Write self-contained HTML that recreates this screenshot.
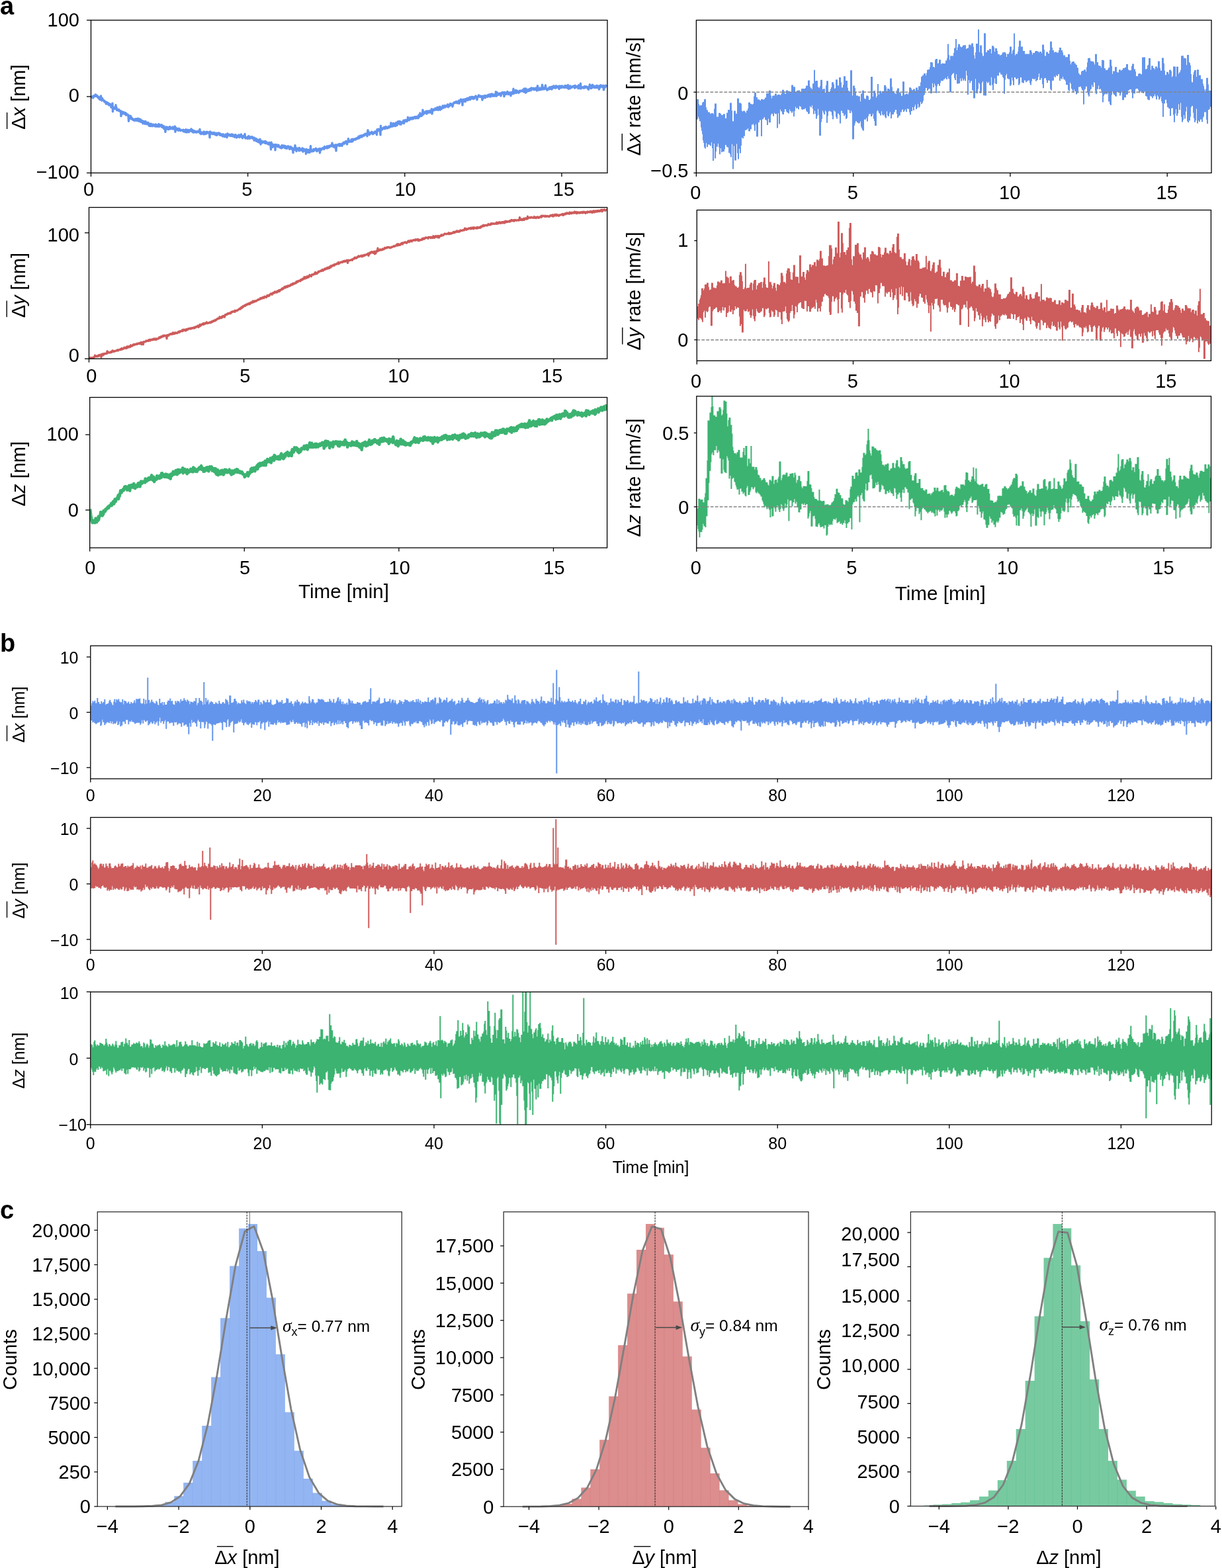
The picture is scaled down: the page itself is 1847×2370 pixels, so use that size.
<!DOCTYPE html><html><head><meta charset="utf-8"><title>Figure</title><style>html,body{margin:0;padding:0;background:#fff;}svg{display:block;}</style></head><body><svg xmlns="http://www.w3.org/2000/svg" width="1847" height="2370" viewBox="0 0 1847 2370" font-family="'Liberation Sans', Arial, Helvetica, sans-serif"><defs><clipPath id="c0"><rect x="137.5" y="30.5" width="780.5" height="230.9"/></clipPath><clipPath id="c1"><rect x="134.5" y="313.5" width="783.2" height="228.8"/></clipPath><clipPath id="c2"><rect x="135.7" y="600.6" width="781.9" height="227.4"/></clipPath><clipPath id="c3"><rect x="1052.4" y="30.5" width="778.6" height="230.9"/></clipPath><clipPath id="c4"><rect x="1053.3" y="317.5" width="777.1" height="227.8"/></clipPath><clipPath id="c5"><rect x="1052.8" y="598.9" width="777.7" height="229.3"/></clipPath><clipPath id="c6"><rect x="136.8" y="976.1" width="1694.4" height="201.0"/></clipPath><clipPath id="c7"><rect x="136.8" y="1235.5" width="1694.4" height="200.9"/></clipPath><clipPath id="c8"><rect x="136.8" y="1499.3" width="1694.4" height="200.6"/></clipPath></defs><path d="M138 145.1l0.5 1 0.5 1 0.5-0.8 0.5-0.8 0.5 2.6 0.5-1.9 0.5-1.3 0.5 1.3 0.5-0.4 0.5-1.5 0.5 1.1 0.5-0.2 0.5-2.2 0.5 2.3 0.5 0.1 0.5 0.1 0.5-1.2 0.5 1.9 0.5 0.6 0.5 0.5 0.5-1.2 0.5 2.4 0.5-1.9 0.5 1.4 0.5 2.2 0.5-2.2 0.5 0.5 0.5 2.3 0.5-5.9 0.5 4.7 0.5 1 0.5 1.4 0.5-3.6 0.5 2.1 0.5 0.1 0.5 0.3 0.5 0.6 0.5 0.4 0.5 1.7 0.5-1.1 0.5 1.5 0.5 0.7 0.5-1.1 0.5 1.4 0.5 2.1 0.5-1.3 0.5-0.9 0.5 0.9 0.5-0.7 0.5 1.7 0.5 1 0.5-1.7 0.5 1 0.5 1.9 0.5-1.6 0.5 1.1 0.5-1.1 0.5 0.6 0.5 0.7 0.5 3.6 0.5-2.8 0.5 0.2 0.5 0.3 0.5-3.7 0.5 12.3 0.5-6.6 0.5 2.6 0.5-1.9 0.5 1.8 0.5-1 0.5 0.7 0.5-2.1 0.5 1.9 0.5-5.2 0.5 5.7 0.5-2 0.5 4 0.5-1.3 0.5 0.3 0.5 0.4 0.5 0.3 0.5 1 0.5-1.7 0.5 0.6 0.5 1.8 0.5 0.1 0.5-0.3 0.5 0 0.5 0 0.5 7.9 0.5-4.8 0.5-2.4 0.5 3.4 0.5-0.5 0.5-1.2 0.5 1.8 0.5-2.4 0.5 0 0.5 0.8 0.5 1.4 0.5 0.4 0.5 0 0.5 1 0.5-2.5 0.5 3.4 0.5-2 0.5 1.1 0.5 0.6 0.5-0.7 0.5 0.1 0.5 0.7 0.5 1.5 0.5 7.8 0.5-6.5 0.5-1.5 0.5 0.6 0.5 0.2 0.5 2 0.5-2.6 0.5 4.2 0.5-1.7 0.5 0 0.5 1.7 0.5 1.2 0.5-0.6 0.5 1 0.5-0.9 0.5 1.4 0.5 0.2 0.5-1.5 0.5 2 0.5-1.5 0.5 0.1 0.5-1.1 0.5 0.9 0.5 1.4 0.5-2.4 0.5 2.6 0.5-0.3 0.5 0.1 0.5-2.9 0.5 2.7 0.5 1 0.5-1.5 0.5 1.2 0.5-2.8 0.5 3.8 0.5-1.5 0.5 2 0.5-3.1 0.5 3.2 0.5-1 0.5 1.4 0.5-1.9 0.5 0.5 0.5 3.6 0.5-3.5 0.5 0.3 0.5 0.7 0.5-0.7 0.5 2.8 0.5 0.8 0.5-2.7 0.5-1 0.5 3.6 0.5 0.1 0.5-0.1 0.5 0.6 0.5-2.2 0.5 1 0.5-1.2 0.5 0.1 0.5 3.1 0.5-1.9 0.5 3.8 0.5-2.5 0.5-0.7 0.5 1.9 0.5 1.3 0.5-1.3 0.5-1.9 0.5 2.1 0.5 1.3 0.5-2.1 0.5-0.2 0.5 2.3 0.5-1 0.5-1.4 0.5 0.9 0.5-0.3 0.5 1.3 0.5-0.2 0.5 1.2 0.5-0.5 0.5-2.7 0.5 2.4 0.5 0.6 0.5-0.6 0.5 0.8 0.5-1.9 0.5-0.4 0.5 2.3 0.5-2.3 0.5-1.3 0.5 3.9 0.5-2 0.5 0.6 0.5-1.1 0.5 0.2 0.5 0.4 0.5 1.1 0.5 1 0.5-3 0.5 3.8 0.5-2.1 0.5 0.3 0.5 2.3 0.5-0.8 0.5-1.5 0.5 4.1 0.5-3.1 0.5 1.5 0.5 0 0.5 6.4 0.5-7.1 0.5 1.7 0.5-2 0.5 2.2 0.5-2.2 0.5 0.4 0.5 2.7 0.5-1.9 0.5-0.2 0.5 2.5 0.5-2.2 0.5-1.4 0.5 1.9 0.5-2.2 0.5 2.9 0.5 0.2 0.5-2 0.5 0.1 0.5 1.1 0.5-0.1 0.5-1 0.5 2 0.5-3 0.5 2 0.5 0.2 0.5 0.2 0.5 0.9 0.5-1.8 0.5-2.3 0.5 8.2 0.5-5.1 0.5-0.8 0.5 0.3 0.5 1.9 0.5-1.6 0.5 1.3 0.5 1.3 0.5 0 0.5 0.7 0.5-2.2 0.5-0.9 0.5 2.6 0.5-0.8 0.5 1.1 0.5-1.3 0.5 1.6 0.5-0.4 0.5 0 0.5-0.2 0.5 0 0.5-0.1 0.5 0.1 0.5 1 0.5-1.6 0.5 2.7 0.5-2.1 0.5 1.4 0.5-1.2 0.5-0.1 0.5 2.8 0.5-2.8 0.5-1.1 0.5 0.7 0.5 0.5 0.5 3 0.5-2.3 0.5 0.9 0.5-2.3 0.5 1.6 0.5 0.4 0.5 1.4 0.5-3 0.5 1.5 0.5-0.3 0.5-1.5 0.5 1.2 0.5-0.3 0.5-2.4 0.5 3.6 0.5 0 0.5-1.1 0.5-1 0.5 3.5 0.5-1.4 0.5 1 0.5 0.6 0.5-2.3 0.5 1.7 0.5-1.2 0.5 0.3 0.5 0 0.5 0.2 0.5 1.4 0.5-1.1 0.5-0.2 0.5-0.1 0.5 0.8 0.5-1.4 0.5 0.6 0.5 0.6 0.5-0.5 0.5 0.6 0.5-0.5 0.5-3.5 0.5 6 0.5-1 0.5-0.6 0.5 2.8 0.5-2.2 0.5-0.5 0.5 0.5 0.5 0 0.5 1.4 0.5-1.7 0.5 2.6 0.5-3.5 0.5 2 0.5-2 0.5 3.4 0.5-2.5 0.5 0.4 0.5 1.3 0.5 0.4 0.5-2.8 0.5 0.9 0.5-1.2 0.5 1.9 0.5-0.3 0.5-0.3 0.5-0.4 0.5 0.4 0.5-0.4 0.5 1.6 0.5 6.2 0.5-9 0.5 2.2 0.5-0.3 0.5 1.2 0.5-1.6 0.5 1 0.5-0.9 0.5 2.1 0.5-0.6 0.5-0.2 0.5 0.6 0.5-0.6 0.5-1.5 0.5 2.6 0.5-0.2 0.5-0.5 0.5 1.4 0.5 0.3 0.5-2.8 0.5 0.4 0.5 2.9 0.5-0.1 0.5-2.6 0.5-0.5 0.5 0.8 0.5 0.2 0.5-1.3 0.5 2 0.5-1.5 0.5 0.2 0.5 2.7 0.5-1.8 0.5 0.8 0.5 0.9 0.5 0.4 0.5-1.3 0.5 0.6 0.5-1 0.5 3.2 0.5-1.2 0.5-2 0.5 1.4 0.5 0.9 0.5-0.2 0.5 1.7 0.5-0.5 0.5-2.3 0.5 0.6 0.5-1.4 0.5 1.8 0.5-0.2 0.5 3.1 0.5-3.2 0.5-2.6 0.5 1.7 0.5 0.9 0.5-1.6 0.5 0.4 0.5 0.6 0.5 0.9 0.5-0.6 0.5-0.8 0.5 2 0.5-1.5 0.5 0.1 0.5-1 0.5 0.8 0.5 1.8 0.5-2.6 0.5 2 0.5 1 0.5-1.2 0.5 0.8 0.5-1.5 0.5 3 0.5-0.2 0.5-1 0.5-2.3 0.5 0.9 0.5 2.4 0.5 1 0.5-1.7 0.5 1.1 0.5-2.2 0.5 0.5 0.5 0.2 0.5 0.5 0.5-2.4 0.5 3 0.5 0.5 0.5-3 0.5-0.2 0.5 2 0.5-1.2 0.5-2 0.5 3.9 0.5-0.7 0.5-0.7 0.5 3.1 0.5-2.2 0.5-1 0.5 1.1 0.5-1.2 0.5 0.4 0.5 1.5 0.5-4.9 0.5 4 0.5 2.7 0.5-0.9 0.5 0 0.5-0.3 0.5 0 0.5 1.2 0.5-1.7 0.5 2.2 0.5-3.3 0.5 0.8 0.5-1.3 0.5 1.2 0.5 1.1 0.5 1.3 0.5-2.4 0.5 1 0.5-0.3 0.5-0.3 0.5-0.4 0.5 1.6 0.5-1.9 0.5 2.4 0.5 0 0.5-0.6 0.5-0.3 0.5-0.2 0.5 4.1 0.5-3.7 0.5 3.7 0.5-1 0.5-0.9 0.5-0.8 0.5 2.9 0.5 1 0.5-3 0.5 1 0.5 1.8 0.5-0.6 0.5 2.1 0.5-2.9 0.5 1.5 0.5-2 0.5 4.1 0.5-3.2 0.5-1.7 0.5 2.7 0.5 5 0.5-2.4 0.5-2.5 0.5 0.4 0.5 0.9 0.5 1.3 0.5-1.9 0.5 1.5 0.5-0.5 0.5-0.9 0.5 0.6 0.5 0.1 0.5-1 0.5 2.7 0.5-3 0.5 3.2 0.5 0 0.5-1.1 0.5-0.6 0.5 0.8 0.5 1 0.5 0.5 0.5-0.3 0.5 1 0.5-1.6 0.5 1.1 0.5-1.9 0.5 3 0.5-0.5 0.5-0.6 0.5 2.1 0.5 6.3 0.5-10.6 0.5 3.6 0.5-1.6 0.5 3.2 0.5 1.9 0.5-3.5 0.5 0.8 0.5-0.3 0.5 0.8 0.5 0.4 0.5 0.8 0.5-2.7 0.5 8.3 0.5-8.1 0.5 1.5 0.5 1.1 0.5-0.5 0.5-1.9 0.5 0.4 0.5 0.3 0.5 0.6 0.5 1.6 0.5-2.8 0.5 2.3 0.5 0.3 0.5 0 0.5 0.1 0.5 1.4 0.5-1.2 0.5 0.6 0.5-0.2 0.5 1.5 0.5-4.3 0.5 3.9 0.5-1.8 0.5 0.1 0.5-0.8 0.5-1 0.5 1.8 0.5-0.4 0.5 1.5 0.5-2.4 0.5 3.5 0.5-1.3 0.5-0.7 0.5-0.5 0.5-0.1 0.5 3.1 0.5-2.8 0.5 0.7 0.5-0.1 0.5-1.4 0.5 1.5 0.5-0.6 0.5 1.4 0.5 2.2 0.5-1.3 0.5-0.9 0.5-1.4 0.5 0.4 0.5-0.1 0.5 3.1 0.5-1.7 0.5 1.2 0.5-0.7 0.5 1.1 0.5 5.8 0.5-6.6 0.5 0.5 0.5-0.5 0.5 2.1 0.5-2.2 0.5-4.6 0.5 4.3 0.5-0.1 0.5 2.3 0.5 2.5 0.5-4.3 0.5 2.4 0.5-0.9 0.5-1.6 0.5 1 0.5 0.1 0.5-0.5 0.5 3.2 0.5-4.6 0.5 2.8 0.5 0 0.5-1 0.5 1 0.5 0.9 0.5-0.8 0.5 0.4 0.5 0.4 0.5-3.2 0.5 4.3 0.5 1.1 0.5-1.5 0.5 0.1 0.5-2.7 0.5 1.6 0.5-0.7 0.5 0.4 0.5 2 0.5-2 0.5 6 0.5-7.1 0.5 2.2 0.5 0.4 0.5-0.9 0.5 0 0.5 3.2 0.5-3.8 0.5 0.2 0.5 0.3 0.5 2.4 0.5 1 0.5-2.2 0.5-1.4 0.5-6.1 0.5 8 0.5-2.5 0.5 2.7 0.5-0.1 0.5-1.7 0.5 0.5 0.5 0.1 0.5 0.9 0.5-3.2 0.5 2.6 0.5-1.9 0.5-0.5 0.5 1 0.5-0.5 0.5-0.9 0.5-0.8 0.5 0.8 0.5 2.9 0.5 0.6 0.5-1.6 0.5 0.7 0.5-2.1 0.5 0.5 0.5 0.4 0.5-1.7 0.5 0.1 0.5 1.2 0.5 4.9 0.5-6.5 0.5 1.6 0.5-0.9 0.5 1.4 0.5-1.5 0.5-0.5 0.5 0.3 0.5-0.5 0.5-0.9 0.5 0.2 0.5 1.2 0.5-0.2 0.5 0.6 0.5-3.8 0.5 1.4 0.5-0.2 0.5 0.5 0.5-0.9 0.5-0.2 0.5 1.5 0.5-0.9 0.5-1.8 0.5 2.9 0.5-0.6 0.5-2.1 0.5 1.6 0.5-2.1 0.5 2.1 0.5-1.8 0.5-0.8 0.5 0.4 0.5-0.5 0.5 1 0.5-0.1 0.5-0.2 0.5-0.8 0.5-3.7 0.5 4.5 0.5-2.4 0.5 2.5 0.5 1 0.5-1.1 0.5-0.8 0.5 0.1 0.5-0.1 0.5 3.3 0.5-4 0.5-0.6 0.5 9.3 0.5-8.5 0.5 1.1 0.5-1.6 0.5 0.3 0.5-0.4 0.5 0.6 0.5 0.4 0.5-0.8 0.5-1.2 0.5-0.2 0.5 2.8 0.5-2.4 0.5-0.2 0.5 2.1 0.5-0.6 0.5-0.8 0.5-1.2 0.5 3.1 0.5-2.5 0.5 0.1 0.5-1 0.5-1.7 0.5 0 0.5 1.9 0.5-0.2 0.5-1 0.5-1.4 0.5-0.5 0.5 1 0.5-1.6 0.5 2.6 0.5 0.1 0.5 1.8 0.5-2.6 0.5-2 0.5-0.5 0.5-3.3 0.5 3.2 0.5 0.3 0.5 1.2 0.5-0.6 0.5-0.2 0.5-0.6 0.5 0.4 0.5 0.8 0.5-3.2 0.5 0.6 0.5-1.2 0.5 3.5 0.5-0.6 0.5-0.7 0.5-2.5 0.5 1.4 0.5-0.6 0.5 0.2 0.5-0.6 0.5 0.6 0.5-1.3 0.5 1.2 0.5-0.9 0.5-0.9 0.5-0.1 0.5-0.6 0.5 1.3 0.5-1.5 0.5 0.5 0.5-1.1 0.5-1.4 0.5 2.7 0.5-2.6 0.5 2 0.5-0.5 0.5-2.7 0.5 0.7 0.5 0.3 0.5-0.6 0.5-0.7 0.5 2.1 0.5-1.4 0.5 0.4 0.5-1.3 0.5 0.7 0.5-1.6 0.5 0.6 0.5 0.5 0.5-0.8 0.5-0.8 0.5-1 0.5 1.3 0.5 0.1 0.5-0.9 0.5-0.7 0.5 1.4 0.5 2.3 0.5-3.5 0.5-5.6 0.5 6.2 0.5-3.6 0.5 3.1 0.5-1.1 0.5 2.4 0.5-2.1 0.5-0.8 0.5 0.5 0.5 0.4 0.5-1.1 0.5 0.4 0.5-1.7 0.5 1.2 0.5 1 0.5 1.2 0.5-1.8 0.5-0.7 0.5 0.9 0.5-0.4 0.5 0.6 0.5-0.9 0.5-1.6 0.5 0.3 0.5-0.2 0.5 0 0.5-0.2 0.5 5 0.5-8.1 0.5 1.6 0.5-1.8 0.5 2.3 0.5-0.3 0.5-2.2 0.5 2.6 0.5 0 0.5-1.2 0.5 1.6 0.5 5.7 0.5-13.8 0.5 6.7 0.5-1 0.5-0.2 0.5 0.4 0.5-2.1 0.5 0 0.5-0.4 0.5 0 0.5 0.6 0.5-1.7 0.5 0.4 0.5 1.9 0.5-0.9 0.5 0.4 0.5-2.8 0.5 1.2 0.5 0.1 0.5 0.5 0.5-0.9 0.5 1.6 0.5-1.4 0.5-0.1 0.5-0.3 0.5 0.7 0.5-1.7 0.5 1.7 0.5-1.1 0.5-0.6 0.5-0.3 0.5 0.4 0.5-5.6 0.5 5.7 0.5-0.9 0.5 0.4 0.5-1.1 0.5 1.2 0.5-1.8 0.5-2.6 0.5 3.9 0.5-1.6 0.5-1.7 0.5 1 0.5-1.1 0.5 3.5 0.5-2.1 0.5-2.7 0.5 2.4 0.5-1.3 0.5 2.6 0.5-3.7 0.5-1.6 0.5 2.6 0.5-0.7 0.5-0.2 0.5-2.3 0.5 2.9 0.5 1.4 0.5-4.4 0.5 3.5 0.5-2.2 0.5 3.4 0.5-2.4 0.5-0.9 0.5 1.4 0.5-0.8 0.5-1.4 0.5 1.4 0.5-1.6 0.5-1.7 0.5 4.5 0.5-3.1 0.5-0.5 0.5 0.9 0.5-2.4 0.5 0 0.5 0.8 0.5-0.3 0.5 0.5 0.5 1 0.5-2.2 0.5 0.9 0.5-5 0.5 2.6 0.5 1.3 0.5-1.6 0.5 2.1 0.5-0.9 0.5-0.8 0.5-1.8 0.5 1.5 0.5-1.2 0.5 1.6 0.5-1.2 0.5-0.9 0.5 1.9 0.5-0.4 0.5-1.7 0.5 2 0.5-1.9 0.5-0.2 0.5 0.4 0.5-1.3 0.5 0.2 0.5 0.2 0.5 1.8 0.5-0.1 0.5-2.3 0.5 2 0.5-2.1 0.5 0.3 0.5 0.5 0.5-0.9 0.5 2.4 0.5-2.8 0.5-1.9 0.5 2.8 0.5-2.3 0.5-0.1 0.5-3.5 0.5 4.6 0.5-0.5 0.5-0.4 0.5-0.1 0.5 0.6 0.5-2.4 0.5 0.8 0.5-7.4 0.5 5.3 0.5 1.4 0.5-1.1 0.5-2.3 0.5 1.8 0.5-0.8 0.5-0.9 0.5 1.3 0.5-1.1 0.5-1.5 0.5 0.4 0.5 3.4 0.5-4 0.5 2 0.5 0.4 0.5-0.1 0.5-2.3 0.5 1 0.5 0.4 0.5 0.7 0.5-1.9 0.5-0.8 0.5 2.4 0.5-0.1 0.5-1 0.5-1.4 0.5-2.5 0.5 7.2 0.5-3.6 0.5-2.7 0.5 1.4 0.5-0.6 0.5-1.3 0.5 1.4 0.5-0.4 0.5-0.7 0.5 0.7 0.5-2.4 0.5 1.4 0.5 0.4 0.5-0.4 0.5 0.7 0.5-2.9 0.5-0.6 0.5 1.9 0.5 0.1 0.5 1.8 0.5-1.9 0.5-2 0.5 1.9 0.5-2.2 0.5-0.8 0.5 4.8 0.5-2.9 0.5 0.3 0.5-0.3 0.5 1.3 0.5-2 0.5 0.9 0.5-2.9 0.5-0.6 0.5 3.2 0.5-0.2 0.5-1.3 0.5-0.6 0.5-0.2 0.5-1.2 0.5 2.5 0.5-1.3 0.5-0.3 0.5-0.3 0.5 0.7 0.5-0.7 0.5 0.2 0.5-2.4 0.5 2 0.5 1.9 0.5-3.3 0.5 0.4 0.5 1.1 0.5 0 0.5-0.5 0.5-2.8 0.5 2.4 0.5-2.2 0.5 0.3 0.5 1.5 0.5-1.3 0.5 1.1 0.5 2.6 0.5-3.1 0.5-0.3 0.5-2.1 0.5 0 0.5-0.7 0.5 0.5 0.5-0.9 0.5 0.4 0.5 0.4 0.5-1.1 0.5-0.7 0.5 0 0.5 2 0.5-0.6 0.5 1 0.5-0.1 0.5-1.9 0.5 1 0.5-2.8 0.5 4.3 0.5-1.5 0.5-1.9 0.5-1.4 0.5 1.6 0.5-2.9 0.5 1.1 0.5 1.7 0.5-1 0.5-0.8 0.5 7.7 0.5-8.6 0.5 1.6 0.5-1 0.5-0.5 0.5 1.5 0.5-1.8 0.5 3.4 0.5-3 0.5 3 0.5-3.8 0.5 1.9 0.5-2.3 0.5-0.4 0.5 1.6 0.5 0.5 0.5-2.6 0.5 2.7 0.5-2.6 0.5 1 0.5 0.1 0.5 0.2 0.5-3 0.5 3.9 0.5-1.4 0.5-1.3 0.5-0.8 0.5-0.9 0.5 0.2 0.5 2.2 0.5-1.2 0.5-1.1 0.5 0.6 0.5 2.4 0.5-2.3 0.5-0.5 0.5 2.2 0.5-1.1 0.5-0.6 0.5-0.9 0.5-1.2 0.5 0.4 0.5 0.7 0.5 0.3 0.5 4.2 0.5-3.4 0.5-0.5 0.5 0 0.5-1.5 0.5-1.4 0.5 1.9 0.5-0.5 0.5 0.4 0.5 0.5 0.5-1.2 0.5 0.2 0.5 1.2 0.5 0.3 0.5-1 0.5 1.4 0.5 4 0.5-6 0.5 1.2 0.5 2.1 0.5-3.2 0.5 2.1 0.5 0.1 0.5 0 0.5-2.9 0.5 3.3 0.5-2.4 0.5-0.5 0.5-0.1 0.5 0.9 0.5-0.8 0.5-0.3 0.5 1.7 0.5-2.5 0.5-0.4 0.5 2.1 0.5-0.2 0.5 0.4 0.5-2.7 0.5 2.5 0.5-0.8 0.5 1.4 0.5-3.6 0.5 1.7 0.5-0.6 0.5-1.6 0.5 1 0.5 2.2 0.5-1.9 0.5-0.3 0.5 1.9 0.5 0.1 0.5 0 0.5-2.1 0.5 0.8 0.5 1.3 0.5-2.2 0.5-4 0.5 5.7 0.5 0.7 0.5-3.4 0.5-1.8 0.5 1.3 0.5 0.4 0.5 0.9 0.5 0.8 0.5-1.1 0.5-0.7 0.5 0.9 0.5-1.5 0.5 1 0.5-0.8 0.5 3.8 0.5-2.3 0.5-2.1 0.5-0.3 0.5 0.6 0.5-1.5 0.5 1 0.5 0 0.5 1.9 0.5-1.6 0.5 5.2 0.5-6.4 0.5 0.2 0.5 1.3 0.5-0.2 0.5 1.6 0.5-2.1 0.5 2 0.5-1 0.5-0.3 0.5-2.5 0.5 0.9 0.5 2.4 0.5 0.8 0.5-1.5 0.5 0.7 0.5-1.5 0.5 0 0.5-0.5 0.5 1.9 0.5 3.1 0.5-4.7 0.5-0.2 0.5 0.9 0.5-0.4 0.5-1.4 0.5 2.9 0.5-1.8 0.5-5.8 0.5 7 0.5-0.6 0.5-1.4 0.5 0.7 0.5-2 0.5 0.4 0.5-2 0.5 4.1 0.5-3.8 0.5 3 0.5-1.9 0.5-0.3 0.5 0.8 0.5 0.5 0.5 0.3 0.5 1.3 0.5-1.8 0.5 0.5 0.5-1.9 0.5 1.5 0.5-0.8 0.5-0.8 0.5 0.3 0.5 0 0.5 0.2 0.5 0.2 0.5-1.1 0.5-0.4 0.5 1.8 0.5-3 0.5 1.3 0.5 2.6 0.5-5.1 0.5 2.4 0.5 1.7 0.5-2.9 0.5 5.1 0.5-6.2 0.5 4.8 0.5 0.1 0.5-0.8 0.5-1.4 0.5 0.6 0.5-1.6 0.5 1.9 0.5-2.5 0.5 0.9 0.5 1.3 0.5-2.7 0.5 0.7 0.5 0.4 0.5-2 0.5 2.9 0.5-1.1 0.5-2.5 0.5 1.7 0.5-1 0.5 0 0.5 0.8 0.5-0.9 0.5 2 0.5-2.1 0.5 2.1 0.5-1.2 0.5 1.1 0.5-1.7 0.5 0.1 0.5-0.8 0.5 2.1 0.5 0.4 0.5 1.4 0.5-1 0.5-6.4 0.5 4.5 0.5 0.7 0.5-0.5 0.5 1.7 0.5-0.7 0.5-2.2 0.5 0.1 0.5 2.4 0.5-1.3 0.5-0.7 0.5 1.7 0.5-1.9 0.5 0.1 0.5-5.4 0.5 3.4 0.5 3.4 0.5-2.4 0.5 0.7 0.5-0.1 0.5 1.7 0.5-0.9 0.5 0.1 0.5-2 0.5-3.1 0.5 3.4 0.5 2.1 0.5 0.1 0.5-0.5 0.5 2.4 0.5-1.8 0.5 0 0.5-0.6 0.5-0.5 0.5 1.3 0.5 0.1 0.5-3 0.5 2.7 0.5-0.8 0.5 0.5 0.5-0.7 0.5-2.2 0.5 0.1 0.5 3.5 0.5-2 0.5-2 0.5 2.1 0.5-0.9 0.5-1.8 0.5-0.6 0.5 0.8 0.5 2.2 0.5-0.4 0.5-0.3 0.5 0.6 0.5 0.4 0.5-3.3 0.5 2.1 0.5-0.7 0.5-0.5 0.5 0.8 0.5 0.5 0.5-0.2 0.5-1.4 0.5 1.1 0.5 3 0.5-3.7 0.5-0.8 0.5 2.3 0.5 0.3 0.5-0.3 0.5-2 0.5 2.4 0.5-2.3 0.5-0.5 0.5 0.6 0.5 0.6 0.5 0.9 0.5-0.2 0.5-0.8 0.5 1.2 0.5-1 0.5 1 0.5-2.7 0.5-0.1 0.5 2.9 0.5-2.6 0.5 1.4 0.5 0.3 0.5-0.4 0.5 0 0.5 2.3 0.5-4.8 0.5 4.1 0.5 1.7 0.5-2.7 0.5-0.1 0.5 0.9 0.5 1.3 0.5-3.7 0.5 1.6 0.5-0.4 0.5 0.9 0.5-0.5 0.5 0.6 0.5-1.3 0.5 0.5 0.5-0.9 0.5 0 0.5 0.5 0.5 0 0.5-1.3 0.5 3.3 0.5-2.1 0.5-1.5 0.5 3 0.5-2.2 0.5 1.5 0.5-0.6 0.5 0.4 0.5-0.1 0.5-0.9 0.5 0.8 0.5 2.4 0.5-5 0.5 2.7 0.5 0.4 0.5-1.8 0.5-0.4 0.5 4.2 0.5-7.7 0.5 7.6 0.5-1.9 0.5-0.6 0.5 0.5 0.5 0.3 0.5 0.7 0.5-0.8 0.5-0.3 0.5 0.1 0.5 1.5 0.5-0.5 0.5-2.1 0.5 0.5 0.5 1.3 0.5-1.1 0.5 0.3 0.5-0.8 0.5 0.8 0.5 0.8 0.5 0.6 0.5-1.3 0.5 2.4 0.5-2.6 0.5 3.8 0.5-2.8 0.5-0.6 0.5-1.3 0.5-2.8 0.5 3.1 0.5 0.4 0.5 2.1 0.5-3.9 0.5 3.9 0.5-2.5 0.5 1.2 0.5-4 0.5 3.3 0.5-0.6 0.5 1.3 0.5-0.7 0.5-1.5 0.5 2.5 0.5-0.3 0.5-0.2 0.5 0.5 0.5 0.1 0.5-1.4 0.5-1.7 0.5-0.1 0.5 3.3 0.5-0.9 0.5-0.8 0.5-0.6 0.5 0.4 0.5-0.1 0.5 4.4 0.5-5.4 0.5 3.4 0.5-2.3 0.5-1.1 0.5-0.8 0.5 0.7 0.5 1.7 0.5 0.1 0.5-1.1 0.5 0.4 0.5-0.4 0.5-0.9 0.5 3 0.5 3.6 0.5-2.1 0.5-3.9 0.5 0.8 0.5 1.3 0.5-1.4 0.5-1.4 0.5 0.5 0.5 1.2 0.5 0.2" fill="none" stroke="#6495ed" stroke-width="3.4" stroke-linejoin="round" clip-path="url(#c0)" />
<path d="M135 541.5l0.5-0.1 0.5-0.5 0.5 0.5 0.5-0.6 0.5-0.2 0.5 1.4 0.5-0.7 0.5 0.1 0.5-0.8 0.5 0.4 0.5-0.3 0.5 0.1 0.5 0.5 0.5-1.7 0.5 0.1 0.5-0.4 0.5-2.2 0.5 1.1 0.5 0.6 0.5 0.2 0.5-0.9 0.5 0.9 0.5 0 0.5-1.2 0.5 0.9 0.5 0.1 0.5-0.9 0.5-1.1 0.5 1.3 0.5-1.1 0.5-0.3 0.5 0.1 0.5-0.6 0.5 0.8 0.5-0.4 0.5 3.5 0.5-3.9 0.5-1 0.5 0.2 0.5 0.5 0.5-0.9 0.5 1.9 0.5-2.1 0.5-0.3 0.5 0.9 0.5-0.3 0.5-0.6 0.5-0.2 0.5 0.3 0.5 0.1 0.5-0.1 0.5-0.8 0.5 0.3 0.5-3.2 0.5 3.1 0.5-2.4 0.5 1.2 0.5-0.1 0.5 0.1 0.5 0.1 0.5 0.3 0.5-0.4 0.5-0.6 0.5-0.1 0.5 0.8 0.5-1.6 0.5 0.4 0.5 0.6 0.5-0.8 0.5-1.6 0.5 1.3 0.5-0.5 0.5 0.1 0.5 0.6 0.5-0.5 0.5-0.4 0.5 0.6 0.5-0.4 0.5-0.3 0.5 0 0.5-0.1 0.5-0.5 0.5-0.2 0.5 0.1 0.5-0.7 0.5-0.3 0.5 1.4 0.5-1.1 0.5 0 0.5-0.2 0.5-0.1 0.5-0.2 0.5-0.1 0.5-0.7 0.5 0.9 0.5-1.1 0.5 0.9 0.5-1.9 0.5 0.3 0.5 1.1 0.5-0.8 0.5-0.5 0.5 0.5 0.5-1 0.5 0.5 0.5-1.5 0.5 0.9 0.5-0.2 0.5 0.5 0.5 0.1 0.5-1.2 0.5 1.3 0.5-1.5 0.5-1.1 0.5-0.3 0.5 2.1 0.5-1.1 0.5-0.5 0.5-0.3 0.5-0.3 0.5 1.2 0.5-1 0.5 0.9 0.5-1.4 0.5-1.5 0.5 1.7 0.5-1 0.5-0.1 0.5 0.8 0.5-1.3 0.5 0.6 0.5-0.9 0.5-0.7 0.5 0.5 0.5-0.8 0.5 0.9 0.5-0.4 0.5-0.6 0.5 0.2 0.5-0.1 0.5-0.6 0.5 0.6 0.5-0.7 0.5 0.5 0.5-1.1 0.5 0.6 0.5 0.1 0.5-0.8 0.5 0.1 0.5-0.2 0.5 0.6 0.5-1 0.5 0.5 0.5 0.4 0.5-0.8 0.5-1.4 0.5 0.8 0.5 2.5 0.5-3.1 0.5 0.7 0.5-0.5 0.5-0.3 0.5 3.2 0.5-4 0.5 0 0.5 0.1 0.5 0.1 0.5-0.2 0.5-0.5 0.5 0.1 0.5 0.1 0.5-1.4 0.5 0.4 0.5-0.2 0.5 0.3 0.5-0.2 0.5-0.2 0.5-0.5 0.5 0.8 0.5-0.4 0.5-1.4 0.5 0.8 0.5-0.8 0.5 1.5 0.5-1.5 0.5-0.1 0.5 0.1 0.5-0.3 0.5-0.1 0.5 0.8 0.5-0.9 0.5 0.3 0.5 0.1 0.5-1.3 0.5 1.5 0.5-0.6 0.5 0.2 0.5-1.2 0.5 1 0.5-0.3 0.5-0.7 0.5 1.6 0.5-1.1 0.5-0.6 0.5 0.1 0.5 0.2 0.5 0 0.5-0.6 0.5 0.2 0.5-0.1 0.5-1.8 0.5 0.2 0.5-0.5 0.5 0.3 0.5 0.6 0.5-0.7 0.5-1.2 0.5 0.3 0.5 0.6 0.5-1.2 0.5 0.1 0.5 0.1 0.5-1.4 0.5 1.4 0.5-0.4 0.5 0.1 0.5-1.1 0.5 0.1 0.5 0 0.5 0.5 0.5-0.2 0.5-0.1 0.5 0.9 0.5 3.5 0.5-5.3 0.5 0 0.5 1.3 0.5-1.4 0.5 0.8 0.5-0.1 0.5-1.4 0.5-0.1 0.5 0 0.5-0.7 0.5-0.3 0.5 0.2 0.5 0.6 0.5-0.9 0.5 0 0.5-0.3 0.5-0.6 0.5 1.6 0.5-2.4 0.5 1 0.5 0.6 0.5-1.3 0.5 1.2 0.5 0.2 0.5-1.3 0.5 0.5 0.5-0.9 0.5 0.8 0.5-0.4 0.5-0.1 0.5 0.5 0.5-0.7 0.5 0.4 0.5-0.6 0.5-1.2 0.5 0.6 0.5 0 0.5-1.3 0.5 1.5 0.5-0.9 0.5-0.1 0.5-0.9 0.5 0.4 0.5-0.1 0.5-0.5 0.5 0.1 0.5-1.5 0.5 1.9 0.5-1.7 0.5-0.8 0.5 0.6 0.5-0.1 0.5 0.7 0.5-1 0.5 0.6 0.5-0.9 0.5 1.8 0.5-1.1 0.5 0.7 0.5-1.9 0.5 0.9 0.5-1 0.5 0.8 0.5-0.1 0.5-1.4 0.5 0.2 0.5-0.2 0.5-0.3 0.5 0.4 0.5-0.3 0.5-0.4 0.5 0.8 0.5 0.1 0.5-1.3 0.5 0.3 0.5 0.1 0.5-0.3 0.5-0.5 0.5 0.7 0.5-0.2 0.5-0.2 0.5-0.7 0.5 1.1 0.5-0.3 0.5-1.4 0.5 0 0.5 0.7 0.5-1.3 0.5 0.6 0.5-0.3 0.5-0.6 0.5 0.2 0.5-1 0.5 0.5 0.5-1 0.5 2.4 0.5-0.7 0.5-0.3 0.5-0.8 0.5-2.3 0.5 2.3 0.5-0.3 0.5-0.4 0.5-1.4 0.5 0.6 0.5-0.9 0.5-0.6 0.5-0.2 0.5 0.6 0.5 0.2 0.5-1.7 0.5 1.7 0.5-0.4 0.5-1.3 0.5-0.2 0.5 0.1 0.5 0.6 0.5-1 0.5-0.5 0.5 0.8 0.5-1.5 0.5 1.2 0.5 0.6 0.5-0.6 0.5 0.2 0.5-0.2 0.5 0 0.5-0.4 0.5-0.7 0.5 0.2 0.5-0.1 0.5 0.7 0.5 0 0.5-0.9 0.5-0.9 0.5-0.3 0.5 0.2 0.5 0.7 0.5-0.9 0.5-0.4 0.5-0.7 0.5 0.7 0.5-0.6 0.5-0.4 0.5-0.2 0.5 0.7 0.5-1.4 0.5 0.8 0.5-0.4 0.5-1 0.5 0.2 0.5-0.8 0.5-0.7 0.5 0.1 0.5-0.5 0.5 0.6 0.5-0.4 0.5 0.1 0.5 0 0.5-2.6 0.5 1.9 0.5-1.4 0.5 1 0.5-0.8 0.5 0.4 0.5 0.5 0.5-2.1 0.5 0.9 0.5-0.4 0.5-1.3 0.5 1.2 0.5-0.6 0.5-0.6 0.5-0.4 0.5 2.1 0.5-2.5 0.5-1.2 0.5 0.2 0.5 0.1 0.5-0.4 0.5 0 0.5-0.9 0.5 0.7 0.5-0.9 0.5-0.8 0.5 0.1 0.5 0 0.5 0.5 0.5-0.5 0.5-0.7 0.5 0 0.5-0.1 0.5 0.9 0.5-1.9 0.5 0.5 0.5-0.1 0.5-1.2 0.5 0.4 0.5-0.2 0.5-0.6 0.5 0.5 0.5 0 0.5-0.1 0.5-0.9 0.5 0 0.5 1.2 0.5-2.2 0.5 0.6 0.5 0.3 0.5-0.6 0.5 0.1 0.5-0.5 0.5 0.2 0.5 0.1 0.5-1.1 0.5 0 0.5-0.4 0.5-0.6 0.5 0 0.5-1 0.5 0.7 0.5 0.3 0.5-0.4 0.5-0.6 0.5-1.7 0.5 1.1 0.5-1.6 0.5 0.1 0.5 0.8 0.5-2.1 0.5 0.9 0.5-0.6 0.5-0.6 0.5-0.7 0.5 0.6 0.5-0.8 0.5 0.7 0.5-0.1 0.5-1.8 0.5 0.3 0.5-0.1 0.5-0.7 0.5-0.2 0.5 0.6 0.5-0.4 0.5-1.1 0.5 0.4 0.5 0.4 0.5-1.2 0.5-0.1 0.5 1.3 0.5-0.4 0.5-2 0.5-0.1 0.5 0.8 0.5-1.2 0.5 0.4 0.5-0.4 0.5 0.5 0.5-2.1 0.5 0 0.5 0.4 0.5 1.1 0.5-0.8 0.5-1.1 0.5 1.1 0.5-0.1 0.5-0.8 0.5-0.3 0.5 0.3 0.5 0.2 0.5-0.8 0.5-0.1 0.5-0.6 0.5-0.4 0.5-0.6 0.5 0.5 0.5-0.6 0.5-0.2 0.5 0.4 0.5-0.4 0.5-0.1 0.5-1.7 0.5 1.1 0.5-0.9 0.5-0.3 0.5-0.3 0.5 1 0.5-0.4 0.5-1.1 0.5-0.4 0.5 0.6 0.5-0.5 0.5 1.1 0.5-2.1 0.5-0.3 0.5 0.7 0.5 0 0.5-0.1 0.5 0.2 0.5 0.6 0.5-1.7 0.5-0.3 0.5-1 0.5 1 0.5 0.2 0.5-0.9 0.5 0.6 0.5-1 0.5 0.7 0.5-1 0.5-1.1 0.5 0 0.5-0.8 0.5-0.4 0.5 1 0.5 0.1 0.5 0.3 0.5-1.4 0.5-0.4 0.5-0.8 0.5 1 0.5-0.6 0.5-0.8 0.5 0.6 0.5-0.3 0.5-1.7 0.5 1.4 0.5-0.5 0.5-0.5 0.5-0.2 0.5 1.1 0.5-0.2 0.5-0.1 0.5-2 0.5 0.1 0.5 0.8 0.5-1.5 0.5 0.1 0.5-0.9 0.5 1.9 0.5-0.7 0.5-0.7 0.5-0.5 0.5-0.6 0.5-0.4 0.5 0.3 0.5-1.2 0.5 0.9 0.5-1.4 0.5-0.5 0.5 1 0.5-1.1 0.5 0.2 0.5-0.8 0.5-1.3 0.5 1.4 0.5-1.3 0.5 1.3 0.5-1.7 0.5-0.4 0.5 1.2 0.5-0.1 0.5-0.4 0.5-1 0.5 1 0.5-1.6 0.5 0.4 0.5-0.4 0.5 0 0.5 0.5 0.5-1.1 0.5 0.5 0.5-0.1 0.5-1.7 0.5 0.1 0.5 0.3 0.5-0.4 0.5 0.3 0.5-1.6 0.5 1.4 0.5-0.3 0.5-0.8 0.5-0.9 0.5 0.5 0.5-0.6 0.5 0.5 0.5-0.7 0.5 0.2 0.5-0.9 0.5 0.8 0.5-2.4 0.5 0.5 0.5 0.6 0.5-1.5 0.5 1.1 0.5-1.4 0.5 0.5 0.5-0.9 0.5 0.1 0.5 0 0.5-0.4 0.5-0.4 0.5 1.2 0.5-1.5 0.5-0.9 0.5 0.8 0.5-0.3 0.5 0 0.5 0 0.5-1.9 0.5 0.9 0.5-0.1 0.5-0.9 0.5-0.1 0.5-2.2 0.5 1.2 0.5 1.3 0.5-2.3 0.5 0.5 0.5 0.4 0.5 0 0.5 0.4 0.5-2.3 0.5 0.9 0.5 0.3 0.5-1.5 0.5 0.5 0.5 0.9 0.5-0.6 0.5-0.7 0.5-2.1 0.5 1.2 0.5 0.1 0.5-0.6 0.5-0.1 0.5 1.6 0.5-2.1 0.5-0.7 0.5 0.6 0.5-0.5 0.5-0.2 0.5-0.1 0.5 0.4 0.5-0.5 0.5-1.1 0.5 0.5 0.5 0.1 0.5-2.7 0.5 2.7 0.5-0.5 0.5-1.3 0.5 0.5 0.5 0.7 0.5-0.5 0.5-1.3 0.5 0.3 0.5-1.2 0.5-0.8 0.5 0.9 0.5-0.4 0.5-0.1 0.5-0.5 0.5-0.1 0.5-0.7 0.5 0.4 0.5 0.1 0.5-0.7 0.5 0.3 0.5-1.7 0.5 0.4 0.5 1.2 0.5 0 0.5-1.1 0.5-0.4 0.5-0.9 0.5 0.8 0.5 0 0.5-1.6 0.5 1 0.5-0.3 0.5-0.2 0.5-1.2 0.5 0.8 0.5-1.4 0.5 1.5 0.5-1 0.5-1 0.5 1.3 0.5-0.4 0.5-1.3 0.5 1.5 0.5-2.1 0.5 0.6 0.5 0.3 0.5-2.3 0.5 1.7 0.5-0.9 0.5-0.2 0.5-0.9 0.5 0.6 0.5-1.1 0.5-0.2 0.5 0.1 0.5-0.8 0.5 1.4 0.5-2 0.5 0 0.5 0.1 0.5-0.1 0.5 0.3 0.5-0.2 0.5-0.9 0.5-0.3 0.5 0.1 0.5 0.3 0.5-0.3 0.5-0.9 0.5-1.1 0.5 2.4 0.5-0.8 0.5-0.6 0.5 0 0.5-0.7 0.5-0.4 0.5 0.3 0.5 0 0.5-0.4 0.5-0.6 0.5 0.6 0.5 0.3 0.5-0.8 0.5 0.2 0.5-1.4 0.5 0.9 0.5-0.1 0.5-0.7 0.5-0.5 0.5 1.1 0.5-0.9 0.5 0.6 0.5-0.7 0.5 0.5 0.5-0.7 0.5-0.9 0.5 0.8 0.5 3.5 0.5-3.4 0.5-0.8 0.5-0.1 0.5 0.7 0.5 0 0.5-0.3 0.5 0 0.5-0.5 0.5 0.1 0.5-0.1 0.5-0.4 0.5-0.4 0.5-0.1 0.5 1.2 0.5-1.7 0.5-0.3 0.5-0.2 0.5 0 0.5 0 0.5-1 0.5-0.8 0.5 1.2 0.5-1.4 0.5 0.9 0.5-0.3 0.5 0.4 0.5 0 0.5-1 0.5-0.7 0.5-0.6 0.5 0 0.5 0.3 0.5-1.4 0.5 1.1 0.5-0.3 0.5 0.3 0.5-0.6 0.5 0.1 0.5-0.5 0.5 0.1 0.5-0.9 0.5 1 0.5 0.8 0.5-1 0.5 0 0.5-0.9 0.5 1.3 0.5-1.5 0.5 0.8 0.5-0.6 0.5-0.8 0.5 1 0.5-0.9 0.5-0.1 0.5 0 0.5-0.4 0.5-0.4 0.5 0.4 0.5-0.7 0.5 0.1 0.5-0.6 0.5-0.7 0.5 3.5 0.5-3.2 0.5 0.1 0.5 0.6 0.5-1.9 0.5 0.9 0.5-1.6 0.5 0.5 0.5 0.1 0.5-1.2 0.5 0 0.5 1.1 0.5-0.2 0.5-0.3 0.5-0.6 0.5 1.7 0.5-1.5 0.5-0.6 0.5 1.4 0.5 2.2 0.5-3.7 0.5 0.8 0.5 2 0.5-2.6 0.5-0.4 0.5-1 0.5 1 0.5-0.7 0.5-4.1 0.5 3.2 0.5 0.8 0.5-1 0.5 0.1 0.5 0.2 0.5-0.5 0.5-1.2 0.5 1.2 0.5 0 0.5-0.3 0.5 0.3 0.5-0.9 0.5 0 0.5 0.3 0.5-1.3 0.5 1 0.5-0.2 0.5-0.8 0.5 0.4 0.5-0.7 0.5-1.3 0.5 1 0.5-0.6 0.5-0.1 0.5-0.3 0.5 0.6 0.5-0.6 0.5-0.8 0.5 0.7 0.5 0 0.5-0.9 0.5 0.1 0.5 0 0.5-0.1 0.5 0.5 0.5 0.3 0.5 0.5 0.5-0.5 0.5-0.2 0.5 0.1 0.5 0 0.5-1.1 0.5 0.5 0.5-0.3 0.5-0.4 0.5-0.2 0.5-0.2 0.5 0 0.5-0.8 0.5 0.9 0.5-0.5 0.5-0.1 0.5-0.1 0.5 0 0.5-1 0.5 0.1 0.5-1.2 0.5-0.6 0.5 0 0.5 1.9 0.5-2.2 0.5 1.2 0.5 0.5 0.5-1.4 0.5 1.1 0.5 0 0.5-0.7 0.5 0.7 0.5-1.2 0.5-1 0.5 0.5 0.5-0.7 0.5-0.7 0.5-0.1 0.5 2 0.5-1.9 0.5 0.1 0.5-0.4 0.5 0.3 0.5-0.3 0.5-0.3 0.5-0.6 0.5-0.2 0.5 0.3 0.5 0.6 0.5 0.8 0.5-0.7 0.5 0.3 0.5-0.9 0.5-0.5 0.5-0.9 0.5 0.6 0.5-1.5 0.5 0.9 0.5 1 0.5-0.9 0.5 0.3 0.5-1.1 0.5-0.7 0.5 0.4 0.5 0 0.5 0.9 0.5 0.3 0.5-1.7 0.5 0.1 0.5 0.1 0.5-0.2 0.5-0.7 0.5 0.7 0.5 0.1 0.5 0 0.5-1.1 0.5 0.6 0.5-1 0.5 1.5 0.5-1.3 0.5 0.5 0.5-0.2 0.5-0.1 0.5-0.3 0.5-0.5 0.5 2.1 0.5-0.9 0.5 0 0.5 1.1 0.5-1.4 0.5 0.3 0.5-0.3 0.5 0.6 0.5-0.5 0.5-0.2 0.5-0.4 0.5 0.2 0.5 0.4 0.5-2 0.5 1 0.5-0.3 0.5-0.1 0.5-1.1 0.5 1.4 0.5-1.1 0.5 0.2 0.5-0.3 0.5-0.9 0.5 0.6 0.5-1 0.5 0.4 0.5 0.2 0.5 0 0.5-0.1 0.5-0.2 0.5 1.3 0.5-1.1 0.5-1.1 0.5 0.3 0.5 0 0.5 0.2 0.5-0.3 0.5-0.1 0.5 1.4 0.5-1 0.5-0.2 0.5 0.1 0.5 0 0.5 0.9 0.5-0.6 0.5 0.3 0.5-2.6 0.5 2 0.5 0.4 0.5 0.4 0.5-1.3 0.5-1.1 0.5 1.3 0.5-0.9 0.5-0.8 0.5 0.6 0.5 0.9 0.5 0 0.5-0.3 0.5-1.2 0.5 2.1 0.5-2.3 0.5 0.5 0.5 2.2 0.5-1.5 0.5-0.7 0.5 0.2 0.5-0.7 0.5-0.2 0.5-0.1 0.5-1.4 0.5 1.6 0.5-0.3 0.5-1 0.5 0.1 0.5-0.1 0.5 0.6 0.5-0.9 0.5-0.4 0.5-0.6 0.5-0.7 0.5 0.4 0.5 0.2 0.5-0.3 0.5 0.1 0.5 0.3 0.5-0.3 0.5-0.1 0.5 0.2 0.5-0.4 0.5-0.1 0.5 0.3 0.5-1.4 0.5 1.8 0.5-1.6 0.5 1.3 0.5-0.6 0.5 0.6 0.5-0.7 0.5-0.7 0.5 1.1 0.5-0.6 0.5-0.2 0.5-0.2 0.5 0.3 0.5-0.3 0.5-0.6 0.5-1.2 0.5 0.4 0.5 0.2 0.5 0.8 0.5-1 0.5-0.5 0.5 0.7 0.5-0.9 0.5-0.1 0.5 0.1 0.5-1.1 0.5 1.5 0.5-0.3 0.5-0.5 0.5-0.5 0.5 0.8 0.5 0.6 0.5-1.3 0.5-0.3 0.5 0.8 0.5-1.3 0.5-0.5 0.5 0.9 0.5-0.3 0.5 0 0.5-0.3 0.5 0.3 0.5-0.5 0.5-0.4 0.5-0.1 0.5 0.5 0.5 0 0.5-0.2 0.5-0.2 0.5-2.6 0.5 1.3 0.5 0.3 0.5 0.2 0.5-1.2 0.5 1.7 0.5-0.8 0.5-0.6 0.5 0.3 0.5-0.4 0.5-0.4 0.5 0.6 0.5-0.7 0.5-0.6 0.5 0.3 0.5 0.2 0.5-0.7 0.5 1.3 0.5-1.5 0.5 1.6 0.5-0.6 0.5-1.2 0.5 0.6 0.5 0.6 0.5-0.8 0.5-0.7 0.5 0.8 0.5 1.1 0.5-2.1 0.5 1.2 0.5-0.3 0.5-0.1 0.5-0.2 0.5 0 0.5 0.8 0.5-0.3 0.5-1 0.5 1.4 0.5-1.8 0.5 1.1 0.5-0.4 0.5 0.5 0.5-0.6 0.5 0.3 0.5-0.7 0.5 0.4 0.5-0.5 0.5 0.9 0.5-1.9 0.5 1 0.5-0.6 0.5-0.4 0.5-0.7 0.5 0.4 0.5-1.4 0.5-0.1 0.5 1.1 0.5-1.6 0.5 1.7 0.5-1.2 0.5 0.2 0.5-0.2 0.5 0.1 0.5-0.5 0.5-0.1 0.5 0.1 0.5 0.6 0.5 0 0.5 0 0.5-0.7 0.5-0.5 0.5-1 0.5 1.3 0.5 0 0.5-0.9 0.5 0.6 0.5 0.2 0.5-0.9 0.5 0.5 0.5-0.6 0.5-1.3 0.5 0.6 0.5 0 0.5 0.5 0.5-0.8 0.5 0.1 0.5-0.4 0.5 0.5 0.5 0 0.5 0.5 0.5-0.2 0.5-0.5 0.5 0 0.5-0.1 0.5-0.1 0.5 0.8 0.5-2.5 0.5 1.3 0.5 0.2 0.5 0.5 0.5-1.4 0.5 0.7 0.5 0.3 0.5-0.9 0.5-0.9 0.5 0.8 0.5-0.6 0.5 1 0.5-0.9 0.5 1.5 0.5-1 0.5-0.6 0.5 0 0.5-0.4 0.5 0.9 0.5 0.6 0.5-1.2 0.5 0.7 0.5-1.3 0.5 0.7 0.5 1.1 0.5-2.3 0.5 1.5 0.5-0.2 0.5-1.9 0.5 0.2 0.5 0.2 0.5 1.1 0.5-1 0.5 0.1 0.5 0.5 0.5-0.4 0.5-0.1 0.5-0.4 0.5 0.7 0.5-1.2 0.5 1.3 0.5-1.3 0.5-0.4 0.5 0.7 0.5-0.2 0.5-1.5 0.5 1.2 0.5-1 0.5 0.2 0.5 0.9 0.5-1 0.5 0.7 0.5-0.5 0.5 1.3 0.5-1.2 0.5-0.7 0.5 0 0.5 0.1 0.5 0.5 0.5-0.1 0.5 0.5 0.5-0.5 0.5-0.1 0.5 0.2 0.5-0.3 0.5 0.2 0.5 0.2 0.5 0 0.5-0.9 0.5-0.7 0.5-3 0.5 4.1 0.5-1.8 0.5 1.2 0.5 0.4 0.5-0.8 0.5-0.4 0.5 1.6 0.5-0.4 0.5-1.1 0.5 0.8 0.5-0.1 0.5-1.5 0.5 2.2 0.5-2.3 0.5 0.3 0.5-0.5 0.5 0.6 0.5-1 0.5 0.7 0.5 0.5 0.5-0.6 0.5-0.4 0.5 0.9 0.5-3.8 0.5 3.1 0.5-0.9 0.5 0.2 0.5-0.3 0.5 0 0.5-0.2 0.5-0.5 0.5 0.1 0.5 0.6 0.5-0.4 0.5-0.6 0.5 0.3 0.5 0.1 0.5 0.4 0.5 0.2 0.5 0 0.5-0.4 0.5 0.4 0.5-0.7 0.5-1 0.5 1.7 0.5-0.9 0.5 0.3 0.5-0.2 0.5 1.1 0.5-1.2 0.5 0.9 0.5-0.6 0.5-0.5 0.5-0.3 0.5 1.1 0.5-0.1 0.5 0 0.5 0.6 0.5-1.1 0.5-0.2 0.5-0.3 0.5 0 0.5-0.4 0.5-0.5 0.5 1.6 0.5-2.5 0.5 1.2 0.5 0 0.5-0.2 0.5-0.7 0.5 0.4 0.5-0.2 0.5-0.3 0.5 0.6 0.5-0.2 0.5-0.1 0.5 0.8 0.5-1.1 0.5 0.9 0.5-0.6 0.5 0.7 0.5-0.2 0.5 0.2 0.5-0.8 0.5 0.2 0.5-0.1 0.5 0.6 0.5 0.3 0.5 0.2 0.5-1 0.5 0.3 0.5-1.1 0.5-0.4 0.5 0.7 0.5-0.1 0.5-0.6 0.5-0.3 0.5 1.3 0.5-1 0.5-0.6 0.5 2.3 0.5-1.5 0.5-0.3 0.5 0.5 0.5-1 0.5 1.3 0.5-1.9 0.5 0.1 0.5 0.8 0.5-0.4 0.5 1.3 0.5-1.8 0.5 0.5 0.5 0.6 0.5 0.2 0.5 0.2 0.5-0.4 0.5 1.1 0.5-1.6 0.5 0.4 0.5 0.4 0.5-0.8 0.5 0 0.5-0.2 0.5-0.2 0.5-0.3 0.5 0.2 0.5-0.7 0.5 1 0.5-1.3 0.5 2.1 0.5-0.4 0.5-0.5 0.5-1 0.5-0.3 0.5 0.9 0.5-0.8 0.5 0.1 0.5-0.9 0.5 1 0.5-1.2 0.5 0.4 0.5-1.1 0.5 0.6 0.5 0.7 0.5-0.6 0.5-0.1 0.5 0.7 0.5-0.5 0.5 0.8 0.5-2.2 0.5 1.7 0.5-0.1 0.5-1.3 0.5 0.1 0.5 1.2 0.5-1.3 0.5 0.2 0.5 0.7 0.5-0.7 0.5 0.4 0.5-0.8 0.5 0.6 0.5 0.4 0.5-0.5 0.5-1.6 0.5 1.7 0.5-0.3 0.5-0.6 0.5 1.4 0.5-1.9 0.5 2.2 0.5-1.5 0.5 1.4 0.5-1 0.5-0.7 0.5 0.8 0.5 0.2 0.5 0.1 0.5 0.3 0.5-1.2 0.5 0.8 0.5 0.1 0.5-0.7 0.5-0.4 0.5 0 0.5 1 0.5 0 0.5-1 0.5-0.3 0.5 1.5 0.5-1.7 0.5 1 0.5-0.6 0.5-0.5 0.5 1 0.5-0.2 0.5 0.9 0.5 0.5 0.5-1.6 0.5 0.7 0.5-0.1 0.5-1 0.5-0.3 0.5 1.4 0.5-1.2 0.5 0.2 0.5-0.2 0.5 0.1 0.5-0.3 0.5 0.7 0.5 0.3 0.5-0.9 0.5-0.6 0.5 0.8 0.5-0.9 0.5 0.5 0.5 1.1 0.5 0.6 0.5-1.2 0.5-0.9 0.5 1.1 0.5-1.9 0.5 0.9 0.5 1.3 0.5-0.6 0.5-1.2 0.5-0.3 0.5 1.5 0.5-0.6 0.5-0.4 0.5 0.6 0.5-0.6 0.5-0.9 0.5 1.5 0.5-0.9 0.5-0.3 0.5-0.3 0.5 0.8 0.5-0.7 0.5 0.7 0.5-0.6 0.5 0.7 0.5-1 0.5-0.3 0.5-0.9 0.5 0.4 0.5 1 0.5 1.3 0.5-2.6 0.5 0 0.5 0.8 0.5 0 0.5-0.7 0.5 0.3 0.5-1 0.5 0.7 0.5 0.7 0.5 0.4 0.5-1.1 0.5-0.1 0.5 0.4 0.5 0.4" fill="none" stroke="#cd5c5c" stroke-width="3.2" stroke-linejoin="round" clip-path="url(#c1)" />
<path d="M136.2 769.5l0.5 5 0.5 4.1 0.5 2.5 0.5 4 0.5 2 0.5 1.3 0.5 1.7 0.5-3.4 0.5 0.5 0.5 1.3 0.5-0.1 0.5-1.7 0.5 0 0.5 3.5 0.5-4.2 0.5-0.3 0.5-2.2 0.5 3.7 0.5-1.7 0.5 3.7 0.5-4.6 0.5 1.7 0.5-0.2 0.5 0.8 0.5-6 0.5 4.6 0.5-3.5 0.5-0.9 0.5-1.1 0.5-0.9 0.5-0.6 0.5-4.4 0.5 4.5 0.5-1.6 0.5-2.4 0.5 1.1 0.5 3.8 0.5-3.9 0.5-1.9 0.5 3.5 0.5-5.1 0.5 0.8 0.5-1.2 0.5 0.2 0.5 1.3 0.5-0.8 0.5-2.9 0.5 0.7 0.5-0.1 0.5-1.4 0.5 0.4 0.5-1.8 0.5-0.5 0.5 1.1 0.5-2.4 0.5 2.3 0.5-1.5 0.5-1.7 0.5-0.1 0.5-0.4 0.5 0 0.5-0.1 0.5-1.3 0.5-1.9 0.5 3.5 0.5-1.7 0.5-2.2 0.5 0.8 0.5-1.7 0.5-1.8 0.5 0 0.5 4 0.5-3.6 0.5-0.4 0.5-3.2 0.5 1.2 0.5 2.5 0.5-3.8 0.5 0.6 0.5-0.1 0.5-1.7 0.5 1.2 0.5-3 0.5 0 0.5-2.7 0.5 5.4 0.5-4.9 0.5-1 0.5 1.7 0.5-4 0.5 0.2 0.5-4.5 0.5 3.2 0.5-1.5 0.5 1.1 0.5-1.9 0.5-1.4 0.5-0.1 0.5-0.3 0.5-1.3 0.5 2.1 0.5-1 0.5-1.5 0.5-3 0.5 2.6 0.5-3.4 0.5 2.6 0.5-0.3 0.5-1.3 0.5-0.5 0.5 0.1 0.5 4.9 0.5-4.4 0.5-0.1 0.5 1.9 0.5-1.1 0.5 1 0.5-4.3 0.5 0.1 0.5 7.9 0.5-6.3 0.5-0.6 0.5 0.7 0.5 1.5 0.5-4 0.5 2.7 0.5-0.6 0.5 1.3 0.5-0.7 0.5-1.2 0.5-0.6 0.5-2.9 0.5 6.2 0.5-4.5 0.5 1.8 0.5 3.7 0.5-4 0.5 1.8 0.5-1.7 0.5 1.5 0.5-1.6 0.5-1.3 0.5 3.1 0.5-3.3 0.5-2.2 0.5 1.5 0.5 1.3 0.5-3.2 0.5 3.3 0.5-0.3 0.5 2.3 0.5-5.3 0.5 2 0.5-4.6 0.5 2 0.5 0.8 0.5 0.3 0.5-1 0.5-0.4 0.5-1.3 0.5 0 0.5 1 0.5 0.1 0.5-0.2 0.5 0.4 0.5 0.1 0.5-5.8 0.5 1.9 0.5 0.3 0.5-1.2 0.5 2.8 0.5-1.1 0.5-2 0.5 0 0.5 1.8 0.5-3.4 0.5-0.2 0.5 2.1 0.5-1.1 0.5 1.6 0.5-2 0.5 0.7 0.5-2.3 0.5-0.6 0.5 2 0.5-4.5 0.5 5.7 0.5 1.2 0.5-1.3 0.5-0.4 0.5 2.5 0.5-5.1 0.5 5.1 0.5 2.1 0.5-2.8 0.5 0.2 0.5-1 0.5-0.6 0.5-0.2 0.5-0.7 0.5 1.6 0.5-5.2 0.5 2.2 0.5 1.4 0.5-3 0.5 1.1 0.5-1.2 0.5 1.8 0.5 0.6 0.5 0.8 0.5-2 0.5-2.4 0.5 1.5 0.5 0.3 0.5 1.3 0.5-6.6 0.5 4.4 0.5-4.2 0.5 4.6 0.5-0.5 0.5 0 0.5 0.7 0.5-1 0.5-1.8 0.5 1.8 0.5 1.6 0.5-2.4 0.5 0.4 0.5-2.2 0.5 4.3 0.5-2.9 0.5-0.5 0.5 0.6 0.5-0.7 0.5 1.3 0.5 2.8 0.5-0.7 0.5 1.2 0.5 0.2 0.5-4.3 0.5 2.6 0.5 1.7 0.5 1.4 0.5-7 0.5-0.2 0.5 3.2 0.5-1.9 0.5-1.4 0.5 2 0.5-2.5 0.5-3 0.5 3.6 0.5-0.2 0.5 0.5 0.5 0.2 0.5-1.6 0.5-1 0.5-1.1 0.5-2.1 0.5 2 0.5 2.5 0.5-0.8 0.5 2.4 0.5-4.1 0.5-3 0.5 4.6 0.5 0.3 0.5-4 0.5-0.8 0.5 3.2 0.5 0.9 0.5-3.5 0.5 1.4 0.5-0.9 0.5-0.7 0.5-0.5 0.5 2.6 0.5-1.1 0.5-0.7 0.5-3.6 0.5 7.8 0.5-4.9 0.5 1.5 0.5-1.8 0.5 2.8 0.5-3.6 0.5 3.2 0.5-0.5 0.5 2.1 0.5-3.6 0.5 0.9 0.5 0.8 0.5 4.2 0.5-6.4 0.5 3.1 0.5-1.7 0.5 1.9 0.5 0.6 0.5-1.1 0.5 0.1 0.5 0.1 0.5-1.8 0.5 0.6 0.5-2.7 0.5 2.3 0.5-0.9 0.5 0.8 0.5 1.7 0.5-0.8 0.5 0 0.5 1.1 0.5-6.6 0.5 5.1 0.5-0.9 0.5-0.3 0.5-2.3 0.5 3.3 0.5 1 0.5-0.4 0.5-2.1 0.5 1.2 0.5 0.2 0.5 1.5 0.5-1.3 0.5-2.2 0.5-0.4 0.5-0.1 0.5-0.1 0.5-1.5 0.5 2.1 0.5-2.8 0.5-0.3 0.5 2.1 0.5-1.6 0.5 0.6 0.5-3.2 0.5 5.5 0.5-1.3 0.5-0.1 0.5 1.3 0.5-0.3 0.5-1.5 0.5 5.1 0.5-4.4 0.5 2.6 0.5 1.5 0.5-4.5 0.5 1.2 0.5-1.7 0.5 3.2 0.5-2.7 0.5-1.5 0.5 4.1 0.5-0.9 0.5-3.5 0.5 3.7 0.5-2 0.5 4.4 0.5-1.9 0.5-4.2 0.5 0.4 0.5-1.3 0.5 1.8 0.5 0 0.5 1.6 0.5-0.8 0.5-2.5 0.5 1.6 0.5 4.5 0.5-0.2 0.5-2 0.5 0.5 0.5 0.3 0.5 0.7 0.5-2.6 0.5 5.1 0.5-2.5 0.5 1.9 0.5-4.5 0.5 5.4 0.5 2.5 0.5-6.1 0.5 7.3 0.5-1.5 0.5-1.8 0.5-3.6 0.5 7.8 0.5-1.8 0.5 0.5 0.5-1.7 0.5-1.2 0.5 2.7 0.5-3.5 0.5 3.2 0.5-4.8 0.5 1.2 0.5-1.3 0.5 4.9 0.5-5.7 0.5 1 0.5 3.2 0.5-0.8 0.5 3.4 0.5-0.7 0.5-2.4 0.5 0 0.5-4.6 0.5 1.5 0.5 0.8 0.5 0.1 0.5-2.2 0.5 0.8 0.5 0.1 0.5 3.4 0.5-1.1 0.5-1.4 0.5 0.2 0.5 1 0.5-1.7 0.5 0.9 0.5-2.5 0.5 4.5 0.5 0.7 0.5-0.9 0.5 0.3 0.5-0.1 0.5 3.2 0.5-3.2 0.5-2.6 0.5 0.6 0.5 3.3 0.5 0.6 0.5-0.5 0.5 0.1 0.5-1.3 0.5-3.1 0.5 1.3 0.5-2.1 0.5 2.4 0.5-2.1 0.5 2.5 0.5-0.7 0.5-3.4 0.5 4.6 0.5-0.1 0.5-3.9 0.5 2.7 0.5 1 0.5-1.8 0.5 2.2 0.5-1.1 0.5 1.7 0.5-1.4 0.5-0.4 0.5 1.6 0.5 0.7 0.5-0.6 0.5-0.9 0.5-0.1 0.5 1.3 0.5 0.2 0.5 1.9 0.5 0.3 0.5 0 0.5 0.6 0.5 0.4 0.5 2.8 0.5-0.4 0.5-3.1 0.5 1.9 0.5-1.4 0.5 0.4 0.5-0.3 0.5-0.7 0.5-1.4 0.5-1.9 0.5 4.5 0.5 1.1 0.5-4.5 0.5 2 0.5-2 0.5 0.6 0.5-2.4 0.5 0.6 0.5-0.3 0.5-4.6 0.5 4.4 0.5-1.1 0.5-4.8 0.5 5.3 0.5-1.7 0.5 0 0.5-0.3 0.5-1.9 0.5-1.7 0.5 0.8 0.5-0.4 0.5 4.5 0.5-1 0.5-4.6 0.5-0.4 0.5 1.1 0.5 0.1 0.5-2.7 0.5-0.9 0.5 5.2 0.5-1.8 0.5-4.9 0.5-0.7 0.5 1.3 0.5 1.6 0.5 0.2 0.5-1.9 0.5-2.7 0.5 3.1 0.5 0.4 0.5-1.4 0.5-1.1 0.5 2 0.5-1.3 0.5-2 0.5 2 0.5-2.6 0.5 4 0.5-0.9 0.5-2.8 0.5 2.1 0.5 1.7 0.5-6.5 0.5 3.5 0.5 3.1 0.5-6.3 0.5 2.3 0.5-2.7 0.5 2.2 0.5-4.7 0.5 1 0.5 1.6 0.5 0.9 0.5 0 0.5-0.4 0.5 0.9 0.5-1.3 0.5-0.5 0.5-3.8 0.5 1.1 0.5 5.8 0.5-2.2 0.5-3.1 0.5-0.5 0.5 0.2 0.5-2.8 0.5 4.3 0.5-4.3 0.5 0.5 0.5 4.4 0.5-7.9 0.5 4.8 0.5-3.7 0.5 2.1 0.5 1.3 0.5-0.3 0.5 1.1 0.5-1.7 0.5 1.3 0.5-2.1 0.5 1.4 0.5-2 0.5 3.8 0.5-3.9 0.5 3.5 0.5-2.3 0.5 0 0.5 2.7 0.5-2.2 0.5-4 0.5 4.4 0.5-6.6 0.5 5.6 0.5-1.4 0.5-2.1 0.5 2.6 0.5-1 0.5 4.1 0.5-4.9 0.5 4.1 0.5-1.4 0.5-4.2 0.5-0.7 0.5 3.7 0.5-3 0.5 0.3 0.5-1.1 0.5-1.9 0.5 1.5 0.5-1.2 0.5-1.2 0.5 2.3 0.5 1.4 0.5 2 0.5-3.2 0.5 0.3 0.5 0.6 0.5 1.4 0.5-2.2 0.5-1.7 0.5-0.2 0.5 2.5 0.5 2.4 0.5-6.5 0.5-3.1 0.5 4.9 0.5-2.2 0.5-0.1 0.5 1.6 0.5-2.6 0.5-3 0.5-1.6 0.5 3.4 0.5-2.4 0.5 2.7 0.5-3.1 0.5 1.8 0.5-2.1 0.5 2.2 0.5 0.1 0.5 2.2 0.5 1.6 0.5-2.7 0.5-1.1 0.5 5.4 0.5-3 0.5 0.4 0.5-0.1 0.5 1.4 0.5-1.1 0.5-0.9 0.5-0.2 0.5-3.4 0.5 0.1 0.5 0.6 0.5 0 0.5-0.5 0.5 0.3 0.5-0.7 0.5-0.9 0.5-2.4 0.5 4.7 0.5-0.6 0.5-2.8 0.5 2.5 0.5-0.2 0.5-0.5 0.5-3.8 0.5 1 0.5 1.1 0.5 4 0.5-4.9 0.5 0.7 0.5-1.7 0.5 0.9 0.5 1.5 0.5-4.8 0.5-1.8 0.5 6.4 0.5-1.4 0.5-1.2 0.5 2.8 0.5-0.1 0.5-6 0.5 3.7 0.5 2.4 0.5-3.3 0.5 0.7 0.5 2.5 0.5-2.2 0.5-1.8 0.5 1 0.5-1.2 0.5 3.7 0.5-4.4 0.5 5.1 0.5-5 0.5 3.1 0.5-3.1 0.5 1.9 0.5 2.3 0.5 0 0.5 0.2 0.5-3 0.5 0.1 0.5-0.1 0.5 0.5 0.5-2.1 0.5 2.8 0.5-1.7 0.5 1.5 0.5-1.3 0.5 0.4 0.5-2.6 0.5 0.5 0.5-1.5 0.5 1.9 0.5 0.3 0.5 1.9 0.5-3.9 0.5 8.6 0.5-6.3 0.5 2.6 0.5-0.4 0.5-6.8 0.5 4.3 0.5 3.1 0.5-7.5 0.5 6 0.5-3.3 0.5 0.7 0.5 1.3 0.5-4 0.5 3.8 0.5-1.7 0.5-0.3 0.5 2.7 0.5 5.2 0.5-5.9 0.5 0.5 0.5-1.2 0.5-1.2 0.5 2 0.5 2.4 0.5-2.5 0.5 1.3 0.5-2 0.5 5.2 0.5-7.9 0.5 4.1 0.5-0.2 0.5-0.6 0.5-2.7 0.5-0.3 0.5 1.6 0.5 0.4 0.5-2.7 0.5 0.1 0.5 2.9 0.5 0.8 0.5-3 0.5-0.3 0.5 0 0.5 6.2 0.5-3.7 0.5-0.8 0.5 2.2 0.5 2.6 0.5-1.8 0.5-4.8 0.5 2.7 0.5-0.4 0.5 0.2 0.5-1.5 0.5 1.8 0.5-1.3 0.5 2.8 0.5-0.6 0.5-2.8 0.5-0.7 0.5 2.3 0.5 2.2 0.5-0.4 0.5-1.1 0.5-6.2 0.5 5.2 0.5-0.6 0.5 0.7 0.5-1.8 0.5 1.5 0.5-0.5 0.5 6.4 0.5-3.8 0.5-1.7 0.5 0.4 0.5-0.1 0.5 0.7 0.5-1.1 0.5 0.7 0.5 2.1 0.5-0.3 0.5-1 0.5 2 0.5-2.1 0.5-2.3 0.5-1.5 0.5 1.9 0.5 1.2 0.5 0.7 0.5 1.2 0.5-3.2 0.5-0.5 0.5 2.8 0.5 0.8 0.5-3.1 0.5 1.5 0.5 2.2 0.5-2 0.5-0.5 0.5-3.7 0.5 6.7 0.5-1 0.5-0.6 0.5-0.8 0.5-1.2 0.5 2.6 0.5 0.3 0.5 2.6 0.5-4.3 0.5 5.2 0.5-2.6 0.5 2.2 0.5-4.1 0.5 2.4 0.5 5.5 0.5-6.3 0.5-3.2 0.5 2 0.5 1.3 0.5-4 0.5-0.4 0.5 2.9 0.5-2.4 0.5 3 0.5-3.6 0.5-1.2 0.5 2 0.5 4.3 0.5-4.5 0.5 1.6 0.5 0.3 0.5-2.3 0.5 3.7 0.5-1.8 0.5 0.4 0.5-4.3 0.5-0.3 0.5-2.2 0.5 4.7 0.5-0.4 0.5 1.5 0.5 1.2 0.5-3.6 0.5-0.3 0.5 1.1 0.5 1.9 0.5-4.7 0.5 2.5 0.5-1.9 0.5-0.4 0.5 2.1 0.5-3.3 0.5-0.6 0.5 3.3 0.5-3.7 0.5 2 0.5 0.3 0.5 1.2 0.5-1.6 0.5 2.2 0.5-0.6 0.5 2 0.5-0.5 0.5-0.9 0.5-2.2 0.5 0.7 0.5-1.3 0.5 6.3 0.5-6 0.5 1.2 0.5 1.3 0.5-5.4 0.5 0.8 0.5 0.6 0.5-1.2 0.5-0.8 0.5 1.4 0.5 3.4 0.5-1.1 0.5-1.3 0.5 0.1 0.5-3.1 0.5 4.7 0.5-0.4 0.5-2.7 0.5 2.6 0.5-0.5 0.5-0.5 0.5-0.8 0.5 0.7 0.5-0.4 0.5 2.8 0.5-0.1 0.5 0 0.5-0.9 0.5-0.4 0.5 4.7 0.5-7.4 0.5 5.8 0.5-1.6 0.5-0.5 0.5-1.1 0.5 0.5 0.5-1.9 0.5-0.3 0.5 2.4 0.5-2.9 0.5 4.8 0.5 0.6 0.5-8.6 0.5 3.7 0.5 3.6 0.5 0.2 0.5 0.1 0.5 0.8 0.5 0.9 0.5 0.5 0.5 2 0.5-3.1 0.5 1.8 0.5-4.5 0.5 3 0.5-1.9 0.5 4.9 0.5 1.8 0.5-3.5 0.5-3.6 0.5 2.3 0.5 0.1 0.5 0.1 0.5 1.5 0.5-0.4 0.5-7 0.5 7.5 0.5-3.5 0.5-0.2 0.5 3.8 0.5-3.2 0.5-2.1 0.5 0.1 0.5 2.7 0.5 1.7 0.5 1.2 0.5-3 0.5-0.4 0.5 4.2 0.5-3.8 0.5 3.9 0.5-2 0.5 0.3 0.5-0.5 0.5 1.2 0.5-1.2 0.5-0.1 0.5 1.1 0.5-1 0.5 1.7 0.5-0.6 0.5-0.9 0.5-0.2 0.5-0.4 0.5 3.3 0.5-3.6 0.5-1.4 0.5 0.1 0.5 1.5 0.5-2 0.5-0.3 0.5-0.5 0.5 0.6 0.5 0.2 0.5-0.3 0.5-4.1 0.5 0.9 0.5-3 0.5 6.4 0.5 0.6 0.5 0.2 0.5-2.2 0.5 1.8 0.5-2.3 0.5-0.3 0.5-2.7 0.5 1.4 0.5 0.4 0.5 2.9 0.5 1.4 0.5-4 0.5 1.6 0.5-0.1 0.5-2.1 0.5-1.8 0.5 1.7 0.5-1.4 0.5 2 0.5 0 0.5-0.2 0.5-0.2 0.5 1 0.5-3 0.5 3.2 0.5-5.1 0.5 3.1 0.5 0.4 0.5-2.3 0.5-1.6 0.5 4.2 0.5-2.6 0.5 2.8 0.5 0 0.5-1.4 0.5 0.1 0.5 2 0.5-1.1 0.5-2.4 0.5-0.6 0.5 3.7 0.5-0.7 0.5 0.1 0.5-0.6 0.5 0.1 0.5-1.4 0.5-0.8 0.5 5 0.5-3.4 0.5 1.7 0.5-3.1 0.5 3.2 0.5-1.8 0.5 7.2 0.5-7.5 0.5 0.2 0.5 3.8 0.5 0.4 0.5-6.3 0.5 4.5 0.5 1.1 0.5-4 0.5 3.5 0.5-2.3 0.5-1 0.5 1.1 0.5-0.2 0.5-2 0.5 6.7 0.5-5.3 0.5-0.8 0.5 2.8 0.5-2.1 0.5 2.5 0.5-3.3 0.5 1 0.5-0.7 0.5-0.1 0.5-0.9 0.5 0 0.5 3.1 0.5-4.6 0.5 0.2 0.5 0.4 0.5 1.6 0.5-0.3 0.5 1 0.5-4.3 0.5 3.1 0.5-0.8 0.5-0.2 0.5 1 0.5-3.9 0.5 4.2 0.5-0.1 0.5-2.9 0.5 2.5 0.5 3.1 0.5-3.7 0.5 1.9 0.5-1.6 0.5-1.2 0.5-0.3 0.5 1 0.5 3.2 0.5-0.9 0.5-3 0.5 3.2 0.5-2.2 0.5-1 0.5 2.1 0.5-2.4 0.5-1.2 0.5 5.4 0.5-5.9 0.5 4.5 0.5-3.8 0.5 2.8 0.5-0.4 0.5-0.5 0.5-3.3 0.5 3.9 0.5 0.1 0.5-1.7 0.5 1.4 0.5 2 0.5-3.3 0.5 1.7 0.5-2.7 0.5 2.7 0.5 0.4 0.5 3.3 0.5-3.1 0.5-1 0.5 1.7 0.5-4.8 0.5 3.7 0.5-3.1 0.5-0.4 0.5 3.1 0.5-1.8 0.5 2 0.5-5.2 0.5 3.3 0.5-1.5 0.5 0.5 0.5-3 0.5 5.5 0.5-1.2 0.5-2.1 0.5-0.5 0.5 1.1 0.5 4.4 0.5-2.6 0.5-0.3 0.5 1.5 0.5-0.9 0.5 0.4 0.5 0.8 0.5-1 0.5 0.8 0.5-4.1 0.5 2 0.5-1 0.5 0.4 0.5-0.5 0.5-1.5 0.5 0.3 0.5 2.2 0.5-3 0.5-1.4 0.5 3.4 0.5 0.7 0.5-2.4 0.5 0.7 0.5-1.8 0.5 1.3 0.5 2.5 0.5-0.6 0.5-1.1 0.5-0.7 0.5-2.5 0.5 3.6 0.5 0.2 0.5 1.3 0.5 1.8 0.5-3 0.5 1.1 0.5-3.8 0.5 4.4 0.5-0.7 0.5 1 0.5-1.4 0.5-0.4 0.5 1.9 0.5-4.2 0.5 2.3 0.5 0.7 0.5-3.7 0.5-0.7 0.5 2.9 0.5-0.8 0.5 0.7 0.5 0 0.5-2.6 0.5 2 0.5 1.4 0.5-2.8 0.5 0.3 0.5-1.6 0.5 3.8 0.5 2.3 0.5-6.1 0.5 4.1 0.5 0.5 0.5-2.6 0.5 0.5 0.5-1 0.5 0.7 0.5 1.9 0.5 1.1 0.5-0.8 0.5 1.5 0.5-1.1 0.5-2.4 0.5 5 0.5-0.5 0.5-3.4 0.5 4.5 0.5-2.5 0.5-0.7 0.5 3.1 0.5-8.5 0.5 1.2 0.5 3.9 0.5-2.1 0.5-1.7 0.5 4.2 0.5-2.3 0.5-3.6 0.5 0.9 0.5 2.6 0.5 1.5 0.5-7.3 0.5 4.1 0.5-1.3 0.5-2.7 0.5 2.8 0.5-2.8 0.5 1.8 0.5 3.8 0.5-2.2 0.5 0.3 0.5-0.6 0.5-0.6 0.5 0.8 0.5-4.1 0.5 1.4 0.5 1.9 0.5-3.2 0.5 0.3 0.5 2.8 0.5 0.3 0.5-4.1 0.5-0.7 0.5 2.5 0.5-0.8 0.5-1.9 0.5 2.2 0.5-0.2 0.5-0.8 0.5 5.2 0.5-2.9 0.5-1 0.5 0.4 0.5 3.6 0.5-3.3 0.5-3.4 0.5 2 0.5-0.5 0.5-1.1 0.5 1.5 0.5 0.1 0.5-0.5 0.5-0.8 0.5 2.4 0.5-4.4 0.5 4.7 0.5-1.5 0.5 0.6 0.5-4.9 0.5 7.6 0.5-6.3 0.5 1.7 0.5 2.8 0.5-2.4 0.5 0.5 0.5-3.5 0.5 3.3 0.5 1 0.5 0.7 0.5-2.1 0.5 0.6 0.5-0.2 0.5-2.6 0.5-0.7 0.5 4.5 0.5-5.9 0.5 3.4 0.5-2.6 0.5 2.2 0.5-4.3 0.5 1.8 0.5-0.5 0.5-1.3 0.5 0.9 0.5-2.1 0.5 1.1 0.5-0.6 0.5 2.1 0.5-1.8 0.5-2.4 0.5 1.7 0.5 0.3 0.5-1.7 0.5 4 0.5-1.8 0.5 0.9 0.5-2.9 0.5 0.7 0.5 2.7 0.5-4.4 0.5 3.5 0.5 2.4 0.5-4 0.5 1.2 0.5-2.1 0.5 2.5 0.5-2.8 0.5-0.1 0.5 4.9 0.5-4.1 0.5-2.9 0.5 5.5 0.5-3.6 0.5-5.4 0.5 6.1 0.5 1.5 0.5-1.3 0.5 2.3 0.5-3.8 0.5 1.1 0.5-3.1 0.5 2 0.5 2.5 0.5-1.8 0.5-0.7 0.5-4 0.5 3.2 0.5-1.8 0.5 3.9 0.5-2.9 0.5 5 0.5-5.8 0.5 5.3 0.5-5.8 0.5 2.1 0.5 4.5 0.5-4.8 0.5-2.3 0.5 2.5 0.5 0.7 0.5-0.3 0.5-5.4 0.5 4 0.5-4.4 0.5 7.6 0.5-3.5 0.5-1.1 0.5 2.1 0.5-0.4 0.5-3 0.5 5.3 0.5-3.5 0.5-2.9 0.5 5.8 0.5 0.3 0.5-0.5 0.5-1.4 0.5-2.8 0.5 3.4 0.5 1.7 0.5-2 0.5 1.5 0.5-4.5 0.5 3.2 0.5-0.4 0.5-4.7 0.5-0.5 0.5 1.4 0.5 1.2 0.5 0.4 0.5-1.5 0.5 0 0.5-0.6 0.5 0.1 0.5 0.6 0.5-0.5 0.5-1.4 0.5 0.4 0.5-1.6 0.5 2.1 0.5-2.8 0.5 3.9 0.5-3.4 0.5 0.5 0.5-2 0.5 0.6 0.5 0.8 0.5-0.4 0.5-1.2 0.5-1.1 0.5 2.2 0.5 0.1 0.5 0.8 0.5 1.3 0.5-2.9 0.5-3.3 0.5 3.5 0.5-3.3 0.5 0.9 0.5 4.3 0.5-1.1 0.5-2.3 0.5-0.2 0.5 0.8 0.5-3.4 0.5 3.9 0.5-1.8 0.5 3.9 0.5-5.8 0.5 3.7 0.5-3.5 0.5 2.8 0.5-4 0.5 3 0.5-2.4 0.5-1.1 0.5 1.2 0.5 1 0.5-0.4 0.5 2 0.5-1.6 0.5-6.5 0.5 4.1 0.5-3 0.5 3.1 0.5 2 0.5-3.6 0.5 0.5 0.5 2.8 0.5-0.6 0.5 3.9 0.5-2.2 0.5 0.5 0.5 2.5 0.5-4.2 0.5 1.1 0.5-1.8 0.5 2.3 0.5 1.3 0.5 0.4 0.5-2.8 0.5-1.6 0.5-0.5 0.5-1.5 0.5 2.5 0.5 2 0.5-7.5 0.5 0.1 0.5 6.4 0.5-6 0.5 3.4 0.5-3.2 0.5 3.7 0.5 0 0.5-1.2 0.5 1.2 0.5-1.4 0.5 1.2 0.5 2.6 0.5-1.2 0.5-3 0.5 0 0.5 1.3 0.5 0.3 0.5 0.9 0.5-1.1 0.5 2.5 0.5-1 0.5 0.7 0.5-0.6 0.5 1.1 0.5-3.4 0.5 5.2 0.5-2.4 0.5 0 0.5 0.2 0.5 0.7 0.5-0.8 0.5-1.2 0.5-1 0.5 0.3 0.5 0.2 0.5-1.2 0.5-0.2 0.5 5 0.5-8.3 0.5 3.5 0.5 2 0.5-0.6 0.5 0.4 0.5-4.8 0.5 0.5 0.5 3 0.5-1.7 0.5 3.8 0.5-2.8 0.5 0 0.5 0.5 0.5-1.2 0.5 0.7 0.5-1.4 0.5 1.3 0.5-0.8 0.5 1.5 0.5-3.3 0.5-0.3 0.5 3.7 0.5-0.6 0.5-2.5 0.5 1.2 0.5-1.8 0.5 5.6 0.5-7.1 0.5 5.9 0.5-5.1 0.5 2 0.5-1.6 0.5-0.6 0.5 2.2 0.5-0.6 0.5-2.3 0.5-1.5 0.5 5.4 0.5-1.5 0.5-2.7 0.5-1 0.5 0.8 0.5-0.6 0.5 1.9 0.5-4.3 0.5 1.8 0.5-1.8 0.5 3.8 0.5 0.9 0.5-3.8 0.5 1.1 0.5 1.5 0.5-3.3 0.5-1.3 0.5 3.8 0.5-1 0.5-1.4 0.5 3.2 0.5-2.2 0.5-3.8 0.5 4 0.5-0.7" fill="none" stroke="#3cb371" stroke-width="4.6" stroke-linejoin="round" clip-path="url(#c2)" />
<path d="M1053 150l1 0 0 0 1 0 0 0 1 0 0 7.2 1 0 0 2.3 1 0 0 0 1 0 0-0.4 1 0 0 0 1 0 0-3.6 1 0 0-1.6 1 0 0 0 1 0 0-3.9 1 0 0 0 1 0 0 0 1 0 0 12.3 1 0 0 4 1 0 0 0 1 0 0 3.3 1 0 0 0 1 0 0 0 1 0 0 2.1 1 0 0 0 1 0 0-0.7 1 0 0 0 1 0 0 0 1 0 0 1.4 1 0 0-8 1 0 0-8 1 0 0 0 1 0 0 0 1 0 0 20 1 0 0 0 1 0 0 0 1 0 0-5.7 1 0 0 0 1 0 0 0 1 0 0 1.3 1 0 0 1.7 1 0 0 0 1 0 0 0 1 0 0-1.5 1 0 0 0 1 0 0 0 1 0 0 6.5 1 0 0 0 1 0 0-8.2 1 0 0 0 1 0 0-4.6 1 0 0 0 1 0 0 0 1 0 0-10.3 1 0 0 0 1 0 0 0 1 0 0 11.5 1 0 0 16.2 1 0 0 0 1 0 0-15.7 1 0 0 0 1 0 0 0 1 0 0 4.1 1 0 0 0 1 0 0-22.9 1 0 0 0 1 0 0 0 1 0 0 6.7 1 0 0 0 1 0 0 0 1 0 0 1.2 1 0 0 10.8 1 0 0 0.9 1 0 0-0.9 1 0 0 0 1 0 0 0 1 0 0 1.8 1 0 0 1.2 1 0 0-3.3 1 0 0-0.3 1 0 0-3 1 0 0-9.1 1 0 0 0 1 0 0 0 1 0 0 2.1 1 0 0 0 1 0 0 0.9 1 0 0 0 1 0 0-0.7 1 0 0-11.6 1 0 0-5.4 1 0 0 0 1 0 0 0 1 0 0 7 1 0 0 0 1 0 0 3.2 1 0 0 0 1 0 0 0 1 0 0 1.3 1 0 0 0.4 1 0 0-2.2 1 0 0 0 1 0 0 0 1 0 0 0.8 1 0 0 0 1 0 0-0.8 1 0 0-2.3 1 0 0 0 1 0 0-6.3 1 0 0-0.3 1 0 0 0 1 0 0 0 1 0 0-4.2 1 0 0 0 1 0 0 0 1 0 0 7.9 1 0 0 4 1 0 0-3.7 1 0 0-0.3 1 0 0 0 1 0 0 0 1 0 0-3.1 1 0 0 0 1 0 0 0 1 0 0 2.8 1 0 0-1.4 1 0 0 0 1 0 0 0 1 0 0 0 1 0 0 1 1 0 0-1.3 1 0 0-1.8 1 0 0-5 1 0 0 0 1 0 0 0 1 0 0 2.2 1 0 0 3.4 1 0 0 0.3 1 0 0-5.3 1 0 0 0 1 0 0 0 1 0 0 1.3 1 0 0 0 1 0 0 0.2 1 0 0 2.1 1 0 0 0 1 0 0-11.5 1 0 0 0 1 0 0 0 1 0 0 2.7 1 0 0 0 1 0 0 0 1 0 0 8.3 1 0 0 0 1 0 0-2.5 1 0 0 0 1 0 0-0.4 1 0 0 0 1 0 0 0 1 0 0 2.2 1 0 0 0 1 0 0-4.7 1 0 0 0 1 0 0 0 1 0 0 0 1 0 0 0 1 0 0 0 1 0 0-1.4 1 0 0-3.3 1 0 0 0 1 0 0 0 1 0 0-7.8 1 0 0 0 1 0 0 0 1 0 0 9.5 1 0 0 2.2 1 0 0 0 1 0 0 1.5 1 0 0-8.5 1 0 0 0 1 0 0-20.5 1 0 0 0 1 0 0 16.8 1 0 0-0.5 1 0 0 0 1 0 0 0 1 0 0 9.1 1 0 0 1.3 1 0 0 0 1 0 0-2.6 1 0 0-9.2 1 0 0 0 1 0 0 0 1 0 0 14.3 1 0 0-0.8 1 0 0 0 1 0 0 0 1 0 0 5.8 1 0 0-11.1 1 0 0-6.6 1 0 0 0 1 0 0 0 1 0 0 16.9 1 0 0-0.3 1 0 0-1.1 1 0 0-3.2 1 0 0-2.6 1 0 0-7.8 1 0 0 0 1 0 0 0 1 0 0 3.3 1 0 0 6.5 1 0 0-0.7 1 0 0-13.1 1 0 0 0 1 0 0 0 1 0 0 9 1 0 0 0 1 0 0-12.3 1 0 0 0 1 0 0 0 1 0 0 7.3 1 0 0 8.1 1 0 0 0 1 0 0-4.1 1 0 0-13 1 0 0 0 1 0 0 0 1 0 0 6.8 1 0 0 0 1 0 0 0 1 0 0 10.7 1 0 0 4.6 1 0 0 0 1 0 0 2.2 1 0 0-33.2 1 0 0 0 1 0 0 0 1 0 0 38.2 1 0 0-14.9 1 0 0 0 1 0 0 0 1 0 0 3.3 1 0 0 6.4 1 0 0 5.1 1 0 0 0 1 0 0 0 1 0 0 1.2 1 0 0 0 1 0 0 0 1 0 0 7.7 1 0 0-11.8 1 0 0 0 1 0 0-4.8 1 0 0 0 1 0 0 0 1 0 0 11.9 1 0 0 0.9 1 0 0 0 1 0 0-5 1 0 0 0 1 0 0 0 1 0 0 1.1 1 0 0 5.4 1 0 0 0 1 0 0-1.4 1 0 0-33.5 1 0 0 0 1 0 0 0 1 0 0 30 1 0 0-8.9 1 0 0 0 1 0 0 0 1 0 0 3.6 1 0 0 6.8 1 0 0-2.3 1 0 0-18.3 1 0 0 0 1 0 0 15.9 1 0 0-5.4 1 0 0 0 1 0 0 0 1 0 0 3.3 1 0 0-2.7 1 0 0-0.4 1 0 0 0 1 0 0-8.9 1 0 0 0 1 0 0 0 1 0 0 2.8 1 0 0 6.2 1 0 0-3.7 1 0 0 0 1 0 0 0 1 0 0 1.2 1 0 0-16.7 1 0 0 0 1 0 0 0 1 0 0 12.8 1 0 0 6.4 1 0 0 0 1 0 0 0 1 0 0 3.3 1 0 0 0.4 1 0 0 0 1 0 0-4.9 1 0 0-3.2 1 0 0 0 1 0 0 0 1 0 0 6.1 1 0 0 0 1 0 0 1.2 1 0 0 4.1 1 0 0 0 1 0 0-21.6 1 0 0 0 1 0 0 0 1 0 0 20 1 0 0-0.6 1 0 0-1.1 1 0 0 0 1 0 0 0 1 0 0 1.3 1 0 0-3.3 1 0 0-7.3 1 0 0 0 1 0 0 0 1 0 0 1.6 1 0 0 2.5 1 0 0 0 1 0 0-1.9 1 0 0 0 1 0 0 0 1 0 0 3.2 1 0 0-5.1 1 0 0 0 1 0 0 0 1 0 0 3.4 1 0 0-5.7 1 0 0 0 1 0 0 0 1 0 0-5.6 1 0 0-8.5 1 0 0-0.7 1 0 0-1.7 1 0 0 0 1 0 0-2.6 1 0 0 0 1 0 0 0 1 0 0 3 1 0 0-3.6 1 0 0-5.1 1 0 0 0 1 0 0-0.3 1 0 0 0 1 0 0-3.5 1 0 0-7.7 1 0 0 0 1 0 0 0 1 0 0 0.9 1 0 0 6.2 1 0 0 0 1 0 0 1.2 1 0 0-11.8 1 0 0-1.4 1 0 0 0 1 0 0 0 1 0 0 7.1 1 0 0-0.8 1 0 0-5 1 0 0 0 1 0 0 0 1 0 0 6.8 1 0 0-1.3 1 0 0 0 1 0 0 0 1 0 0 0.2 1 0 0 0 1 0 0 0 1 0 0-4.4 1 0 0 0 1 0 0-3.4 1 0 0-21.7 1 0 0 0 1 0 0 16.8 1 0 0 7.3 1 0 0-6.1 1 0 0 0 1 0 0 0 1 0 0 0.1 1 0 0 0 1 0 0-4.7 1 0 0-7.5 1 0 0 0 1 0 0-13.3 1 0 0 0 1 0 0 16.8 1 0 0-4.3 1 0 0-4.9 1 0 0 0 1 0 0 0 1 0 0 3.3 1 0 0 1.2 1 0 0 0 1 0 0-0.6 1 0 0-2.2 1 0 0 0 1 0 0-0.1 1 0 0 0 1 0 0 0 1 0 0 5.8 1 0 0-1.1 1 0 0 0 1 0 0-0.7 1 0 0-4.8 1 0 0 0 1 0 0 0 1 0 0 1 1 0 0-3 1 0 0 0 1 0 0 0 1 0 0 5.5 1 0 0 12.6 1 0 0 4.8 1 0 0-9.2 1 0 0-13.1 1 0 0 0 1 0 0 0 1 0 0-21.5 1 0 0 0 1 0 0 34.2 1 0 0-10.4 1 0 0 0 1 0 0 0 1 0 0 11.9 1 0 0 4.2 1 0 0 0 1 0 0-34.3 1 0 0 0 1 0 0 0 1 0 0 28.8 1 0 0 0 1 0 0-3.1 1 0 0 0 1 0 0 0 1 0 0-1.9 1 0 0 0 1 0 0 0 1 0 0 6.8 1 0 0-11.6 1 0 0 0 1 0 0 0 1 0 0 2.3 1 0 0 6.7 1 0 0-5.2 1 0 0 0 1 0 0 0 1 0 0 3.9 1 0 0 5.1 1 0 0 0 1 0 0 0 1 0 0 2 1 0 0-0.9 1 0 0 0 1 0 0-1.7 1 0 0-2.1 1 0 0 0 1 0 0-0.4 1 0 0 0 1 0 0 0 1 0 0 2 1 0 0 5 1 0 0-4.4 1 0 0-0.1 1 0 0 0 1 0 0-2.4 1 0 0-8.6 1 0 0 0 1 0 0 0 1 0 0 10.8 1 0 0-4.8 1 0 0-1.6 1 0 0-24.2 1 0 0 0 1 0 0 33 1 0 0-2 1 0 0 0 1 0 0 0 1 0 0-3.6 1 0 0-7.3 1 0 0-9.2 1 0 0 0 1 0 0 0 1 0 0 9 1 0 0 0 1 0 0 0 1 0 0 6.6 1 0 0 0 1 0 0 0 1 0 0 4.5 1 0 0 0 1 0 0-0.2 1 0 0 0 1 0 0 0 1 0 0 0 1 0 0 0 1 0 0-5.4 1 0 0 0 1 0 0 0 1 0 0 2.7 1 0 0 3.8 1 0 0-2.4 1 0 0 0 1 0 0 0 1 0 0-2.3 1 0 0-0.9 1 0 0 0 1 0 0 0 1 0 0 0.8 1 0 0 0 1 0 0 1.9 1 0 0-1.6 1 0 0 0 1 0 0 0 1 0 0 2.2 1 0 0-12.6 1 0 0 0 1 0 0 0 1 0 0 7.4 1 0 0 9.4 1 0 0 0 1 0 0-5.9 1 0 0 0 1 0 0 0 1 0 0 2.5 1 0 0 0 1 0 0-5.1 1 0 0-13.2 1 0 0 0 1 0 0 0 1 0 0 9.3 1 0 0 3.9 1 0 0 0 1 0 0 3.3 1 0 0-0.7 1 0 0 0 1 0 0 0 1 0 0 0.9 1 0 0 0 1 0 0 0 1 0 0-3.3 1 0 0-4 1 0 0 0 1 0 0 0 1 0 0 4 1 0 0 0 1 0 0 3.1 1 0 0 4.4 1 0 0 0 1 0 0 0 1 0 0 2.7 1 0 0 0 1 0 0 0 1 0 0 0 1 0 0-4.2 1 0 0 0 1 0 0 0 1 0 0 9.9 1 0 0 5.2 1 0 0-2.6 1 0 0-1 1 0 0-0.6 1 0 0 0 1 0 0 0 1 0 0 2.7 1 0 0 0 1 0 0 2.2 1 0 0 0 1 0 0 4.1 1 0 0 0.8 1 0 0 7.8 1 0 0 1.1 1 0 0 1.5 1 0 0-0.4 1 0 0-4.6 1 0 0-1.1 1 0 0 0 1 0 0 0 1 0 0-1.8 1 0 0 0 1 0 0 0 1 0 0 2.9 1 0 0-6.6 1 0 0-7.4 1 0 0-6.3 1 0 0-0.1 1 0 0 0 1 0 0 0 1 0 0 4.4 1 0 0 0 1 0 0 0.5 1 0 0 0 1 0 0 0 1 0 0 1.8 1 0 0 2.9 1 0 0-15.7 1 0 0 0 1 0 0 0 1 0 0 12.4 1 0 0 0 1 0 0 4.6 1 0 0 0.9 1 0 0 0 1 0 0 0.1 1 0 0 2.5 1 0 0-11.5 1 0 0 0 1 0 0 0 1 0 0 0.6 1 0 0 12 1 0 0 0 1 0 0 2.7 1 0 0 0 1 0 0 0 1 0 0-1.2 1 0 0-2.5 1 0 0 0 1 0 0-12 1 0 0 0 1 0 0 0 1 0 0 9.1 1 0 0 12.3 1 0 0-4.1 1 0 0 0 1 0 0 0 1 0 0-6.3 1 0 0 0 1 0 0 0 1 0 0 7.4 1 0 0 0.8 1 0 0 0 1 0 0-4.3 1 0 0 0 1 0 0 0 1 0 0 1.7 1 0 0-1.4 1 0 0 0 1 0 0-2.4 1 0 0 0 1 0 0 0 1 0 0-1.4 1 0 0 0 1 0 0-4.6 1 0 0 0 1 0 0 0 1 0 0 8 1 0 0 1.1 1 0 0 0 1 0 0 0.4 1 0 0-0.6 1 0 0-6 1 0 0-3.6 1 0 0 0 1 0 0 0 1 0 0 8 1 0 0 0 1 0 0 3.5 1 0 0 7.1 1 0 0 0.1 1 0 0 0.1 1 0 0-3.5 1 0 0-0.6 1 0 0 0 1 0 0 0 1 0 0 1.2 1 0 0 0 1 0 0-25.5 1 0 0 0 1 0 0-0.2 1 0 0 0 1 0 0 0 1 0 0 17.9 1 0 0 0 1 0 0-0.7 1 0 0-4.9 1 0 0-1 1 0 0-9.8 1 0 0 0 1 0 0 0 1 0 0 17.5 1 0 0-6.2 1 0 0 0 1 0 0 0 1 0 0 3.6 1 0 0 0 1 0 0 1.7 1 0 0-4.1 1 0 0 0 1 0 0 0 1 0 0 2.2 1 0 0-10.3 1 0 0 0 1 0 0 0 1 0 0 10.2 1 0 0 4 1 0 0 0 1 0 0-19.2 1 0 0 0 1 0 0 0 1 0 0 8.2 1 0 0 11.1 1 0 0 6.4 1 0 0 0 1 0 0-4.4 1 0 0 0 1 0 0 0 1 0 0 3 1 0 0-6.3 1 0 0 0 1 0 0 0 1 0 0 2 1 0 0 9 1 0 0-1.7 1 0 0-14.2 1 0 0 0 1 0 0 0 1 0 0 0.2 1 0 0 15 1 0 0-15 1 0 0 0 1 0 0 0 1 0 0 10.6 1 0 0-2.1 1 0 0 0 1 0 0-3.6 1 0 0-21.1 1 0 0-0.4 1 0 0 0 1 0 0 0 1 0 0 3.6 1 0 0 0 1 0 0 0 1 0 0 0.6 1 0 0 9.8 1 0 0-15.2 1 0 0 0 1 0 0 0 1 0 0 11.1 1 0 0 1.2 1 0 0 3.4 1 0 0 13.2 1 0 0 11.9 1 0 0 0.6 1 0 0-11.3 1 0 0-4.5 1 0 0-2.6 1 0 0 0 1 0 0 0 1 0 0 10.1 1 0 0-10.8 1 0 0 0 1 0 0 0 1 0 0 8.5 1 0 0 0 1 0 0 0 1 0 0 5.8 1 0 0 0 1 0 0 0 1 0 0 7 1 0 0 3.4 1 0 0 4.5 1 0 0 2.9 1 0 0-3 1 0 0-16.6 1 0 0 0 1 0 0 0 1 0 0 9.6 1 0 0 9.6 1 0 0 0 1 0 0 0 1 0 0 0 1 0 0 25.2-1 0 0-0.9-1 0 0 3.4-1 0 0 1-1 0 0 0.2-1 0 0 21-1 0 0 0-1 0 0-5.8-1 0 0-11.6-1 0 0 0-1 0 0-0.1-1 0 0 6.7-1 0 0 1.6-1 0 0 6.5-1 0 0 0-1 0 0-3.7-1 0 0 0-1 0 0 3.6-1 0 0 0-1 0 0-2.1-1 0 0 4.5-1 0 0 0-1 0 0-21.9-1 0 0 17.5-1 0 0 2.7-1 0 0 0-1 0 0-6-1 0 0-8.2-1 0 0-10.3-1 0 0 0-1 0 0 2-1 0 0 14.3-1 0 0 5.7-1 0 0 0-1 0 0 2.8-1 0 0 0-1 0 0-2.2-1 0 0-21.3-1 0 0 7-1 0 0 10.9-1 0 0 0-1 0 0-5.6-1 0 0 7.4-1 0 0 3.3-1 0 0 0-1 0 0-7.9-1 0 0-21.2-1 0 0 10.6-1 0 0 0-1 0 0-8.5-1 0 0 13.8-1 0 0 3.6-1 0 0 0-1 0 0-10.1-1 0 0 6.9-1 0 0 12.9-1 0 0 0-1 0 0-11.3-1 0 0-10-1 0 0-0.1-1 0 0 0.7-1 0 0 11.2-1 0 0 0-1 0 0-11.1-1 0 0 0-1 0 0-2.1-1 0 0 0-1 0 0-6.1-1 0 0-5.2-1 0 0 0-1 0 0 5.9-1 0 0 0-1 0 0 20.1-1 0 0 0-1 0 0-20.7-1 0 0-2.8-1 0 0-7.3-1 0 0 2.9-1 0 0 1.8-1 0 0 0-1 0 0-4.6-1 0 0-2-1 0 0 6.2-1 0 0 0-1 0 0-4.7-1 0 0-2.9-1 0 0 2.8-1 0 0 0-1 0 0 2.9-1 0 0 0-1 0 0-2.5-1 0 0 0-1 0 0-1.1-1 0 0 6.6-1 0 0 0-1 0 0-0.6-1 0 0-0.4-1 0 0-4.5-1 0 0 0-1 0 0-0.9-1 0 0-6.7-1 0 0 1.5-1 0 0 1.4-1 0 0 0-1 0 0-2-1 0 0-0.4-1 0 0-0.4-1 0 0 0-1 0 0 2.3-1 0 0 0-1 0 0-4.6-1 0 0-2-1 0 0 0.1-1 0 0 0-1 0 0 0.6-1 0 0 6.7-1 0 0 0-1 0 0-0.4-1 0 0 7.6-1 0 0 0-1 0 0-8.7-1 0 0-4.9-1 0 0 0-1 0 0-0.1-1 0 0 1.9-1 0 0 0-1 0 0 5.9-1 0 0 0.4-1 0 0 0-1 0 0 4.1-1 0 0 0-1 0 0 0-1 0 0 4-1 0 0 0-1 0 0 0-1 0 0-12.4-1 0 0 2.3-1 0 0 3.3-1 0 0 0-1 0 0-4.7-1 0 0 0-1 0 0-0.8-1 0 0 0-1 0 0 6.9-1 0 0 0-1 0 0-0.6-1 0 0-2-1 0 0 0-1 0 0-2-1 0 0-3-1 0 0 5.4-1 0 0 15.5-1 0 0 0-1 0 0-1.8-1 0 0-3.8-1 0 0 0-1 0 0-13.1-1 0 0 2-1 0 0 0-1 0 0-1.2-1 0 0 1.2-1 0 0 0-1 0 0 2.4-1 0 0 9.7-1 0 0 0-1 0 0-14.1-1 0 0-3.2-1 0 0-3.3-1 0 0 1.2-1 0 0 0-1 0 0-5.6-1 0 0 5.2-1 0 0 0-1 0 0 7.5-1 0 0 0-1 0 0-4.7-1 0 0-12.6-1 0 0-0.6-1 0 0 7.1-1 0 0 0-1 0 0-2.9-1 0 0 5.9-1 0 0 0.9-1 0 0 2.7-1 0 0 7.8-1 0 0 0-1 0 0-2.9-1 0 0-3.5-1 0 0-8.6-1 0 0 0-1 0 0 3.6-1 0 0 1.1-1 0 0 22.2-1 0 0 0-1 0 0-21.1-1 0 0 0-1 0 0-3.1-1 0 0-2.8-1 0 0 0.2-1 0 0 0.6-1 0 0 0-1 0 0 7.1-1 0 0 2.5-1 0 0 1.4-1 0 0 0-1 0 0-4.5-1 0 0 0-1 0 0-2.8-1 0 0 4.3-1 0 0 0-1 0 0-4-1 0 0-1.4-1 0 0-7.3-1 0 0-2-1 0 0 12.6-1 0 0 0-1 0 0-1.6-1 0 0-7.6-1 0 0 0.1-1 0 0 0-1 0 0-5.5-1 0 0-2.3-1 0 0 0-1 0 0-1.1-1 0 0-3.4-1 0 0 3.4-1 0 0 0-1 0 0-0.9-1 0 0 3.5-1 0 0 0-1 0 0-9.9-1 0 0 0.5-1 0 0 2.4-1 0 0 0-1 0 0-1.6-1 0 0 3.4-1 0 0 0-1 0 0-1.4-1 0 0 6.1-1 0 0 0.4-1 0 0 0.1-1 0 0 14.6-1 0 0 0-1 0 0-2.2-1 0 0-12.5-1 0 0-0.3-1 0 0 0-1 0 0 3.6-1 0 0 0-1 0 0-3.9-1 0 0-3.1-1 0 0-0.5-1 0 0 1.1-1 0 0 14.4-1 0 0 0-1 0 0-6-1 0 0-9-1 0 0 0-1 0 0 2.8-1 0 0 0-1 0 0-9.7-1 0 0 5.1-1 0 0 4.7-1 0 0 0-1 0 0 1.6-1 0 0 0-1 0 0-3.9-1 0 0 1.2-1 0 0 0-1 0 0-1-1 0 0 0-1 0 0 3.7-1 0 0 5.7-1 0 0 0-1 0 0-3-1 0 0-3.8-1 0 0 0-1 0 0 1-1 0 0 0-1 0 0 1.6-1 0 0 0-1 0 0-2.6-1 0 0 0-1 0 0 4-1 0 0 0-1 0 0-0.8-1 0 0 0-1 0 0-7.8-1 0 0 0-1 0 0 9.5-1 0 0 2.1-1 0 0 0-1 0 0-10.5-1 0 0 1.3-1 0 0 0-1 0 0 0-1 0 0-2.4-1 0 0 0-1 0 0 11.7-1 0 0 0-1 0 0-6.9-1 0 0-4.6-1 0 0 10.7-1 0 0 1.9-1 0 0 0-1 0 0-10.1-1 0 0 0-1 0 0-0.9-1 0 0-0.3-1 0 0-6.7-1 0 0 2.2-1 0 0 6.6-1 0 0 21.2-1 0 0 0-1 0 0-23.9-1 0 0-1.3-1 0 0-3.5-1 0 0-0.7-1 0 0 0-1 0 0-2.7-1 0 0 0-1 0 0 4.8-1 0 0 0-1 0 0-0.3-1 0 0 12.9-1 0 0 0-1 0 0-0.8-1 0 0-7.9-1 0 0 7.4-1 0 0 10.5-1 0 0 0-1 0 0-7.8-1 0 0-11.8-1 0 0 12.6-1 0 0 0-1 0 0-0.9-1 0 0-4.6-1 0 0 1.7-1 0 0 0-1 0 0-2.1-1 0 0 21.2-1 0 0 0-1 0 0 0-1 0 0-0.3-1 0 0 0-1 0 0-21.4-1 0 0 2.2-1 0 0 12.7-1 0 0 3.1-1 0 0 0-1 0 0-14.2-1 0 0-1.8-1 0 0 9.5-1 0 0 6.8-1 0 0 0-1 0 0-0.5-1 0 0-21.5-1 0 0 29.3-1 0 0 0-1 0 0 0-1 0 0-12-1 0 0 0-1 0 0-14.4-1 0 0 0.7-1 0 0 2.8-1 0 0 0-1 0 0-4.5-1 0 0 22.2-1 0 0 0-1 0 0-29.4-1 0 0-6.9-1 0 0 15.2-1 0 0 0-1 0 0-2.7-1 0 0 2.3-1 0 0 0-1 0 0-3.5-1 0 0 4.2-1 0 0 0-1 0 0-4.1-1 0 0 7.7-1 0 0 0-1 0 0 0.3-1 0 0 0-1 0 0 0-1 0 0-14.1-1 0 0 8.8-1 0 0 0-1 0 0-3-1 0 0-7.8-1 0 0 0.8-1 0 0 0.8-1 0 0 1.9-1 0 0 25.8-1 0 0 0-1 0 0 0-1 0 0-20.3-1 0 0 0-1 0 0-3.9-1 0 0 4.7-1 0 0 0-1 0 0-2.3-1 0 0 0.7-1 0 0 1.5-1 0 0 0-1 0 0 2.1-1 0 0 0.1-1 0 0 0-1 0 0-0.3-1 0 0 3.4-1 0 0 4.5-1 0 0 0-1 0 0-2.8-1 0 0 0-1 0 0 3.3-1 0 0 10.5-1 0 0 0-1 0 0-11.3-1 0 0-3.1-1 0 0 5.6-1 0 0 0-1 0 0-6.2-1 0 0 15.2-1 0 0 0.3-1 0 0 0-1 0 0-7-1 0 0 0-1 0 0 0.5-1 0 0 2.2-1 0 0 0-1 0 0-3.9-1 0 0 0-1 0 0 4.5-1 0 0 5.7-1 0 0 0.9-1 0 0 8.2-1 0 0 2.9-1 0 0 1.7-1 0 0 0-1 0 0-3.1-1 0 0 6.6-1 0 0 2-1 0 0 0-1 0 0-5.4-1 0 0 6-1 0 0 1.9-1 0 0 0-1 0 0-6.8-1 0 0 3.1-1 0 0 5.4-1 0 0 0-1 0 0-4.7-1 0 0 5.9-1 0 0 0-1 0 0 5.7-1 0 0 0-1 0 0-3.8-1 0 0-5.1-1 0 0 0-1 0 0-0.7-1 0 0 4.9-1 0 0 0-1 0 0-3.7-1 0 0 2-1 0 0 1.7-1 0 0 0-1 0 0-3.6-1 0 0 0.6-1 0 0 3.5-1 0 0 0-1 0 0 5.1-1 0 0 0-1 0 0 1.2-1 0 0 2.4-1 0 0 0-1 0 0-6.1-1 0 0-6-1 0 0 0-1 0 0 2.5-1 0 0 1.6-1 0 0 2.9-1 0 0 0-1 0 0 0.2-1 0 0 5.9-1 0 0 0-1 0 0-9.8-1 0 0 2.2-1 0 0 4.2-1 0 0 0-1 0 0-1.1-1 0 0-6.3-1 0 0 10.3-1 0 0 0-1 0 0-2.1-1 0 0-3.6-1 0 0 1.5-1 0 0 0-1 0 0-1.5-1 0 0-4.6-1 0 0 6.3-1 0 0 0-1 0 0-2.8-1 0 0-0.9-1 0 0-2.7-1 0 0-1.7-1 0 0 1.7-1 0 0 21.8-1 0 0 0-1 0 0 0-1 0 0-7.1-1 0 0-3.2-1 0 0-7.9-1 0 0 2.8-1 0 0 1.5-1 0 0 0-1 0 0-4.2-1 0 0 0.5-1 0 0 0.2-1 0 0 3.1-1 0 0 7.9-1 0 0 0-1 0 0-5.2-1 0 0 2.4-1 0 0 0-1 0 0-0.2-1 0 0 16.9-1 0 0 0-1 0 0-1.1-1 0 0-2.5-1 0 0-2.4-1 0 0-8-1 0 0 2.2-1 0 0 0.7-1 0 0 0-1 0 0-1.1-1 0 0 0-1 0 0-2.1-1 0 0 0-1 0 0 3.3-1 0 0 3.5-1 0 0 20.5-1 0 0 0-1 0 0 0-1 0 0-40.7-1 0 0-2.5-1 0 0 3.7-1 0 0 0-1 0 0-4.5-1 0 0 0-1 0 0-0.8-1 0 0 12.3-1 0 0 1.7-1 0 0 0-1 0 0-6.6-1 0 0 2.1-1 0 0 0-1 0 0-4.1-1 0 0 0-1 0 0-3.4-1 0 0-0.1-1 0 0 18.9-1 0 0 0-1 0 0-12.8-1 0 0-1.9-1 0 0 0-1 0 0 7.7-1 0 0 0-1 0 0-2.9-1 0 0-8.1-1 0 0 0-1 0 0-1.7-1 0 0 13.4-1 0 0 0-1 0 0-5.7-1 0 0-5.2-1 0 0-0.6-1 0 0-1-1 0 0 0-1 0 0 0.9-1 0 0 6.6-1 0 0 10.5-1 0 0 0-1 0 0-16.9-1 0 0-1.6-1 0 0 5.7-1 0 0 0-1 0 0-2.6-1 0 0-3-1 0 0 12.5-1 0 0 4.8-1 0 0 20.4-1 0 0 0-1 0 0 0-1 0 0-31.2-1 0 0-9-1 0 0 10.3-1 0 0 4.5-1 0 0 0-1 0 0-7.6-1 0 0-4.5-1 0 0 5.1-1 0 0 0-1 0 0-8.1-1 0 0-5.3-1 0 0 3.1-1 0 0 0-1 0 0-1.8-1 0 0 10.9-1 0 0 0.9-1 0 0 0-1 0 0-3.4-1 0 0 0-1 0 0-1.6-1 0 0-3.8-1 0 0 1.3-1 0 0 0.2-1 0 0 0-1 0 0 0.7-1 0 0 0-1 0 0-0.8-1 0 0-3.7-1 0 0 0-1 0 0-1-1 0 0 5.1-1 0 0 0-1 0 0-2.2-1 0 0 0.6-1 0 0 0-1 0 0-2.3-1 0 0 6.4-1 0 0 8.3-1 0 0 0-1 0 0-7.9-1 0 0 2.2-1 0 0 0-1 0 0-2.2-1 0 0 0-1 0 0-2.7-1 0 0 5.9-1 0 0 0-1 0 0-1.3-1 0 0 0-1 0 0-1.9-1 0 0-3.2-1 0 0 0-1 0 0 4.1-1 0 0 3.8-1 0 0 0-1 0 0-0.3-1 0 0-4.1-1 0 0-0.3-1 0 0-2.8-1 0 0 22-1 0 0 0-1 0 0-16.1-1 0 0 22.3-1 0 0 0-1 0 0-21.4-1 0 0 0.1-1 0 0 0-1 0 0-1.5-1 0 0 4.7-1 0 0 0-1 0 0-3.4-1 0 0-0.3-1 0 0 1.6-1 0 0 11.7-1 0 0 0.2-1 0 0 0-1 0 0-5.9-1 0 0 9.5-1 0 0 0-1 0 0-6.6-1 0 0-1.2-1 0 0 0-1 0 0-4.2-1 0 0 1.3-1 0 0 2.1-1 0 0 0-1 0 0 25.6-1 0 0 0-1 0 0-24.4-1 0 0 0-1 0 0 3.4-1 0 0 0.1-1 0 0 21.4-1 0 0 0-1 0 0 0-1 0 0-18.7-1 0 0 10-1 0 0 0-1 0 0-8.3-1 0 0-2.2-1 0 0 1.4-1 0 0 0-1 0 0 6.7-1 0 0 0-1 0 0 3.3-1 0 0 0-1 0 0-0.4-1 0 0-4.2-1 0 0 1.7-1 0 0 0-1 0 0 1-1 0 0 0-1 0 0 9-1 0 0 0-1 0 0 3.6-1 0 0 0-1 0 0-1.2-1 0 0 12-1 0 0 11.5-1 0 0 0-1 0 0-6.7-1 0 0 15.6-1 0 0 0-1 0 0-9.1-1 0 0-13.8-1 0 0 24.9-1 0 0 0-1 0 0 0-1 0 0-22.1-1 0 0 35.2-1 0 0 0-1 0 0-37.5-1 0 0 19.4-1 0 0 0-1 0 0-4.2-1 0 0-2.4-1 0 0 0-1 0 0-8.2-1 0 0-0.3-1 0 0-0.3-1 0 0-2.7-1 0 0-0.5-1 0 0 6.6-1 0 0 3.4-1 0 0 0-1 0 0 0.2-1 0 0 0.8-1 0 0 0-1 0 0-5.8-1 0 0 9.1-1 0 0 0-1 0 0-10.7-1 0 0-5.5-1 0 0 4.8-1 0 0 0-1 0 0 7.2-1 0 0 10.5-1 0 0 0-1 0 0-22.6-1 0 0 26-1 0 0 0-1 0 0-18.9-1 0 0-8.8-1 0 0 5.2-1 0 0 0-1 0 0-1.7-1 0 0 0-1 0 0-0.4-1 0 0 3.9-1 0 0 0-1 0 0-6-1 0 0 8.4-1 0 0 0-1 0 0-2.1-1 0 0-6.4-1 0 0-3.8-1 0 0-9.5-1 0 0-5-1 0 0-5.4-1 0 0-8.8-1 0 0-0.3-1 0 0-3.8-1 0 0-2.9-1 0 0 4-1 0 0 0-1 0z" fill="#6495ed" clip-path="url(#c3)"/>
<path d="M1053.9 462.9l1 0 0-3.8 1 0 0 0 1 0 0-6.1 1 0 0-2.7 1 0 0-4 1 0 0-10.5 1 0 0 0 1 0 0 0 1 0 0 2.9 1 0 0-2.6 1 0 0-6.1 1 0 0 0 1 0 0 0 1 0 0-2.5 1 0 0 0 1 0 0 0 1 0 0 6.3 1 0 0 4.8 1 0 0-1.2 1 0 0 0 1 0 0-9.8 1 0 0 0 1 0 0 0 1 0 0 6.8 1 0 0 0 1 0 0 0.8 1 0 0 0 1 0 0 0.2 1 0 0-3.9 1 0 0-6.1 1 0 0 0 1 0 0 0 1 0 0 1.3 1 0 0 0 1 0 0-2.9 1 0 0 0 1 0 0 0 1 0 0 4.5 1 0 0 0 1 0 0-0.3 1 0 0 0 1 0 0-18.5 1 0 0 0 1 0 0 8.7 1 0 0 0 1 0 0 1.6 1 0 0 0 1 0 0 8 1 0 0-10.1 1 0 0 0 1 0 0 0 1 0 0 6.5 1 0 0-0.9 1 0 0 0 1 0 0 0 1 0 0 7.2 1 0 0 1.6 1 0 0 0.9 1 0 0 0 1 0 0 1.9 1 0 0 0.1 1 0 0-1.5 1 0 0-17.9 1 0 0-4.3 1 0 0 0 1 0 0 0 1 0 0 5.1 1 0 0 8.7 1 0 0 12 1 0 0 0 1 0 0-2.6 1 0 0-35.8 1 0 0 0 1 0 0 37.2 1 0 0-0.8 1 0 0 0 1 0 0 0 1 0 0-0.7 1 0 0-4.3 1 0 0-2.8 1 0 0 0 1 0 0 0 1 0 0 11.1 1 0 0-10 1 0 0-4.1 1 0 0-1.4 1 0 0 0 1 0 0 0 1 0 0 14.7 1 0 0-6.1 1 0 0-0.7 1 0 0-3.1 1 0 0 0 1 0 0 0 1 0 0-1.4 1 0 0 0 1 0 0 0 1 0 0 8.6 1 0 0-8.6 1 0 0-6.7 1 0 0 0 1 0 0 0 1 0 0 9.8 1 0 0 4.8 1 0 0 0.7 1 0 0 0 1 0 0-39.8 1 0 0 0 1 0 0 31.2 1 0 0 0 1 0 0 0 1 0 0 3.9 1 0 0 5.8 1 0 0-4 1 0 0-4.3 1 0 0 0 1 0 0 0 1 0 0 7 1 0 0 4.8 1 0 0-9.9 1 0 0 0 1 0 0 0 1 0 0 1.1 1 0 0 0.3 1 0 0-3.4 1 0 0-15 1 0 0 0 1 0 0 0 1 0 0 4.1 1 0 0 9.5 1 0 0 0 1 0 0 0 1 0 0 2.1 1 0 0-14.8 1 0 0-4.8 1 0 0-3.2 1 0 0 0 1 0 0 0 1 0 0 0.5 1 0 0 4.9 1 0 0 11.3 1 0 0 0.2 1 0 0 0.5 1 0 0-11.2 1 0 0-11.2 1 0 0 0 1 0 0 0 1 0 0 17.8 1 0 0-0.1 1 0 0 0 1 0 0 0 1 0 0 0.6 1 0 0 9.2 1 0 0-41.9 1 0 0 0 1 0 0 0 1 0 0 31.6 1 0 0 0 1 0 0-6.6 1 0 0 0 1 0 0 0 1 0 0 8.5 1 0 0 3.4 1 0 0-9 1 0 0-5.7 1 0 0 0 1 0 0 0 1 0 0 2.3 1 0 0-11.1 1 0 0 0 1 0 0 0 1 0 0 4.1 1 0 0-3.1 1 0 0 0 1 0 0 0 1 0 0-4.2 1 0 0 0 1 0 0 0 1 0 0 6.3 1 0 0-10 1 0 0 0 1 0 0 0 1 0 0 1.5 1 0 0-2.5 1 0 0-12.3 1 0 0 0 1 0 0 0 1 0 0 11.3 1 0 0 0 1 0 0 10.6 1 0 0 0 1 0 0 0 1 0 0 0.8 1 0 0 0 1 0 0-0.7 1 0 0 0 1 0 0-0.5 1 0 0-13.6 1 0 0-16.8 1 0 0 0 1 0 0 0 1 0 0 0.4 1 0 0 4.7 1 0 0 23.9 1 0 0-7.5 1 0 0-3.8 1 0 0 0 1 0 0-14 1 0 0 0 1 0 0 0 1 0 0 8.5 1 0 0-47.6 1 0 0 0 1 0 0 0 1 0 0 54.1 1 0 0-7.1 1 0 0-29.8 1 0 0 0 1 0 0 0 1 0 0 15.2 1 0 0 13.6 1 0 0 0 1 0 0 0 1 0 0 4 1 0 0-6.9 1 0 0 0 1 0 0-4.2 1 0 0 0 1 0 0-29.3 1 0 0-7.6 1 0 0 0 1 0 0 0 1 0 0 55.1 1 0 0 8.6 1 0 0-13.5 1 0 0 0 1 0 0 0 1 0 0-17.2 1 0 0 0 1 0 0 0 1 0 0-2.6 1 0 0 0 1 0 0 0 1 0 0 14.4 1 0 0 2.6 1 0 0 0 1 0 0 0 1 0 0 4.9 1 0 0 3 1 0 0-10.9 1 0 0 0 1 0 0-7.6 1 0 0 0 1 0 0 0 1 0 0 16.9 1 0 0-1.9 1 0 0 0 1 0 0 0 1 0 0 2.6 1 0 0 3.8 1 0 0-10.9 1 0 0 0 1 0 0-4.8 1 0 0 0 1 0 0 0 1 0 0 1.5 1 0 0 3.3 1 0 0 0 1 0 0 0 1 0 0 1.8 1 0 0 0 1 0 0 0 1 0 0-12.8 1 0 0 0 1 0 0 0 1 0 0 1.3 1 0 0 9.5 1 0 0 4.7 1 0 0-3.9 1 0 0 0 1 0 0 0 1 0 0-3.4 1 0 0-7.1 1 0 0 0 1 0 0 0 1 0 0 8.1 1 0 0 0 1 0 0 0 1 0 0 1.7 1 0 0-5.3 1 0 0 0 1 0 0 0 1 0 0 3.2 1 0 0-8.2 1 0 0-4.8 1 0 0 0 1 0 0 0 1 0 0 12 1 0 0 1.4 1 0 0 0 1 0 0-24.5 1 0 0-4.9 1 0 0 0 1 0 0 0 1 0 0 23.8 1 0 0 11.7 1 0 0 0 1 0 0 0.2 1 0 0 2.8 1 0 0 0 1 0 0 0 1 0 0-8.9 1 0 0 0 1 0 0 0 1 0 0 12.6 1 0 0 5.5 1 0 0 0.1 1 0 0-5.2 1 0 0-4.1 1 0 0 0 1 0 0 0 1 0 0 9.9 1 0 0-8.4 1 0 0-5.2 1 0 0-0.6 1 0 0 0 1 0 0 0 1 0 0 5 1 0 0 1.6 1 0 0-9.9 1 0 0 0 1 0 0 0 1 0 0 9.7 1 0 0 0 1 0 0 2.9 1 0 0 9.7 1 0 0-0.4 1 0 0 0 1 0 0 0 1 0 0-1.4 1 0 0 0 1 0 0 0 1 0 0-0.4 1 0 0 0 1 0 0-17.4 1 0 0 0 1 0 0 20.2 1 0 0-9.9 1 0 0-2.8 1 0 0 0 1 0 0 0 1 0 0 15.3 1 0 0 0 1 0 0-3.8 1 0 0-5.4 1 0 0-3.9 1 0 0 0 1 0 0 0 1 0 0 15.9 1 0 0 0 1 0 0-1.8 1 0 0 0 1 0 0-9.9 1 0 0 0 1 0 0-8.1 1 0 0 0 1 0 0 0 1 0 0 11.9 1 0 0 12.7 1 0 0 0.3 1 0 0-6.7 1 0 0 0 1 0 0 0 1 0 0 8.2 1 0 0 0 1 0 0-4.8 1 0 0-2.5 1 0 0 0 1 0 0 0 1 0 0-5.7 1 0 0 0 1 0 0 17.6 1 0 0 0 1 0 0 0 1 0 0 2.1 1 0 0 0 1 0 0 0 1 0 0-2.1 1 0 0 0 1 0 0 0 1 0 0-10.6 1 0 0 0 1 0 0 0 1 0 0 19.1 1 0 0 0 1 0 0 1 1 0 0-8.8 1 0 0 0 1 0 0-7.1 1 0 0 0 1 0 0 0 1 0 0 6.6 1 0 0 0 1 0 0-5.7 1 0 0 0 1 0 0 0 1 0 0 0.9 1 0 0 0 1 0 0 0 1 0 0 0.1 1 0 0-0.5 1 0 0 0 1 0 0 0 1 0 0 10.1 1 0 0-2.8 1 0 0 0 1 0 0-24.3 1 0 0 0 1 0 0 0 1 0 0 9.3 1 0 0 20.5 1 0 0 1.3 1 0 0 0 1 0 0 0 1 0 0-2.6 1 0 0 0 1 0 0 0 1 0 0 4.7 1 0 0-2.8 1 0 0-3 1 0 0 0 1 0 0 0 1 0 0 12.2 1 0 0-5.2 1 0 0 0 1 0 0 0 1 0 0-12.8 1 0 0 0 1 0 0 11.4 1 0 0 0 1 0 0 0 1 0 0 2.3 1 0 0 0 1 0 0 4.5 1 0 0 6.7 1 0 0 1.2 1 0 0-0.9 1 0 0-5 1 0 0-14.8 1 0 0 0 1 0 0 0 1 0 0 7.1 1 0 0 2.8 1 0 0 0 1 0 0 6.3 1 0 0 0.2 1 0 0 0 1 0 0 0 1 0 0 7 1 0 0 0 1 0 0 0 1 0 0-1.1 1 0 0 0 1 0 0 0 1 0 0 0.2 1 0 0-1 1 0 0-1.7 1 0 0-2.8 1 0 0-1.5 1 0 0 0 1 0 0-2.8 1 0 0 0 1 0 0-22 1 0 0 0 1 0 0 0 1 0 0 17.4 1 0 0 0 1 0 0 6.2 1 0 0 1.7 1 0 0 0 1 0 0-3.3 1 0 0 0 1 0 0 0 1 0 0 7 1 0 0 0 1 0 0-1.9 1 0 0-1.8 1 0 0 0 1 0 0 0 1 0 0 2.9 1 0 0-13.9 1 0 0 0 1 0 0 0 1 0 0 7 1 0 0 11 1 0 0-5.3 1 0 0 0 1 0 0 0 1 0 0 5.6 1 0 0 1.3 1 0 0-0.5 1 0 0-8 1 0 0 0 1 0 0 0 1 0 0 4.6 1 0 0 2.4 1 0 0 0 1 0 0-0.5 1 0 0 0 1 0 0-5.6 1 0 0-3.6 1 0 0-0.3 1 0 0 0 1 0 0 0 1 0 0 6.4 1 0 0 0 1 0 0 0 1 0 0 7.6 1 0 0-26.3 1 0 0 0 1 0 0 23.7 1 0 0-0.1 1 0 0 0 1 0 0 0 1 0 0 2.3 1 0 0-0.7 1 0 0-4.9 1 0 0 0 1 0 0 0 1 0 0 1.2 1 0 0 0 1 0 0-0.5 1 0 0 0 1 0 0 0 1 0 0 0.4 1 0 0 5.5 1 0 0 0 1 0 0 0 1 0 0-2.7 1 0 0 0 1 0 0 0 1 0 0 6.1 1 0 0 0.1 1 0 0 0 1 0 0 0 1 0 0-5.6 1 0 0 0 1 0 0 0 1 0 0 6.9 1 0 0-4.1 1 0 0 0 1 0 0 0 1 0 0 1.4 1 0 0 0 1 0 0-5.4 1 0 0 0 1 0 0 0 1 0 0 1.3 1 0 0 0.6 1 0 0 0 1 0 0-16.8 1 0 0 0 1 0 0 0 1 0 0 27.1 1 0 0-0.1 1 0 0-21.2 1 0 0 0 1 0 0 0 1 0 0 16.5 1 0 0 0 1 0 0 2.6 1 0 0 5 1 0 0 0 1 0 0 0.2 1 0 0 0 1 0 0 1.2 1 0 0 0 1 0 0 0 1 0 0 3 1 0 0-7.3 1 0 0-4.1 1 0 0 0 1 0 0 0 1 0 0 11.1 1 0 0 0 1 0 0 0 1 0 0 1.5 1 0 0-7.9 1 0 0-4.4 1 0 0 0 1 0 0 0 1 0 0 6.3 1 0 0 1.3 1 0 0-7.1 1 0 0-4.5 1 0 0 0 1 0 0 0 1 0 0 3.7 1 0 0 3.2 1 0 0 0 1 0 0 1.5 1 0 0 0 1 0 0-3.2 1 0 0 0 1 0 0 0 1 0 0 4.8 1 0 0-0.2 1 0 0 0 1 0 0-9.5 1 0 0 0 1 0 0 0 1 0 0 8.5 1 0 0 3 1 0 0-4.4 1 0 0 0 1 0 0 0 1 0 0 7.3 1 0 0-18.6 1 0 0 0 1 0 0 17.3 1 0 0-0.5 1 0 0-0.3 1 0 0 0 1 0 0-3.3 1 0 0 0 1 0 0 0 1 0 0 0.2 1 0 0 0 1 0 0 0 1 0 0 7.6 1 0 0-1 1 0 0-0.2 1 0 0-11.3 1 0 0 0 1 0 0 0 1 0 0 5.4 1 0 0 2.3 1 0 0-1.8 1 0 0 0 1 0 0 0 1 0 0-0.8 1 0 0 0 1 0 0-1 1 0 0-2.7 1 0 0 0 1 0 0 0 1 0 0 3.9 1 0 0 1.5 1 0 0-1.1 1 0 0 0 1 0 0 0 1 0 0 1.1 1 0 0-0.8 1 0 0-14.8 1 0 0 0 1 0 0 0 1 0 0 15.5 1 0 0 2.1 1 0 0 0 1 0 0 2.4 1 0 0-7.3 1 0 0 0 1 0 0-1.9 1 0 0-0.4 1 0 0 0 1 0 0 0 1 0 0 2.3 1 0 0 3.9 1 0 0-0.6 1 0 0 0 1 0 0 0 1 0 0 7.1 1 0 0 0 1 0 0-0.5 1 0 0-0.9 1 0 0-1.3 1 0 0 0 1 0 0-1.9 1 0 0 0 1 0 0 0 1 0 0 7.8 1 0 0-4.7 1 0 0 0 1 0 0 0 1 0 0-14.6 1 0 0 0 1 0 0 11 1 0 0 0 1 0 0 0.7 1 0 0-7.8 1 0 0 0 1 0 0 0 1 0 0 4.6 1 0 0 7 1 0 0 0 1 0 0-0.8 1 0 0-4.9 1 0 0-0.5 1 0 0-1 1 0 0-11.8 1 0 0-0.9 1 0 0 0 1 0 0 0 1 0 0 13.8 1 0 0-9.5 1 0 0 0 1 0 0 12 1 0 0 1.3 1 0 0-0.1 1 0 0 0 1 0 0-5.3 1 0 0-5.5 1 0 0-5.5 1 0 0 0 1 0 0-4.7 1 0 0 0 1 0 0 0 1 0 0 4.5 1 0 0 12.2 1 0 0-0.4 1 0 0-2.9 1 0 0-4.2 1 0 0 0 1 0 0 0 1 0 0 0.2 1 0 0 0.9 1 0 0 0 1 0 0 2.5 1 0 0 0 1 0 0 3.5 1 0 0 4.6 1 0 0-6.6 1 0 0 0 1 0 0 0 1 0 0 3 1 0 0 0 1 0 0-8.3 1 0 0 0 1 0 0 0 1 0 0 2.1 1 0 0 2.6 1 0 0 0 1 0 0 0.2 1 0 0 0 1 0 0 0 1 0 0 5.7 1 0 0-2.8 1 0 0-1 1 0 0 0 1 0 0 0 1 0 0 6.4 1 0 0-4.9 1 0 0 0 1 0 0 0 1 0 0 7.6 1 0 0-15.4 1 0 0-6.4 1 0 0 0 1 0 0-18.7 1 0 0 0 1 0 0 38.5 1 0 0 0 1 0 0 0 1 0 0-2.1 1 0 0 0 1 0 0 0 1 0 0 8.2 1 0 0 0 1 0 0 3.1 1 0 0 0 1 0 0 1.1 1 0 0 0 1 0 0 0 1 0 0 6.7 1 0 0 0.3 1 0 0 27.3-1 0 0 0-1 0 0 1.7-1 0 0 0-1 0 0-2.1-1 0 0-3.1-1 0 0 0.1-1 0 0 0-1 0 0 26.3-1 0 0 0-1 0 0 0-1 0 0-29-1 0 0 1.6-1 0 0 0-1 0 0-5.3-1 0 0-1.4-1 0 0 17.2-1 0 0 6.7-1 0 0 0-1 0 0-19.4-1 0 0-1.3-1 0 0 2.3-1 0 0 0-1 0 0-2.7-1 0 0-1.7-1 0 0 0-1 0 0 7.7-1 0 0 0-1 0 0-4.8-1 0 0-1.2-1 0 0 1.7-1 0 0 3.5-1 0 0 0-1 0 0-8.6-1 0 0 8.4-1 0 0 0-1 0 0 4.2-1 0 0 0-1 0 0-6.5-1 0 0-3.9-1 0 0 0-1 0 0 0-1 0 0 0-1 0 0-3.2-1 0 0-2.9-1 0 0-0.7-1 0 0 3.7-1 0 0 0.7-1 0 0 0-1 0 0 4.3-1 0 0 0-1 0 0-4.1-1 0 0 0-1 0 0-3.9-1 0 0-4.3-1 0 0-4.1-1 0 0-1.2-1 0 0 8.1-1 0 0 11.8-1 0 0 0-1 0 0-2.3-1 0 0-2.7-1 0 0 0-1 0 0-5.5-1 0 0-5.2-1 0 0 0.7-1 0 0 0-1 0 0-2.7-1 0 0 4.4-1 0 0 0-1 0 0 0.9-1 0 0 2.1-1 0 0 6.9-1 0 0 11.8-1 0 0 0-1 0 0-11.5-1 0 0-5-1 0 0 0-1 0 0-3.4-1 0 0-3.6-1 0 0 0-1 0 0 0-1 0 0 0.5-1 0 0 12.9-1 0 0 0-1 0 0-5.6-1 0 0-6.7-1 0 0 8.4-1 0 0 0-1 0 0-7.7-1 0 0 0.5-1 0 0 1.9-1 0 0 0-1 0 0-1.4-1 0 0-1-1 0 0 15-1 0 0 0-1 0 0-5.1-1 0 0-3.4-1 0 0 0-1 0 0-4.1-1 0 0 14.8-1 0 0 0-1 0 0 0-1 0 0-13.8-1 0 0 4.5-1 0 0 0-1 0 0-4-1 0 0 0-1 0 0 9.2-1 0 0 0-1 0 0-1-1 0 0-5.5-1 0 0-0.1-1 0 0-2.3-1 0 0-7.5-1 0 0 2.8-1 0 0 26.1-1 0 0 0-1 0 0 0-1 0 0-17.2-1 0 0 0-1 0 0-11.3-1 0 0 2.7-1 0 0 5.2-1 0 0 0-1 0 0-4.2-1 0 0 2.2-1 0 0 0-1 0 0 4.3-1 0 0 1-1 0 0 0-1 0 0-4-1 0 0 0-1 0 0-1.4-1 0 0 20.8-1 0 0 0-1 0 0-22.6-1 0 0-2.1-1 0 0 0-1 0 0 8.2-1 0 0 0-1 0 0-4.4-1 0 0-7.2-1 0 0 0-1 0 0 15.1-1 0 0 0-1 0 0-8.1-1 0 0 0-1 0 0 0.4-1 0 0 0-1 0 0-5.2-1 0 0 3.1-1 0 0 0-1 0 0-6.8-1 0 0 2.8-1 0 0 0-1 0 0-2.8-1 0 0 0-1 0 0 3.1-1 0 0 3.7-1 0 0 0-1 0 0-7.5-1 0 0 1.5-1 0 0 5.3-1 0 0 13.9-1 0 0 0-1 0 0 0-1 0 0-22.6-1 0 0 0-1 0 0 3.3-1 0 0 17.1-1 0 0 0-1 0 0 0-1 0 0-18.2-1 0 0-2.8-1 0 0 1-1 0 0 1.2-1 0 0 7.4-1 0 0 0.2-1 0 0 0-1 0 0-7.1-1 0 0-3.2-1 0 0 0-1 0 0 9.8-1 0 0 1.2-1 0 0 0-1 0 0-5.8-1 0 0-3.2-1 0 0 2.1-1 0 0 0-1 0 0-0.7-1 0 0 7.8-1 0 0 5.8-1 0 0 0-1 0 0-12.2-1 0 0-1.4-1 0 0 0.1-1 0 0 0-1 0 0-1.7-1 0 0-1.9-1 0 0 1-1 0 0 0-1 0 0-2.5-1 0 0 0.3-1 0 0 5.1-1 0 0 0-1 0 0-4-1 0 0-5-1 0 0 1.1-1 0 0 0-1 0 0-1.4-1 0 0-0.4-1 0 0 1.1-1 0 0 1-1 0 0 7.5-1 0 0 0.6-1 0 0 0.9-1 0 0 1.6-1 0 0 0-1 0 0-1.7-1 0 0-4-1 0 0 0-1 0 0 22.7-1 0 0 0-1 0 0-20.5-1 0 0-8.5-1 0 0 11.6-1 0 0 0-1 0 0-2.7-1 0 0-8.4-1 0 0 13.2-1 0 0 0-1 0 0 0-1 0 0-5.7-1 0 0 0-1 0 0-2.7-1 0 0 1.6-1 0 0 0-1 0 0-6.8-1 0 0 5.5-1 0 0 5.8-1 0 0 0-1 0 0-1.3-1 0 0-0.1-1 0 0-1.3-1 0 0-3.1-1 0 0 4.3-1 0 0 0-1 0 0-8.2-1 0 0 0-1 0 0-0.1-1 0 0 3.8-1 0 0 0-1 0 0-6.3-1 0 0-1.7-1 0 0 0.2-1 0 0 15-1 0 0 0-1 0 0-10.4-1 0 0-0.4-1 0 0 4.6-1 0 0 4.2-1 0 0 0-1 0 0-3-1 0 0-6.7-1 0 0-1.7-1 0 0 0-1 0 0-1.4-1 0 0 0-1 0 0-5.1-1 0 0 11.1-1 0 0 0-1 0 0-4.3-1 0 0-5.3-1 0 0 0-1 0 0-1.5-1 0 0 6.1-1 0 0 0-1 0 0-1.3-1 0 0-3.2-1 0 0 1.4-1 0 0 17.3-1 0 0 0-1 0 0-8.8-1 0 0-7.9-1 0 0 0-1 0 0 5.8-1 0 0 0-1 0 0-10.4-1 0 0 1.5-1 0 0 0-1 0 0 0.9-1 0 0 3.7-1 0 0 0-1 0 0-8.9-1 0 0 0-1 0 0 6.9-1 0 0 0-1 0 0-6.9-1 0 0 0-1 0 0-1.3-1 0 0 8.3-1 0 0 0-1 0 0-0.5-1 0 0 0-1 0 0 0.4-1 0 0 0-1 0 0-5.3-1 0 0 0-1 0 0-2.2-1 0 0 2.1-1 0 0 0-1 0 0-0.5-1 0 0-1.3-1 0 0 2.4-1 0 0 0-1 0 0 1.3-1 0 0 5.6-1 0 0 0-1 0 0-7-1 0 0 10.6-1 0 0 2-1 0 0 0-1 0 0 7.5-1 0 0 0-1 0 0-3.6-1 0 0-16.8-1 0 0 0-1 0 0-1.4-1 0 0-1.5-1 0 0 4.8-1 0 0 7.6-1 0 0 0-1 0 0-1.1-1 0 0 2.1-1 0 0 0-1 0 0-4.3-1 0 0-6-1 0 0 10.1-1 0 0 0-1 0 0-3.2-1 0 0-3.8-1 0 0 3-1 0 0 10.2-1 0 0 0-1 0 0-15.7-1 0 0-4-1 0 0 9.8-1 0 0 0-1 0 0-6.9-1 0 0 0-1 0 0-5.4-1 0 0 0-1 0 0-5.2-1 0 0 15-1 0 0 4.8-1 0 0 0-1 0 0-16.2-1 0 0 0-1 0 0-3.9-1 0 0-2.5-1 0 0 0.6-1 0 0 2-1 0 0 0-1 0 0 28.4-1 0 0 0-1 0 0-26.6-1 0 0-12.3-1 0 0 9.6-1 0 0 0-1 0 0-4.3-1 0 0 0.3-1 0 0 0-1 0 0 4.6-1 0 0 2.1-1 0 0 0-1 0 0 23.8-1 0 0 0-1 0 0 0-1 0 0-29.7-1 0 0 0-1 0 0-1.2-1 0 0-0.4-1 0 0-0.5-1 0 0 8.4-1 0 0 3.6-1 0 0 0-1 0 0-6-1 0 0 2.8-1 0 0 0-1 0 0-4.3-1 0 0 0-1 0 0-0.9-1 0 0-6.4-1 0 0 0.7-1 0 0 8.1-1 0 0 7-1 0 0 0-1 0 0-7.8-1 0 0-3.3-1 0 0 0-1 0 0 0.3-1 0 0 0-1 0 0-2.3-1 0 0-6.4-1 0 0 0.2-1 0 0 0-1 0 0 18-1 0 0 0-1 0 0-6.6-1 0 0-3.1-1 0 0 0-1 0 0-10.3-1 0 0 1-1 0 0 0-1 0 0-0.4-1 0 0 7-1 0 0 8.8-1 0 0 0-1 0 0-5.7-1 0 0-4.1-1 0 0 43.5-1 0 0 0-1 0 0-39.3-1 0 0 11.3-1 0 0 0-1 0 0-12.1-1 0 0-4.4-1 0 0-4.1-1 0 0-6.5-1 0 0 12.9-1 0 0 0-1 0 0-2.7-1 0 0 0-1 0 0-6.2-1 0 0 0-1 0 0-0.7-1 0 0-5.4-1 0 0 0-1 0 0 3.8-1 0 0 11.1-1 0 0 0-1 0 0 6.3-1 0 0 0-1 0 0-9.8-1 0 0 0-1 0 0-3.3-1 0 0 9.1-1 0 0 1.6-1 0 0 0-1 0 0-3.3-1 0 0-5-1 0 0-13.1-1 0 0 13.7-1 0 0 0.9-1 0 0 0-1 0 0-7.7-1 0 0-5.5-1 0 0-0.3-1 0 0 0-1 0 0 11.5-1 0 0 0-1 0 0-0.6-1 0 0-19.4-1 0 0 13.5-1 0 0 0-1 0 0-14.4-1 0 0 12-1 0 0 0-1 0 0-10.5-1 0 0 30.4-1 0 0 10.1-1 0 0 0-1 0 0-22-1 0 0-17-1 0 0 10.2-1 0 0 0-1 0 0 4.1-1 0 0 3.1-1 0 0 0-1 0 0-11.8-1 0 0-4.7-1 0 0 11.9-1 0 0 0-1 0 0-7.8-1 0 0 0.3-1 0 0 0-1 0 0 2.3-1 0 0 0-1 0 0-1.6-1 0 0 6.3-1 0 0 0-1 0 0-15.8-1 0 0 0-1 0 0-0.2-1 0 0 0-1 0 0-4.6-1 0 0 0-1 0 0 8.5-1 0 0 6.8-1 0 0 0-1 0 0 15.3-1 0 0 0-1 0 0-26.9-1 0 0 0-1 0 0-0.5-1 0 0 9.8-1 0 0 0-1 0 0-0.7-1 0 0 9.4-1 0 0 0-1 0 0-7.2-1 0 0 0-1 0 0-1.4-1 0 0-4.1-1 0 0 0-1 0 0 7.5-1 0 0 0-1 0 0-5-1 0 0 0-1 0 0 6.2-1 0 0 11.9-1 0 0 0-1 0 0-7.2-1 0 0 0-1 0 0-8.7-1 0 0 0-1 0 0 6.7-1 0 0 0-1 0 0 45.1-1 0 0 0-1 0 0 0-1 0 0-20.3-1 0 0 0-1 0 0-3.2-1 0 0 0-1 0 0-10.7-1 0 0-3.4-1 0 0 0-1 0 0-10.5-1 0 0-4.7-1 0 0-1-1 0 0 15.4-1 0 0 10.6-1 0 0 0-1 0 0-8.7-1 0 0 0-1 0 0-10.3-1 0 0-0.8-1 0 0-1.7-1 0 0-5.9-1 0 0 4.7-1 0 0 0-1 0 0-0.7-1 0 0 2.7-1 0 0 27.7-1 0 0 0-1 0 0-5.9-1 0 0-24.6-1 0 0 0-1 0 0 9.9-1 0 0 21.5-1 0 0 0-1 0 0-20.5-1 0 0-3.7-1 0 0 1.6-1 0 0 1.3-1 0 0 3.6-1 0 0 0-1 0 0-8-1 0 0 0-1 0 0 8.5-1 0 0 19.2-1 0 0 0.5-1 0 0 0-1 0 0-4.5-1 0 0-21.2-1 0 0-2.7-1 0 0 0-1 0 0-1.3-1 0 0 0-1 0 0-2.3-1 0 0 0.9-1 0 0 3.8-1 0 0 0-1 0 0 7.4-1 0 0 0.2-1 0 0 6.8-1 0 0 7.8-1 0 0 0-1 0 0-4.7-1 0 0 0-1 0 0 4.9-1 0 0 0-1 0 0-13.4-1 0 0-4.6-1 0 0 13.7-1 0 0 0-1 0 0-3.4-1 0 0 1.2-1 0 0 0.7-1 0 0 0-1 0 0 1.9-1 0 0 4.1-1 0 0 0-1 0 0-0.3-1 0 0-7.9-1 0 0 0-1 0 0 7.7-1 0 0 0-1 0 0-15.6-1 0 0 0-1 0 0-0.6-1 0 0 12.5-1 0 0 0-1 0 0 0-1 0 0-1.4-1 0 0 0-1 0 0-8.7-1 0 0-0.2-1 0 0 1.5-1 0 0 0-1 0 0 2.2-1 0 0 11.7-1 0 0 0-1 0 0-8.6-1 0 0-0.8-1 0 0 12.9-1 0 0 5.7-1 0 0 0-1 0 0-11.4-1 0 0-8.8-1 0 0 9.2-1 0 0 0-1 0 0 2.6-1 0 0 11.6-1 0 0 2.1-1 0 0 0-1 0 0-2.1-1 0 0-2.2-1 0 0-9.3-1 0 0-9.8-1 0 0 7.2-1 0 0 0-1 0 0 0.5-1 0 0 0-1 0 0 19.1-1 0 0 0-1 0 0-7.1-1 0 0-10.9-1 0 0 0-1 0 0-0.5-1 0 0 7.4-1 0 0 0-1 0 0-9.1-1 0 0-0.9-1 0 0-1-1 0 0 8.3-1 0 0 2.9-1 0 0 0-1 0 0-7.9-1 0 0 0-1 0 0-1.9-1 0 0 9.5-1 0 0 0.6-1 0 0 0-1 0 0-6.3-1 0 0-7.4-1 0 0 0.1-1 0 0 1.6-1 0 0 0-1 0 0-0.6-1 0 0 9.9-1 0 0 2.6-1 0 0 0-1 0 0-13.5-1 0 0 0-1 0 0 4.3-1 0 0 1.3-1 0 0 0-1 0 0 1.6-1 0 0 0.1-1 0 0 0-1 0 0-1-1 0 0-1.9-1 0 0-3.5-1 0 0 11.2-1 0 0 7.5-1 0 0 0-1 0 0-3.1-1 0 0-4.9-1 0 0-9.8-1 0 0 9.5-1 0 0 3.1-1 0 0 0-1 0 0-4.3-1 0 0-5.7-1 0 0 1.4-1 0 0 0-1 0 0-4.4-1 0 0 3.1-1 0 0 0-1 0 0 0.1-1 0 0 0-1 0 0-2.1-1 0 0 34.2-1 0 0 0-1 0 0 0-1 0 0-12.4-1 0 0 2.6-1 0 0 0-1 0 0-14.2-1 0 0-13.6-1 0 0 0-1 0 0-0.4-1 0 0 2.2-1 0 0 0-1 0 0-3.7-1 0 0 6-1 0 0 0-1 0 0 6-1 0 0 0-1 0 0-7-1 0 0 3.2-1 0 0 0-1 0 0 0-1 0 0-9.1-1 0 0 8.8-1 0 0 2-1 0 0 0-1 0 0 6.4-1 0 0 0-1 0 0-14.6-1 0 0 0-1 0 0 4.5-1 0 0 0-1 0 0-5.3-1 0 0 5.1-1 0 0 3.7-1 0 0 0-1 0 0-3-1 0 0 0-1 0 0 2.2-1 0 0 0-1 0 0-0.4-1 0 0-6.4-1 0 0-0.8-1 0 0 1.5-1 0 0 1.1-1 0 0 0-1 0 0 1.5-1 0 0 2.1-1 0 0 22.1-1 0 0 0-1 0 0 0-1 0 0-29-1 0 0 0-1 0 0 1.2-1 0 0 5.8-1 0 0 1.1-1 0 0 0-1 0 0-1.6-1 0 0 10-1 0 0 0-1 0 0-10.5-1 0 0 2.5-1 0 0 14.6-1 0 0 0-1 0 0-3.4-1 0 0-2-1 0 0 0-1 0 0-1-1 0 0 3.5-1 0 0 0-1 0 0-2.2-1 0z" fill="#cd5c5c" clip-path="url(#c4)"/>
<path d="M1053.4 768.3l1 0 0 0 1 0 0-14.5 1 0 0 0 1 0 0 0 1 0 0 1.6 1 0 0-0.5 1 0 0 0 1 0 0 0 1 0 0 4.3 1 0 0 0 1 0 0-7.5 1 0 0-6.5 1 0 0-22.4 1 0 0 0 1 0 0-26.8 1 0 0-60.4 1 0 0 0 1 0 0 0 1 0 0-12.1 1 0 0 0 1 0 0-8.2 1 0 0-35.4 1 0 0 0 1 0 0 34.3 1 0 0 13.6 1 0 0 0 1 0 0 0 1 0 0 2.3 1 0 0 0 1 0 0-8.5 1 0 0 0 1 0 0 0 1 0 0-6 1 0 0 0 1 0 0 0 1 0 0 2.6 1 0 0 9.9 1 0 0-1.8 1 0 0-6.8 1 0 0-14.1 1 0 0 0 1 0 0 0 1 0 0 1.6 1 0 0 0 1 0 0 18.1 1 0 0 19.4 1 0 0-9.6 1 0 0-3.7 1 0 0 0 1 0 0 0 1 0 0 11 1 0 0 0 1 0 0 13.2 1 0 0 20 1 0 0 5.6 1 0 0 3.9 1 0 0 0 1 0 0 0 1 0 0 1.7 1 0 0-3 1 0 0 0 1 0 0-3.6 1 0 0 0 1 0 0 0 1 0 0 11.6 1 0 0-0.1 1 0 0 0 1 0 0 0 1 0 0-8.5 1 0 0-6.1 1 0 0 0 1 0 0 11 1 0 0-13.8 1 0 0 0 1 0 0 0 1 0 0 30.4 1 0 0-11.3 1 0 0 0 1 0 0 0 1 0 0 7 1 0 0-26.2 1 0 0 0 1 0 0 31.6 1 0 0-0.1 1 0 0 0 1 0 0 0 1 0 0 4.2 1 0 0-3.7 1 0 0 0 1 0 0 0 1 0 0 4.2 1 0 0 7.3 1 0 0 0.2 1 0 0 1.1 1 0 0 3.6 1 0 0 0.1 1 0 0 3.7 1 0 0-1.3 1 0 0 0 1 0 0-2.1 1 0 0 0 1 0 0 0 1 0 0 2.9 1 0 0 3.2 1 0 0 0 1 0 0 0 1 0 0 3.3 1 0 0 1.6 1 0 0-8.6 1 0 0 0 1 0 0 0 1 0 0 2.1 1 0 0-7.8 1 0 0 0 1 0 0 0 1 0 0 12 1 0 0-5.6 1 0 0-1 1 0 0 0 1 0 0 0 1 0 0 4.5 1 0 0-6.2 1 0 0-2.8 1 0 0-22.9 1 0 0 0 1 0 0 0 1 0 0 28.5 1 0 0-3.5 1 0 0-4.5 1 0 0-0.8 1 0 0 0 1 0 0 0 1 0 0 0.6 1 0 0-3.3 1 0 0 0 1 0 0 0 1 0 0 6 1 0 0-0.7 1 0 0 0 1 0 0-3.9 1 0 0 0 1 0 0 0 1 0 0-0.6 1 0 0 0 1 0 0 0 1 0 0 6.2 1 0 0-7 1 0 0 0 1 0 0 3.6 1 0 0 11.7 1 0 0-4.4 1 0 0 0 1 0 0-6.2 1 0 0 0 1 0 0 0 1 0 0 8.1 1 0 0 0 1 0 0 8.4 1 0 0 2.3 1 0 0-3.3 1 0 0 0 1 0 0 0 1 0 0 0.4 1 0 0 0 1 0 0 0 1 0 0-8.1 1 0 0-14.9 1 0 0 0 1 0 0 0 1 0 0 19.8 1 0 0 0 1 0 0 0.8 1 0 0 5.3 1 0 0 5.5 1 0 0 0 1 0 0 0 1 0 0 7.8 1 0 0 2.8 1 0 0 0 1 0 0 0 1 0 0 1 1 0 0 1.3 1 0 0 0 1 0 0-16.4 1 0 0 0 1 0 0 16.6 1 0 0 0 1 0 0 0.8 1 0 0 0 1 0 0-0.5 1 0 0 0 1 0 0 0 1 0 0 6.6 1 0 0-1.1 1 0 0 0 1 0 0-0.1 1 0 0 0 1 0 0 0 1 0 0 1.2 1 0 0 0.1 1 0 0 0 1 0 0-1 1 0 0-3.1 1 0 0 0 1 0 0-1.4 1 0 0-1 1 0 0-4.2 1 0 0-5.8 1 0 0 0 1 0 0-8.3 1 0 0 0 1 0 0 0 1 0 0 5.4 1 0 0 0.6 1 0 0 0 1 0 0 3.5 1 0 0 0 1 0 0 5 1 0 0 0 1 0 0 0 1 0 0 8.4 1 0 0 1 1 0 0 0 1 0 0-6.6 1 0 0 0 1 0 0 0 1 0 0 0.8 1 0 0 1.5 1 0 0-6.2 1 0 0 0 1 0 0-12.7 1 0 0-4 1 0 0 0 1 0 0-16.6 1 0 0 0 1 0 0 0 1 0 0 4.8 1 0 0 0 1 0 0-9 1 0 0-0.8 1 0 0 0 1 0 0 0 1 0 0 5.1 1 0 0-9.6 1 0 0 0 1 0 0 0 1 0 0 4.8 1 0 0 0 1 0 0-8.5 1 0 0-13.7 1 0 0-7.6 1 0 0 0 1 0 0 0 1 0 0 3.4 1 0 0-2 1 0 0-14.1 1 0 0-6 1 0 0-17.7 1 0 0 0 1 0 0 17.3 1 0 0 15.4 1 0 0 4.4 1 0 0 3.5 1 0 0-13.9 1 0 0 0 1 0 0 0 1 0 0 0.7 1 0 0 2 1 0 0 0 1 0 0 0 1 0 0 2.5 1 0 0 0 1 0 0 1.6 1 0 0-0.6 1 0 0-0.5 1 0 0 0 1 0 0 0 1 0 0 6.3 1 0 0 10.3 1 0 0 5.5 1 0 0 0 1 0 0 0 1 0 0 2.1 1 0 0-2.6 1 0 0 0 1 0 0 0 1 0 0-1.5 1 0 0 0 1 0 0 0 1 0 0 10.4 1 0 0 0 1 0 0-2.6 1 0 0 0 1 0 0-0.7 1 0 0-7.8 1 0 0 0 1 0 0 0 1 0 0 7 1 0 0 0.8 1 0 0-7.2 1 0 0-5 1 0 0 0 1 0 0 0 1 0 0 9.9 1 0 0 0 1 0 0 2.2 1 0 0-16.4 1 0 0 0 1 0 0 0 1 0 0 5.7 1 0 0 4.7 1 0 0 0 1 0 0 0 1 0 0 5.5 1 0 0 1.9 1 0 0-0.9 1 0 0 0 1 0 0-0.5 1 0 0-8.9 1 0 0-1.5 1 0 0 0 1 0 0 0 1 0 0 20.7 1 0 0 0 1 0 0 8.4 1 0 0 0 1 0 0 0 1 0 0-7.3 1 0 0-3.6 1 0 0 0 1 0 0 0 1 0 0 14.6 1 0 0 0 1 0 0 0 1 0 0-6 1 0 0 0 1 0 0 0 1 0 0 13.9 1 0 0-0.1 1 0 0 0 1 0 0 0 1 0 0 3.4 1 0 0 0 1 0 0 1.2 1 0 0-2.6 1 0 0 0 1 0 0 0 1 0 0 6.7 1 0 0 0 1 0 0-0.7 1 0 0 0 1 0 0 0 1 0 0 2.6 1 0 0-2.7 1 0 0 0 1 0 0-2 1 0 0 0 1 0 0-6.6 1 0 0 0 1 0 0 0 1 0 0 4.6 1 0 0-4.3 1 0 0 0 1 0 0 0 1 0 0 5.3 1 0 0 0 1 0 0 0 1 0 0-1 1 0 0-1.2 1 0 0 0 1 0 0 0 1 0 0 3.6 1 0 0-10.3 1 0 0-0.5 1 0 0 0 1 0 0 0 1 0 0 6.9 1 0 0 2.2 1 0 0 0 1 0 0 0 1 0 0 1.3 1 0 0 5.7 1 0 0-1.4 1 0 0-0.1 1 0 0 0 1 0 0 0 1 0 0 1.6 1 0 0 0 1 0 0-2.9 1 0 0-7.8 1 0 0-3 1 0 0 0 1 0 0 0 1 0 0 1.8 1 0 0 0 1 0 0 0 1 0 0 1.8 1 0 0-7.1 1 0 0 0 1 0 0 0 1 0 0 0 1 0 0 0 1 0 0 0 1 0 0 1.7 1 0 0-8.8 1 0 0-11 1 0 0 0 1 0 0 0 1 0 0 0.8 1 0 0 11.2 1 0 0 0 1 0 0 1.8 1 0 0 0.7 1 0 0-3.7 1 0 0-4.9 1 0 0 0 1 0 0-13.5 1 0 0 0 1 0 0 17.7 1 0 0 3.4 1 0 0-19.7 1 0 0 0 1 0 0 22 1 0 0 2 1 0 0 0 1 0 0 1.3 1 0 0 0 1 0 0-0.7 1 0 0 0 1 0 0-1.3 1 0 0 0 1 0 0 0 1 0 0 4.6 1 0 0 0 1 0 0-3.1 1 0 0-1.2 1 0 0 0 1 0 0 0 1 0 0 7.4 1 0 0 0 1 0 0 0 1 0 0 7.2 1 0 0 10.1 1 0 0 0 1 0 0 0 1 0 0 0.5 1 0 0 0 1 0 0 3.1 1 0 0 0 1 0 0-1.2 1 0 0 0 1 0 0 0 1 0 0-2.7 1 0 0-6.4 1 0 0 0 1 0 0-0.2 1 0 0 0 1 0 0 0 1 0 0 0.1 1 0 0 0 1 0 0-11.1 1 0 0 0 1 0 0-0.8 1 0 0-2.4 1 0 0 0 1 0 0 0 1 0 0 2.4 1 0 0 0 1 0 0 2.2 1 0 0-1.7 1 0 0 0 1 0 0-2.7 1 0 0 0 1 0 0-2.9 1 0 0 0 1 0 0-4.1 1 0 0-3.7 1 0 0-2.2 1 0 0 0 1 0 0 0 1 0 0-6.3 1 0 0 0 1 0 0 0 1 0 0 2.2 1 0 0 18.8 1 0 0 0.4 1 0 0-1.4 1 0 0-1.8 1 0 0 0 1 0 0 0 1 0 0-6.7 1 0 0 0 1 0 0 0 1 0 0 8 1 0 0 0 1 0 0 4.3 1 0 0 2.2 1 0 0 0 1 0 0 3.8 1 0 0-2.1 1 0 0 0 1 0 0-2.8 1 0 0 0 1 0 0 0 1 0 0 3.7 1 0 0 0 1 0 0-6.1 1 0 0 0 1 0 0 0 1 0 0 8.8 1 0 0 1.8 1 0 0 0 1 0 0-8.7 1 0 0-8.9 1 0 0 0 1 0 0 0 1 0 0 7.7 1 0 0-0.2 1 0 0 0 1 0 0-0.9 1 0 0 0 1 0 0 0 1 0 0-12.3 1 0 0-1.6 1 0 0 0 1 0 0 0 1 0 0 10.8 1 0 0 0 1 0 0 5.6 1 0 0-2.3 1 0 0-9.9 1 0 0-1.3 1 0 0 0 1 0 0 0 1 0 0 12 1 0 0 0 1 0 0-0.4 1 0 0-0.8 1 0 0-15.6 1 0 0 0 1 0 0 16.4 1 0 0 0.2 1 0 0 0 1 0 0 0 1 0 0-11.3 1 0 0 0 1 0 0 0 1 0 0 5.6 1 0 0 0.6 1 0 0 2.2 1 0 0 3 1 0 0-1.3 1 0 0-4.9 1 0 0-9.9 1 0 0 0 1 0 0 0 1 0 0 4.9 1 0 0-1 1 0 0-12.4 1 0 0-3.9 1 0 0 0 1 0 0-2.2 1 0 0-13.9 1 0 0 0 1 0 0 5.5 1 0 0 10.5 1 0 0 7.6 1 0 0 3 1 0 0 1.1 1 0 0 0 1 0 0-21 1 0 0 0 1 0 0 0 1 0 0 26.8 1 0 0-0.2 1 0 0 0 1 0 0 0 1 0 0 4.2 1 0 0 0 1 0 0 0 1 0 0 0.6 1 0 0 3 1 0 0 0 1 0 0 0.3 1 0 0 9.8 1 0 0 0 1 0 0 8.3 1 0 0 0 1 0 0 0 1 0 0-4.4 1 0 0 0 1 0 0 0 1 0 0 5.8 1 0 0 2 1 0 0 0 1 0 0 0 1 0 0-2.3 1 0 0 0 1 0 0-6.3 1 0 0-5.9 1 0 0 0 1 0 0 0 1 0 0 3.6 1 0 0-3.8 1 0 0 0 1 0 0 0 1 0 0-2.2 1 0 0 0 1 0 0 0 1 0 0 2.1 1 0 0-0.5 1 0 0-0.5 1 0 0-5.9 1 0 0-7.7 1 0 0-7.7 1 0 0 0 1 0 0 0 1 0 0 10.2 1 0 0 3.5 1 0 0 0 1 0 0 0 1 0 0 2.2 1 0 0-10 1 0 0-0.9 1 0 0 0 1 0 0 0 1 0 0 1.4 1 0 0 1.4 1 0 0-8 1 0 0-0.2 1 0 0 0 1 0 0 0 1 0 0-5.4 1 0 0 0 1 0 0-7.7 1 0 0-20.6 1 0 0 0 1 0 0 25.8 1 0 0-2.3 1 0 0-5 1 0 0-9.2 1 0 0-1.6 1 0 0 0 1 0 0 0 1 0 0 13.9 1 0 0-5.7 1 0 0 0 1 0 0-2.8 1 0 0-4.7 1 0 0 0 1 0 0 0 1 0 0 2.9 1 0 0-5.2 1 0 0 0 1 0 0 0 1 0 0 4.9 1 0 0 13.5 1 0 0-4.4 1 0 0 0 1 0 0 0 1 0 0 7.3 1 0 0-12.4 1 0 0 0 1 0 0 0 1 0 0-10.1 1 0 0 0 1 0 0 0 1 0 0 17.8 1 0 0 16.7 1 0 0 0.9 1 0 0-9.2 1 0 0-5.4 1 0 0 0 1 0 0 0 1 0 0 13.2 1 0 0 11.5 1 0 0 0.5 1 0 0-4.1 1 0 0-5.9 1 0 0 0 1 0 0-10.4 1 0 0 0 1 0 0 17.9 1 0 0-7.5 1 0 0-2.8 1 0 0 0 1 0 0 0 1 0 0 6.9 1 0 0 0 1 0 0-4.5 1 0 0 0 1 0 0-5.6 1 0 0-2 1 0 0-0.4 1 0 0-9.7 1 0 0 0 1 0 0 0 1 0 0 10 1 0 0 0 1 0 0 0 1 0 0 3.4 1 0 0 3.5 1 0 0 0 1 0 0 0 1 0 0 2.5 1 0 0-2.3 1 0 0 0 1 0 0-17.9 1 0 0-14.4 1 0 0 0 1 0 0 0 1 0 0 9.3 1 0 0-11.1 1 0 0 0 1 0 0 20.8 1 0 0 0 1 0 0 8.1 1 0 0 6.4 1 0 0-2.4 1 0 0-6.4 1 0 0 0 1 0 0 0 1 0 0 10.2 1 0 0 6.2 1 0 0 0 1 0 0 0 1 0 0 2.8 1 0 0-12.1 1 0 0-6.7 1 0 0 0 1 0 0 0 1 0 0 5.6 1 0 0 0 1 0 0 0 1 0 0-5.5 1 0 0 0 1 0 0 0 1 0 0 1.8 1 0 0 0 1 0 0 2.2 1 0 0 0 1 0 0 0 1 0 0 1 1 0 0-12 1 0 0-4.3 1 0 0-5.2 1 0 0 0 1 0 0 0 1 0 0 8.7 1 0 0 5.4 1 0 0 0 1 0 0 0.7 1 0 0 0 1 0 0-3.1 1 0 0 0 1 0 0 0 1 0 0 4.6 1 0 0 3.5 1 0 0-6.7 1 0 0-3.6 1 0 0-0.6 1 0 0 0 1 0 0 0 1 0 0 1.1 1 0 0 0.5 1 0 0 0 1 0 0-11.2 1 0 0 0 1 0 0 0 1 0 0 6.4 1 0 0 0 1 0 0-6.3 1 0 0 0 1 0 0 0 1 0 0 3.1 1 0 0 17.5 1 0 0 35.5-1 0 0 0-1 0 0 17.5-1 0 0 0-1 0 0-14.9-1 0 0-1-1 0 0 0-1 0 0-2.4-1 0 0 0-1 0 0-3.2-1 0 0-4.8-1 0 0 0-1 0 0-4.2-1 0 0 10.6-1 0 0 0-1 0 0 2.6-1 0 0 0-1 0 0-9.5-1 0 0 1.8-1 0 0 3.7-1 0 0 7-1 0 0 0-1 0 0-1.7-1 0 0 3.8-1 0 0 0-1 0 0 6.3-1 0 0 0-1 0 0-4.7-1 0 0 12.4-1 0 0 0.1-1 0 0 0-1 0 0-4.7-1 0 0-6.4-1 0 0-12.2-1 0 0 4.4-1 0 0 3-1 0 0 0-1 0 0 1.4-1 0 0 0.5-1 0 0 3.9-1 0 0 1-1 0 0 0-1 0 0 1.3-1 0 0 0.9-1 0 0 0-1 0 0 2.3-1 0 0 9.5-1 0 0 0-1 0 0-14.8-1 0 0-4.8-1 0 0-0.5-1 0 0 3.4-1 0 0 18.6-1 0 0 0-1 0 0-12.9-1 0 0 0-1 0 0-0.7-1 0 0-13.5-1 0 0 0-1 0 0-0.8-1 0 0 5.4-1 0 0 3.3-1 0 0 0-1 0 0-14.3-1 0 0 14.2-1 0 0 13.2-1 0 0 0.3-1 0 0 0-1 0 0-23.5-1 0 0 0-1 0 0 0-1 0 0 0-1 0 0 5.7-1 0 0 0-1 0 0-2.2-1 0 0 4.5-1 0 0 6.2-1 0 0 0.6-1 0 0 0-1 0 0 6.6-1 0 0 0-1 0 0 0-1 0 0-5.8-1 0 0 0-1 0 0-8.9-1 0 0 0.1-1 0 0 0-1 0 0-0.6-1 0 0 0-1 0 0 5.6-1 0 0 9.5-1 0 0 0-1 0 0-6.3-1 0 0 0-1 0 0-4-1 0 0 13.3-1 0 0 0-1 0 0-0.9-1 0 0-9.7-1 0 0 0-1 0 0-3.4-1 0 0 2.4-1 0 0 8.3-1 0 0 2.9-1 0 0 0-1 0 0-11.8-1 0 0-8.2-1 0 0 0-1 0 0-0.8-1 0 0 20.5-1 0 0 0-1 0 0-3.5-1 0 0-5.1-1 0 0 0-1 0 0-10.2-1 0 0-13.1-1 0 0 1.3-1 0 0 5.9-1 0 0 0-1 0 0-7.7-1 0 0 2.7-1 0 0 12.3-1 0 0 0-1 0 0-4.3-1 0 0-10.6-1 0 0 7.6-1 0 0 0-1 0 0-1.1-1 0 0-9.3-1 0 0 0-1 0 0-4.7-1 0 0-1.6-1 0 0 14-1 0 0 9.1-1 0 0 0-1 0 0-6.8-1 0 0-2.9-1 0 0-1.8-1 0 0 0-1 0 0-6.9-1 0 0 9.3-1 0 0 0-1 0 0-0.9-1 0 0 0-1 0 0-0.1-1 0 0 5.9-1 0 0 0-1 0 0-4-1 0 0-2-1 0 0 6.2-1 0 0 2.3-1 0 0 5.5-1 0 0 0-1 0 0-5.6-1 0 0-0.3-1 0 0 3.8-1 0 0 0-1 0 0-1.2-1 0 0 4.4-1 0 0 14.2-1 0 0 2.2-1 0 0 0-1 0 0-12-1 0 0 0-1 0 0-0.9-1 0 0 1.3-1 0 0 0-1 0 0 3.5-1 0 0 1.7-1 0 0 0-1 0 0 3.3-1 0 0 0-1 0 0-1.9-1 0 0-0.4-1 0 0 3-1 0 0 4.8-1 0 0 0-1 0 0-7-1 0 0 1.9-1 0 0 0-1 0 0 3.4-1 0 0 0-1 0 0-2.5-1 0 0 5.1-1 0 0 6.9-1 0 0 0-1 0 0-1.6-1 0 0-10-1 0 0 0-1 0 0-4.5-1 0 0-0.9-1 0 0-0.8-1 0 0-1.1-1 0 0 2.3-1 0 0 0-1 0 0-7.1-1 0 0-1.4-1 0 0-1.8-1 0 0-4.9-1 0 0-3.2-1 0 0 1.8-1 0 0 0-1 0 0-4.6-1 0 0-3.5-1 0 0-1.4-1 0 0-0.9-1 0 0 0-1 0 0-1.3-1 0 0 0-1 0 0 3.8-1 0 0 4.4-1 0 0 12.3-1 0 0 0-1 0 0-13.9-1 0 0 6.1-1 0 0 14.8-1 0 0 0-1 0 0-14.1-1 0 0-6.7-1 0 0 5.7-1 0 0 12.6-1 0 0 2-1 0 0 0-1 0 0-1.9-1 0 0 0-1 0 0-4.5-1 0 0 8.7-1 0 0 8.7-1 0 0 0-1 0 0 3.9-1 0 0 0-1 0 0-4.5-1 0 0-8.1-1 0 0 0-1 0 0-6.1-1 0 0-1.4-1 0 0-0.6-1 0 0-4.3-1 0 0 6.3-1 0 0 0-1 0 0 0.7-1 0 0 0-1 0 0 4.7-1 0 0 9.3-1 0 0 0-1 0 0-9.2-1 0 0-4.2-1 0 0-3.7-1 0 0 6.1-1 0 0 3.6-1 0 0 0-1 0 0 16.6-1 0 0 0-1 0 0-20.4-1 0 0-1-1 0 0 0.9-1 0 0 7.7-1 0 0 0-1 0 0-7.9-1 0 0-4.6-1 0 0 14.1-1 0 0 0-1 0 0-1.4-1 0 0 13.3-1 0 0 0-1 0 0 0-1 0 0-24.9-1 0 0 7.4-1 0 0 2.9-1 0 0 0-1 0 0-4.1-1 0 0 20.4-1 0 0 0-1 0 0-18.6-1 0 0-1.8-1 0 0-1.6-1 0 0 0-1 0 0-6.5-1 0 0 1.8-1 0 0 1.8-1 0 0 0-1 0 0 2.8-1 0 0 5.7-1 0 0 4.2-1 0 0 0-1 0 0-11.5-1 0 0-4-1 0 0 2.7-1 0 0 0-1 0 0 23.5-1 0 0 0-1 0 0 0-1 0 0-15.7-1 0 0 15.1-1 0 0 0-1 0 0-11.8-1 0 0-2.7-1 0 0 1.4-1 0 0 0-1 0 0-4-1 0 0-8.8-1 0 0 0-1 0 0-2.2-1 0 0-0.7-1 0 0-2.9-1 0 0 0.2-1 0 0 0-1 0 0 0.6-1 0 0 6-1 0 0 0-1 0 0 2.2-1 0 0 5.3-1 0 0 0-1 0 0 1.3-1 0 0 0-1 0 0-2.9-1 0 0-0.6-1 0 0-0.8-1 0 0 8.6-1 0 0 0-1 0 0 4.6-1 0 0 2.8-1 0 0 0-1 0 0-2.1-1 0 0 2.1-1 0 0 6.9-1 0 0 0-1 0 0-3.6-1 0 0 0-1 0 0-6.2-1 0 0 3-1 0 0 0-1 0 0-6-1 0 0 0-1 0 0-3.5-1 0 0 13.1-1 0 0 0-1 0 0 4.2-1 0 0 0-1 0 0 0-1 0 0-4.8-1 0 0-6.7-1 0 0-1.3-1 0 0 0-1 0 0-11.9-1 0 0 3-1 0 0 6.4-1 0 0 0-1 0 0-8.8-1 0 0 0-1 0 0-5.1-1 0 0-3.8-1 0 0 13.1-1 0 0 0-1 0 0-22.6-1 0 0 0.7-1 0 0 0-1 0 0 0.2-1 0 0 0-1 0 0 2.3-1 0 0 1.9-1 0 0 0-1 0 0-9.9-1 0 0 2.9-1 0 0 0-1 0 0 3.5-1 0 0 0-1 0 0 5.4-1 0 0 11.7-1 0 0 0-1 0 0-6.6-1 0 0-8.7-1 0 0-3.2-1 0 0 3.5-1 0 0 4.2-1 0 0 0-1 0 0 2.8-1 0 0 0-1 0 0-2.1-1 0 0 1.2-1 0 0 5.4-1 0 0 2-1 0 0 0-1 0 0 7.2-1 0 0 0.9-1 0 0 0-1 0 0-5.1-1 0 0-2.7-1 0 0 0-1 0 0 0-1 0 0 1.7-1 0 0 2-1 0 0 0-1 0 0-2.2-1 0 0-2.2-1 0 0 0-1 0 0 5.5-1 0 0 0-1 0 0 4.7-1 0 0 0-1 0 0-4.8-1 0 0 5.3-1 0 0 0-1 0 0-9.1-1 0 0-6.1-1 0 0 2.6-1 0 0 1.7-1 0 0 0-1 0 0-0.6-1 0 0 2.2-1 0 0 0-1 0 0-3.1-1 0 0 1.3-1 0 0 7.7-1 0 0 0-1 0 0-9.1-1 0 0 10.2-1 0 0 0-1 0 0-4.4-1 0 0 0-1 0 0-2.3-1 0 0 1.3-1 0 0 0-1 0 0-2.6-1 0 0 0-1 0 0 1.4-1 0 0 0-1 0 0 1.9-1 0 0 0-1 0 0-2.2-1 0 0 0-1 0 0-2-1 0 0-1.4-1 0 0 0-1 0 0-2.3-1 0 0 0-1 0 0 1.9-1 0 0 16.6-1 0 0 0-1 0 0-12.6-1 0 0 3.1-1 0 0 0-1 0 0-8.7-1 0 0 0-1 0 0-0.6-1 0 0 5.1-1 0 0 7.9-1 0 0 0-1 0 0-14.7-1 0 0-4.9-1 0 0-1.5-1 0 0-6-1 0 0 0-1 0 0 2-1 0 0 0-1 0 0 14.1-1 0 0 0-1 0 0-25-1 0 0 0-1 0 0-5.6-1 0 0 0-1 0 0-2.4-1 0 0 0-1 0 0 8.8-1 0 0 0-1 0 0-5.3-1 0 0 4.5-1 0 0 14.1-1 0 0 0-1 0 0-6.5-1 0 0-7.4-1 0 0 0-1 0 0 2.9-1 0 0 0-1 0 0 6.5-1 0 0 0-1 0 0-9.5-1 0 0-6-1 0 0-1-1 0 0 12.2-1 0 0 0-1 0 0-3.2-1 0 0-1.1-1 0 0 0-1 0 0-1.9-1 0 0-3.1-1 0 0 4.6-1 0 0 0-1 0 0-2.8-1 0 0 0-1 0 0 4.5-1 0 0 0-1 0 0 0-1 0 0-7-1 0 0-0.3-1 0 0-5-1 0 0 0-1 0 0-2.1-1 0 0 7.9-1 0 0 3.1-1 0 0 0.2-1 0 0 0-1 0 0-11.4-1 0 0-4-1 0 0 4.7-1 0 0 0-1 0 0-3.3-1 0 0 6.2-1 0 0 2.1-1 0 0 0-1 0 0 0.3-1 0 0 0-1 0 0-14.2-1 0 0-6.8-1 0 0 1.2-1 0 0 0-1 0 0 10.7-1 0 0 0-1 0 0 11.7-1 0 0 0.9-1 0 0 0-1 0 0-10.6-1 0 0 9-1 0 0 17.9-1 0 0 0-1 0 0-0.9-1 0 0-2.9-1 0 0-9.1-1 0 0 3.4-1 0 0 0-1 0 0 40.7-1 0 0 0-1 0 0-37.7-1 0 0-2.4-1 0 0 2-1 0 0 6.9-1 0 0 0-1 0 0-3.6-1 0 0 4.2-1 0 0 0.6-1 0 0 0-1 0 0 3.4-1 0 0 37.7-1 0 0 0-1 0 0-17-1 0 0 0-1 0 0 5.7-1 0 0 0-1 0 0 2.3-1 0 0 0-1 0 0 6.6-1 0 0 0-1 0 0-6.6-1 0 0-4.8-1 0 0 4.1-1 0 0 0-1 0 0 2.6-1 0 0 0-1 0 0-2.5-1 0 0 1.1-1 0 0 0-1 0 0-4.1-1 0 0 1.6-1 0 0 0-1 0 0 1.3-1 0 0 0-1 0 0-7.6-1 0 0 2.5-1 0 0 0-1 0 0-1-1 0 0 0-1 0 0 2.9-1 0 0 5.8-1 0 0 0-1 0 0-1.2-1 0 0 1.8-1 0 0 0-1 0 0-1.6-1 0 0 3.7-1 0 0 11.9-1 0 0 1.6-1 0 0 0-1 0 0-15.4-1 0 0-0.3-1 0 0 5-1 0 0 0-1 0 0-3.2-1 0 0 0.7-1 0 0 0-1 0 0 0.9-1 0 0 0-1 0 0-3-1 0 0-3.3-1 0 0 1.7-1 0 0 3.9-1 0 0 0-1 0 0-0.7-1 0 0 0-1 0 0-11.5-1 0 0-4.7-1 0 0 1.1-1 0 0 0-1 0 0 15.2-1 0 0 0-1 0 0 0-1 0 0-23.5-1 0 0 3.2-1 0 0 4.9-1 0 0 3.4-1 0 0 0-1 0 0-21.7-1 0 0 0-1 0 0 2-1 0 0 0-1 0 0-3.3-1 0 0 2.3-1 0 0 0-1 0 0-1.7-1 0 0 0-1 0 0 8.7-1 0 0 0-1 0 0 4.3-1 0 0 0-1 0 0-0.2-1 0 0-7.3-1 0 0 0-1 0 0-8.5-1 0 0 2.8-1 0 0 0-1 0 0-6.9-1 0 0 5-1 0 0 0-1 0 0 5.8-1 0 0 0-1 0 0-8.7-1 0 0 0-1 0 0 0.6-1 0 0 30.5-1 0 0 0-1 0 0-32.8-1 0 0 7.9-1 0 0 5-1 0 0 0-1 0 0-6.6-1 0 0 7.5-1 0 0 3.8-1 0 0 0-1 0 0-3.4-1 0 0-5-1 0 0-1.9-1 0 0 7.4-1 0 0 4.6-1 0 0 0-1 0 0-3.5-1 0 0-5.2-1 0 0-1.4-1 0 0 3-1 0 0 6.7-1 0 0 0-1 0 0-5.1-1 0 0-2.2-1 0 0 13.9-1 0 0 0.4-1 0 0 0-1 0 0-11.9-1 0 0 13.3-1 0 0 0-1 0 0-11.1-1 0 0-2-1 0 0-3.4-1 0 0 3.9-1 0 0 0-1 0 0-3.4-1 0 0-1.6-1 0 0 2.6-1 0 0 0-1 0 0-5.5-1 0 0-3.3-1 0 0-2.1-1 0 0-5.5-1 0 0 0-1 0 0-2.7-1 0 0-1.1-1 0 0-1.2-1 0 0 0-1 0 0-2.5-1 0 0 2.4-1 0 0 0-1 0 0-1.8-1 0 0-8-1 0 0 1.5-1 0 0 2.3-1 0 0 0-1 0 0-3.1-1 0 0 0-1 0 0 4.7-1 0 0 2.6-1 0 0 4.2-1 0 0 0.3-1 0 0 0-1 0 0-13.6-1 0 0 2.6-1 0 0 13-1 0 0 0-1 0 0-1.4-1 0 0-4.5-1 0 0 1.9-1 0 0 0-1 0 0-3.2-1 0 0 0-1 0 0-4.4-1 0 0 0-1 0 0 8.9-1 0 0 0-1 0 0-7.9-1 0 0 0.5-1 0 0 0-1 0 0-3.7-1 0 0-3.2-1 0 0-4.3-1 0 0-0.8-1 0 0-6-1 0 0 0.7-1 0 0 1.3-1 0 0 14.8-1 0 0 0-1 0 0-20-1 0 0 4.6-1 0 0 0-1 0 0-27.4-1 0 0-3.6-1 0 0-2.9-1 0 0 25.3-1 0 0 0-1 0 0-1.1-1 0 0 0-1 0 0-3.2-1 0 0-16.4-1 0 0 21.6-1 0 0 0-1 0 0 0-1 0 0-23.1-1 0 0 0-1 0 0-10-1 0 0-2.4-1 0 0 4.1-1 0 0 0-1 0 0-10.3-1 0 0 6.4-1 0 0 0-1 0 0 0-1 0 0 7.4-1 0 0 0-1 0 0-4.1-1 0 0 2.8-1 0 0 11.8-1 0 0 13.3-1 0 0 0-1 0 0 18.2-1 0 0 26.4-1 0 0 0-1 0 0 24-1 0 0 0-1 0 0 16.7-1 0 0 0-1 0 0-1.7-1 0 0 0-1 0 0-3.5-1 0 0 8.7-1 0 0 3.8-1 0 0 0-1 0 0-0.1-1 0 0 8.1-1 0 0 0-1 0 0-8.8-1 0 0-4-1 0 0-5.2-1 0z" fill="#3cb371" clip-path="url(#c5)"/>
<line x1="1052.4" y1="139.3" x2="1831" y2="139.3" stroke="#858585" stroke-width="1.6" stroke-dasharray="4.8,2.2"/>
<line x1="1053.3" y1="513.7" x2="1830.4" y2="513.7" stroke="#858585" stroke-width="1.6" stroke-dasharray="4.8,2.2"/>
<line x1="1052.8" y1="766" x2="1830.5" y2="766" stroke="#858585" stroke-width="1.6" stroke-dasharray="4.8,2.2"/>
<rect x="137.5" y="30.5" width="780.5" height="230.9" fill="none" stroke="#000" stroke-width="1.3"/>
<line x1="137.5" y1="261.4" x2="137.5" y2="266.9" stroke="#000" stroke-width="1.3" />
<text x="134" y="296.2" font-size="29" text-anchor="middle" >0</text>
<line x1="374.6" y1="261.4" x2="374.6" y2="266.9" stroke="#000" stroke-width="1.3" />
<text x="373.3" y="296.2" font-size="29" text-anchor="middle" >5</text>
<line x1="611.8" y1="261.4" x2="611.8" y2="266.9" stroke="#000" stroke-width="1.3" />
<text x="612.6" y="296.2" font-size="29" text-anchor="middle" >10</text>
<line x1="849" y1="261.4" x2="849" y2="266.9" stroke="#000" stroke-width="1.3" />
<text x="852" y="296.2" font-size="29" text-anchor="middle" >15</text>
<rect x="1052.4" y="30.5" width="778.6" height="230.9" fill="none" stroke="#000" stroke-width="1.3"/>
<line x1="1052.4" y1="261.4" x2="1052.4" y2="266.9" stroke="#000" stroke-width="1.3" />
<text x="1051.4" y="301" font-size="29" text-anchor="middle" >0</text>
<line x1="1289.7" y1="261.4" x2="1289.7" y2="266.9" stroke="#000" stroke-width="1.3" />
<text x="1288.8" y="301" font-size="29" text-anchor="middle" >5</text>
<line x1="1526.9" y1="261.4" x2="1526.9" y2="266.9" stroke="#000" stroke-width="1.3" />
<text x="1526.2" y="301" font-size="29" text-anchor="middle" >10</text>
<line x1="1764.2" y1="261.4" x2="1764.2" y2="266.9" stroke="#000" stroke-width="1.3" />
<text x="1763.7" y="301" font-size="29" text-anchor="middle" >15</text>
<rect x="134.5" y="313.5" width="783.2" height="228.8" fill="none" stroke="#000" stroke-width="1.3"/>
<line x1="134.5" y1="542.3" x2="134.5" y2="547.8" stroke="#000" stroke-width="1.3" />
<text x="138.4" y="577.9" font-size="29" text-anchor="middle" >0</text>
<line x1="368.6" y1="542.3" x2="368.6" y2="547.8" stroke="#000" stroke-width="1.3" />
<text x="370.4" y="577.9" font-size="29" text-anchor="middle" >5</text>
<line x1="602.8" y1="542.3" x2="602.8" y2="547.8" stroke="#000" stroke-width="1.3" />
<text x="602.4" y="577.9" font-size="29" text-anchor="middle" >10</text>
<line x1="836.9" y1="542.3" x2="836.9" y2="547.8" stroke="#000" stroke-width="1.3" />
<text x="834.3" y="577.9" font-size="29" text-anchor="middle" >15</text>
<rect x="1053.3" y="317.5" width="777.1" height="227.8" fill="none" stroke="#000" stroke-width="1.3"/>
<line x1="1053.3" y1="545.3" x2="1053.3" y2="550.8" stroke="#000" stroke-width="1.3" />
<text x="1052.1" y="585.5" font-size="29" text-anchor="middle" >0</text>
<line x1="1289.5" y1="545.3" x2="1289.5" y2="550.8" stroke="#000" stroke-width="1.3" />
<text x="1288.8" y="585.5" font-size="29" text-anchor="middle" >5</text>
<line x1="1525.8" y1="545.3" x2="1525.8" y2="550.8" stroke="#000" stroke-width="1.3" />
<text x="1525.6" y="585.5" font-size="29" text-anchor="middle" >10</text>
<line x1="1762" y1="545.3" x2="1762" y2="550.8" stroke="#000" stroke-width="1.3" />
<text x="1762.3" y="585.5" font-size="29" text-anchor="middle" >15</text>
<rect x="135.7" y="600.6" width="781.9" height="227.4" fill="none" stroke="#000" stroke-width="1.3"/>
<line x1="135.7" y1="828" x2="135.7" y2="833.5" stroke="#000" stroke-width="1.3" />
<text x="136.2" y="867.8" font-size="29" text-anchor="middle" >0</text>
<line x1="369.3" y1="828" x2="369.3" y2="833.5" stroke="#000" stroke-width="1.3" />
<text x="370" y="867.8" font-size="29" text-anchor="middle" >5</text>
<line x1="602.9" y1="828" x2="602.9" y2="833.5" stroke="#000" stroke-width="1.3" />
<text x="603.7" y="867.8" font-size="29" text-anchor="middle" >10</text>
<line x1="836.5" y1="828" x2="836.5" y2="833.5" stroke="#000" stroke-width="1.3" />
<text x="837.5" y="867.8" font-size="29" text-anchor="middle" >15</text>
<rect x="1052.8" y="598.9" width="777.7" height="229.3" fill="none" stroke="#000" stroke-width="1.3"/>
<line x1="1052.8" y1="828.2" x2="1052.8" y2="833.7" stroke="#000" stroke-width="1.3" />
<text x="1051.8" y="868.2" font-size="29" text-anchor="middle" >0</text>
<line x1="1288.2" y1="828.2" x2="1288.2" y2="833.7" stroke="#000" stroke-width="1.3" />
<text x="1287.4" y="868.2" font-size="29" text-anchor="middle" >5</text>
<line x1="1523.6" y1="828.2" x2="1523.6" y2="833.7" stroke="#000" stroke-width="1.3" />
<text x="1522.9" y="868.2" font-size="29" text-anchor="middle" >10</text>
<line x1="1759" y1="828.2" x2="1759" y2="833.7" stroke="#000" stroke-width="1.3" />
<text x="1758.5" y="868.2" font-size="29" text-anchor="middle" >15</text>
<line x1="131" y1="30.5" x2="137.5" y2="30.5" stroke="#000" stroke-width="1.3" />
<text x="120" y="40.1" font-size="29" text-anchor="end" >100</text>
<line x1="131" y1="146" x2="137.5" y2="146" stroke="#000" stroke-width="1.3" />
<text x="120" y="153.9" font-size="29" text-anchor="end" >0</text>
<line x1="131" y1="261.4" x2="137.5" y2="261.4" stroke="#000" stroke-width="1.3" />
<text x="120" y="270.1" font-size="29" text-anchor="end" >−100</text>
<line x1="1048.4" y1="139.3" x2="1052.4" y2="139.3" stroke="#000" stroke-width="1.3" />
<text x="1040.5" y="151" font-size="29" text-anchor="end" >0</text>
<line x1="1048.4" y1="261.4" x2="1052.4" y2="261.4" stroke="#000" stroke-width="1.3" />
<text x="1040.5" y="267.9" font-size="29" text-anchor="end" >−0.5</text>
<line x1="128" y1="351.9" x2="134.5" y2="351.9" stroke="#000" stroke-width="1.3" />
<text x="120" y="365.1" font-size="29" text-anchor="end" >100</text>
<line x1="128" y1="542.3" x2="134.5" y2="542.3" stroke="#000" stroke-width="1.3" />
<text x="120" y="547.2" font-size="29" text-anchor="end" >0</text>
<line x1="1049.3" y1="363.7" x2="1053.3" y2="363.7" stroke="#000" stroke-width="1.3" />
<text x="1040.5" y="373" font-size="29" text-anchor="end" >1</text>
<line x1="1049.3" y1="513.6" x2="1053.3" y2="513.6" stroke="#000" stroke-width="1.3" />
<text x="1040.5" y="523.9" font-size="29" text-anchor="end" >0</text>
<line x1="129.2" y1="657" x2="135.7" y2="657" stroke="#000" stroke-width="1.3" />
<text x="119" y="666.4" font-size="29" text-anchor="end" >100</text>
<line x1="129.2" y1="770.9" x2="135.7" y2="770.9" stroke="#000" stroke-width="1.3" />
<text x="119" y="781.4" font-size="29" text-anchor="end" >0</text>
<line x1="1048.8" y1="654.4" x2="1052.8" y2="654.4" stroke="#000" stroke-width="1.3" />
<text x="1041.5" y="664.6" font-size="29" text-anchor="end" >0.5</text>
<line x1="1048.8" y1="766" x2="1052.8" y2="766" stroke="#000" stroke-width="1.3" />
<text x="1041.5" y="777.4" font-size="29" text-anchor="end" >0</text>
<text transform="translate(37.5,146.6) rotate(-90)" font-size="29" text-anchor="middle">Δ<tspan font-style="italic">x</tspan> [nm]</text>
<line x1="10.6" y1="170" x2="10.6" y2="195" stroke="#000" stroke-width="1.4" />
<text transform="translate(967.5,145.7) rotate(-90)" font-size="29" text-anchor="middle">Δ<tspan font-style="italic">x</tspan> rate [nm/s]</text>
<line x1="940.3" y1="202" x2="940.3" y2="227.5" stroke="#000" stroke-width="1.4" />
<text transform="translate(37.5,431.2) rotate(-90)" font-size="29" text-anchor="middle">Δ<tspan font-style="italic">y</tspan> [nm]</text>
<line x1="10.2" y1="454.5" x2="10.2" y2="479.2" stroke="#000" stroke-width="1.4" />
<text transform="translate(967.5,440) rotate(-90)" font-size="29" text-anchor="middle">Δ<tspan font-style="italic">y</tspan> rate [nm/s]</text>
<line x1="940.8" y1="495" x2="940.8" y2="520.5" stroke="#000" stroke-width="1.4" />
<text transform="translate(37.5,716.1) rotate(-90)" font-size="29" text-anchor="middle">Δ<tspan font-style="italic">z</tspan> [nm]</text>
<text transform="translate(967.5,722) rotate(-90)" font-size="29" text-anchor="middle">Δ<tspan font-style="italic">z</tspan> rate [nm/s]</text>
<text x="519.5" y="904" font-size="29.6" text-anchor="middle" >Time [min]</text>
<text x="1421.3" y="906.7" font-size="29.6" text-anchor="middle" >Time [min]</text>
<text x="0" y="22" font-size="38" text-anchor="start" font-weight="bold">a</text>
<path d="M137.3 1066.8l1 0 0-3.9 1 0 0-3.3 1 0 0 0 1 0 0 1.6 1 0 0-2.1 1 0 0 0 1 0 0 3.6 1 0 0 0 1 0 0-7.6 1 0 0 0 1 0 0 5.9 1 0 0 0.2 1 0 0 2.8 1 0 0-0.1 1 0 0-3.8 1 0 0 0 1 0 0 2.8 1 0 0-1.7 1 0 0-0.2 1 0 0-3.9 1 0 0 0 1 0 0 8.2 1 0 0-1.2 1 0 0 0 1 0 0-0.9 1 0 0-0.1 1 0 0-3.4 1 0 0-1.9 1 0 0 0 1 0 0 3.1 1 0 0 1.4 1 0 0 2.4 1 0 0 1.3 1 0 0-5.5 1 0 0-3.7 1 0 0 0 1 0 0 5 1 0 0-4.9 1 0 0 0 1 0 0 1.6 1 0 0-2 1 0 0 0 1 0 0 4.1 1 0 0 0 1 0 0 1.1 1 0 0-0.4 1 0 0-4.2 1 0 0 0 1 0 0 7.3 1 0 0-5.4 1 0 0 0 1 0 0 1.1 1 0 0 0 1 0 0 2.6 1 0 0-0.3 1 0 0-1.9 1 0 0 0 1 0 0 3.2 1 0 0 0 1 0 0-2.7 1 0 0 0 1 0 0 1.9 1 0 0 0 1 0 0-1.1 1 0 0-3.3 1 0 0 0 1 0 0 4.1 1 0 0-6.4 1 0 0 0 1 0 0 0.9 1 0 0-0.8 1 0 0 0 1 0 0-0.6 1 0 0 0 1 0 0 6.5 1 0 0 1.2 1 0 0 0 1 0 0-0.4 1 0 0-6.9 1 0 0 0 1 0 0 8.1 1 0 0-6.5 1 0 0 0 1 0 0 5.7 1 0 0-39.1 1 0 0 0 1 0 0 33.6 1 0 0 0 1 0 0 4.9 1 0 0-2.1 1 0 0-3.3 1 0 0 0 1 0 0 3.3 1 0 0 0 1 0 0 1.9 1 0 0 0 1 0 0 0.9 1 0 0-3.9 1 0 0 0 1 0 0 1.8 1 0 0 3.5 1 0 0 1 1 0 0-10 1 0 0 0 1 0 0 6.7 1 0 0 0.3 1 0 0-1.9 1 0 0 0 1 0 0 4.8 1 0 0-4.6 1 0 0 0 1 0 0 3.8 1 0 0 0 1 0 0 0 1 0 0-4 1 0 0-2.2 1 0 0 0 1 0 0 0.3 1 0 0-3.3 1 0 0 0 1 0 0 4.1 1 0 0-0.7 1 0 0 0 1 0 0 4.9 1 0 0 0.8 1 0 0 0.3 1 0 0-5.7 1 0 0 0 1 0 0 2.7 1 0 0-3 1 0 0 0 1 0 0 0.9 1 0 0 0 1 0 0 2.5 1 0 0-5.8 1 0 0 0 1 0 0 3 1 0 0-0.8 1 0 0 0 1 0 0-3.8 1 0 0 0 1 0 0 3 1 0 0 0 1 0 0 2.6 1 0 0-3.4 1 0 0 0 1 0 0 2.1 1 0 0 0 1 0 0 4.8 1 0 0-3.8 1 0 0 0 1 0 0 0.4 1 0 0 0 1 0 0 1.1 1 0 0-2.4 1 0 0 0 1 0 0 0.3 1 0 0-4.8 1 0 0 0 1 0 0 10.6 1 0 0-3.1 1 0 0 0 1 0 0-7.6 1 0 0 0 1 0 0 4 1 0 0 0 1 0 0 0.5 1 0 0 1.4 1 0 0 4.3 1 0 0-34.2 1 0 0 0 1 0 0 33.5 1 0 0-9.5 1 0 0 0 1 0 0 5.4 1 0 0-2.6 1 0 0 0 1 0 0 6.7 1 0 0-2.7 1 0 0 0 1 0 0-1.8 1 0 0 0 1 0 0 1.3 1 0 0 0 1 0 0 2.8 1 0 0 0 1 0 0-0.4 1 0 0-2.2 1 0 0 0 1 0 0 1.4 1 0 0 0.5 1 0 0 0.9 1 0 0-5 1 0 0 0 1 0 0 3.5 1 0 0 1.1 1 0 0 0.1 1 0 0-2.1 1 0 0-0.9 1 0 0 0 1 0 0 2.1 1 0 0 0.4 1 0 0-6.9 1 0 0 0 1 0 0 1.7 1 0 0 0 1 0 0 2.8 1 0 0 3.8 1 0 0-13.7 1 0 0 0 1 0 0 0 1 0 0 11.1 1 0 0 0 1 0 0-0.2 1 0 0-1.2 1 0 0-4.3 1 0 0-0.5 1 0 0 0 1 0 0 3.1 1 0 0 1 1 0 0 4 1 0 0-1.9 1 0 0 0 1 0 0 1 1 0 0 0 1 0 0 0 1 0 0-4.9 1 0 0 0 1 0 0 3.1 1 0 0-4 1 0 0 0 1 0 0 4.7 1 0 0 1.1 1 0 0 0.9 1 0 0-5.6 1 0 0 0 1 0 0 1.7 1 0 0-0.5 1 0 0 0 1 0 0 0.6 1 0 0 0 1 0 0 3 1 0 0-2.3 1 0 0 0 1 0 0 2.1 1 0 0-2.2 1 0 0 0 1 0 0-3.1 1 0 0 0 1 0 0 1.8 1 0 0 1.8 1 0 0-4 1 0 0 0 1 0 0 0 1 0 0 7.7 1 0 0-4.3 1 0 0 0 1 0 0 2 1 0 0 1.5 1 0 0-5.7 1 0 0 0 1 0 0 0.9 1 0 0 1.9 1 0 0 0 1 0 0-0.2 1 0 0-3.9 1 0 0 0 1 0 0 4.2 1 0 0 0 1 0 0-0.2 1 0 0-3.8 1 0 0 0 1 0 0 7 1 0 0 0.7 1 0 0 0.2 1 0 0 0 1 0 0-1.3 1 0 0 0 1 0 0-0.6 1 0 0-6 1 0 0 0 1 0 0 1.2 1 0 0 2 1 0 0 1.1 1 0 0-1.3 1 0 0 0 1 0 0 0.9 1 0 0-3.4 1 0 0 0 1 0 0 5.8 1 0 0-0.8 1 0 0 0 1 0 0-0.7 1 0 0-0.5 1 0 0-6.6 1 0 0 0 1 0 0 0.9 1 0 0 0 1 0 0 6.4 1 0 0-0.6 1 0 0-0.1 1 0 0-2.1 1 0 0 0 1 0 0 3.9 1 0 0 0 1 0 0 3.5 1 0 0-4.6 1 0 0-2.8 1 0 0 0 1 0 0 2 1 0 0-4.2 1 0 0 0 1 0 0 2.9 1 0 0 0 1 0 0 0.8 1 0 0 4.2 1 0 0-2.1 1 0 0-0.6 1 0 0-2.3 1 0 0 0 1 0 0 2.6 1 0 0-0.5 1 0 0-1.3 1 0 0 0 1 0 0 1.8 1 0 0 0 1 0 0 0.4 1 0 0 0 1 0 0-11.2 1 0 0 0 1 0 0 6.5 1 0 0 3.6 1 0 0-1.8 1 0 0-3.8 1 0 0 0 1 0 0 0.5 1 0 0 4.4 1 0 0 0 1 0 0 2.4 1 0 0-2.2 1 0 0-0.4 1 0 0 0 1 0 0-5.3 1 0 0 0 1 0 0 0.9 1 0 0 0 1 0 0 0.6 1 0 0-1.1 1 0 0 0 1 0 0 1 1 0 0 0 1 0 0 1.1 1 0 0 2.4 1 0 0 0 1 0 0 0.2 1 0 0 0 1 0 0-0.7 1 0 0 0 1 0 0 0.4 1 0 0-4.7 1 0 0 0 1 0 0 3 1 0 0 0 1 0 0 2.5 1 0 0 0 1 0 0-5.4 1 0 0 0 1 0 0 6 1 0 0 0 1 0 0-1.4 1 0 0-1.7 1 0 0-3.9 1 0 0-1.4 1 0 0 0 1 0 0 6 1 0 0-3.2 1 0 0 0 1 0 0 3.8 1 0 0 3.4 1 0 0-3.4 1 0 0 0 1 0 0 3.9 1 0 0-1.3 1 0 0 0 1 0 0 1.4 1 0 0-2.6 1 0 0 0 1 0 0 2.9 1 0 0-9 1 0 0 0 1 0 0 1.8 1 0 0 1.3 1 0 0 3.6 1 0 0-3.4 1 0 0 0 1 0 0 3.8 1 0 0 0 1 0 0 1 1 0 0-0.4 1 0 0 0 1 0 0 0 1 0 0-2.5 1 0 0 0 1 0 0 0.9 1 0 0 0 1 0 0 0.2 1 0 0 0 1 0 0 3 1 0 0-0.6 1 0 0-2.8 1 0 0-1.1 1 0 0-0.5 1 0 0 0 1 0 0-0.6 1 0 0 0 1 0 0 1.8 1 0 0-0.1 1 0 0 0 1 0 0-0.6 1 0 0-3.8 1 0 0 0 1 0 0-16.7 1 0 0 0 1 0 0 23.7 1 0 0-3.4 1 0 0 0 1 0 0-0.2 1 0 0 0 1 0 0 0.2 1 0 0 1 1 0 0-2.1 1 0 0 0 1 0 0-1.7 1 0 0 0 1 0 0-3.3 1 0 0 0 1 0 0 9.1 1 0 0 0 1 0 0-0.4 1 0 0 0 1 0 0-1 1 0 0 0 1 0 0-6.6 1 0 0 0 1 0 0 4.2 1 0 0 1.4 1 0 0 0 1 0 0-1.1 1 0 0-0.1 1 0 0 0 1 0 0-3.7 1 0 0 0 1 0 0 6.4 1 0 0-2.7 1 0 0-2.2 1 0 0-0.3 1 0 0 0 1 0 0 4.8 1 0 0-3.7 1 0 0 0 1 0 0 4.3 1 0 0 2 1 0 0-0.5 1 0 0-1.2 1 0 0-1.3 1 0 0-3.7 1 0 0 0 1 0 0 2.1 1 0 0-0.1 1 0 0 0 1 0 0 4 1 0 0-3.2 1 0 0 0 1 0 0-3.7 1 0 0 0 1 0 0 1.1 1 0 0-0.2 1 0 0 0 1 0 0 1.5 1 0 0 1 1 0 0 0 1 0 0 1 1 0 0-2 1 0 0 0 1 0 0 0.6 1 0 0-2.1 1 0 0 0 1 0 0 2.7 1 0 0 0 1 0 0 0.9 1 0 0-4.9 1 0 0 0 1 0 0 3.7 1 0 0-4 1 0 0 0 1 0 0 5.3 1 0 0-3.1 1 0 0 0 1 0 0 5.4 1 0 0-3.3 1 0 0 0 1 0 0 0.5 1 0 0 0.8 1 0 0-2.1 1 0 0 0 1 0 0 0.7 1 0 0 0 1 0 0 0.4 1 0 0-6.8 1 0 0 0 1 0 0 6.8 1 0 0 0.4 1 0 0-2.9 1 0 0 0 1 0 0-0.6 1 0 0-1.2 1 0 0 0 1 0 0 2.5 1 0 0-4.8 1 0 0 0 1 0 0 0 1 0 0 9.9 1 0 0-2.1 1 0 0 0 1 0 0 1 1 0 0-9.3 1 0 0 0 1 0 0 1.9 1 0 0 0.8 1 0 0 5.2 1 0 0-1 1 0 0-1.8 1 0 0-1.6 1 0 0 0 1 0 0 0.6 1 0 0 1.2 1 0 0-4.8 1 0 0 0 1 0 0 7.3 1 0 0-0.3 1 0 0-1.5 1 0 0-0.6 1 0 0-0.7 1 0 0 0 1 0 0-2.5 1 0 0 0 1 0 0 4.5 1 0 0-0.1 1 0 0-1 1 0 0 0 1 0 0 5.9 1 0 0-1.5 1 0 0-1 1 0 0 0 1 0 0-4.6 1 0 0 0 1 0 0 4.8 1 0 0-3.5 1 0 0 0 1 0 0-4.9 1 0 0 0 1 0 0 2.9 1 0 0 4.4 1 0 0-0.4 1 0 0 0 1 0 0-2.5 1 0 0 0 1 0 0-0.9 1 0 0-3.5 1 0 0 0 1 0 0 3.6 1 0 0 0 1 0 0 2.3 1 0 0 0 1 0 0 0.2 1 0 0 0 1 0 0 1.2 1 0 0 0 1 0 0 0.6 1 0 0 0 1 0 0-1.1 1 0 0 0 1 0 0-0.9 1 0 0 0 1 0 0-4.5 1 0 0 0 1 0 0-1.9 1 0 0 0 1 0 0 3.8 1 0 0-1.5 1 0 0 0 1 0 0 5.4 1 0 0-4.9 1 0 0 0 1 0 0 2.9 1 0 0 0 1 0 0 3 1 0 0-2.9 1 0 0-2.2 1 0 0 0 1 0 0 6.5 1 0 0 0 1 0 0-1.1 1 0 0-0.1 1 0 0 0 1 0 0 0 1 0 0-0.1 1 0 0-1.1 1 0 0-3.2 1 0 0 0 1 0 0 0.6 1 0 0 3.9 1 0 0-6.4 1 0 0 0 1 0 0 7 1 0 0-5.5 1 0 0 0 1 0 0 4 1 0 0-1.5 1 0 0 0 1 0 0 1.3 1 0 0 1.7 1 0 0-2.6 1 0 0 0 1 0 0 1.7 1 0 0-5.2 1 0 0 0 1 0 0 1.5 1 0 0-9 1 0 0 0 1 0 0 6 1 0 0 1.3 1 0 0 0 1 0 0 0 1 0 0 1.2 1 0 0-3.3 1 0 0 0 1 0 0 6.9 1 0 0 0 1 0 0-11.3 1 0 0 0 1 0 0 7.4 1 0 0 0.2 1 0 0 4.8 1 0 0-6.4 1 0 0 0 1 0 0 1.7 1 0 0 4 1 0 0 0.6 1 0 0-3 1 0 0-2 1 0 0 0 1 0 0 0 1 0 0-0.4 1 0 0 0 1 0 0 0 1 0 0 6.2 1 0 0-4.7 1 0 0 0 1 0 0 0.9 1 0 0 0 1 0 0 2.6 1 0 0 0 1 0 0 1.5 1 0 0-3.2 1 0 0-4.9 1 0 0 0 1 0 0 4.2 1 0 0 0 1 0 0 1.7 1 0 0 1.4 1 0 0-7.5 1 0 0 0 1 0 0 2.8 1 0 0 0 1 0 0 1.2 1 0 0 0 1 0 0 3.4 1 0 0-5.3 1 0 0-5.6 1 0 0 0 1 0 0 8.9 1 0 0-2.6 1 0 0 0 1 0 0 0.7 1 0 0 0 1 0 0 3.2 1 0 0 0 1 0 0-0.3 1 0 0-3.1 1 0 0 0 1 0 0 1.1 1 0 0 0 1 0 0 0.7 1 0 0-6.5 1 0 0 0 1 0 0 6.7 1 0 0-28.9 1 0 0 0 1 0 0 32 1 0 0-0.2 1 0 0-7.6 1 0 0-44.2 1 0 0 0 1 0 0 45.6 1 0 0 1.5 1 0 0-21.2 1 0 0 0 1 0 0 15.2 1 0 0 7.8 1 0 0-2.4 1 0 0 0 1 0 0 2.1 1 0 0 0.4 1 0 0-1.9 1 0 0 0 1 0 0 2.1 1 0 0-0.8 1 0 0-0.6 1 0 0 0 1 0 0-4.4 1 0 0 0 1 0 0 3.8 1 0 0 0 1 0 0 1.3 1 0 0-0.2 1 0 0-2.1 1 0 0 0 1 0 0 2.6 1 0 0-0.2 1 0 0-3.1 1 0 0 0 1 0 0 3.4 1 0 0 1.3 1 0 0 1.4 1 0 0-2.6 1 0 0-1.5 1 0 0 0 1 0 0-4 1 0 0 0 1 0 0 7.9 1 0 0 0.6 1 0 0-0.6 1 0 0-4 1 0 0 0 1 0 0 0.8 1 0 0-3.2 1 0 0 0 1 0 0 7.8 1 0 0-2.5 1 0 0-2.3 1 0 0 0 1 0 0 2 1 0 0-1.3 1 0 0 0 1 0 0-0.9 1 0 0 0 1 0 0 3 1 0 0-0.4 1 0 0-5.8 1 0 0 0 1 0 0 1.9 1 0 0-5 1 0 0 0 1 0 0 5.9 1 0 0 0.9 1 0 0-1.6 1 0 0 0 1 0 0-1.2 1 0 0 0 1 0 0 4.5 1 0 0 0 1 0 0-13.2 1 0 0 0 1 0 0 8.3 1 0 0 1.9 1 0 0 0 1 0 0 2.4 1 0 0-0.9 1 0 0 0 1 0 0 4.3 1 0 0-3.1 1 0 0-0.3 1 0 0 0 1 0 0-6.3 1 0 0 0 1 0 0 4.6 1 0 0 0 1 0 0 0 1 0 0 0 1 0 0 1.7 1 0 0-4.4 1 0 0-0.4 1 0 0 0 1 0 0 5.9 1 0 0-5.4 1 0 0 0 1 0 0 2.8 1 0 0 0.6 1 0 0 0 1 0 0-5 1 0 0 0 1 0 0 9.6 1 0 0-0.3 1 0 0-7.1 1 0 0 0 1 0 0 0.1 1 0 0 2 1 0 0 0 1 0 0-2.4 1 0 0 0 1 0 0 1.6 1 0 0 3.1 1 0 0-1.5 1 0 0-0.7 1 0 0 0 1 0 0 1.5 1 0 0-1.2 1 0 0 0 1 0 0-9 1 0 0 0 1 0 0 11.7 1 0 0 0.6 1 0 0-1.9 1 0 0 0 1 0 0 1.3 1 0 0-48.4 1 0 0 0 1 0 0 46.8 1 0 0 0 1 0 0-4.6 1 0 0 0 1 0 0 1.6 1 0 0-0.2 1 0 0-0.8 1 0 0 0 1 0 0 2.4 1 0 0 0 1 0 0-0.9 1 0 0 0 1 0 0 3.7 1 0 0-1 1 0 0-1.8 1 0 0 0 1 0 0-5.2 1 0 0 0 1 0 0 1.4 1 0 0 0 1 0 0 4.7 1 0 0-0.2 1 0 0 0 1 0 0-2.7 1 0 0 0 1 0 0 5.4 1 0 0-6.9 1 0 0 0 1 0 0 7.1 1 0 0-3.4 1 0 0 0 1 0 0-6.1 1 0 0 0 1 0 0 10.1 1 0 0-2.6 1 0 0 0 1 0 0-4.8 1 0 0 0 1 0 0 3.8 1 0 0 0.8 1 0 0-7.4 1 0 0 0 1 0 0 0 1 0 0 7.8 1 0 0-6.1 1 0 0-1 1 0 0 0 1 0 0 5.1 1 0 0-2.4 1 0 0 0 1 0 0 2.7 1 0 0 4 1 0 0-0.5 1 0 0 0 1 0 0-5.2 1 0 0-0.1 1 0 0 0 1 0 0 2.8 1 0 0-0.3 1 0 0-1.1 1 0 0 0 1 0 0 2.8 1 0 0 0.4 1 0 0 0.3 1 0 0-0.3 1 0 0 0 1 0 0-9.4 1 0 0 0 1 0 0 7.4 1 0 0-0.9 1 0 0 0 1 0 0 2 1 0 0-3.9 1 0 0 0 1 0 0 4.2 1 0 0 0 1 0 0 0.4 1 0 0 0.4 1 0 0-0.5 1 0 0 0 1 0 0-7 1 0 0 0 1 0 0 6.7 1 0 0-0.5 1 0 0-3.3 1 0 0 0 1 0 0 1.3 1 0 0-8.8 1 0 0 0 1 0 0 8.6 1 0 0 2.2 1 0 0-2.8 1 0 0 0 1 0 0 5.7 1 0 0-6.5 1 0 0 0 1 0 0-2.9 1 0 0-0.2 1 0 0 0 1 0 0 0.7 1 0 0 2.4 1 0 0 5 1 0 0-3.8 1 0 0 0 1 0 0 0.1 1 0 0-1.5 1 0 0-4.9 1 0 0 0 1 0 0 11.7 1 0 0-8.3 1 0 0 0 1 0 0 4 1 0 0 0.7 1 0 0 0 1 0 0 1.4 1 0 0 0.3 1 0 0 0 1 0 0-5.3 1 0 0-0.2 1 0 0 0 1 0 0 4.8 1 0 0-1.1 1 0 0-0.8 1 0 0 0 1 0 0 1.6 1 0 0 0 1 0 0-2.5 1 0 0 0 1 0 0 0.6 1 0 0 0 1 0 0 2.7 1 0 0-3.2 1 0 0-1.7 1 0 0 0 1 0 0-0.6 1 0 0 0 1 0 0 2.1 1 0 0 0 1 0 0 3.5 1 0 0-5.2 1 0 0 0 1 0 0 5.4 1 0 0-7 1 0 0 0 1 0 0 2.4 1 0 0 0 1 0 0 2.3 1 0 0 0 1 0 0 0.2 1 0 0 1 1 0 0-0.5 1 0 0-2.3 1 0 0 0 1 0 0 3 1 0 0 0 1 0 0 2 1 0 0-2.4 1 0 0 0 1 0 0 0.2 1 0 0-0.1 1 0 0-2.8 1 0 0 0 1 0 0 2.4 1 0 0-0.9 1 0 0 0 1 0 0-7 1 0 0 0 1 0 0 4.4 1 0 0 0 1 0 0 2.1 1 0 0-6.9 1 0 0 0 1 0 0 8.1 1 0 0 3.5 1 0 0 0.1 1 0 0-4.8 1 0 0 0 1 0 0 0.4 1 0 0 0.7 1 0 0-2.7 1 0 0-1.1 1 0 0 0 1 0 0 0.5 1 0 0 3.6 1 0 0-2.6 1 0 0-0.8 1 0 0-0.3 1 0 0 0 1 0 0 1.4 1 0 0 2.6 1 0 0-6.7 1 0 0 0 1 0 0 3 1 0 0-1.2 1 0 0 0 1 0 0 0 1 0 0 7.7 1 0 0 0 1 0 0-5.2 1 0 0-0.2 1 0 0 0 1 0 0 1.1 1 0 0-3.1 1 0 0 0 1 0 0 1.4 1 0 0 1.5 1 0 0 1 1 0 0 0 1 0 0 4.2 1 0 0-3 1 0 0 0 1 0 0 1.1 1 0 0 2.8 1 0 0-3.6 1 0 0-4.4 1 0 0-5.2 1 0 0 0 1 0 0 7.8 1 0 0 0 1 0 0 2.2 1 0 0 1.1 1 0 0-5.4 1 0 0 0 1 0 0 2.8 1 0 0 0.7 1 0 0 0 1 0 0 1.8 1 0 0 0 1 0 0-3.3 1 0 0-0.2 1 0 0 0 1 0 0-0.5 1 0 0 0 1 0 0 2 1 0 0 1.2 1 0 0 0 1 0 0-3.6 1 0 0-2.4 1 0 0 0 1 0 0 4.8 1 0 0-1.9 1 0 0 0 1 0 0 1.2 1 0 0 0 1 0 0-2.4 1 0 0-1.7 1 0 0 0 1 0 0 5.2 1 0 0-4.8 1 0 0 0 1 0 0 4.1 1 0 0 0.4 1 0 0-0.9 1 0 0 0 1 0 0-0.3 1 0 0-1.8 1 0 0 0 1 0 0 3.8 1 0 0-1.1 1 0 0 0 1 0 0-0.1 1 0 0-1.2 1 0 0 0 1 0 0 3.1 1 0 0-4.2 1 0 0 0 1 0 0-0.6 1 0 0 0 1 0 0 1 1 0 0 0 1 0 0-1.2 1 0 0 0 1 0 0-0.6 1 0 0 0 1 0 0-2.4 1 0 0 0 1 0 0 5.2 1 0 0 0.3 1 0 0 0 1 0 0-1.3 1 0 0 0 1 0 0-0.5 1 0 0 0 1 0 0 1.3 1 0 0 2.1 1 0 0-2.6 1 0 0 0 1 0 0 1.6 1 0 0 0.2 1 0 0 0 1 0 0 1.2 1 0 0 0 1 0 0-0.6 1 0 0-7 1 0 0 0 1 0 0 4.7 1 0 0-2.5 1 0 0-3.4 1 0 0 0 1 0 0 3.7 1 0 0 2.8 1 0 0 1.9 1 0 0 0.8 1 0 0-1.1 1 0 0-5.9 1 0 0 0 1 0 0 4 1 0 0-0.7 1 0 0 0 1 0 0 0.5 1 0 0-2.8 1 0 0 0 1 0 0 3.9 1 0 0 0 1 0 0-1.9 1 0 0 0 1 0 0 2.5 1 0 0-0.8 1 0 0-4.4 1 0 0 0 1 0 0 2.4 1 0 0 0.2 1 0 0 3.5 1 0 0 0 1 0 0-0.1 1 0 0-3.3 1 0 0-4.2 1 0 0 0 1 0 0 6.8 1 0 0 0 1 0 0 1.5 1 0 0-4.1 1 0 0 0 1 0 0 1.2 1 0 0-1.6 1 0 0 0 1 0 0 0 1 0 0 1.2 1 0 0 4 1 0 0-6.4 1 0 0 0 1 0 0 1.2 1 0 0-2.1 1 0 0 0 1 0 0 4 1 0 0 0 1 0 0-6.6 1 0 0 0 1 0 0 8 1 0 0 0 1 0 0-2.5 1 0 0 0 1 0 0 1.2 1 0 0 4.6 1 0 0-4.8 1 0 0 0 1 0 0 0.2 1 0 0 0 1 0 0-2.7 1 0 0 0 1 0 0 0.9 1 0 0 3.6 1 0 0 0.9 1 0 0-5.6 1 0 0 0 1 0 0-0.1 1 0 0-1.3 1 0 0 0 1 0 0 1 1 0 0 0 1 0 0-1.4 1 0 0 0 1 0 0 3.4 1 0 0-1.8 1 0 0 0 1 0 0-2.2 1 0 0 0 1 0 0 4.4 1 0 0-3.6 1 0 0 0 1 0 0 6 1 0 0-3 1 0 0-2.3 1 0 0 0 1 0 0 2.8 1 0 0-3.7 1 0 0 0 1 0 0 5 1 0 0 0 1 0 0 2.3 1 0 0-3 1 0 0 0 1 0 0-6.4 1 0 0 0 1 0 0 6.2 1 0 0-0.1 1 0 0-2.3 1 0 0 0 1 0 0 3.2 1 0 0 0 1 0 0 0.8 1 0 0-4.1 1 0 0 0 1 0 0 0.1 1 0 0 0 1 0 0 0 1 0 0 0 1 0 0 5 1 0 0-0.2 1 0 0-0.3 1 0 0-3.4 1 0 0-2 1 0 0 0 1 0 0 6 1 0 0-6 1 0 0 0 1 0 0 3.5 1 0 0-6.4 1 0 0 0 1 0 0 4.4 1 0 0-0.6 1 0 0-2.3 1 0 0 0 1 0 0 5.8 1 0 0 0 1 0 0 1.2 1 0 0-5.6 1 0 0 0 1 0 0 5.7 1 0 0 0.2 1 0 0-6.3 1 0 0-1 1 0 0-0.4 1 0 0-4.1 1 0 0 0 1 0 0 8.8 1 0 0 0 1 0 0 0.6 1 0 0 4.3 1 0 0-2.6 1 0 0 0 1 0 0-0.7 1 0 0 0 1 0 0-3.3 1 0 0 0 1 0 0 2.4 1 0 0 0 1 0 0-1.7 1 0 0 0 1 0 0 2.9 1 0 0-4.4 1 0 0 0 1 0 0 5.8 1 0 0 0 1 0 0 0 1 0 0-3.3 1 0 0 0 1 0 0 4.1 1 0 0-5.6 1 0 0 0 1 0 0-1.2 1 0 0 0 1 0 0 3.3 1 0 0-2.1 1 0 0 0 1 0 0 1.5 1 0 0-2.5 1 0 0 0 1 0 0 0 1 0 0 0 1 0 0-1.9 1 0 0 0 1 0 0 2.7 1 0 0 0 1 0 0 5.9 1 0 0-4.1 1 0 0 0 1 0 0 3.5 1 0 0-2.5 1 0 0-0.4 1 0 0 0 1 0 0-0.9 1 0 0 0 1 0 0-3 1 0 0 0 1 0 0 3.7 1 0 0-2 1 0 0 0 1 0 0-1.7 1 0 0 0 1 0 0 3.5 1 0 0 2.4 1 0 0-1.6 1 0 0 0 1 0 0-3.3 1 0 0 0 1 0 0 1.9 1 0 0 1.9 1 0 0 0.8 1 0 0-4.8 1 0 0 0 1 0 0 0.9 1 0 0 0 1 0 0 4.7 1 0 0 0.3 1 0 0-0.8 1 0 0-3.1 1 0 0 0 1 0 0 0.8 1 0 0 0.1 1 0 0-1.4 1 0 0 0 1 0 0 1.1 1 0 0 0 1 0 0 6.5 1 0 0-4.6 1 0 0-4.3 1 0 0 0 1 0 0-0.4 1 0 0 0 1 0 0 5.7 1 0 0 2.4 1 0 0-1.9 1 0 0-4.1 1 0 0 0 1 0 0 4.7 1 0 0-0.3 1 0 0-3.1 1 0 0 0 1 0 0 0.3 1 0 0-4.9 1 0 0 0 1 0 0 7.3 1 0 0-9.8 1 0 0 0 1 0 0 6.3 1 0 0 0 1 0 0 2.6 1 0 0-29.4 1 0 0 0 1 0 0 28.5 1 0 0-1.2 1 0 0-1.7 1 0 0-0.4 1 0 0-2.9 1 0 0 0 1 0 0 4.8 1 0 0-5.9 1 0 0 0 1 0 0 7.8 1 0 0-2.7 1 0 0 0 1 0 0 0.3 1 0 0 0 1 0 0 3 1 0 0-1.1 1 0 0 0 1 0 0 2.9 1 0 0-5.1 1 0 0 0 1 0 0 1.3 1 0 0-0.3 1 0 0 0 1 0 0-1.8 1 0 0 0 1 0 0 2.4 1 0 0 2 1 0 0-3.1 1 0 0 0 1 0 0 0.4 1 0 0-3.1 1 0 0 0 1 0 0 7.8 1 0 0-2.5 1 0 0 0 1 0 0 4.3 1 0 0-6.6 1 0 0-1.2 1 0 0 0 1 0 0 4 1 0 0-8.2 1 0 0 0 1 0 0 5.8 1 0 0 0 1 0 0 0.6 1 0 0 0.4 1 0 0-0.2 1 0 0-3.9 1 0 0 0 1 0 0-0.5 1 0 0 0 1 0 0-0.7 1 0 0 0 1 0 0 5.8 1 0 0-0.1 1 0 0-0.6 1 0 0-2 1 0 0 0 1 0 0 2.4 1 0 0 0 1 0 0 0.9 1 0 0-2.7 1 0 0-0.9 1 0 0 0 1 0 0 0 1 0 0-3.3 1 0 0 0 1 0 0 6.4 1 0 0 0 1 0 0-2.9 1 0 0 0 1 0 0 0.7 1 0 0 0 1 0 0 0.4 1 0 0 0 1 0 0-0.2 1 0 0-4.3 1 0 0 0 1 0 0 4.8 1 0 0-0.4 1 0 0-2.5 1 0 0-0.5 1 0 0-2.5 1 0 0 0 1 0 0 2.5 1 0 0 0 1 0 0-1.7 1 0 0 0 1 0 0 6 1 0 0-5.8 1 0 0 0 1 0 0-3.6 1 0 0 0 1 0 0 9.6 1 0 0-1.6 1 0 0 0 1 0 0 0.2 1 0 0-3.9 1 0 0 0 1 0 0-3.9 1 0 0 0 1 0 0 10.5 1 0 0 1.2 1 0 0 0 1 0 0-0.8 1 0 0-2.4 1 0 0 0 1 0 0 0.6 1 0 0-0.8 1 0 0 0 1 0 0-0.4 1 0 0 0 1 0 0 0.8 1 0 0 0 1 0 0 0 1 0 0-1.9 1 0 0 0 1 0 0-0.6 1 0 0-2.2 1 0 0 0 1 0 0 5.2 1 0 0 1.6 1 0 0-4 1 0 0 0 1 0 0 1.9 1 0 0 0 1 0 0 2.5 1 0 0-3 1 0 0-0.6 1 0 0-5 1 0 0 0 1 0 0 4.2 1 0 0 3.3 1 0 0 2.8 1 0 0-1.9 1 0 0-2.5 1 0 0 0 1 0 0 0.9 1 0 0-2.3 1 0 0 0 1 0 0-0.5 1 0 0 0 1 0 0-3.5 1 0 0 0 1 0 0 5.8 1 0 0-1.9 1 0 0 0 1 0 0 0.1 1 0 0 0 1 0 0 0.5 1 0 0-3.8 1 0 0 0 1 0 0 1.6 1 0 0 0 1 0 0 0.9 1 0 0 3.7 1 0 0-6.1 1 0 0 0 1 0 0-1.1 1 0 0 0 1 0 0 2.1 1 0 0 0 1 0 0 1.2 1 0 0 0 1 0 0 3.6 1 0 0-0.8 1 0 0-0.6 1 0 0 0 1 0 0 1.6 1 0 0 3.2 1 0 0-0.1 1 0 0-6.1 1 0 0 0 1 0 0 0.3 1 0 0 0 1 0 0-1.3 1 0 0 0 1 0 0 1.3 1 0 0 0 1 0 0 0.6 1 0 0-3.3 1 0 0 0 1 0 0-14 1 0 0 0 1 0 0 20.6 1 0 0-1.6 1 0 0 0 1 0 0 0.5 1 0 0 0 1 0 0 0.5 1 0 0-1.2 1 0 0 0 1 0 0-0.6 1 0 0 0 1 0 0-4 1 0 0 0 1 0 0 3.5 1 0 0 1.3 1 0 0-1.9 1 0 0 0 1 0 0 2.2 1 0 0 0.6 1 0 0-2.2 1 0 0 0 1 0 0 2.4 1 0 0-6.2 1 0 0 0 1 0 0 4.2 1 0 0 0 1 0 0-0.1 1 0 0 0 1 0 0-0.3 1 0 0 0 1 0 0 0.3 1 0 0 0 1 0 0 1.2 1 0 0-3.7 1 0 0-2 1 0 0 0 1 0 0 0 1 0 0 7 1 0 0-3.6 1 0 0 0 1 0 0 3.8 1 0 0-2.4 1 0 0-10.4 1 0 0 0 1 0 0 8.3 1 0 0 0 1 0 0 2.1 1 0 0 0 1 0 0 2.4 1 0 0-0.2 1 0 0-3.1 1 0 0 0 1 0 0 1.7 1 0 0 0 1 0 0 0.4 1 0 0 0 1 0 0 0 1 0 0-4.3 1 0 0 0 1 0 0 5.3 1 0 0-1.7 1 0 0 0 1 0 0 0.5 1 0 0 0 1 0 0 0.8 1 0 0 1.6 1 0 0 0.5 1 0 0-9.8 1 0 0 0 1 0 0-0.9 1 0 0 0 1 0 0 4.4 1 0 0 3.9 1 0 0-4.2 1 0 0 0 1 0 0 1 1 0 0 2.1 1 0 0 0 1 0 0-9.4 1 0 0 0 1 0 0 7.9 1 0 0-1.6 1 0 0 0 1 0 0 4.2 1 0 0 0 1 0 0 0.4 1 0 0-1.3 1 0 0-0.1 1 0 0 0 1 0 0 2.1 1 0 0-2.7 1 0 0 0 1 0 0-1.3 1 0 0 0 1 0 0-6 1 0 0 0 1 0 0 8.2 1 0 0-7.1 1 0 0 0 1 0 0 6 1 0 0 0 1 0 0 0 1 0 0-3.9 1 0 0 0 1 0 0 4.8 1 0 0-1.7 1 0 0 0 1 0 0-0.3 1 0 0 0 1 0 0 1.6 1 0 0 0 1 0 0-1.7 1 0 0 0 1 0 0-2.1 1 0 0-4.7 1 0 0 0 1 0 0 6.3 1 0 0 6 1 0 0-5 1 0 0 0 1 0 0 1.1 1 0 0 0 1 0 0-3.1 1 0 0 0 1 0 0 4.6 1 0 0-6.5 1 0 0-1.6 1 0 0 0 1 0 0 2.5 1 0 0 0 1 0 0 4.3 1 0 0 1.2 1 0 0-3.7 1 0 0 0 1 0 0-0.8 1 0 0 0 1 0 0 0 1 0 0 0.4 1 0 0 0.8 1 0 0 2.7 1 0 0-3.3 1 0 0 0 1 0 0 30.3-1 0 0 1.1-1 0 0 0-1 0 0-0.9-1 0 0 2.4-1 0 0 0-1 0 0 2.8-1 0 0 2.1-1 0 0 0-1 0 0-8.1-1 0 0 2.4-1 0 0 0.6-1 0 0 0.4-1 0 0 0-1 0 0-3.3-1 0 0 4.4-1 0 0 0-1 0 0-0.6-1 0 0-0.7-1 0 0 0-1 0 0 0-1 0 0 0-1 0 0-1.4-1 0 0-1.6-1 0 0 9.4-1 0 0 0-1 0 0-5.2-1 0 0-0.8-1 0 0 0-1 0 0 0.5-1 0 0 0-1 0 0-3.2-1 0 0-0.2-1 0 0 3.1-1 0 0 0-1 0 0-3.3-1 0 0 4.9-1 0 0 16-1 0 0 0-1 0 0-20.3-1 0 0 7.5-1 0 0 0-1 0 0-7-1 0 0 0-1 0 0-0.7-1 0 0-1.4-1 0 0 5.6-1 0 0 0-1 0 0-4.1-1 0 0 2.9-1 0 0 0-1 0 0-2.6-1 0 0 0.9-1 0 0 1.1-1 0 0 0-1 0 0-2.6-1 0 0 6.8-1 0 0 0-1 0 0 0-1 0 0 0.7-1 0 0 0-1 0 0-4.7-1 0 0-4.9-1 0 0 1.1-1 0 0 2.6-1 0 0 0-1 0 0-0.9-1 0 0-1-1 0 0 3.6-1 0 0 0-1 0 0-1.1-1 0 0-3.3-1 0 0 2.5-1 0 0 4.1-1 0 0 0-1 0 0 0.5-1 0 0 1-1 0 0 0-1 0 0-2.6-1 0 0 1.1-1 0 0 0.2-1 0 0 0-1 0 0-1.7-1 0 0 0-1 0 0 1.7-1 0 0 0-1 0 0-6.7-1 0 0 2.2-1 0 0 1.1-1 0 0 0-1 0 0 2.7-1 0 0 0-1 0 0-2.5-1 0 0 0-1 0 0 1-1 0 0 0.4-1 0 0 0-1 0 0-1.7-1 0 0 0-1 0 0-1.8-1 0 0 0.5-1 0 0 0-1 0 0-1.2-1 0 0-1.8-1 0 0 8.3-1 0 0 0-1 0 0-6.5-1 0 0-0.6-1 0 0 0-1 0 0-0.2-1 0 0 0.3-1 0 0 0.3-1 0 0 3.4-1 0 0 0-1 0 0-1.8-1 0 0 0.4-1 0 0 0-1 0 0 0-1 0 0 1.4-1 0 0 0-1 0 0-1-1 0 0 0-1 0 0 3-1 0 0 0-1 0 0-2.4-1 0 0 0.9-1 0 0 1.4-1 0 0 4.3-1 0 0 0-1 0 0-9.7-1 0 0 0.2-1 0 0 0-1 0 0 8.5-1 0 0 0-1 0 0-8.3-1 0 0 0.9-1 0 0 3.7-1 0 0 0-1 0 0-5.8-1 0 0 1.3-1 0 0 2.8-1 0 0 0.1-1 0 0 2.8-1 0 0 0-1 0 0 0.5-1 0 0 1-1 0 0 0-1 0 0 2.7-1 0 0 0-1 0 0-7.6-1 0 0 1.1-1 0 0 0-1 0 0-2.9-1 0 0-0.5-1 0 0 7.5-1 0 0 0-1 0 0-5.9-1 0 0 7.1-1 0 0 0-1 0 0-8.8-1 0 0 4.5-1 0 0 0-1 0 0 1-1 0 0 0-1 0 0-4.9-1 0 0 2.4-1 0 0 0-1 0 0-1.1-1 0 0-1.2-1 0 0 0.7-1 0 0 7.5-1 0 0 0-1 0 0-5.8-1 0 0-1.9-1 0 0 0.1-1 0 0 0-1 0 0-2.1-1 0 0 0-1 0 0 0-1 0 0 2.4-1 0 0 0-1 0 0 1.2-1 0 0 0-1 0 0 1.4-1 0 0 1.7-1 0 0 0-1 0 0-4.2-1 0 0 3.9-1 0 0 0-1 0 0-6.5-1 0 0 1.4-1 0 0 0-1 0 0-2-1 0 0 0-1 0 0 4.4-1 0 0 0-1 0 0-1.1-1 0 0 4.5-1 0 0 0-1 0 0-3.1-1 0 0-3.5-1 0 0 0-1 0 0 3.7-1 0 0 0-1 0 0-0.5-1 0 0 0-1 0 0 4.4-1 0 0 0-1 0 0-3.5-1 0 0 0.5-1 0 0 0-1 0 0-1.3-1 0 0-3.7-1 0 0 1.6-1 0 0 0-1 0 0-0.2-1 0 0 2.7-1 0 0 0-1 0 0-0.3-1 0 0 0-1 0 0-0.9-1 0 0 0.3-1 0 0 0.1-1 0 0 0-1 0 0 5.3-1 0 0 0-1 0 0-6.3-1 0 0-2.7-1 0 0 1.4-1 0 0 3.9-1 0 0 0-1 0 0-2-1 0 0 1.1-1 0 0 0-1 0 0-3-1 0 0-2.4-1 0 0 8.9-1 0 0 0-1 0 0-4.6-1 0 0 0-1 0 0-0.8-1 0 0-0.5-1 0 0-1-1 0 0 1.3-1 0 0 1.4-1 0 0 0.3-1 0 0 0-1 0 0-2.3-1 0 0 3-1 0 0 1.1-1 0 0 0-1 0 0-1.1-1 0 0 0-1 0 0-1.1-1 0 0 4.8-1 0 0 0-1 0 0-0.6-1 0 0-7.8-1 0 0 3.5-1 0 0 0.6-1 0 0 0-1 0 0-0.3-1 0 0-2.8-1 0 0 1.7-1 0 0 1.8-1 0 0 8.5-1 0 0 0-1 0 0-11.1-1 0 0 2.5-1 0 0 0.1-1 0 0 0-1 0 0-1.6-1 0 0 0.7-1 0 0 4.5-1 0 0 0-1 0 0 1.5-1 0 0 0-1 0 0-2.9-1 0 0-3.9-1 0 0 0-1 0 0 7.2-1 0 0 0-1 0 0-5.1-1 0 0-3.9-1 0 0 0.6-1 0 0 4.2-1 0 0 0-1 0 0-0.1-1 0 0 0.7-1 0 0 0-1 0 0-2.7-1 0 0 3.1-1 0 0 0-1 0 0-4-1 0 0-1-1 0 0 2.2-1 0 0 3.5-1 0 0 0-1 0 0 0.8-1 0 0 0-1 0 0-2.7-1 0 0 0.4-1 0 0 0.5-1 0 0 0-1 0 0-1.8-1 0 0-1.2-1 0 0-2.8-1 0 0 0.6-1 0 0 0.7-1 0 0 0-1 0 0-0.2-1 0 0 0-1 0 0 1.7-1 0 0 0-1 0 0-0.3-1 0 0 0-1 0 0-0.5-1 0 0 3-1 0 0 4.4-1 0 0 0-1 0 0 7.8-1 0 0 0-1 0 0-7.7-1 0 0 0-1 0 0-8.6-1 0 0 0-1 0 0 2.6-1 0 0 0-1 0 0-2.5-1 0 0 6.6-1 0 0 0-1 0 0-3.1-1 0 0-2.2-1 0 0-0.5-1 0 0 1.8-1 0 0 0-1 0 0-0.7-1 0 0 0-1 0 0 9.4-1 0 0 0-1 0 0-7.4-1 0 0-1.2-1 0 0 5.7-1 0 0 0-1 0 0-4.4-1 0 0-3.8-1 0 0-1.3-1 0 0 1.2-1 0 0 3.6-1 0 0 0-1 0 0-1.5-1 0 0 0.4-1 0 0 0.8-1 0 0 0-1 0 0-3.9-1 0 0 1.8-1 0 0 0.2-1 0 0 2-1 0 0 0-1 0 0 2.2-1 0 0 0-1 0 0 0.3-1 0 0 0-1 0 0-3.6-1 0 0 1.1-1 0 0 0-1 0 0-2.3-1 0 0 4.5-1 0 0 0-1 0 0-2.1-1 0 0 0-1 0 0-4.5-1 0 0 3.5-1 0 0 0-1 0 0-0.7-1 0 0-0.5-1 0 0 1.1-1 0 0 0-1 0 0 2.2-1 0 0 0-1 0 0-0.2-1 0 0-0.7-1 0 0 0-1 0 0-3.9-1 0 0 0-1 0 0 8.7-1 0 0 0-1 0 0-2.3-1 0 0-7.8-1 0 0 2.8-1 0 0 0-1 0 0-1.4-1 0 0 0.2-1 0 0 0-1 0 0 5.8-1 0 0 0-1 0 0 3.9-1 0 0 0-1 0 0-3.4-1 0 0 0-1 0 0-6.4-1 0 0-1.8-1 0 0 3.7-1 0 0 0-1 0 0 1.3-1 0 0 0-1 0 0 0.6-1 0 0 0.2-1 0 0 0.2-1 0 0 0-1 0 0 0.3-1 0 0 0.7-1 0 0 0-1 0 0-5.5-1 0 0 1.8-1 0 0 0-1 0 0-1.4-1 0 0 1.2-1 0 0 0-1 0 0 0.3-1 0 0 4.5-1 0 0 0-1 0 0-5.2-1 0 0 1.2-1 0 0 2.3-1 0 0 0-1 0 0-3.2-1 0 0 0-1 0 0 2.2-1 0 0 0-1 0 0-3-1 0 0-2-1 0 0 2.5-1 0 0 0.7-1 0 0 0-1 0 0 1.1-1 0 0 0-1 0 0 1.2-1 0 0 0.2-1 0 0 0-1 0 0-0.1-1 0 0 0-1 0 0-1.4-1 0 0-2.2-1 0 0 1.2-1 0 0 0.7-1 0 0 0-1 0 0 8.4-1 0 0 0-1 0 0-9-1 0 0 0.8-1 0 0 0-1 0 0-0.4-1 0 0-3.9-1 0 0-0.4-1 0 0 2.6-1 0 0 0-1 0 0-0.3-1 0 0-0.5-1 0 0 0-1 0 0-1.9-1 0 0 3.8-1 0 0 0-1 0 0-1.2-1 0 0-1.1-1 0 0 0-1 0 0 2-1 0 0 0-1 0 0 1.4-1 0 0 0-1 0 0-3.9-1 0 0-0.3-1 0 0 0-1 0 0 1.2-1 0 0 0-1 0 0 3-1 0 0 1.1-1 0 0 6.1-1 0 0 0-1 0 0-8.8-1 0 0 0-1 0 0-0.7-1 0 0 0.7-1 0 0 0-1 0 0 0.2-1 0 0 0.1-1 0 0 0-1 0 0 3.6-1 0 0 0-1 0 0 3.3-1 0 0 0-1 0 0-2.9-1 0 0-2.9-1 0 0 0-1 0 0-0.3-1 0 0-0.7-1 0 0 0-1 0 0 0.3-1 0 0 0-1 0 0 2.8-1 0 0 0-1 0 0-4.1-1 0 0 1.1-1 0 0 0.8-1 0 0 0.8-1 0 0 3.1-1 0 0 0-1 0 0-6.3-1 0 0 1.4-1 0 0 2.1-1 0 0 0-1 0 0 2.5-1 0 0 0-1 0 0-6.5-1 0 0 3-1 0 0 0-1 0 0 1.5-1 0 0 0-1 0 0-0.5-1 0 0 0-1 0 0-2.3-1 0 0 0-1 0 0 0.1-1 0 0 1-1 0 0 0-1 0 0 3.7-1 0 0 0-1 0 0-5.5-1 0 0 3.5-1 0 0 0-1 0 0-2.2-1 0 0 1.1-1 0 0 1.9-1 0 0 0-1 0 0-8.1-1 0 0 2.9-1 0 0 0-1 0 0-0.3-1 0 0 0-1 0 0 0.9-1 0 0 0-1 0 0 6-1 0 0 0-1 0 0-5.9-1 0 0-2.2-1 0 0 0.2-1 0 0 1.4-1 0 0 2.9-1 0 0 1.3-1 0 0 0-1 0 0-4.8-1 0 0 3.1-1 0 0 0-1 0 0-0.9-1 0 0 0-1 0 0 1.5-1 0 0 0-1 0 0 1.2-1 0 0 0-1 0 0-4.1-1 0 0-0.7-1 0 0 8.6-1 0 0 0-1 0 0-6.5-1 0 0-0.3-1 0 0-2.5-1 0 0 7.1-1 0 0 2.7-1 0 0 0-1 0 0 0-1 0 0-6-1 0 0 0-1 0 0-0.9-1 0 0 0.9-1 0 0 1.2-1 0 0 0-1 0 0-0.5-1 0 0-1.3-1 0 0-0.4-1 0 0 0.5-1 0 0 0-1 0 0-0.8-1 0 0 0-1 0 0 6.7-1 0 0 0-1 0 0-7.7-1 0 0 8.3-1 0 0 0-1 0 0-1.8-1 0 0 0-1 0 0 2.5-1 0 0 0-1 0 0-1.5-1 0 0 0-1 0 0-4-1 0 0-2.9-1 0 0 1.5-1 0 0 0.1-1 0 0 0.7-1 0 0 0-1 0 0 5.9-1 0 0 0-1 0 0-9.5-1 0 0 4-1 0 0 7.4-1 0 0 0-1 0 0-9-1 0 0 0-1 0 0 2.4-1 0 0 0-1 0 0-5.3-1 0 0 0.5-1 0 0 3.4-1 0 0 0-1 0 0-1.1-1 0 0-1.9-1 0 0 1.9-1 0 0 1.3-1 0 0 0-1 0 0 6.7-1 0 0 0-1 0 0 0-1 0 0-9.3-1 0 0 1.1-1 0 0 0-1 0 0-0.6-1 0 0 2.7-1 0 0 2.5-1 0 0 0-1 0 0-2.4-1 0 0-0.6-1 0 0 0.2-1 0 0 1.1-1 0 0 0-1 0 0-3.3-1 0 0-1.5-1 0 0-0.1-1 0 0-0.8-1 0 0 7.5-1 0 0 0-1 0 0-1.2-1 0 0 0-1 0 0-3.1-1 0 0 0-1 0 0 0.9-1 0 0 0-1 0 0-4.1-1 0 0 4.9-1 0 0 4.5-1 0 0 0-1 0 0-7.4-1 0 0 1.5-1 0 0 0.1-1 0 0 0-1 0 0-1.7-1 0 0 4.4-1 0 0 0-1 0 0-3.4-1 0 0-0.5-1 0 0 6-1 0 0 0-1 0 0-3.2-1 0 0-3.4-1 0 0 0-1 0 0 0-1 0 0 1.2-1 0 0 1.8-1 0 0 0-1 0 0-2.8-1 0 0 5.2-1 0 0 0-1 0 0-5.1-1 0 0 0-1 0 0-0.2-1 0 0 2.9-1 0 0 0-1 0 0-1.1-1 0 0-0.9-1 0 0 2.1-1 0 0 0-1 0 0-2.5-1 0 0 7.5-1 0 0 0-1 0 0-0.9-1 0 0-5.8-1 0 0 5.3-1 0 0 0-1 0 0-3.4-1 0 0 0-1 0 0-2.4-1 0 0 2.9-1 0 0 0-1 0 0-0.3-1 0 0 0-1 0 0-5.1-1 0 0 0.7-1 0 0 0.8-1 0 0 0.9-1 0 0 5.3-1 0 0 0-1 0 0-4.4-1 0 0 0.6-1 0 0 0-1 0 0-4.1-1 0 0 1.4-1 0 0 0-1 0 0-0.4-1 0 0 0.4-1 0 0 0-1 0 0-1.8-1 0 0 16-1 0 0 0-1 0 0-13.3-1 0 0-0.9-1 0 0-0.8-1 0 0 0-1 0 0 0-1 0 0 2.1-1 0 0 0-1 0 0-1.2-1 0 0 4.5-1 0 0 0-1 0 0 4.7-1 0 0 0-1 0 0-1.9-1 0 0 0-1 0 0-7-1 0 0-1.4-1 0 0 0.6-1 0 0 0.6-1 0 0 2.9-1 0 0 0-1 0 0-2-1 0 0-0.1-1 0 0 0-1 0 0 4.6-1 0 0 0-1 0 0-2-1 0 0-0.8-1 0 0 0-1 0 0 0-1 0 0-1.4-1 0 0 0-1 0 0-1-1 0 0 2.7-1 0 0 0-1 0 0 1.3-1 0 0 0-1 0 0-0.1-1 0 0-6.1-1 0 0 1.7-1 0 0 6.5-1 0 0 0-1 0 0-1.4-1 0 0 0-1 0 0-3.1-1 0 0 0-1 0 0-2.9-1 0 0 5.9-1 0 0 0-1 0 0-3-1 0 0 3.9-1 0 0 0-1 0 0 0.2-1 0 0 0-1 0 0-0.1-1 0 0-0.2-1 0 0 0-1 0 0-8.9-1 0 0 6.4-1 0 0 0-1 0 0-3-1 0 0 1-1 0 0 0-1 0 0-3.8-1 0 0 5.6-1 0 0 0-1 0 0-0.7-1 0 0 2-1 0 0 0-1 0 0-3.3-1 0 0 0-1 0 0 2.6-1 0 0 0-1 0 0 3.5-1 0 0 0-1 0 0-5.8-1 0 0-1.5-1 0 0 6.2-1 0 0 0-1 0 0-3.4-1 0 0-0.6-1 0 0 0-1 0 0-0.2-1 0 0 0-1 0 0 5.9-1 0 0 0-1 0 0-8.7-1 0 0 1-1 0 0 2.1-1 0 0 0.6-1 0 0 0.4-1 0 0 0-1 0 0-1.8-1 0 0 0-1 0 0-1.3-1 0 0 3.5-1 0 0 0-1 0 0 4.6-1 0 0 0-1 0 0-2.4-1 0 0 0-1 0 0-5.5-1 0 0 0-1 0 0-1.4-1 0 0 3.6-1 0 0 0-1 0 0-0.2-1 0 0 5.6-1 0 0 0-1 0 0-6.3-1 0 0 8.8-1 0 0 0-1 0 0-9-1 0 0 0.2-1 0 0 0-1 0 0-0.7-1 0 0-0.8-1 0 0-1.1-1 0 0 3.1-1 0 0 0.8-1 0 0 0-1 0 0-1.8-1 0 0 1.7-1 0 0 0-1 0 0 1.8-1 0 0 0-1 0 0-2.1-1 0 0 0.4-1 0 0 0-1 0 0-1.7-1 0 0-0.9-1 0 0 6.9-1 0 0 0-1 0 0-5.6-1 0 0 3.9-1 0 0 2.7-1 0 0 0-1 0 0-5.9-1 0 0-0.2-1 0 0 0-1 0 0-1.1-1 0 0 1.1-1 0 0 0-1 0 0-0.1-1 0 0 2.8-1 0 0 0-1 0 0 0.2-1 0 0 3.5-1 0 0 0-1 0 0-6.6-1 0 0 0-1 0 0 0.8-1 0 0 1.6-1 0 0 0-1 0 0-0.3-1 0 0 0-1 0 0-1.5-1 0 0-0.8-1 0 0-1.8-1 0 0 1.4-1 0 0 0-1 0 0-0.1-1 0 0 0.5-1 0 0 0-1 0 0-3.7-1 0 0 6.2-1 0 0 0-1 0 0-2.1-1 0 0 0-1 0 0 1.7-1 0 0 0-1 0 0-0.7-1 0 0 2-1 0 0 0-1 0 0 2.4-1 0 0 0-1 0 0-6.2-1 0 0 1.9-1 0 0 0-1 0 0-1-1 0 0 1.9-1 0 0 0-1 0 0-1.6-1 0 0 0-1 0 0 0.2-1 0 0 0-1 0 0 0.7-1 0 0 0-1 0 0-2.3-1 0 0-1.4-1 0 0 0.5-1 0 0 5.3-1 0 0 2.5-1 0 0 0-1 0 0-8.4-1 0 0 3.9-1 0 0 1.2-1 0 0 0-1 0 0-0.9-1 0 0 0-1 0 0-2.1-1 0 0 2.8-1 0 0 0-1 0 0-5-1 0 0 1-1 0 0 3.2-1 0 0 0-1 0 0 1.7-1 0 0 1-1 0 0 0-1 0 0 1-1 0 0 0-1 0 0-4.8-1 0 0 0-1 0 0 4.8-1 0 0 0-1 0 0 0-1 0 0-3.5-1 0 0 0-1 0 0-3.5-1 0 0-0.1-1 0 0 0-1 0 0 0.6-1 0 0 0-1 0 0 2.7-1 0 0 0-1 0 0-4.1-1 0 0 4.6-1 0 0 0.8-1 0 0 0-1 0 0-3.3-1 0 0 4.1-1 0 0 0-1 0 0 0.5-1 0 0 0-1 0 0-1.2-1 0 0 0-1 0 0-4.7-1 0 0 4-1 0 0 0-1 0 0-1.5-1 0 0 2.9-1 0 0 0-1 0 0-3.2-1 0 0 2.3-1 0 0 0-1 0 0-4.3-1 0 0 2.9-1 0 0 1.4-1 0 0 0-1 0 0-3.6-1 0 0 0.5-1 0 0 5.6-1 0 0 0-1 0 0-5.1-1 0 0 0-1 0 0 3.5-1 0 0 0-1 0 0 4-1 0 0 0.1-1 0 0 0-1 0 0-4.8-1 0 0 0-1 0 0-6.8-1 0 0 10.8-1 0 0 0-1 0 0-5.9-1 0 0-0.6-1 0 0-3.3-1 0 0 2.9-1 0 0 0-1 0 0-2.4-1 0 0 7.6-1 0 0 0-1 0 0-3.8-1 0 0 0.9-1 0 0 1.3-1 0 0 0-1 0 0 73.4-1 0 0 0-1 0 0-73.3-1 0 0-3.9-1 0 0 3-1 0 0 0-1 0 0-3-1 0 0-2-1 0 0 0-1 0 0-0.7-1 0 0 2.4-1 0 0 0-1 0 0-2.3-1 0 0 0.4-1 0 0 2.9-1 0 0 0-1 0 0-1.8-1 0 0 4.3-1 0 0 0-1 0 0 2.7-1 0 0 0-1 0 0-2-1 0 0-0.2-1 0 0-2.8-1 0 0 0-1 0 0-0.9-1 0 0-1.6-1 0 0 0-1 0 0-0.7-1 0 0 1.3-1 0 0 2.6-1 0 0 0-1 0 0-1.2-1 0 0-0.1-1 0 0 0-1 0 0 1-1 0 0 0-1 0 0 3.4-1 0 0 0-1 0 0-4.7-1 0 0-0.5-1 0 0 0.6-1 0 0 1.2-1 0 0 0-1 0 0-2.4-1 0 0 2.7-1 0 0 0-1 0 0-4.4-1 0 0 3.9-1 0 0 0-1 0 0 2.6-1 0 0 0-1 0 0-4.9-1 0 0 0-1 0 0-0.3-1 0 0 4.9-1 0 0 0-1 0 0-0.1-1 0 0 0-1 0 0-0.1-1 0 0 0-1 0 0-4.3-1 0 0 0-1 0 0 1.4-1 0 0 7-1 0 0 0-1 0 0-3.6-1 0 0-4.7-1 0 0 0.2-1 0 0 0-1 0 0-2.3-1 0 0 5.3-1 0 0 0-1 0 0-0.6-1 0 0-3.6-1 0 0 0.7-1 0 0 5.6-1 0 0 0-1 0 0-5.1-1 0 0 0-1 0 0-2.8-1 0 0-2-1 0 0 3.2-1 0 0 0.5-1 0 0 1.2-1 0 0 0-1 0 0 1.6-1 0 0 0-1 0 0-0.7-1 0 0-1.1-1 0 0 4.5-1 0 0 0-1 0 0-3.9-1 0 0 0-1 0 0-0.6-1 0 0 6-1 0 0 0-1 0 0 0-1 0 0-3.2-1 0 0-1.8-1 0 0 0.5-1 0 0 0-1 0 0-2.3-1 0 0-1.1-1 0 0 4.5-1 0 0 2.9-1 0 0 0-1 0 0-5.8-1 0 0 1.1-1 0 0 0.4-1 0 0 0.2-1 0 0 0-1 0 0-0.8-1 0 0 1.9-1 0 0 0-1 0 0-3.7-1 0 0 6.2-1 0 0 0-1 0 0-1.8-1 0 0-3.3-1 0 0 0.3-1 0 0 6.4-1 0 0 0-1 0 0-2.2-1 0 0 1.1-1 0 0 0-1 0 0-0.9-1 0 0 0-1 0 0-5.5-1 0 0 0-1 0 0-0.4-1 0 0-0.1-1 0 0 0-1 0 0 0.1-1 0 0 0.7-1 0 0 4.6-1 0 0 0-1 0 0-6.9-1 0 0 2.6-1 0 0 1.2-1 0 0 0-1 0 0 0.9-1 0 0 6-1 0 0 0-1 0 0-3.8-1 0 0-0.8-1 0 0 2.1-1 0 0 0-1 0 0 0.3-1 0 0 0-1 0 0-0.5-1 0 0-5.5-1 0 0 3.5-1 0 0 0-1 0 0 1.2-1 0 0 0-1 0 0-4.9-1 0 0 0-1 0 0 4.3-1 0 0 0-1 0 0 15.8-1 0 0 0-1 0 0-23.5-1 0 0 0.7-1 0 0 1.9-1 0 0 2.2-1 0 0 0-1 0 0-1.8-1 0 0 0-1 0 0 2.2-1 0 0 0-1 0 0 5.9-1 0 0 0-1 0 0 0-1 0 0-9.6-1 0 0 0-1 0 0 2.8-1 0 0 0-1 0 0-1.1-1 0 0-0.8-1 0 0 0-1 0 0 1.2-1 0 0 0-1 0 0 1.2-1 0 0 0-1 0 0 2.5-1 0 0 0-1 0 0-6.9-1 0 0 5.9-1 0 0 1.2-1 0 0 0-1 0 0-4.9-1 0 0-2-1 0 0 9.1-1 0 0 0-1 0 0-5.2-1 0 0 0-1 0 0 5.8-1 0 0 0-1 0 0-3-1 0 0 4.9-1 0 0 0-1 0 0-3.5-1 0 0 0-1 0 0-4.2-1 0 0 0-1 0 0-0.9-1 0 0-0.8-1 0 0 0.3-1 0 0 3.3-1 0 0 0-1 0 0-0.1-1 0 0 0-1 0 0-3.4-1 0 0 2.3-1 0 0 0-1 0 0-0.8-1 0 0 2.1-1 0 0 1-1 0 0 0-1 0 0-0.4-1 0 0 3.7-1 0 0 0-1 0 0-2.3-1 0 0-5.8-1 0 0 0-1 0 0 1-1 0 0 0-1 0 0-0.7-1 0 0 6.8-1 0 0 0-1 0 0-4.8-1 0 0-2.5-1 0 0 7.6-1 0 0 0-1 0 0-4.4-1 0 0-0.5-1 0 0 1.2-1 0 0 0-1 0 0 5.2-1 0 0 0-1 0 0-4.8-1 0 0 0-1 0 0-1.2-1 0 0 1.2-1 0 0 0-1 0 0-2.4-1 0 0 0-1 0 0 2.7-1 0 0 0-1 0 0-4.1-1 0 0 2.4-1 0 0 0.5-1 0 0 0-1 0 0 1.1-1 0 0 0-1 0 0-3.8-1 0 0 4.6-1 0 0 0-1 0 0 2.6-1 0 0 0-1 0 0-7.8-1 0 0-0.7-1 0 0 7.9-1 0 0 0-1 0 0-0.3-1 0 0 0-1 0 0-4.7-1 0 0 0.6-1 0 0 0-1 0 0 0.5-1 0 0 0-1 0 0 4.3-1 0 0 0-1 0 0-5.1-1 0 0 0-1 0 0 2.6-1 0 0 0-1 0 0-3.9-1 0 0-1.7-1 0 0 0.8-1 0 0 0-1 0 0-2-1 0 0 0.7-1 0 0 7.8-1 0 0 0-1 0 0-3.3-1 0 0 0-1 0 0-1.4-1 0 0 0-1 0 0 0.7-1 0 0 0-1 0 0-2.9-1 0 0 0-1 0 0 12.6-1 0 0 0-1 0 0 0-1 0 0-5.5-1 0 0 0-1 0 0-4.7-1 0 0-1.8-1 0 0 1.7-1 0 0 0-1 0 0-1.5-1 0 0 1.9-1 0 0 0-1 0 0-2.3-1 0 0 1.3-1 0 0 2.8-1 0 0 0-1 0 0-4-1 0 0 0-1 0 0 0.7-1 0 0 0-1 0 0 1.6-1 0 0 8.4-1 0 0 0-1 0 0-1.6-1 0 0 0-1 0 0-6-1 0 0 0-1 0 0-3.1-1 0 0 0-1 0 0 4.8-1 0 0 0-1 0 0-3.3-1 0 0 2.5-1 0 0 0-1 0 0-4.8-1 0 0 5.4-1 0 0 0-1 0 0-5.9-1 0 0 6.2-1 0 0 0-1 0 0-3-1 0 0 1.3-1 0 0 2.9-1 0 0 0-1 0 0-4.8-1 0 0 1.7-1 0 0 0-1 0 0 4.4-1 0 0 0-1 0 0-7.2-1 0 0 0-1 0 0 3.5-1 0 0 0-1 0 0-0.1-1 0 0 0-1 0 0-1.6-1 0 0 0.2-1 0 0 0-1 0 0 3.5-1 0 0 0-1 0 0-4.2-1 0 0 2.3-1 0 0 0-1 0 0-1-1 0 0-0.2-1 0 0 4.7-1 0 0 0-1 0 0-7.3-1 0 0 3.7-1 0 0 0-1 0 0-1.8-1 0 0-0.2-1 0 0 1.6-1 0 0 0-1 0 0-2.1-1 0 0 4.7-1 0 0 0-1 0 0-7.5-1 0 0 4.7-1 0 0 2.8-1 0 0 0-1 0 0-5.5-1 0 0-0.9-1 0 0 11.2-1 0 0 0-1 0 0-7.3-1 0 0 5.9-1 0 0 0-1 0 0-7.3-1 0 0 0.8-1 0 0 0-1 0 0 5.5-1 0 0 0-1 0 0-3.6-1 0 0-0.7-1 0 0 0-1 0 0-1.7-1 0 0 1.6-1 0 0 0-1 0 0-2-1 0 0-0.2-1 0 0 2.4-1 0 0 0-1 0 0-0.1-1 0 0-3-1 0 0-2.9-1 0 0 3-1 0 0 0.6-1 0 0 0-1 0 0-2.1-1 0 0 5.1-1 0 0 0-1 0 0 0.9-1 0 0 0-1 0 0 0.1-1 0 0 0-1 0 0-3.6-1 0 0-0.5-1 0 0 0.6-1 0 0 0-1 0 0 0.6-1 0 0 0-1 0 0-1.6-1 0 0 2-1 0 0 0-1 0 0-2.3-1 0 0 1.2-1 0 0 0-1 0 0-3.2-1 0 0 4.4-1 0 0 2.6-1 0 0 0-1 0 0-2.5-1 0 0-1-1 0 0 2.8-1 0 0 0.4-1 0 0 0-1 0 0-1-1 0 0 0.3-1 0 0 0-1 0 0-3.9-1 0 0 7.6-1 0 0 0-1 0 0-9.2-1 0 0 2-1 0 0 0-1 0 0 1-1 0 0 11.1-1 0 0 0-1 0 0-11.8-1 0 0 0-1 0 0 2-1 0 0 0-1 0 0 7.8-1 0 0 0-1 0 0-11.7-1 0 0 1.9-1 0 0 0.1-1 0 0 0-1 0 0 4.4-1 0 0 0-1 0 0-4.5-1 0 0-0.3-1 0 0 4.1-1 0 0 0-1 0 0-0.8-1 0 0 0-1 0 0 5.4-1 0 0 0-1 0 0-8.1-1 0 0 1.8-1 0 0 0-1 0 0 2.2-1 0 0 0-1 0 0-1.5-1 0 0 0-1 0 0-2.8-1 0 0 0-1 0 0 1.6-1 0 0 2.9-1 0 0 0-1 0 0-3.7-1 0 0 0-1 0 0-5.3-1 0 0 3.3-1 0 0 1.3-1 0 0 0-1 0 0-2-1 0 0 2.6-1 0 0 1.4-1 0 0 0-1 0 0 0.3-1 0 0 0-1 0 0 0.6-1 0 0 12.3-1 0 0 0-1 0 0-17.2-1 0 0 0.6-1 0 0 1.1-1 0 0 1.1-1 0 0 4-1 0 0 2-1 0 0 0-1 0 0-11.6-1 0 0 1.7-1 0 0 10.2-1 0 0 0-1 0 0-6.4-1 0 0-0.5-1 0 0-0.7-1 0 0 0-1 0 0 12.2-1 0 0 0-1 0 0-10.4-1 0 0-0.9-1 0 0-0.7-1 0 0 1.3-1 0 0 0.2-1 0 0 0-1 0 0 0.6-1 0 0 0-1 0 0 0.6-1 0 0 1.7-1 0 0 0-1 0 0-1.1-1 0 0 0.5-1 0 0 24.4-1 0 0 0-1 0 0-23.2-1 0 0-2-1 0 0 0-1 0 0-0.9-1 0 0 0-1 0 0 7.9-1 0 0 0-1 0 0-10.1-1 0 0-0.8-1 0 0 4.6-1 0 0 5.2-1 0 0 0-1 0 0-8.6-1 0 0-0.2-1 0 0 0-1 0 0-0.6-1 0 0 10-1 0 0 0-1 0 0-10-1 0 0-0.3-1 0 0-2.9-1 0 0 1.9-1 0 0 8.5-1 0 0 0-1 0 0-5-1 0 0 0-1 0 0-2.2-1 0 0 0-1 0 0 1.6-1 0 0 0-1 0 0-4.6-1 0 0 10.4-1 0 0 0-1 0 0-5.6-1 0 0 16.9-1 0 0 0-1 0 0-11.1-1 0 0 0-1 0 0-3.7-1 0 0 0-1 0 0 0.6-1 0 0 1.3-1 0 0 0-1 0 0-4.5-1 0 0 0-1 0 0 6.1-1 0 0 0-1 0 0-4.5-1 0 0-0.7-1 0 0 0-1 0 0 0.6-1 0 0 1.8-1 0 0 0-1 0 0-4.4-1 0 0 0.9-1 0 0 0-1 0 0-0.7-1 0 0 5.5-1 0 0 0-1 0 0-4.7-1 0 0 0-1 0 0 0.4-1 0 0 0-1 0 0 0.8-1 0 0 0-1 0 0-2.4-1 0 0-1-1 0 0 1.3-1 0 0 10.5-1 0 0 0-1 0 0-13.4-1 0 0 2.2-1 0 0 3.6-1 0 0 0-1 0 0-4.3-1 0 0 0-1 0 0 2.6-1 0 0 0-1 0 0-7.7-1 0 0 5.4-1 0 0 6.6-1 0 0 0-1 0 0-6.9-1 0 0 2-1 0 0 0-1 0 0 2.8-1 0 0 0-1 0 0-4.8-1 0 0 2.7-1 0 0 1.3-1 0 0 0-1 0 0-2.3-1 0 0 0-1 0 0 2.7-1 0 0 0-1 0 0 2-1 0 0 0-1 0 0-7.3-1 0 0 0.8-1 0 0 1.3-1 0 0 0-1 0 0-1.6-1 0 0-1.6-1 0 0 5.5-1 0 0 0-1 0 0-4.9-1 0 0 4.4-1 0 0 2.5-1 0 0 0-1 0 0-3-1 0 0 0-1 0 0 0.2-1 0 0 0-1 0 0 0.1-1 0 0 0-1 0 0 1.3-1 0 0 0-1 0 0-1.5-1 0 0-1.2-1 0 0 0-1 0 0 0-1 0 0-2.5-1 0 0 2.1-1 0 0 0-1 0 0-0.4-1 0 0 4.2-1 0 0 0-1 0 0-6.5-1 0 0 0-1 0 0-0.2-1 0 0 6-1 0 0 0-1 0 0-3.2-1 0 0-0.1-1 0 0 0-1 0 0 5.9-1 0 0 0-1 0 0 1.4-1 0 0 0-1 0 0-7.3-1 0 0 3.7-1 0 0 1.7-1 0 0 0-1 0 0-6.3-1 0 0 2.2-1 0 0 2-1 0 0 0-1 0 0-1.3-1 0 0 1.9-1 0 0 0-1 0 0-4.2-1 0 0 3-1 0 0 0-1 0 0-3.5-1 0 0 2.9-1 0 0 0-1 0 0-0.5-1 0 0-0.7-1 0 0 0-1 0 0 1.8-1 0 0 0-1 0 0 2.7-1 0 0 0-1 0 0-4.6-1 0 0 0-1 0 0-3.7-1 0 0 7.8-1 0 0 1.6-1 0 0 0-1 0 0-6.5-1 0 0 1.2-1 0 0 0-1 0 0 0.5-1 0 0 0.5-1 0 0 1.6-1 0 0 0-1 0 0-1.6-1 0 0 0-1 0 0-2.2-1 0 0 1.2-1 0 0 0-1 0 0-3-1 0 0 0-1 0z" fill="#6495ed" clip-path="url(#c6)"/>
<path d="M137.3 1310.7l1 0 0-7.2 1 0 0-2.9 1 0 0 0 1 0 0 6 1 0 0-1.6 1 0 0 0 1 0 0 1.9 1 0 0 0 1 0 0 2 1 0 0 2.3 1 0 0 2.3 1 0 0-2.3 1 0 0-4.7 1 0 0-1.3 1 0 0 0 1 0 0 0.5 1 0 0 3.4 1 0 0-3.3 1 0 0 0 1 0 0 5.4 1 0 0 0.1 1 0 0-6.1 1 0 0 0 1 0 0 3.7 1 0 0 0 1 0 0 3.2 1 0 0-7.1 1 0 0 0 1 0 0 0 1 0 0 4.5 1 0 0 2.8 1 0 0-0.2 1 0 0-0.1 1 0 0 0 1 0 0-2.6 1 0 0-1.2 1 0 0 0 1 0 0 1.4 1 0 0 1.1 1 0 0 0 1 0 0-5.2 1 0 0 0 1 0 0 4.1 1 0 0-1.1 1 0 0-2.9 1 0 0 0 1 0 0-0.6 1 0 0 0 1 0 0 5.4 1 0 0-0.5 1 0 0-0.9 1 0 0 0 1 0 0 0 1 0 0 2.6 1 0 0-3.2 1 0 0 0 1 0 0 1.9 1 0 0-0.5 1 0 0-0.2 1 0 0-0.6 1 0 0-1.1 1 0 0 0 1 0 0-3.3 1 0 0 0 1 0 0 9.2 1 0 0-2.3 1 0 0 0 1 0 0-0.4 1 0 0-2.5 1 0 0 0 1 0 0 1.3 1 0 0 0 1 0 0 0.8 1 0 0-2.2 1 0 0 0 1 0 0 5 1 0 0-6 1 0 0 0 1 0 0 2.4 1 0 0-0.2 1 0 0 0 1 0 0-4.5 1 0 0 0 1 0 0 6.2 1 0 0 0 1 0 0 0 1 0 0-1.7 1 0 0-0.2 1 0 0 0 1 0 0-0.5 1 0 0-1.6 1 0 0 0 1 0 0 5.5 1 0 0 0.2 1 0 0-2.1 1 0 0-2.2 1 0 0 0 1 0 0 0.7 1 0 0 2.4 1 0 0 1.1 1 0 0-1.9 1 0 0-3.2 1 0 0 0 1 0 0 3.2 1 0 0 1 1 0 0 0 1 0 0-1.9 1 0 0 0 1 0 0 2.2 1 0 0 0 1 0 0-3.5 1 0 0 0 1 0 0-5.5 1 0 0 0 1 0 0-0.5 1 0 0 0 1 0 0 8.9 1 0 0 4.7 1 0 0-3.2 1 0 0-4.4 1 0 0 0 1 0 0 0 1 0 0-0.8 1 0 0 0 1 0 0 0.2 1 0 0 0.8 1 0 0 3.4 1 0 0-0.6 1 0 0 0 1 0 0 2.8 1 0 0-0.8 1 0 0-0.7 1 0 0-6.8 1 0 0 0 1 0 0-1 1 0 0 0 1 0 0 3 1 0 0 0 1 0 0 0.5 1 0 0 0 1 0 0-7.7 1 0 0 0 1 0 0 6.6 1 0 0 0 1 0 0 5.1 1 0 0 0 1 0 0-0.7 1 0 0-5 1 0 0 0 1 0 0 3.2 1 0 0 0 1 0 0-1 1 0 0 0 1 0 0 1.2 1 0 0 1.3 1 0 0-1.1 1 0 0 0 1 0 0 0.3 1 0 0 4.5 1 0 0 0 1 0 0-4.1 1 0 0-6.2 1 0 0 0 1 0 0 5.2 1 0 0 0 1 0 0 0.1 1 0 0-1.5 1 0 0-23.1 1 0 0 0 1 0 0 23.4 1 0 0-5.5 1 0 0 0 1 0 0 4.4 1 0 0 0.9 1 0 0 0 1 0 0 2.9 1 0 0-6.5 1 0 0 0 1 0 0-24.6 1 0 0 0 1 0 0 29.5 1 0 0 0 1 0 0-0.1 1 0 0 0 1 0 0-2.5 1 0 0 0 1 0 0 1 1 0 0 0 1 0 0 4.7 1 0 0-4.5 1 0 0 0 1 0 0 2.5 1 0 0 0 1 0 0-4 1 0 0 0 1 0 0 3.3 1 0 0-6.2 1 0 0 0 1 0 0 4.4 1 0 0-0.4 1 0 0 0 1 0 0 4.9 1 0 0-3.9 1 0 0-0.5 1 0 0 0 1 0 0 3.1 1 0 0 0.1 1 0 0-1.9 1 0 0-6.9 1 0 0 0 1 0 0 6.9 1 0 0 0 1 0 0-1.7 1 0 0-2.9 1 0 0 0 1 0 0 7.4 1 0 0-2.9 1 0 0 0 1 0 0 0.5 1 0 0 0 1 0 0 3.2 1 0 0-7.1 1 0 0 0 1 0 0-9.2 1 0 0 0 1 0 0 16.2 1 0 0-5 1 0 0-9.3 1 0 0 0 1 0 0 10 1 0 0-0.7 1 0 0 0 1 0 0-0.7 1 0 0-0.8 1 0 0 0 1 0 0 1 1 0 0 2.3 1 0 0 0 1 0 0 2.9 1 0 0-6.7 1 0 0 0 1 0 0 5.5 1 0 0-0.7 1 0 0 0 1 0 0-3.9 1 0 0-3.6 1 0 0 0 1 0 0 1.7 1 0 0 5.5 1 0 0 0.4 1 0 0-0.7 1 0 0 0 1 0 0-4.6 1 0 0 0 1 0 0 4.9 1 0 0 0 1 0 0 1.7 1 0 0-0.4 1 0 0 0 1 0 0-0.3 1 0 0 0 1 0 0-1.4 1 0 0 0 1 0 0-0.6 1 0 0 0 1 0 0 1.2 1 0 0-7.6 1 0 0 0 1 0 0 7 1 0 0 1.4 1 0 0-0.8 1 0 0 0 1 0 0 0.2 1 0 0 0 1 0 0-3.3 1 0 0-0.6 1 0 0-6.6 1 0 0 0 1 0 0 6.1 1 0 0 0 1 0 0 0 1 0 0 0 1 0 0-0.6 1 0 0 0 1 0 0 3 1 0 0 0 1 0 0 2.7 1 0 0 0.6 1 0 0-2.8 1 0 0-2.9 1 0 0 0 1 0 0 0.1 1 0 0 0 1 0 0 3.4 1 0 0-2 1 0 0 0 1 0 0 0 1 0 0 0.1 1 0 0-4.3 1 0 0 0 1 0 0 6 1 0 0-1.2 1 0 0 0 1 0 0-2.3 1 0 0 0 1 0 0 1.9 1 0 0 0.8 1 0 0 2.8 1 0 0-5.3 1 0 0 0 1 0 0 7.7 1 0 0-2.6 1 0 0-3.7 1 0 0-1.9 1 0 0 0 1 0 0 3.2 1 0 0 0 1 0 0 0.8 1 0 0-5.2 1 0 0 0 1 0 0 3.3 1 0 0-2.6 1 0 0-1.9 1 0 0 0 1 0 0 6.4 1 0 0 1.1 1 0 0-3.8 1 0 0-3.4 1 0 0 0 1 0 0 1.6 1 0 0 2.6 1 0 0-0.5 1 0 0 0 1 0 0 0.6 1 0 0 4.9 1 0 0-8.7 1 0 0 0 1 0 0 6.7 1 0 0-0.5 1 0 0 0 1 0 0-2.2 1 0 0 0 1 0 0 1.1 1 0 0 0.1 1 0 0-1.3 1 0 0 0 1 0 0 1.1 1 0 0-1.2 1 0 0 0 1 0 0-1 1 0 0-2.6 1 0 0 0 1 0 0 4.3 1 0 0 0 1 0 0 3 1 0 0-0.2 1 0 0-0.3 1 0 0-0.9 1 0 0-0.5 1 0 0 0 1 0 0 3.9 1 0 0-1.5 1 0 0-3.2 1 0 0 0 1 0 0 2.4 1 0 0-4.3 1 0 0 0 1 0 0-1.9 1 0 0 0 1 0 0 7.2 1 0 0-2.2 1 0 0-4.6 1 0 0 0 1 0 0 4.1 1 0 0 0 1 0 0-3.9 1 0 0 0 1 0 0 4.9 1 0 0-3.6 1 0 0 0 1 0 0 5.3 1 0 0-7.3 1 0 0 0 1 0 0-1.5 1 0 0 0 1 0 0 3.1 1 0 0 0 1 0 0 2.9 1 0 0-1 1 0 0 0 1 0 0 5.3 1 0 0-3.5 1 0 0-7 1 0 0 0 1 0 0 5.9 1 0 0-0.1 1 0 0 0 1 0 0 0.9 1 0 0-2.7 1 0 0-0.9 1 0 0 0 1 0 0 0.4 1 0 0 0 1 0 0-0.3 1 0 0 0 1 0 0 0.2 1 0 0 0 1 0 0 1.3 1 0 0 0.2 1 0 0 0 1 0 0 4.4 1 0 0-5.4 1 0 0 0 1 0 0 0.2 1 0 0-2.3 1 0 0-15.4 1 0 0 0 1 0 0 12.8 1 0 0 4.3 1 0 0 4 1 0 0-5.5 1 0 0 0 1 0 0 4.7 1 0 0-2.9 1 0 0 0 1 0 0-4.3 1 0 0 0 1 0 0 7.6 1 0 0 0 1 0 0-2.8 1 0 0 0 1 0 0-0.7 1 0 0-1.8 1 0 0 0 1 0 0 0.9 1 0 0 0 1 0 0 2.5 1 0 0 0 1 0 0-4.5 1 0 0 0 1 0 0 8.6 1 0 0-7.6 1 0 0 0 1 0 0 4 1 0 0-0.8 1 0 0 0 1 0 0-3.2 1 0 0 0 1 0 0 7.9 1 0 0-6.1 1 0 0 0 1 0 0 1 1 0 0 1 1 0 0 1.9 1 0 0-1.6 1 0 0-1.4 1 0 0 0 1 0 0 0.9 1 0 0-2.1 1 0 0 0 1 0 0 0.4 1 0 0 0 1 0 0 1 1 0 0 5.1 1 0 0-8.9 1 0 0 0 1 0 0 7.7 1 0 0 0 1 0 0-2.7 1 0 0 0 1 0 0 0.6 1 0 0-2.4 1 0 0 0 1 0 0-2.8 1 0 0 0 1 0 0 0.3 1 0 0 7.9 1 0 0-0.2 1 0 0 0 1 0 0-3.7 1 0 0 0 1 0 0-1.3 1 0 0 0 1 0 0 1.7 1 0 0-3.2 1 0 0-2.1 1 0 0 0 1 0 0 4 1 0 0 0 1 0 0 4.9 1 0 0-2.2 1 0 0 0 1 0 0-1 1 0 0 0 1 0 0 0.3 1 0 0-1.3 1 0 0-4.8 1 0 0 0 1 0 0 5.2 1 0 0-0.8 1 0 0 0 1 0 0 5 1 0 0 2.3 1 0 0-6.9 1 0 0 0 1 0 0-4.4 1 0 0 0 1 0 0 2.6 1 0 0-0.3 1 0 0-1.7 1 0 0 0 1 0 0 7.1 1 0 0-1.6 1 0 0 0 1 0 0-4.8 1 0 0 0 1 0 0 5.1 1 0 0 0 1 0 0 2.4 1 0 0-10.6 1 0 0 0 1 0 0 8.2 1 0 0 0 1 0 0-0.3 1 0 0-0.5 1 0 0 0 1 0 0-5.2 1 0 0 0 1 0 0 8.7 1 0 0-5.6 1 0 0-0.2 1 0 0 0 1 0 0 1.9 1 0 0-0.2 1 0 0-2.6 1 0 0 0 1 0 0 3.6 1 0 0-1 1 0 0 0 1 0 0-7 1 0 0 0 1 0 0 8.6 1 0 0-3.3 1 0 0 0 1 0 0-1.4 1 0 0 0 1 0 0 3.7 1 0 0 0.1 1 0 0 2.2 1 0 0-2.2 1 0 0 0 1 0 0-6.4 1 0 0 0 1 0 0 6.1 1 0 0 0 1 0 0-0.2 1 0 0 0 1 0 0-3.9 1 0 0 0 1 0 0 4 1 0 0 0 1 0 0 1.5 1 0 0 0 1 0 0 0.3 1 0 0 0 1 0 0-0.4 1 0 0-0.8 1 0 0-0.1 1 0 0-0.6 1 0 0 0 1 0 0 2.1 1 0 0 0 1 0 0-3.2 1 0 0-1.2 1 0 0 0 1 0 0 4.4 1 0 0-0.2 1 0 0-5.4 1 0 0 0 1 0 0 3.9 1 0 0 0.2 1 0 0 0.2 1 0 0 0 1 0 0-2 1 0 0 0 1 0 0 3.3 1 0 0 0.6 1 0 0 0.5 1 0 0 0 1 0 0-1.4 1 0 0-1 1 0 0 0 1 0 0-2.2 1 0 0 0 1 0 0 0.5 1 0 0-0.2 1 0 0 0 1 0 0 1.1 1 0 0-1.1 1 0 0 0 1 0 0-5.9 1 0 0 0 1 0 0 5.2 1 0 0 0.9 1 0 0 0.4 1 0 0 0 1 0 0 2.1 1 0 0-1.4 1 0 0 0 1 0 0 0.8 1 0 0 0 1 0 0 1.6 1 0 0-3.6 1 0 0-2.4 1 0 0 0 1 0 0 4.4 1 0 0 0.8 1 0 0 0 1 0 0-4.4 1 0 0-8.9 1 0 0 0 1 0 0 13.6 1 0 0 0 1 0 0-11.4 1 0 0 0 1 0 0 3.4 1 0 0 0 1 0 0 8.7 1 0 0-6 1 0 0 0 1 0 0 5.3 1 0 0-2.9 1 0 0 0 1 0 0-0.7 1 0 0 0 1 0 0-1.3 1 0 0 0 1 0 0 3.3 1 0 0 0 1 0 0 1.8 1 0 0-2.9 1 0 0 0 1 0 0-1.8 1 0 0 0 1 0 0 0.5 1 0 0 0 1 0 0 2.5 1 0 0 0.7 1 0 0-0.3 1 0 0 0 1 0 0-2.8 1 0 0 0 1 0 0 2.9 1 0 0-1.5 1 0 0-5 1 0 0-0.7 1 0 0 0 1 0 0 1.3 1 0 0 1.2 1 0 0 2.5 1 0 0 3.9 1 0 0 0 1 0 0-6.4 1 0 0-2.8 1 0 0 0 1 0 0 7.8 1 0 0-0.7 1 0 0 0 1 0 0-7.1 1 0 0 0 1 0 0 5.7 1 0 0 0 1 0 0 1.6 1 0 0-0.3 1 0 0 0 1 0 0-2.1 1 0 0-5.2 1 0 0 0 1 0 0 5.6 1 0 0 0 1 0 0 1.3 1 0 0 0 1 0 0-0.3 1 0 0 0 1 0 0-1.1 1 0 0 0 1 0 0-0.9 1 0 0-2.8 1 0 0 0 1 0 0 5 1 0 0-1.7 1 0 0-3 1 0 0 0 1 0 0 0 1 0 0 4.3 1 0 0 0.6 1 0 0-0.3 1 0 0-59.1 1 0 0 0 1 0 0 53.6 1 0 0 1.5 1 0 0-68.5 1 0 0 0 1 0 0 67.6 1 0 0-24.8 1 0 0 0 1 0 0 29.7 1 0 0 0 1 0 0-0.1 1 0 0 0 1 0 0 0.7 1 0 0 0 1 0 0-0.1 1 0 0 0 1 0 0 2 1 0 0-4.8 1 0 0-9.1 1 0 0 0 1 0 0 0 1 0 0 10.8 1 0 0-0.4 1 0 0 0 1 0 0 3 1 0 0-1.1 1 0 0 0 1 0 0 2.3 1 0 0 1.2 1 0 0-6.1 1 0 0 0 1 0 0-0.3 1 0 0-1.9 1 0 0 0 1 0 0 1.2 1 0 0 5 1 0 0-5.4 1 0 0 0 1 0 0 4.2 1 0 0-0.7 1 0 0 0 1 0 0-5.1 1 0 0 0 1 0 0 2.9 1 0 0 0.8 1 0 0 0 1 0 0 0.5 1 0 0-3.5 1 0 0 0 1 0 0 2.2 1 0 0-3.9 1 0 0 0 1 0 0 6.8 1 0 0-0.5 1 0 0-0.1 1 0 0-1.1 1 0 0 0 1 0 0-2.5 1 0 0 0 1 0 0-0.7 1 0 0-1.2 1 0 0 0 1 0 0 6 1 0 0 0.2 1 0 0-3.1 1 0 0 0 1 0 0 1.9 1 0 0-7.3 1 0 0 0 1 0 0 1.6 1 0 0 1 1 0 0 0 1 0 0 5.1 1 0 0-3.6 1 0 0 0 1 0 0 0 1 0 0 5.7 1 0 0-0.5 1 0 0-6 1 0 0 0 1 0 0 4.8 1 0 0 0 1 0 0-4.1 1 0 0 0 1 0 0 4.4 1 0 0-7.8 1 0 0 0 1 0 0 7.6 1 0 0-0.2 1 0 0-1.9 1 0 0 0 1 0 0 1 1 0 0-7.7 1 0 0 0 1 0 0 10.4 1 0 0-0.2 1 0 0-3 1 0 0-3.9 1 0 0 0 1 0 0 4.4 1 0 0 3.8 1 0 0-1.5 1 0 0-8.3 1 0 0 0 1 0 0 6.2 1 0 0-2.7 1 0 0 0 1 0 0 4.9 1 0 0-1.9 1 0 0-6.1 1 0 0 0 1 0 0 2.2 1 0 0 4.9 1 0 0-3 1 0 0-2.1 1 0 0 0 1 0 0 2.9 1 0 0 0 1 0 0 1.5 1 0 0 0 1 0 0 2.5 1 0 0 0 1 0 0 0.2 1 0 0-8.1 1 0 0 0 1 0 0-1 1 0 0 0 1 0 0 3.2 1 0 0 0 1 0 0 6.2 1 0 0-0.8 1 0 0-1.9 1 0 0-0.8 1 0 0 0 1 0 0 0.5 1 0 0 2 1 0 0-1.2 1 0 0-4.7 1 0 0-1.2 1 0 0 0 1 0 0-4.7 1 0 0 0 1 0 0 5.1 1 0 0 1 1 0 0 0 1 0 0 4.4 1 0 0-2.2 1 0 0-0.8 1 0 0-0.8 1 0 0-4.1 1 0 0 0 1 0 0 5.7 1 0 0-2 1 0 0 0 1 0 0 3 1 0 0 0 1 0 0 2.2 1 0 0 0.6 1 0 0-12.5 1 0 0 0 1 0 0 8.1 1 0 0 0 1 0 0 2.5 1 0 0-1.4 1 0 0 0 1 0 0 4.4 1 0 0-3.2 1 0 0 0 1 0 0 0.7 1 0 0 0 1 0 0 0.7 1 0 0-1.9 1 0 0 0 1 0 0-2.5 1 0 0 0 1 0 0 1 1 0 0 0 1 0 0-4 1 0 0 0 1 0 0 2.3 1 0 0 1.9 1 0 0-2.1 1 0 0 0 1 0 0 3.1 1 0 0-6.8 1 0 0 0 1 0 0 5.4 1 0 0 0 1 0 0 1.1 1 0 0 0 1 0 0 0.7 1 0 0 1.3 1 0 0-4.7 1 0 0 0 1 0 0 1.4 1 0 0 0 1 0 0-1.2 1 0 0-0.9 1 0 0 0 1 0 0 3 1 0 0 2.4 1 0 0 0.8 1 0 0-3.3 1 0 0-4.4 1 0 0 0 1 0 0 6.9 1 0 0-0.4 1 0 0-3 1 0 0 0 1 0 0-1.2 1 0 0 0 1 0 0 5.4 1 0 0 0.3 1 0 0 0 1 0 0-2.6 1 0 0 0 1 0 0-2.4 1 0 0 0 1 0 0 5.1 1 0 0-7.9 1 0 0 0 1 0 0 7.1 1 0 0-3.4 1 0 0 0 1 0 0 1.8 1 0 0-1.1 1 0 0-7.5 1 0 0 0 1 0 0 8.7 1 0 0-3.6 1 0 0 0 1 0 0 5.1 1 0 0-9 1 0 0 0 1 0 0 9 1 0 0 0 1 0 0-3.8 1 0 0-1.6 1 0 0 0 1 0 0 1 1 0 0 0 1 0 0-5.1 1 0 0 0 1 0 0 7.1 1 0 0 0 1 0 0-0.9 1 0 0 0 1 0 0 1.6 1 0 0 0 1 0 0 0.2 1 0 0-3.4 1 0 0 0 1 0 0 2.6 1 0 0-0.6 1 0 0-3.8 1 0 0 0 1 0 0 3.8 1 0 0 0.9 1 0 0-8.7 1 0 0 0 1 0 0 4.4 1 0 0 1 1 0 0 3.8 1 0 0-2.3 1 0 0-4 1 0 0 0 1 0 0-2.4 1 0 0 0 1 0 0 6.1 1 0 0 2 1 0 0 0 1 0 0-3.7 1 0 0-4.5 1 0 0 0 1 0 0 0 1 0 0 2.6 1 0 0 0 1 0 0 2.7 1 0 0-0.1 1 0 0 0 1 0 0 0 1 0 0-3.8 1 0 0 0 1 0 0 1.6 1 0 0 6.5 1 0 0 1.7 1 0 0-0.3 1 0 0 0 1 0 0-2.5 1 0 0 0 1 0 0-3.7 1 0 0 0 1 0 0 0 1 0 0 3.4 1 0 0 0.4 1 0 0 0 1 0 0 0.9 1 0 0-4.1 1 0 0-0.2 1 0 0 0 1 0 0 3.8 1 0 0-6 1 0 0 0 1 0 0 7.6 1 0 0-0.1 1 0 0-5.3 1 0 0 0 1 0 0 3.4 1 0 0 0 1 0 0 0.9 1 0 0 1 1 0 0-1.6 1 0 0 0 1 0 0-1 1 0 0-8.6 1 0 0 0 1 0 0 8.2 1 0 0-2.5 1 0 0 0 1 0 0 7 1 0 0-10.7 1 0 0 0 1 0 0 7.3 1 0 0-0.6 1 0 0 0 1 0 0 3.7 1 0 0-2.2 1 0 0-3.3 1 0 0 0 1 0 0-5 1 0 0 0 1 0 0 1.6 1 0 0 0 1 0 0 0.1 1 0 0 0 1 0 0 6.8 1 0 0-3 1 0 0-4.9 1 0 0 0 1 0 0 4.9 1 0 0 0 1 0 0 2.1 1 0 0-10.6 1 0 0 0 1 0 0 9 1 0 0 0.6 1 0 0 1 1 0 0-0.9 1 0 0 0 1 0 0-0.6 1 0 0-2.7 1 0 0 0 1 0 0 2.1 1 0 0 0 1 0 0 2.9 1 0 0-4 1 0 0-1.4 1 0 0 0 1 0 0 5.1 1 0 0 0.9 1 0 0-3.4 1 0 0-0.7 1 0 0 0 1 0 0 3.4 1 0 0 1.3 1 0 0-0.8 1 0 0-1.4 1 0 0-2.1 1 0 0-5.7 1 0 0 0 1 0 0 5 1 0 0-0.6 1 0 0-3.7 1 0 0 0 1 0 0 4.9 1 0 0 1.8 1 0 0-1.2 1 0 0 0 1 0 0 1.6 1 0 0-1.7 1 0 0 0 1 0 0 2.2 1 0 0-0.5 1 0 0 0 1 0 0-0.2 1 0 0-0.5 1 0 0-1.2 1 0 0-1.1 1 0 0 0 1 0 0-0.5 1 0 0 0 1 0 0 1.4 1 0 0-0.7 1 0 0 0 1 0 0 4 1 0 0 1.2 1 0 0-1.2 1 0 0-3.4 1 0 0 0 1 0 0-3.4 1 0 0 0 1 0 0 7.3 1 0 0 0 1 0 0-5.3 1 0 0 0 1 0 0 0.8 1 0 0 1.2 1 0 0 3.7 1 0 0-0.3 1 0 0-1.2 1 0 0 0 1 0 0 0 1 0 0 0.2 1 0 0-2.2 1 0 0-1.9 1 0 0 0 1 0 0 3 1 0 0 0 1 0 0 1.6 1 0 0-5.2 1 0 0 0 1 0 0-0.4 1 0 0 0 1 0 0 5.8 1 0 0-3.9 1 0 0 0 1 0 0 2.5 1 0 0 0 1 0 0-2.4 1 0 0 0 1 0 0 1.9 1 0 0 0 1 0 0-1.1 1 0 0-2.1 1 0 0-2.6 1 0 0 0 1 0 0 4 1 0 0 0 1 0 0 2.1 1 0 0 0 1 0 0 0 1 0 0-3.1 1 0 0 0 1 0 0 2.1 1 0 0 2.3 1 0 0 0 1 0 0-1.7 1 0 0-2.4 1 0 0 0 1 0 0 0.8 1 0 0 0 1 0 0-1.1 1 0 0-0.4 1 0 0 0 1 0 0 2 1 0 0 1 1 0 0 2.1 1 0 0-3.5 1 0 0 0 1 0 0-7 1 0 0 0 1 0 0 8.1 1 0 0 0 1 0 0 0 1 0 0-1.8 1 0 0 0 1 0 0 2.9 1 0 0 0 1 0 0-1 1 0 0-3 1 0 0 0 1 0 0 3.4 1 0 0 2.1 1 0 0 0 1 0 0-2.4 1 0 0-2.3 1 0 0 0 1 0 0 1.1 1 0 0-3.9 1 0 0 0 1 0 0 5.8 1 0 0 0 1 0 0-3.1 1 0 0-2 1 0 0 0 1 0 0 4 1 0 0-1.4 1 0 0 0 1 0 0 2.4 1 0 0 0.4 1 0 0-1.9 1 0 0 0 1 0 0 3 1 0 0-1.6 1 0 0 0 1 0 0 2.4 1 0 0 0 1 0 0-2.4 1 0 0 0 1 0 0 0.6 1 0 0-10.6 1 0 0 0 1 0 0 7.3 1 0 0 0 1 0 0-0.8 1 0 0 0 1 0 0 0 1 0 0 2.8 1 0 0 0 1 0 0 1.8 1 0 0 0.4 1 0 0-2 1 0 0 0 1 0 0-0.4 1 0 0 0 1 0 0 6.5 1 0 0-0.4 1 0 0-5.3 1 0 0 0 1 0 0-0.2 1 0 0 0 1 0 0 1.7 1 0 0 0 1 0 0 0.4 1 0 0-6.8 1 0 0 0 1 0 0 3.3 1 0 0 2.3 1 0 0-2.8 1 0 0 0 1 0 0 1.3 1 0 0 0 1 0 0 3.6 1 0 0-3.2 1 0 0-3.5 1 0 0 0 1 0 0 3.9 1 0 0 0 1 0 0-0.2 1 0 0 0 1 0 0 0.8 1 0 0-0.7 1 0 0 0 1 0 0-2.4 1 0 0 0 1 0 0 2.9 1 0 0 0 1 0 0 3.2 1 0 0-2.3 1 0 0-0.3 1 0 0 0 1 0 0-1.1 1 0 0-4.3 1 0 0 0 1 0 0 6.7 1 0 0-7.6 1 0 0 0 1 0 0 2.9 1 0 0 0.5 1 0 0-0.1 1 0 0 0 1 0 0 0 1 0 0 0.2 1 0 0 0 1 0 0 4.4 1 0 0-6.9 1 0 0 0 1 0 0 4.8 1 0 0-2.4 1 0 0 0 1 0 0 2 1 0 0-7.2 1 0 0 0 1 0 0 7.4 1 0 0 2.2 1 0 0-9.3 1 0 0 0 1 0 0 6.1 1 0 0 0 1 0 0 0.5 1 0 0 1.6 1 0 0-9.7 1 0 0 0 1 0 0 10.4 1 0 0-0.5 1 0 0-4.9 1 0 0 0 1 0 0-2.6 1 0 0 0 1 0 0 1 1 0 0 6.5 1 0 0-0.7 1 0 0-4.1 1 0 0 0 1 0 0 2 1 0 0 0.9 1 0 0 0 1 0 0-3.6 1 0 0 0 1 0 0 2.5 1 0 0 0.9 1 0 0-1.2 1 0 0-1.6 1 0 0 0 1 0 0-2.4 1 0 0 0 1 0 0-4.1 1 0 0 0 1 0 0 7.6 1 0 0 0 1 0 0 3.2 1 0 0 1.4 1 0 0 0.2 1 0 0-3.6 1 0 0 0 1 0 0 1.3 1 0 0-1.5 1 0 0 0 1 0 0-9 1 0 0 0 1 0 0 7.1 1 0 0 5.4 1 0 0 0 1 0 0 1.6 1 0 0-2.6 1 0 0 0 1 0 0-7 1 0 0 0 1 0 0 4.6 1 0 0 0 1 0 0-2 1 0 0-2.5 1 0 0 0 1 0 0 4.8 1 0 0 0 1 0 0 2.3 1 0 0-2.4 1 0 0 0 1 0 0 3 1 0 0 0 1 0 0-3.8 1 0 0 0 1 0 0 0.1 1 0 0 0 1 0 0 1 1 0 0 0 1 0 0 1.6 1 0 0 0 1 0 0-4.8 1 0 0 0 1 0 0 4.2 1 0 0-3.2 1 0 0-0.8 1 0 0 0 1 0 0 4.3 1 0 0 0 1 0 0 1.5 1 0 0-3.4 1 0 0 0 1 0 0 0.9 1 0 0 2.3 1 0 0-0.7 1 0 0 0 1 0 0 4.7 1 0 0-10.3 1 0 0 0 1 0 0 5 1 0 0 0.5 1 0 0-1.2 1 0 0-3.4 1 0 0 0 1 0 0-5.4 1 0 0 0 1 0 0 2.9 1 0 0 0 1 0 0 6.7 1 0 0-1.6 1 0 0 0 1 0 0 2 1 0 0 0 1 0 0-3.5 1 0 0 0 1 0 0 3.8 1 0 0-5.4 1 0 0 0 1 0 0 4.7 1 0 0-4.9 1 0 0 0 1 0 0-1.1 1 0 0 0 1 0 0 0.1 1 0 0 0 1 0 0 9.6 1 0 0-4.8 1 0 0-3.9 1 0 0 0 1 0 0 4.8 1 0 0-3.6 1 0 0 0 1 0 0 1.5 1 0 0-0.7 1 0 0 0 1 0 0 5.4 1 0 0 0.2 1 0 0-1.5 1 0 0 0 1 0 0 1.6 1 0 0-7.1 1 0 0 0 1 0 0 0.8 1 0 0 0 1 0 0 7.7 1 0 0-1.4 1 0 0 0 1 0 0-6.4 1 0 0 0 1 0 0 2.4 1 0 0-3.4 1 0 0 0 1 0 0 2.5 1 0 0 3.5 1 0 0-7.7 1 0 0-5.6 1 0 0 0 1 0 0 13.2 1 0 0-2.4 1 0 0 0 1 0 0-1.6 1 0 0 0 1 0 0 1.6 1 0 0 0 1 0 0 2.7 1 0 0-5.3 1 0 0 0 1 0 0-0.9 1 0 0-2.1 1 0 0 0 1 0 0 9.8 1 0 0-3.9 1 0 0 0 1 0 0-2 1 0 0 0 1 0 0-5.3 1 0 0 0 1 0 0 7.5 1 0 0-0.2 1 0 0 0 1 0 0-4 1 0 0 0 1 0 0 5 1 0 0 0 1 0 0-4.9 1 0 0-1.6 1 0 0 0 1 0 0 4.9 1 0 0-5.6 1 0 0 0 1 0 0 6.2 1 0 0-3.1 1 0 0 0 1 0 0 2.6 1 0 0 0 1 0 0 3.9 1 0 0 1.9 1 0 0-2 1 0 0 0 1 0 0-2.1 1 0 0 0 1 0 0 0.2 1 0 0-1.9 1 0 0 0 1 0 0 0.8 1 0 0-1.3 1 0 0-4.5 1 0 0 0 1 0 0 6 1 0 0-2.3 1 0 0 0 1 0 0 1.5 1 0 0 0 1 0 0 2.1 1 0 0 0 1 0 0-1.8 1 0 0-3.1 1 0 0 0 1 0 0 0 1 0 0-1.8 1 0 0 0 1 0 0 3.2 1 0 0 0.7 1 0 0 0.6 1 0 0 1.9 1 0 0-0.2 1 0 0-1.1 1 0 0 0 1 0 0-4.2 1 0 0-1.9 1 0 0 0 1 0 0 1.3 1 0 0 0 1 0 0 3.6 1 0 0 0 1 0 0 1.2 1 0 0-1.8 1 0 0 0 1 0 0-4.5 1 0 0 0 1 0 0 3.6 1 0 0 0.5 1 0 0 3.4 1 0 0-1.9 1 0 0 0 1 0 0 2.4 1 0 0 0 1 0 0-6.4 1 0 0 0 1 0 0 7.9 1 0 0-1.3 1 0 0 0 1 0 0-1.5 1 0 0 0 1 0 0 1.8 1 0 0 1.7 1 0 0-8.2 1 0 0 0 1 0 0 4.9 1 0 0 0 1 0 0-0.5 1 0 0 0 1 0 0 4.1 1 0 0-1.9 1 0 0-1 1 0 0-1.2 1 0 0 0 1 0 0 0 1 0 0 0.2 1 0 0-1.1 1 0 0-2.1 1 0 0-1.4 1 0 0 0 1 0 0 2.5 1 0 0 0 1 0 0 2.5 1 0 0 0 1 0 0-2.2 1 0 0-5 1 0 0 0 1 0 0 7 1 0 0 0 1 0 0 1.6 1 0 0 0 1 0 0-1.2 1 0 0 0 1 0 0-1.4 1 0 0 0 1 0 0 5.5 1 0 0-9.3 1 0 0 0 1 0 0 4.2 1 0 0 0 1 0 0 2 1 0 0-0.1 1 0 0 0 1 0 0-0.1 1 0 0-2.4 1 0 0-3.5 1 0 0 0 1 0 0 5.7 1 0 0 0 1 0 0 0.9 1 0 0-2.8 1 0 0-0.7 1 0 0 0 1 0 0 5.1 1 0 0-2.9 1 0 0-0.5 1 0 0 0 1 0 0-6 1 0 0 0 1 0 0 2.5 1 0 0 4.6 1 0 0 0 1 0 0-5.9 1 0 0-0.2 1 0 0 0 1 0 0 7.6 1 0 0 0 1 0 0-3 1 0 0 0 1 0 0 4.7 1 0 0 0.4 1 0 0-1.3 1 0 0 0 1 0 0-4.3 1 0 0 0 1 0 0 2.3 1 0 0 0 1 0 0 2.7 1 0 0-0.2 1 0 0 0 1 0 0-6.1 1 0 0 0 1 0 0 2.9 1 0 0 0 1 0 0 2 1 0 0 1.7 1 0 0-2.1 1 0 0 0 1 0 0 2.3 1 0 0 0 1 0 0-8.3 1 0 0 0 1 0 0 3.1 1 0 0 0 1 0 0 0.8 1 0 0 0 1 0 0 2.7 1 0 0 0 1 0 0-4.1 1 0 0-2.2 1 0 0 0 1 0 0 3.2 1 0 0-1.1 1 0 0 0 1 0 0 2.8 1 0 0 1.2 1 0 0-1.7 1 0 0 0 1 0 0 0.8 1 0 0-8.6 1 0 0 0 1 0 0 11.1 1 0 0-0.9 1 0 0-8.1 1 0 0 0 1 0 0 5.4 1 0 0-8.5 1 0 0 0 1 0 0 5.8 1 0 0 0 1 0 0 3.4 1 0 0 0 1 0 0-0.6 1 0 0 0 1 0 0 0.5 1 0 0 0 1 0 0 1.8 1 0 0-3.3 1 0 0 0 1 0 0-2.1 1 0 0 0 1 0 0 4.7 1 0 0-2 1 0 0 0 1 0 0-0.7 1 0 0 0 1 0 0 0.4 1 0 0-1.1 1 0 0 0 1 0 0 1.5 1 0 0 0.1 1 0 0-7.8 1 0 0 0 1 0 0 2 1 0 0 0 1 0 0 8.1 1 0 0-4.1 1 0 0 0 1 0 0 0.9 1 0 0 0 1 0 0 3.3 1 0 0-4.6 1 0 0 0 1 0 0 6.5 1 0 0 0 1 0 0-2.2 1 0 0 0 1 0 0-0.2 1 0 0-1.6 1 0 0 0 1 0 0 1 1 0 0 1.6 1 0 0-2.6 1 0 0-0.7 1 0 0 0 1 0 0-2.7 1 0 0 0 1 0 0 7.2 1 0 0 0.2 1 0 0-4.5 1 0 0 0 1 0 0 2.7 1 0 0 0 1 0 0-1 1 0 0-0.9 1 0 0 40.7-1 0 0 2.6-1 0 0 0-1 0 0-12.9-1 0 0 10.3-1 0 0 0-1 0 0-3.7-1 0 0 0-1 0 0-4.8-1 0 0 0-1 0 0 1.9-1 0 0 0-1 0 0 0-1 0 0 1.9-1 0 0 0-1 0 0-6.3-1 0 0 3.4-1 0 0 1.5-1 0 0 0-1 0 0 2.8-1 0 0 0-1 0 0-5.4-1 0 0 4.4-1 0 0 0-1 0 0-5.5-1 0 0 1.7-1 0 0 0-1 0 0-1.2-1 0 0 0-1 0 0 6.4-1 0 0 0-1 0 0-3.7-1 0 0 0.3-1 0 0 0-1 0 0-1.1-1 0 0 0-1 0 0-3.3-1 0 0 7.6-1 0 0 0-1 0 0-4.7-1 0 0 4.2-1 0 0 0-1 0 0-2.3-1 0 0 0-1 0 0-1.6-1 0 0 0-1 0 0-3-1 0 0 1-1 0 0 3.6-1 0 0 0-1 0 0-1.1-1 0 0 0-1 0 0-0.8-1 0 0 0-1 0 0-5.3-1 0 0 8-1 0 0 0-1 0 0-3.9-1 0 0 1.5-1 0 0 0-1 0 0 0.3-1 0 0 0-1 0 0-2.7-1 0 0 0-1 0 0 2-1 0 0 1.4-1 0 0 0-1 0 0-4.7-1 0 0 0-1 0 0 1.5-1 0 0 1.7-1 0 0 2.7-1 0 0 4.4-1 0 0 0-1 0 0-8.5-1 0 0 3.7-1 0 0 0-1 0 0-0.5-1 0 0 3.3-1 0 0 0-1 0 0-5-1 0 0 0.9-1 0 0 0-1 0 0-0.8-1 0 0-2.2-1 0 0 0-1 0 0-1.1-1 0 0 2.3-1 0 0 0-1 0 0 1.6-1 0 0 0-1 0 0 4.6-1 0 0 0-1 0 0-4.4-1 0 0 0-1 0 0 0.3-1 0 0 0-1 0 0-1-1 0 0 0-1 0 0 2.7-1 0 0 0-1 0 0 1.1-1 0 0 0-1 0 0-5.2-1 0 0 0-1 0 0-0.6-1 0 0-0.6-1 0 0 6.7-1 0 0 0-1 0 0-7.7-1 0 0 1.5-1 0 0 0-1 0 0 1.2-1 0 0 0.6-1 0 0 0-1 0 0-3.4-1 0 0 8-1 0 0 0-1 0 0-8.3-1 0 0-4.3-1 0 0 6.5-1 0 0 1.4-1 0 0 1-1 0 0 0-1 0 0-4.6-1 0 0 2.4-1 0 0 0-1 0 0-4-1 0 0 5.2-1 0 0 0-1 0 0-3.5-1 0 0-2.1-1 0 0 4.7-1 0 0 0-1 0 0 1.4-1 0 0 4.2-1 0 0 0-1 0 0 0.6-1 0 0 0-1 0 0-5-1 0 0-3.5-1 0 0 0-1 0 0-0.8-1 0 0 2.2-1 0 0 0-1 0 0-0.8-1 0 0 0-1 0 0 3-1 0 0 0-1 0 0-0.4-1 0 0 0-1 0 0 0.1-1 0 0 0-1 0 0 1.5-1 0 0 0-1 0 0-0.6-1 0 0-4.8-1 0 0 3.5-1 0 0 0-1 0 0-5-1 0 0 0-1 0 0 3.3-1 0 0 0-1 0 0-0.6-1 0 0 0.4-1 0 0 2.9-1 0 0 0-1 0 0-2.9-1 0 0-0.4-1 0 0 2.6-1 0 0 0-1 0 0-3.6-1 0 0-3.3-1 0 0 6.5-1 0 0 0-1 0 0 2.4-1 0 0 0-1 0 0-4.2-1 0 0-0.2-1 0 0-2-1 0 0 2-1 0 0 4.6-1 0 0 0-1 0 0-3.6-1 0 0-6.5-1 0 0 1.3-1 0 0 5-1 0 0 0-1 0 0-0.1-1 0 0 0.9-1 0 0 0-1 0 0-3.5-1 0 0 0-1 0 0 4.7-1 0 0 0-1 0 0-5.4-1 0 0 1.6-1 0 0 0-1 0 0 0-1 0 0-1.9-1 0 0 3.4-1 0 0 0-1 0 0-1-1 0 0 0-1 0 0 2.1-1 0 0 0-1 0 0 2.1-1 0 0 0-1 0 0-2-1 0 0-0.5-1 0 0 0-1 0 0 0.4-1 0 0 0-1 0 0 1.4-1 0 0 0-1 0 0-3.3-1 0 0 1.7-1 0 0 0-1 0 0-1.9-1 0 0 3.1-1 0 0 0.4-1 0 0 0-1 0 0-3.2-1 0 0-2.8-1 0 0 0-1 0 0 6.9-1 0 0 0-1 0 0-2.6-1 0 0 0-1 0 0-1.3-1 0 0-1.8-1 0 0 2.7-1 0 0 0-1 0 0-1.3-1 0 0 3.6-1 0 0 0-1 0 0-4.6-1 0 0 1.5-1 0 0 2.3-1 0 0 0-1 0 0-3-1 0 0 6.1-1 0 0 0-1 0 0-2.4-1 0 0 1.5-1 0 0 0-1 0 0-8.9-1 0 0 0-1 0 0-0.6-1 0 0 3.5-1 0 0 0.1-1 0 0 5.8-1 0 0 0-1 0 0-1.5-1 0 0-5.4-1 0 0 0-1 0 0 4.1-1 0 0 0-1 0 0-1.7-1 0 0-0.9-1 0 0 0.2-1 0 0 0-1 0 0-0.7-1 0 0-0.9-1 0 0 3.9-1 0 0 0-1 0 0-5.8-1 0 0 6.1-1 0 0 0-1 0 0 4.1-1 0 0 0-1 0 0-8.9-1 0 0 1.4-1 0 0 4-1 0 0 0-1 0 0-0.8-1 0 0-2.6-1 0 0 0.4-1 0 0 0-1 0 0 2.4-1 0 0 3-1 0 0 0-1 0 0-0.8-1 0 0-6.4-1 0 0 0-1 0 0 0.7-1 0 0 0-1 0 0-0.8-1 0 0 0-1 0 0-0.6-1 0 0 2.2-1 0 0 0-1 0 0-4.8-1 0 0 3.3-1 0 0 0.7-1 0 0 7-1 0 0 0-1 0 0-7-1 0 0 0-1 0 0 3.2-1 0 0 0-1 0 0-7.7-1 0 0 3.5-1 0 0 4.5-1 0 0 1.8-1 0 0 0-1 0 0-6.2-1 0 0 9.4-1 0 0 0-1 0 0-7.3-1 0 0-0.5-1 0 0-3.1-1 0 0 4.4-1 0 0 0.3-1 0 0 0-1 0 0 3.7-1 0 0 0-1 0 0-3-1 0 0 0-1 0 0 1.9-1 0 0 0-1 0 0-4.1-1 0 0 0-1 0 0-1.2-1 0 0 3.1-1 0 0 0-1 0 0-4.2-1 0 0 0.7-1 0 0 0-1 0 0-0.2-1 0 0 7.6-1 0 0 0-1 0 0-2.1-1 0 0 0-1 0 0-1.1-1 0 0 0-1 0 0-2.9-1 0 0-0.1-1 0 0 1.1-1 0 0 3.1-1 0 0 0-1 0 0-6.4-1 0 0 4-1 0 0 0-1 0 0-1.8-1 0 0 2.1-1 0 0 0-1 0 0-0.9-1 0 0-0.8-1 0 0-1.3-1 0 0 1.6-1 0 0 0-1 0 0 0.5-1 0 0 1.8-1 0 0 0-1 0 0 4.1-1 0 0 0-1 0 0 0-1 0 0-5.9-1 0 0-1.5-1 0 0 10-1 0 0 0-1 0 0-8.9-1 0 0 4.4-1 0 0 0-1 0 0 0.9-1 0 0 0-1 0 0-6.9-1 0 0 0-1 0 0-3-1 0 0 12.7-1 0 0 0-1 0 0-5-1 0 0 0-1 0 0-1.8-1 0 0-3-1 0 0 0-1 0 0 5.1-1 0 0 0-1 0 0-5.5-1 0 0 0-1 0 0 1.5-1 0 0 0-1 0 0-2.2-1 0 0 1.3-1 0 0 0-1 0 0 4.1-1 0 0 1.5-1 0 0 0-1 0 0-3.4-1 0 0-1.1-1 0 0 0.8-1 0 0 6.9-1 0 0 0-1 0 0-11.6-1 0 0 5.6-1 0 0 0-1 0 0 4.6-1 0 0 0-1 0 0-7.7-1 0 0 1.7-1 0 0 0.5-1 0 0 0-1 0 0 5-1 0 0 0-1 0 0-4.2-1 0 0 0-1 0 0-2.5-1 0 0 0-1 0 0-1.5-1 0 0 0-1 0 0-0.5-1 0 0 2.5-1 0 0 0-1 0 0-1.2-1 0 0 3.2-1 0 0 0-1 0 0-0.8-1 0 0 3.6-1 0 0 0-1 0 0-6-1 0 0 0-1 0 0 0-1 0 0-1.3-1 0 0 0.4-1 0 0 8.8-1 0 0 0-1 0 0-6.8-1 0 0-0.2-1 0 0 5.9-1 0 0 0-1 0 0-6.8-1 0 0 4.7-1 0 0 0-1 0 0 1.5-1 0 0 0-1 0 0-5.5-1 0 0 1.4-1 0 0 7.3-1 0 0 0-1 0 0-12.4-1 0 0 5.7-1 0 0 3.6-1 0 0 0-1 0 0-4.8-1 0 0 4.6-1 0 0 0-1 0 0-5.2-1 0 0 0-1 0 0-0.2-1 0 0 0.8-1 0 0 1.3-1 0 0 0-1 0 0-4.4-1 0 0 7.8-1 0 0 0-1 0 0-5.4-1 0 0 0-1 0 0 1.5-1 0 0 0.3-1 0 0 0-1 0 0-1.9-1 0 0 0-1 0 0 1-1 0 0 0.8-1 0 0 0-1 0 0 0.8-1 0 0 0-1 0 0-0.7-1 0 0-2-1 0 0 8.9-1 0 0 0-1 0 0-2.4-1 0 0-6.7-1 0 0 7.7-1 0 0 0-1 0 0-9-1 0 0 5.8-1 0 0 0-1 0 0-3.2-1 0 0-2.7-1 0 0 2.8-1 0 0 0-1 0 0-0.3-1 0 0-1.7-1 0 0 2.2-1 0 0 0-1 0 0-0.6-1 0 0 6.7-1 0 0 0-1 0 0-1.2-1 0 0 0-1 0 0-6.8-1 0 0 1-1 0 0 2.9-1 0 0 0-1 0 0-4.2-1 0 0 0-1 0 0 3.6-1 0 0 0-1 0 0-1.2-1 0 0 4.1-1 0 0 0-1 0 0-3.3-1 0 0-1.7-1 0 0 5-1 0 0 0-1 0 0-5.2-1 0 0-3.8-1 0 0 0-1 0 0 6.5-1 0 0 3.1-1 0 0 0-1 0 0-5-1 0 0 3.9-1 0 0 0-1 0 0-6.9-1 0 0 5.8-1 0 0 0-1 0 0-3.5-1 0 0 1.8-1 0 0 0-1 0 0-1.9-1 0 0 2.1-1 0 0 0-1 0 0 1.5-1 0 0 0-1 0 0-7.1-1 0 0 6.1-1 0 0 0-1 0 0 2-1 0 0 0-1 0 0-2.9-1 0 0-0.2-1 0 0-2.2-1 0 0 3.3-1 0 0 0-1 0 0 2.7-1 0 0 0-1 0 0 0-1 0 0-4.5-1 0 0-1.6-1 0 0 2-1 0 0 2.7-1 0 0 3.1-1 0 0 0-1 0 0-3.1-1 0 0-1.3-1 0 0-3.5-1 0 0 0.6-1 0 0 1.2-1 0 0 0-1 0 0 0-1 0 0-1-1 0 0 1.2-1 0 0 0.4-1 0 0 0-1 0 0-1.4-1 0 0 0-1 0 0 2.6-1 0 0 0-1 0 0-5.2-1 0 0 9.4-1 0 0 0-1 0 0-4.5-1 0 0 5.7-1 0 0 0-1 0 0-4.5-1 0 0-0.7-1 0 0-5.2-1 0 0 6.2-1 0 0 0.5-1 0 0 0-1 0 0-4.6-1 0 0 7.8-1 0 0 0-1 0 0-4.4-1 0 0 5.3-1 0 0 0-1 0 0-10-1 0 0 3.2-1 0 0 0-1 0 0-4.4-1 0 0 5.5-1 0 0 0-1 0 0-0.2-1 0 0 0-1 0 0-3.6-1 0 0 0.9-1 0 0 2.8-1 0 0 0.6-1 0 0 0-1 0 0-1-1 0 0 2.5-1 0 0 0-1 0 0-1.6-1 0 0 0-1 0 0-1.6-1 0 0-0.8-1 0 0 1.1-1 0 0 3.6-1 0 0 0-1 0 0 2.6-1 0 0 0-1 0 0-7-1 0 0 1.7-1 0 0 0-1 0 0-1.5-1 0 0 0-1 0 0 2.8-1 0 0 0-1 0 0-0.5-1 0 0 0-1 0 0-0.7-1 0 0 0-1 0 0-0.8-1 0 0 0-1 0 0-3.4-1 0 0 0.4-1 0 0 0-1 0 0 0-1 0 0 0-1 0 0-0.8-1 0 0 1.6-1 0 0 3.1-1 0 0 0-1 0 0-0.3-1 0 0 0.9-1 0 0 0-1 0 0-1.6-1 0 0 0-1 0 0 0.9-1 0 0 3.9-1 0 0 0-1 0 0-4.3-1 0 0 2.4-1 0 0 0-1 0 0-3-1 0 0-3.1-1 0 0 0.9-1 0 0 0-1 0 0 0-1 0 0 1.7-1 0 0 0-1 0 0-4-1 0 0 5.1-1 0 0 0-1 0 0 0.1-1 0 0 0-1 0 0-2.5-1 0 0-2.8-1 0 0 1.6-1 0 0 0-1 0 0 5.4-1 0 0 0-1 0 0-3.8-1 0 0 2.9-1 0 0 0-1 0 0-3.4-1 0 0-1.3-1 0 0 0-1 0 0 5-1 0 0 0-1 0 0-2.3-1 0 0 0-1 0 0 0-1 0 0-3.1-1 0 0 4.4-1 0 0 0-1 0 0 0.8-1 0 0 0-1 0 0 1.3-1 0 0 0.6-1 0 0 0-1 0 0-5.2-1 0 0 5.3-1 0 0 0-1 0 0-3.8-1 0 0 1.4-1 0 0 0-1 0 0-0.4-1 0 0-2.4-1 0 0 8.2-1 0 0 0-1 0 0-6.9-1 0 0-1.7-1 0 0 5.3-1 0 0 0-1 0 0-2.6-1 0 0 1-1 0 0 0-1 0 0 0.7-1 0 0 0-1 0 0-4.7-1 0 0 0-1 0 0 0.3-1 0 0 4.9-1 0 0 0-1 0 0 1.1-1 0 0 0.1-1 0 0 0-1 0 0-2.1-1 0 0 1.4-1 0 0 0-1 0 0-6.1-1 0 0 0-1 0 0 1.3-1 0 0 0-1 0 0-0.7-1 0 0 0.5-1 0 0 4.4-1 0 0 0-1 0 0-2.8-1 0 0-1.1-1 0 0 0-1 0 0-3.1-1 0 0 4.2-1 0 0 0-1 0 0-1.7-1 0 0 0-1 0 0 6.3-1 0 0 0-1 0 0-3.8-1 0 0 1.2-1 0 0 0-1 0 0-2.2-1 0 0 0-1 0 0-2.7-1 0 0 0-1 0 0-0.1-1 0 0 6.2-1 0 0 0-1 0 0 0-1 0 0-1.4-1 0 0 0.5-1 0 0 0-1 0 0-4.5-1 0 0 0-1 0 0 1.5-1 0 0 0.3-1 0 0 0-1 0 0 1.3-1 0 0 0-1 0 0 0.2-1 0 0 0-1 0 0-2.7-1 0 0 0-1 0 0-2.3-1 0 0 3.4-1 0 0 0-1 0 0 1.7-1 0 0 0-1 0 0-4.6-1 0 0 2.2-1 0 0 0.2-1 0 0 0-1 0 0-1.8-1 0 0 5.3-1 0 0 2.5-1 0 0 0-1 0 0-3.5-1 0 0 0-1 0 0-0.9-1 0 0 0-1 0 0-2.6-1 0 0 6.4-1 0 0 0-1 0 0-7.1-1 0 0 0.5-1 0 0 3.8-1 0 0 0-1 0 0-2.9-1 0 0 0-1 0 0 0.4-1 0 0 0.3-1 0 0 1.2-1 0 0 0-1 0 0-0.2-1 0 0-3-1 0 0 0-1 0 0-3.2-1 0 0 16.6-1 0 0 0-1 0 0-13.7-1 0 0 3.8-1 0 0 0-1 0 0-0.9-1 0 0 3.8-1 0 0 0-1 0 0-6-1 0 0 0.7-1 0 0 0-1 0 0-1.7-1 0 0 3-1 0 0 0-1 0 0 3.4-1 0 0 0-1 0 0-6.7-1 0 0 0.1-1 0 0 2-1 0 0 0-1 0 0 3.4-1 0 0 0-1 0 0-1.4-1 0 0-1.2-1 0 0 2.2-1 0 0 1.8-1 0 0 0-1 0 0-3.1-1 0 0 2-1 0 0 0-1 0 0-3.6-1 0 0-0.5-1 0 0 0-1 0 0-1.4-1 0 0-1.8-1 0 0 0-1 0 0 3.1-1 0 0 0-1 0 0-0.8-1 0 0 1.8-1 0 0 0-1 0 0 1.6-1 0 0 0-1 0 0-3.1-1 0 0 0-1 0 0-0.3-1 0 0 0-1 0 0-2.8-1 0 0 6.1-1 0 0 0-1 0 0 0-1 0 0-3.2-1 0 0-1.3-1 0 0-0.5-1 0 0 3.7-1 0 0 0-1 0 0 0.9-1 0 0 0-1 0 0-3.5-1 0 0 7.3-1 0 0 0-1 0 0-6.2-1 0 0 3.6-1 0 0 2.3-1 0 0 0-1 0 0 2.4-1 0 0 0-1 0 0-1-1 0 0 0-1 0 0-2.3-1 0 0-6.2-1 0 0 0-1 0 0 5.2-1 0 0 0-1 0 0-4.4-1 0 0-1.6-1 0 0 0.9-1 0 0 0-1 0 0-2.4-1 0 0 15.4-1 0 0 0-1 0 0-9.4-1 0 0 0.5-1 0 0 0-1 0 0 2.4-1 0 0 0-1 0 0-6.4-1 0 0 3.7-1 0 0 0-1 0 0-3.1-1 0 0-1.2-1 0 0 0.1-1 0 0 1.7-1 0 0 0-1 0 0 0.9-1 0 0 1.8-1 0 0 0-1 0 0-1.8-1 0 0-0.9-1 0 0 6.5-1 0 0 0-1 0 0-6.8-1 0 0 2.1-1 0 0 0-1 0 0-0.2-1 0 0 0-1 0 0-1-1 0 0 6.1-1 0 0 0-1 0 0-8.1-1 0 0 5.2-1 0 0 0-1 0 0-4.3-1 0 0 1.1-1 0 0 0-1 0 0 0.1-1 0 0 2.8-1 0 0 0.7-1 0 0 0-1 0 0-3.9-1 0 0-0.2-1 0 0 0.9-1 0 0 0-1 0 0 2.3-1 0 0 0.4-1 0 0 0-1 0 0-1.6-1 0 0-2.9-1 0 0 0.7-1 0 0 8-1 0 0 0-1 0 0-5.5-1 0 0 0.4-1 0 0 0-1 0 0-4.3-1 0 0 0.4-1 0 0 0-1 0 0-1.3-1 0 0 4.4-1 0 0 1.5-1 0 0 0-1 0 0-5.3-1 0 0 4-1 0 0 0-1 0 0 8-1 0 0 0-1 0 0-9.5-1 0 0 4.4-1 0 0 0-1 0 0 0-1 0 0-2.2-1 0 0-1.4-1 0 0-0.3-1 0 0 2.7-1 0 0 0-1 0 0-3.9-1 0 0 5.1-1 0 0 0-1 0 0-2.4-1 0 0 4.6-1 0 0 0-1 0 0-6.4-1 0 0 5.4-1 0 0 0-1 0 0-4.1-1 0 0 0-1 0 0-3-1 0 0 1.5-1 0 0 0-1 0 0 0.8-1 0 0 0-1 0 0 0-1 0 0 1.5-1 0 0 0-1 0 0-2.9-1 0 0 4.4-1 0 0 0-1 0 0-6.2-1 0 0 0-1 0 0 4-1 0 0 0-1 0 0-3.4-1 0 0 2.2-1 0 0 0-1 0 0 1-1 0 0 0.1-1 0 0 0-1 0 0-1.1-1 0 0-1.7-1 0 0 0-1 0 0 1.1-1 0 0 0-1 0 0 3.1-1 0 0 0-1 0 0-3.6-1 0 0 3.4-1 0 0 0-1 0 0 1.6-1 0 0 0-1 0 0-3.5-1 0 0 0.7-1 0 0 0-1 0 0 0-1 0 0 0.7-1 0 0 0-1 0 0 1-1 0 0 0-1 0 0-0.8-1 0 0 1.8-1 0 0 81.7-1 0 0 0-1 0 0-88-1 0 0 5.4-1 0 0 0-1 0 0 0.7-1 0 0 1.6-1 0 0 0-1 0 0-3.2-1 0 0 0-1 0 0-5.7-1 0 0 2-1 0 0 7.6-1 0 0 0-1 0 0-6.1-1 0 0 1.7-1 0 0 0-1 0 0-1.1-1 0 0 5.8-1 0 0 0-1 0 0-5.6-1 0 0 0-1 0 0 0-1 0 0-1.2-1 0 0 0.1-1 0 0 0-1 0 0 8.1-1 0 0 0-1 0 0-8.9-1 0 0-2.8-1 0 0 5.7-1 0 0 1.8-1 0 0 0-1 0 0-2.3-1 0 0-2.5-1 0 0 0-1 0 0 0-1 0 0 0-1 0 0 0.9-1 0 0 1.2-1 0 0 0-1 0 0-2.6-1 0 0-0.4-1 0 0 0-1 0 0 2-1 0 0 0-1 0 0-1.5-1 0 0-1.5-1 0 0 1.4-1 0 0 2-1 0 0 0-1 0 0 0-1 0 0-2.2-1 0 0-0.5-1 0 0-2.6-1 0 0 0.7-1 0 0 2.2-1 0 0 0-1 0 0 3.9-1 0 0 0-1 0 0-3.9-1 0 0 2.8-1 0 0 1.4-1 0 0 2.6-1 0 0 0-1 0 0-5.5-1 0 0 3.5-1 0 0 0-1 0 0-1.1-1 0 0-1.7-1 0 0 2.6-1 0 0 0-1 0 0 0-1 0 0-0.7-1 0 0-1.8-1 0 0 0.3-1 0 0 8.3-1 0 0 0-1 0 0-4.7-1 0 0-2.3-1 0 0 0-1 0 0-1.1-1 0 0 1.1-1 0 0 0.2-1 0 0 0-1 0 0-0.6-1 0 0 0-1 0 0-1.1-1 0 0 4.6-1 0 0 0-1 0 0-5.6-1 0 0-0.1-1 0 0 3-1 0 0 0-1 0 0-2.3-1 0 0 0.8-1 0 0 0-1 0 0-0.9-1 0 0 0-1 0 0-0.9-1 0 0 0-1 0 0-0.8-1 0 0 2.6-1 0 0 0-1 0 0-1.8-1 0 0-0.6-1 0 0-0.5-1 0 0 5.2-1 0 0 0-1 0 0-0.9-1 0 0 0-1 0 0-3.1-1 0 0 3.7-1 0 0 0-1 0 0 0.8-1 0 0 0-1 0 0 0-1 0 0 0-1 0 0-0.2-1 0 0-0.6-1 0 0 0-1 0 0 1-1 0 0 0-1 0 0 2.4-1 0 0 3.7-1 0 0 0-1 0 0-9.1-1 0 0 1.5-1 0 0 0-1 0 0-0.4-1 0 0 0-1 0 0 0.2-1 0 0 0-1 0 0 1.8-1 0 0 4.6-1 0 0 0-1 0 0-7.4-1 0 0-2.3-1 0 0 0.6-1 0 0 0-1 0 0 0-1 0 0-0.8-1 0 0 1.4-1 0 0 2-1 0 0 0-1 0 0-3.7-1 0 0 2-1 0 0 0.8-1 0 0 2.7-1 0 0 0-1 0 0-5-1 0 0-1.2-1 0 0-1.8-1 0 0 7.5-1 0 0 0-1 0 0-1.5-1 0 0 0-1 0 0-3.9-1 0 0 5-1 0 0 0-1 0 0-2.2-1 0 0 0.2-1 0 0 2.3-1 0 0 0-1 0 0 1-1 0 0 0-1 0 0-1.4-1 0 0 2.1-1 0 0 0-1 0 0-2.1-1 0 0 0-1 0 0-5-1 0 0 3.8-1 0 0 0-1 0 0-1.1-1 0 0-2.6-1 0 0 0.9-1 0 0 1.9-1 0 0 0-1 0 0-2.3-1 0 0 10.2-1 0 0 0-1 0 0-10.2-1 0 0 2.4-1 0 0 0-1 0 0-2.6-1 0 0 1.4-1 0 0 0-1 0 0 0.6-1 0 0 2.1-1 0 0 0-1 0 0-3.2-1 0 0 0-1 0 0-0.4-1 0 0-0.3-1 0 0 0-1 0 0 2.6-1 0 0 4-1 0 0 0-1 0 0-2.1-1 0 0-3.8-1 0 0-1.3-1 0 0 28.6-1 0 0 0-1 0 0-17.6-1 0 0 0-1 0 0-2.8-1 0 0-2.3-1 0 0 0-1 0 0 0.4-1 0 0 0-1 0 0-3.2-1 0 0 0-1 0 0-0.8-1 0 0 2.5-1 0 0 0-1 0 0-0.6-1 0 0 0-1 0 0 3.1-1 0 0 0-1 0 0 33-1 0 0 0-1 0 0-38.9-1 0 0-2.1-1 0 0 1.7-1 0 0 0-1 0 0 6.7-1 0 0 0-1 0 0-1.1-1 0 0-3.5-1 0 0 0-1 0 0-0.9-1 0 0 0-1 0 0 0.8-1 0 0 0-1 0 0 3.2-1 0 0 0-1 0 0-4.1-1 0 0 4.9-1 0 0 0-1 0 0-4.5-1 0 0 1-1 0 0 0-1 0 0 0-1 0 0-0.5-1 0 0 0.5-1 0 0 3-1 0 0 0-1 0 0-5.7-1 0 0 0-1 0 0 2.3-1 0 0 0-1 0 0 0.3-1 0 0 4-1 0 0 0-1 0 0 0-1 0 0-3.7-1 0 0 0-1 0 0-4.3-1 0 0-1-1 0 0 1.3-1 0 0 1.8-1 0 0 0-1 0 0 0-1 0 0 0-1 0 0 0-1 0 0-0.2-1 0 0-3.9-1 0 0 1.8-1 0 0 5.7-1 0 0 0-1 0 0-1.6-1 0 0 0-1 0 0 8.6-1 0 0 0-1 0 0-8.2-1 0 0-2.8-1 0 0 2.2-1 0 0 0-1 0 0-1.9-1 0 0-1.5-1 0 0 3.7-1 0 0 0-1 0 0 59.6-1 0 0 0-1 0 0-63.9-1 0 0 2.3-1 0 0 1.2-1 0 0 5.1-1 0 0 0-1 0 0-8.4-1 0 0-0.6-1 0 0 2.5-1 0 0 0-1 0 0 6-1 0 0 0-1 0 0-3-1 0 0 0.4-1 0 0 0.1-1 0 0 0-1 0 0-5.7-1 0 0 10-1 0 0 0-1 0 0-5.8-1 0 0 0.2-1 0 0 0-1 0 0-0.4-1 0 0 0-1 0 0 0.3-1 0 0 0-1 0 0-0.3-1 0 0 0.3-1 0 0 0-1 0 0-1.9-1 0 0-1.7-1 0 0 1.5-1 0 0 0.8-1 0 0 5.4-1 0 0 0-1 0 0-1.8-1 0 0 0-1 0 0 1.5-1 0 0 0-1 0 0-1.7-1 0 0 2.4-1 0 0 4-1 0 0 0-1 0 0-1.3-1 0 0 0-1 0 0-5.6-1 0 0 0-1 0 0-3-1 0 0 0-1 0 0 0.9-1 0 0 1.4-1 0 0 0-1 0 0-2.2-1 0 0 0-1 0 0 3.5-1 0 0 0-1 0 0 0.2-1 0 0 0-1 0 0-1.6-1 0 0 5.7-1 0 0 0-1 0 0-9.2-1 0 0 11.8-1 0 0 0-1 0 0-7-1 0 0 0.8-1 0 0 0-1 0 0-3.4-1 0 0-0.1-1 0 0 0-1 0 0 0-1 0 0-0.1-1 0 0 0-1 0 0 0.1-1 0 0 2.7-1 0 0 0-1 0 0-0.9-1 0 0 0-1 0 0-2.1-1 0 0 0-1 0 0-0.9-1 0 0 0-1 0 0-0.1-1 0 0 0.1-1 0 0 0.7-1 0 0 0-1 0 0 0-1 0 0 0.2-1 0 0 0.7-1 0 0 0.4-1 0 0 0-1 0 0-4.3-1 0 0-0.1-1 0 0 2.1-1 0 0 3.2-1 0 0 0-1 0 0 0.3-1 0 0 0-1 0 0-0.7-1 0 0 0.5-1 0 0 0-1 0 0 1.8-1 0 0 0-1 0 0-4.1-1 0 0 2.9-1 0 0 0-1 0 0-6.5-1 0 0 6.1-1 0 0 0-1 0 0-0.7-1 0 0-1.8-1 0 0 4.5-1 0 0 0-1 0 0 0.8-1 0 0 0-1 0 0-9.3-1 0 0 0.5-1 0 0 1.9-1 0 0 2.5-1 0 0 0-1 0 0-1.9-1 0 0 0.7-1 0 0 0.6-1 0 0 7.3-1 0 0 0-1 0 0-4.7-1 0 0-0.4-1 0 0-4.4-1 0 0 0.7-1 0 0 0-1 0 0-0.4-1 0 0 1.9-1 0 0 0.1-1 0 0 0-1 0 0-2.1-1 0 0-0.3-1 0 0-2.1-1 0 0 1.3-1 0 0 1.6-1 0 0 0.9-1 0 0 0-1 0 0 1.6-1 0 0 0-1 0 0-2-1 0 0 3.9-1 0 0 0-1 0 0 6-1 0 0 0-1 0 0-7.2-1 0 0-6.1-1 0 0 4.5-1 0 0 0-1 0 0 3.2-1 0 0 0-1 0 0 6.5-1 0 0 0-1 0 0-9.8-1 0 0-0.4-1 0 0 1-1 0 0 0-1 0 0-3.2-1 0 0 6.1-1 0 0 0-1 0 0-0.1-1 0 0-3.9-1 0 0 0-1 0 0 1.6-1 0 0 0-1 0 0 2.4-1 0 0 0-1 0 0-5-1 0 0 1.6-1 0 0 1.3-1 0 0 0-1 0 0-3.9-1 0 0 2.4-1 0 0 0-1 0 0 1.7-1 0 0 0-1 0 0-0.8-1 0 0 1.9-1 0 0 0-1 0 0-1.9-1 0 0 0-1 0 0-1.1-1 0 0 2.5-1 0 0 0-1 0 0-5-1 0 0 0.3-1 0 0 0-1 0 0-0.9-1 0 0 8.4-1 0 0 0-1 0 0-2.3-1 0 0 0-1 0 0-4.4-1 0 0 0.2-1 0 0 0-1 0 0 0.7-1 0 0 0-1 0 0-0.5-1 0 0 0-1 0 0 0-1 0 0 0-1 0 0 0.5-1 0 0 0-1 0 0-0.5-1 0 0 3.6-1 0 0 0-1 0 0-3.7-1 0 0 4.8-1 0 0 3.1-1 0 0 0-1 0 0-7.1-1 0 0 0-1 0 0-0.5-1 0 0 1.7-1 0 0 0-1 0 0 2.7-1 0 0 0-1 0 0-4-1 0 0 3.9-1 0 0 0-1 0 0 1.5-1 0 0 0-1 0 0-4.5-1 0 0 0-1 0 0-0.5-1 0 0-0.2-1 0 0-0.3-1 0 0 1.8-1 0 0 0.1-1 0 0 0-1 0 0-2.3-1 0 0-0.5-1 0 0 0.9-1 0 0 1.2-1 0 0 0-1 0 0 47.5-1 0 0 0-1 0 0-48-1 0 0 2.5-1 0 0 0-1 0 0-5.3-1 0 0 4.7-1 0 0 0-1 0 0-1.1-1 0 0 0-1 0 0-1-1 0 0 2.2-1 0 0 0-1 0 0 0-1 0 0-2.1-1 0 0 0-1 0 0-3.6-1 0 0 13.6-1 0 0 0-1 0 0-11.2-1 0 0 2.8-1 0 0 0-1 0 0-0.8-1 0 0 1.2-1 0 0 0-1 0 0-5.8-1 0 0 4.9-1 0 0 0-1 0 0-0.7-1 0 0-4.1-1 0 0 3-1 0 0 1.2-1 0 0 14.9-1 0 0 0-1 0 0-14.5-1 0 0 0-1 0 0 0-1 0 0-1.5-1 0 0-1-1 0 0 1.4-1 0 0 10.1-1 0 0 0-1 0 0-8.4-1 0 0 0-1 0 0 2.5-1 0 0 0-1 0 0 1.5-1 0 0 0-1 0 0-0.4-1 0 0 1.3-1 0 0 0-1 0 0-4.2-1 0 0 0-1 0 0 0-1 0 0-0.9-1 0 0 0-1 0 0-5.4-1 0 0 3.2-1 0 0 0-1 0 0-1.9-1 0 0 2.9-1 0 0 0-1 0 0 7-1 0 0 0-1 0 0-8.7-1 0 0 0-1 0 0 3.1-1 0 0 2.2-1 0 0 0-1 0 0-3.4-1 0 0-1.5-1 0 0 0.3-1 0 0 0.9-1 0 0 0-1 0 0-1.3-1 0 0-0.1-1 0 0-0.6-1 0 0 0.1-1 0 0 1.4-1 0 0 1.6-1 0 0 0-1 0 0-0.9-1 0 0-2.7-1 0 0 3.4-1 0 0 0-1 0 0 0.2-1 0 0 0-1 0 0-2.1-1 0 0-0.3-1 0 0 2.6-1 0 0 0-1 0 0-1.6-1 0 0 3.8-1 0 0 0-1 0 0-1.7-1 0 0-1.6-1 0 0-2.7-1 0 0 1.2-1 0 0 0-1 0 0-3.7-1 0 0 7.6-1 0 0 0-1 0 0-2.6-1 0 0 3.6-1 0 0 0-1 0 0 1.8-1 0 0 0-1 0 0-3.4-1 0 0 1.2-1 0 0 0-1 0 0-1.2-1 0 0 0.5-1 0 0 0-1 0 0-4.4-1 0 0 1-1 0 0 0-1 0 0-1.8-1 0 0 5.3-1 0 0 0-1 0 0-0.3-1 0 0 0.4-1 0 0 0-1 0 0-0.1-1 0 0-2.1-1 0 0 3.8-1 0 0 0-1 0 0 0.7-1 0 0 0-1 0 0-5.7-1 0 0 2.4-1 0 0 2.7-1 0 0 0-1 0 0-6-1 0 0 0-1 0 0 3.8-1 0 0 0.3-1 0 0 0-1 0 0-2.1-1 0 0 2.4-1 0 0 0-1 0 0-0.5-1 0 0-0.9-1 0 0-0.9-1 0 0 0-1 0 0 1.6-1 0 0 0-1 0 0-1.8-1 0 0 2.5-1 0 0 0-1 0 0-5.5-1 0 0 5.6-1 0 0 0-1 0 0-0.3-1 0 0 1.8-1 0 0 0-1 0 0-2.4-1 0 0 2.2-1 0 0 0-1 0 0-5.4-1 0 0 1-1 0 0 0-1 0 0-0.6-1 0 0 0-1 0 0-3.1-1 0 0 0.7-1 0 0 1.1-1 0 0 3.3-1 0 0 0-1 0 0-1.5-1 0 0 0.3-1 0 0 0-1 0 0-2-1 0 0 0.3-1 0 0 0-1 0 0-1.4-1 0 0 3.2-1 0 0 0-1 0 0 0.9-1 0 0 0-1 0 0-0.8-1 0 0 0.5-1 0 0 0-1 0z" fill="#cd5c5c" clip-path="url(#c7)"/>
<path d="M137.3 1578.5l1 0 0 0 1 0 0 1 1 0 0 3.6 1 0 0-8.3 1 0 0-2.2 1 0 0 0 1 0 0 6 1 0 0 2.6 1 0 0-2.4 1 0 0 0 1 0 0 1.7 1 0 0-0.2 1 0 0-4.4 1 0 0 0 1 0 0 1.2 1 0 0 0 1 0 0 0.8 1 0 0 0 1 0 0 2.4 1 0 0 0 1 0 0-2.3 1 0 0-7.9 1 0 0 0 1 0 0 5.8 1 0 0 3.1 1 0 0 2.8 1 0 0-3.8 1 0 0 0 1 0 0 1.2 1 0 0 2 1 0 0-0.7 1 0 0-2.9 1 0 0 0 1 0 0 1.8 1 0 0 2.6 1 0 0-3.1 1 0 0-5.3 1 0 0 0 1 0 0 5.7 1 0 0 4.1 1 0 0 0 1 0 0-3.4 1 0 0 0 1 0 0-0.2 1 0 0-4.6 1 0 0 0 1 0 0-0.7 1 0 0 0 1 0 0 7.3 1 0 0-4.4 1 0 0 0 1 0 0-7.9 1 0 0 0 1 0 0 6.9 1 0 0 0 1 0 0 3.2 1 0 0-7.6 1 0 0 0 1 0 0 10.1 1 0 0 0 1 0 0-3 1 0 0 0 1 0 0-0.8 1 0 0-1.8 1 0 0 0 1 0 0 1.2 1 0 0 0 1 0 0-2 1 0 0 0 1 0 0 1 1 0 0 0 1 0 0-2.6 1 0 0 0 1 0 0 3.3 1 0 0 4 1 0 0-0.5 1 0 0 0 1 0 0 2.5 1 0 0-7.7 1 0 0 0 1 0 0 1.7 1 0 0 5.6 1 0 0-3.1 1 0 0-2.4 1 0 0 0 1 0 0 1.8 1 0 0 4.2 1 0 0-2.9 1 0 0-9.6 1 0 0 0 1 0 0 0.6 1 0 0 5.7 1 0 0 0 1 0 0 1.3 1 0 0 4.7 1 0 0 0.8 1 0 0-4.3 1 0 0 0 1 0 0 2 1 0 0-1.9 1 0 0 0 1 0 0-0.5 1 0 0-1 1 0 0 0 1 0 0 2.7 1 0 0 2.6 1 0 0 0 1 0 0-4.7 1 0 0 0 1 0 0 1.8 1 0 0-6.9 1 0 0 0 1 0 0 6.4 1 0 0 0 1 0 0 1.3 1 0 0 0.8 1 0 0-4.7 1 0 0 0 1 0 0 2.3 1 0 0 0 1 0 0 0.6 1 0 0-1.3 1 0 0 0 1 0 0-1.6 1 0 0 0 1 0 0 0.8 1 0 0 0 1 0 0 4.1 1 0 0-10.4 1 0 0 0 1 0 0 10.1 1 0 0-1.7 1 0 0-5.6 1 0 0 0 1 0 0-0.6 1 0 0 0 1 0 0 4 1 0 0 3.4 1 0 0 0 1 0 0-0.7 1 0 0-2.2 1 0 0-4.9 1 0 0 0 1 0 0 4.3 1 0 0 0 1 0 0 2.2 1 0 0 1.3 1 0 0-1.2 1 0 0-1.2 1 0 0 0 1 0 0 0.8 1 0 0-8 1 0 0 0 1 0 0 7.7 1 0 0-0.2 1 0 0 0 1 0 0 0.6 1 0 0 0 1 0 0 1.1 1 0 0-6.9 1 0 0 0 1 0 0 7.5 1 0 0-5.6 1 0 0 0 1 0 0 5.3 1 0 0 0.4 1 0 0 0.8 1 0 0 0 1 0 0-0.1 1 0 0-5.8 1 0 0 0 1 0 0 0.7 1 0 0 0 1 0 0-0.9 1 0 0 0 1 0 0-2.4 1 0 0-1.6 1 0 0 0 1 0 0-0.5 1 0 0 0 1 0 0 9.6 1 0 0 0 1 0 0-0.2 1 0 0-6.4 1 0 0 0 1 0 0 2 1 0 0 0 1 0 0-3.3 1 0 0 0 1 0 0 5.4 1 0 0 0 1 0 0 1.3 1 0 0 0 1 0 0-5.1 1 0 0 0 1 0 0 6.3 1 0 0 0 1 0 0-4.3 1 0 0 0 1 0 0 1.7 1 0 0 0 1 0 0-1.1 1 0 0-1.8 1 0 0 0 1 0 0 5.1 1 0 0-6.8 1 0 0 0 1 0 0 8.3 1 0 0-0.6 1 0 0-2.2 1 0 0 0 1 0 0-5 1 0 0 0 1 0 0 2.1 1 0 0 0 1 0 0 0.8 1 0 0-4 1 0 0 0 1 0 0 5.9 1 0 0-4 1 0 0-0.2 1 0 0 0 1 0 0 4.9 1 0 0-8.7 1 0 0 0 1 0 0 0 1 0 0 1.6 1 0 0 0.7 1 0 0 1.6 1 0 0 8.8 1 0 0-4 1 0 0 0 1 0 0-13.9 1 0 0 0 1 0 0 11.5 1 0 0 0 1 0 0 2.8 1 0 0 1.2 1 0 0-4.6 1 0 0 0 1 0 0-1.1 1 0 0 0 1 0 0 3.7 1 0 0-3.1 1 0 0 0 1 0 0 0.9 1 0 0 3.2 1 0 0-1.5 1 0 0-5.7 1 0 0-1.8 1 0 0 0 1 0 0 2.7 1 0 0 9.8 1 0 0 0.7 1 0 0-2.5 1 0 0 0 1 0 0-7.4 1 0 0 0 1 0 0 6.6 1 0 0-4.6 1 0 0 0 1 0 0-0.4 1 0 0-1.2 1 0 0-0.4 1 0 0 0 1 0 0 5.4 1 0 0-1 1 0 0 0 1 0 0 0 1 0 0 0 1 0 0 0.2 1 0 0-4.7 1 0 0 0 1 0 0 5.5 1 0 0 0 1 0 0-0.5 1 0 0-0.2 1 0 0 0 1 0 0 2.1 1 0 0 0 1 0 0-3.3 1 0 0 0 1 0 0 4.1 1 0 0-3.3 1 0 0 0 1 0 0 0 1 0 0 4.4 1 0 0 0.8 1 0 0-5.8 1 0 0 0 1 0 0-5.9 1 0 0 0 1 0 0 9.5 1 0 0-6.9 1 0 0 0 1 0 0 3.6 1 0 0-5.7 1 0 0 0 1 0 0-2.2 1 0 0 0 1 0 0 0.1 1 0 0 0 1 0 0 8.6 1 0 0-2.3 1 0 0-3.6 1 0 0 0 1 0 0 3.1 1 0 0 0 1 0 0 6.2 1 0 0-3.7 1 0 0 0 1 0 0-8.6 1 0 0 0 1 0 0 6.9 1 0 0-0.3 1 0 0 0 1 0 0 1 1 0 0 0 1 0 0-6.5 1 0 0 0 1 0 0 3.9 1 0 0 2.6 1 0 0-0.6 1 0 0-0.1 1 0 0-0.7 1 0 0 0 1 0 0-2.6 1 0 0 0 1 0 0 0 1 0 0 2.6 1 0 0 2.7 1 0 0-9.1 1 0 0 0 1 0 0 3.9 1 0 0 0.2 1 0 0-0.6 1 0 0 0 1 0 0 3.3 1 0 0-2 1 0 0-2.3 1 0 0-3.4 1 0 0 0 1 0 0 0.7 1 0 0 0 1 0 0-4.1 1 0 0 0 1 0 0-11.4 1 0 0 0 1 0 0 0.4 1 0 0 0 1 0 0 15.2 1 0 0-1.4 1 0 0 0 1 0 0 1.3 1 0 0-5.7 1 0 0 0 1 0 0 0 1 0 0 0 1 0 0 8.7 1 0 0-41.3 1 0 0 0 1 0 0 17 1 0 0 0 1 0 0 7.4 1 0 0 0 1 0 0 11.7 1 0 0-2.4 1 0 0 0 1 0 0 1 1 0 0 7.6 1 0 0 0.6 1 0 0 0.2 1 0 0 0 1 0 0-2.1 1 0 0-6.4 1 0 0 0 1 0 0 10.3 1 0 0 0.9 1 0 0-4.2 1 0 0 0 1 0 0 0.9 1 0 0-3.6 1 0 0 0 1 0 0 4.9 1 0 0 0 1 0 0 4.1 1 0 0 0 1 0 0 0 1 0 0 2.1 1 0 0-3.8 1 0 0 0 1 0 0 1 1 0 0 0 1 0 0 1.1 1 0 0-4.8 1 0 0 0 1 0 0 2.4 1 0 0 0.3 1 0 0 0 1 0 0-8.1 1 0 0-0.4 1 0 0 0 1 0 0 6.1 1 0 0 4.8 1 0 0-0.8 1 0 0-4.4 1 0 0-3.1 1 0 0 0 1 0 0-0.4 1 0 0 0 1 0 0-4.5 1 0 0 0 1 0 0 13.1 1 0 0-1 1 0 0-5.1 1 0 0 0 1 0 0 2.3 1 0 0-4.6 1 0 0 0 1 0 0 5.5 1 0 0-0.4 1 0 0-6.9 1 0 0 0 1 0 0 6.2 1 0 0-0.8 1 0 0 0 1 0 0 1.1 1 0 0 0 1 0 0-2.8 1 0 0 0 1 0 0 5.1 1 0 0 1.4 1 0 0-2.9 1 0 0-0.6 1 0 0 0 1 0 0 4.1 1 0 0 0 1 0 0-5.6 1 0 0 0 1 0 0 6.3 1 0 0-6.8 1 0 0-1.5 1 0 0 0 1 0 0 2.7 1 0 0-7.2 1 0 0 0 1 0 0 9 1 0 0-4.4 1 0 0 0 1 0 0-2.1 1 0 0 0 1 0 0-2.7 1 0 0 0 1 0 0 6.8 1 0 0 1.3 1 0 0 0 1 0 0-0.9 1 0 0-0.1 1 0 0 0 1 0 0 5.5 1 0 0-5.7 1 0 0 0 1 0 0 0.9 1 0 0-6.7 1 0 0 0 1 0 0 2.9 1 0 0 5.9 1 0 0 0.3 1 0 0-2.5 1 0 0 0 1 0 0 1.6 1 0 0 2.5 1 0 0-5.6 1 0 0 0 1 0 0 3 1 0 0 3.5 1 0 0 0 1 0 0-4.8 1 0 0 0 1 0 0 2.1 1 0 0 1.1 1 0 0 0.3 1 0 0-4.2 1 0 0 0 1 0 0-0.7 1 0 0 0 1 0 0 3.5 1 0 0-1 1 0 0 0 1 0 0 0.5 1 0 0 1.7 1 0 0-8.6 1 0 0 0 1 0 0 4.5 1 0 0 0.5 1 0 0 1.9 1 0 0-1.6 1 0 0 0 1 0 0 5.5 1 0 0-2 1 0 0 0 1 0 0 0.3 1 0 0-1.6 1 0 0-5.2 1 0 0 0 1 0 0 1.2 1 0 0 0 1 0 0 4.2 1 0 0 0 1 0 0-3 1 0 0-1.3 1 0 0-2.3 1 0 0 0 1 0 0 3.4 1 0 0 5.6 1 0 0-5.6 1 0 0-1.6 1 0 0 0 1 0 0 4.5 1 0 0 0 1 0 0-6 1 0 0 0 1 0 0 7.7 1 0 0-9.4 1 0 0 0 1 0 0 0.8 1 0 0-37 1 0 0 0 1 0 0 36.7 1 0 0-0.9 1 0 0 0 1 0 0 1.5 1 0 0 3.5 1 0 0-3.3 1 0 0 0 1 0 0 2.1 1 0 0 0 1 0 0 7 1 0 0-5 1 0 0 0 1 0 0-0.9 1 0 0 0 1 0 0-4 1 0 0 0 1 0 0-1.1 1 0 0 0 1 0 0 9.7 1 0 0-2.3 1 0 0-1.6 1 0 0-4.7 1 0 0-9.4 1 0 0-4.6 1 0 0 0 1 0 0-16.3 1 0 0 0 1 0 0 24.5 1 0 0 0 1 0 0-8.6 1 0 0 0 1 0 0 7.1 1 0 0-18.8 1 0 0 0 1 0 0 10.7 1 0 0 11.3 1 0 0-3 1 0 0-5 1 0 0 0 1 0 0 2.6 1 0 0-14.4 1 0 0 0 1 0 0 3.1 1 0 0 0 1 0 0 26.1 1 0 0 0.5 1 0 0-9.5 1 0 0 0 1 0 0 3.1 1 0 0-14.1 1 0 0 0 1 0 0 8.6 1 0 0-8 1 0 0-13.8 1 0 0 0 1 0 0 18.9 1 0 0 0 1 0 0 6.8 1 0 0 0.6 1 0 0 3.8 1 0 0-7.8 1 0 0 0 1 0 0-4.6 1 0 0 0 1 0 0-3 1 0 0-11.6 1 0 0-4.6 1 0 0 0 1 0 0 13.7 1 0 0 7.6 1 0 0-50.7 1 0 0 0 1 0 0 14.3 1 0 0 0 1 0 0 23.2 1 0 0 18.2 1 0 0 6.7 1 0 0 0 1 0 0-11.9 1 0 0 0 1 0 0-13.3 1 0 0-20.1 1 0 0 0 1 0 0 25.8 1 0 0 12.8 1 0 0-12.4 1 0 0 0 1 0 0-15.5 1 0 0-2.3 1 0 0 0 1 0 0-13.3 1 0 0 0 1 0 0 0 1 0 0 45.2 1 0 0 0 1 0 0 0 1 0 0 6.2 1 0 0-25.1 1 0 0 0 1 0 0 5.6 1 0 0 10.6 1 0 0-7.4 1 0 0 0 1 0 0 9.1 1 0 0 0.1 1 0 0 4 1 0 0-3.4 1 0 0-12.2 1 0 0-54.9 1 0 0 0 1 0 0 63.4 1 0 0-7.6 1 0 0 0 1 0 0 6.9 1 0 0-10.8 1 0 0 0 1 0 0 0.9 1 0 0 4.9 1 0 0 6.7 1 0 0 0 1 0 0 7.3 1 0 0-11.3 1 0 0 0 1 0 0-64.4 1 0 0 0 1 0 0 59.5 1 0 0-29.8 1 0 0-30.3 1 0 0 0 1 0 0 0 1 0 0 46 1 0 0 15.8 1 0 0-10.5 1 0 0 0 1 0 0-51.3 1 0 0 0 1 0 0 55.8 1 0 0 0.7 1 0 0 7.5 1 0 0 6.2 1 0 0-8.6 1 0 0 0 1 0 0-3.9 1 0 0-2.5 1 0 0 0 1 0 0 12.6 1 0 0-9.9 1 0 0-8.8 1 0 0 0 1 0 0-2.2 1 0 0 0 1 0 0 7.8 1 0 0 13.4 1 0 0-3.9 1 0 0 0 1 0 0 5.7 1 0 0 0 1 0 0 5.7 1 0 0-0.8 1 0 0-2.8 1 0 0 0 1 0 0-8.8 1 0 0 0 1 0 0 14 1 0 0-5 1 0 0 0 1 0 0 2.5 1 0 0-15.9 1 0 0-8 1 0 0 0 1 0 0 15.8 1 0 0 8.4 1 0 0 0 1 0 0 4.3 1 0 0-8.2 1 0 0-0.7 1 0 0-1.3 1 0 0 0 1 0 0 6.6 1 0 0 0 1 0 0 0.1 1 0 0 0 1 0 0-5.7 1 0 0 0 1 0 0 0 1 0 0 7.1 1 0 0 0 1 0 0 9.9 1 0 0-10.5 1 0 0 0 1 0 0 3.2 1 0 0 2.7 1 0 0-4.7 1 0 0-2.1 1 0 0 0 1 0 0-0.1 1 0 0 0 1 0 0 2.6 1 0 0 4.6 1 0 0-0.3 1 0 0-6.7 1 0 0-0.2 1 0 0 0 1 0 0 2 1 0 0 0 1 0 0 1.8 1 0 0-15.4 1 0 0 0 1 0 0 10 1 0 0 0 1 0 0-5.5 1 0 0 0 1 0 0 4.7 1 0 0 7.5 1 0 0-18.8 1 0 0-52.3 1 0 0 0 1 0 0 68.3 1 0 0 3.5 1 0 0-8.9 1 0 0 0 1 0 0 4.8 1 0 0-1.6 1 0 0 0 1 0 0 0.2 1 0 0 1 1 0 0 0 1 0 0 4.4 1 0 0 0 1 0 0-5 1 0 0-8.9 1 0 0 0 1 0 0 9.6 1 0 0-7 1 0 0-8.5 1 0 0 0 1 0 0 13 1 0 0 0 1 0 0 0.1 1 0 0 3.9 1 0 0 1.7 1 0 0-5.4 1 0 0 0 1 0 0-7.7 1 0 0 0 1 0 0 9 1 0 0 0 1 0 0 3.9 1 0 0-11.5 1 0 0 0 1 0 0 7.7 1 0 0 0 1 0 0-4.2 1 0 0 0 1 0 0 7.7 1 0 0-2.8 1 0 0 0 1 0 0-2.1 1 0 0 0 1 0 0-6.9 1 0 0 0 1 0 0 8.9 1 0 0 0 1 0 0 3.4 1 0 0-2.3 1 0 0 0 1 0 0 3.3 1 0 0-0.6 1 0 0 0 1 0 0 2.8 1 0 0-1.5 1 0 0-10.7 1 0 0 0 1 0 0 1.6 1 0 0 0 1 0 0 7.2 1 0 0-11.5 1 0 0 0 1 0 0 0 1 0 0 12.1 1 0 0 0 1 0 0-4.1 1 0 0 0 1 0 0 6.8 1 0 0 0 1 0 0-6.4 1 0 0 0 1 0 0 7.3 1 0 0 0.4 1 0 0 0 1 0 0-3 1 0 0 0 1 0 0 2.8 1 0 0-10.3 1 0 0 0 1 0 0 6.3 1 0 0-3.5 1 0 0 0 1 0 0 1 1 0 0 0 1 0 0 5.7 1 0 0-7.4 1 0 0 0 1 0 0 3.6 1 0 0-5.9 1 0 0 0 1 0 0 5.9 1 0 0-11.1 1 0 0 0 1 0 0 3 1 0 0 7.5 1 0 0-8.9 1 0 0 0 1 0 0 8.5 1 0 0-6.1 1 0 0 0 1 0 0 5.8 1 0 0 5.4 1 0 0-4.2 1 0 0 0 1 0 0 3.2 1 0 0-3.9 1 0 0-0.1 1 0 0-2.3 1 0 0 0 1 0 0 2.9 1 0 0 0 1 0 0 2.2 1 0 0-3 1 0 0 0 1 0 0-3 1 0 0 0 1 0 0-1.2 1 0 0 0 1 0 0 3.8 1 0 0 0 1 0 0 4.9 1 0 0-6.4 1 0 0 0 1 0 0 2.1 1 0 0 3.4 1 0 0-10.1 1 0 0 0 1 0 0 5.1 1 0 0 0 1 0 0 1.6 1 0 0-2.6 1 0 0 0 1 0 0 4.6 1 0 0 1.2 1 0 0-3.6 1 0 0-1.2 1 0 0 0 1 0 0 4.3 1 0 0 0 1 0 0-2.3 1 0 0-3 1 0 0 0 1 0 0 1.5 1 0 0-0.8 1 0 0 0 1 0 0 3 1 0 0-5.1 1 0 0 0 1 0 0 4.2 1 0 0 2.8 1 0 0 0 1 0 0 2 1 0 0-3.9 1 0 0-4.1 1 0 0-5.2 1 0 0 0 1 0 0 5.7 1 0 0-6.3 1 0 0 0 1 0 0 10.2 1 0 0-4.6 1 0 0 0 1 0 0 0.6 1 0 0 0 1 0 0 1 1 0 0 0.5 1 0 0 0.8 1 0 0 0 1 0 0-1.9 1 0 0 0 1 0 0-0.9 1 0 0 0 1 0 0 0.3 1 0 0-0.5 1 0 0 0 1 0 0 2 1 0 0 0 1 0 0 4.9 1 0 0-6.9 1 0 0 0 1 0 0 4.1 1 0 0-7.6 1 0 0 0 1 0 0 4.6 1 0 0 0 1 0 0 4.5 1 0 0-3.4 1 0 0 0 1 0 0 4.4 1 0 0 0 1 0 0-2.3 1 0 0-6.2 1 0 0 0 1 0 0 0.9 1 0 0 0 1 0 0 5.4 1 0 0 1.7 1 0 0-3.3 1 0 0 0 1 0 0 6.8 1 0 0-4.2 1 0 0-1.8 1 0 0-1.2 1 0 0 0 1 0 0-0.7 1 0 0 0 1 0 0 3 1 0 0-3.4 1 0 0 0 1 0 0 1.9 1 0 0 2.3 1 0 0-0.7 1 0 0-10.5 1 0 0 0 1 0 0 7 1 0 0 4.4 1 0 0 3.6 1 0 0-6.1 1 0 0-1.5 1 0 0-10.8 1 0 0 0 1 0 0 9 1 0 0 0 1 0 0-0.1 1 0 0 0 1 0 0-3.4 1 0 0 0 1 0 0 4.8 1 0 0-4.1 1 0 0-22.9 1 0 0 0 1 0 0 20.8 1 0 0 0 1 0 0-3.9 1 0 0-4.4 1 0 0 0 1 0 0 2.2 1 0 0 5.7 1 0 0-2.9 1 0 0 0 1 0 0 0.2 1 0 0-7.7 1 0 0 0 1 0 0 9.5 1 0 0 5.8 1 0 0-0.7 1 0 0 0 1 0 0 5.2 1 0 0-0.3 1 0 0-7.6 1 0 0 0 1 0 0 11.2 1 0 0-0.6 1 0 0-9.4 1 0 0 0 1 0 0 0.7 1 0 0-0.8 1 0 0 0 1 0 0 12.2 1 0 0-4.5 1 0 0-5.5 1 0 0 0 1 0 0 3.3 1 0 0 0 1 0 0-8.4 1 0 0 0 1 0 0 9.5 1 0 0-0.3 1 0 0 0 1 0 0-1.3 1 0 0-3.7 1 0 0 0 1 0 0 2.1 1 0 0-0.6 1 0 0-4.5 1 0 0 0 1 0 0 9.3 1 0 0 6.1 1 0 0-7.4 1 0 0 0 1 0 0 0.2 1 0 0 0 1 0 0 0.9 1 0 0-4.3 1 0 0 0 1 0 0 3.6 1 0 0-1.5 1 0 0 0 1 0 0 0.1 1 0 0 4.2 1 0 0-0.6 1 0 0-1.6 1 0 0-1.2 1 0 0-1.5 1 0 0 0 1 0 0 5 1 0 0-6.8 1 0 0 0 1 0 0 0.3 1 0 0 2.4 1 0 0 0.1 1 0 0 0 1 0 0-6.7 1 0 0 0 1 0 0 8.1 1 0 0-7.5 1 0 0 0 1 0 0 0.8 1 0 0 0 1 0 0 2.4 1 0 0 0 1 0 0 4.9 1 0 0-0.8 1 0 0-7.3 1 0 0 0 1 0 0 5 1 0 0-2.9 1 0 0-0.4 1 0 0 0 1 0 0 4.9 1 0 0 0 1 0 0-9.6 1 0 0 0 1 0 0 1.1 1 0 0 1.3 1 0 0-12.3 1 0 0 0 1 0 0 10.1 1 0 0 2.2 1 0 0 0 1 0 0 5.5 1 0 0 0 1 0 0-1.3 1 0 0 0 1 0 0 6.4 1 0 0-0.3 1 0 0-1.1 1 0 0-8.1 1 0 0 0 1 0 0 2.6 1 0 0 4.3 1 0 0-2.6 1 0 0 0 1 0 0-7 1 0 0 0 1 0 0 0.4 1 0 0 9.3 1 0 0-3.3 1 0 0-6.8 1 0 0 0 1 0 0 8.9 1 0 0-3.4 1 0 0 0 1 0 0-11.5 1 0 0 0 1 0 0 8.7 1 0 0 4.4 1 0 0 2.4 1 0 0 0 1 0 0-7.3 1 0 0 0 1 0 0 5.5 1 0 0-0.5 1 0 0 0 1 0 0 2.3 1 0 0 0 1 0 0-1.9 1 0 0 0 1 0 0-0.2 1 0 0 0 1 0 0-1.2 1 0 0 0 1 0 0-0.6 1 0 0 0 1 0 0 4.7 1 0 0 0 1 0 0-15.2 1 0 0 0 1 0 0 7.7 1 0 0 4.8 1 0 0 0 1 0 0 3.1 1 0 0-4.3 1 0 0 0 1 0 0-1.5 1 0 0 0 1 0 0 4.3 1 0 0 0 1 0 0-2.2 1 0 0 0 1 0 0 1.2 1 0 0 1.2 1 0 0-2.8 1 0 0 0 1 0 0-5.7 1 0 0-3.8 1 0 0 0 1 0 0 10.3 1 0 0-0.1 1 0 0 0 1 0 0 3 1 0 0-0.2 1 0 0 0 1 0 0-3.1 1 0 0 0 1 0 0-3.5 1 0 0 0 1 0 0 4 1 0 0 0 1 0 0 1.5 1 0 0 0 1 0 0 2.5 1 0 0-1.3 1 0 0-7.2 1 0 0 0 1 0 0 5.2 1 0 0 0 1 0 0-1.6 1 0 0 0 1 0 0 4.5 1 0 0 0 1 0 0-5.9 1 0 0 0 1 0 0 0 1 0 0 0.3 1 0 0 6.7 1 0 0-0.3 1 0 0-7.4 1 0 0 0 1 0 0 3.4 1 0 0-2.8 1 0 0-1.6 1 0 0 0 1 0 0 4.2 1 0 0 0 1 0 0 0.7 1 0 0 3 1 0 0-1.9 1 0 0-6.5 1 0 0 0 1 0 0 10 1 0 0 1.5 1 0 0-0.7 1 0 0 0 1 0 0 0.6 1 0 0-16.7 1 0 0 0 1 0 0 6 1 0 0 0.5 1 0 0-0.9 1 0 0 0 1 0 0 8.4 1 0 0-4.4 1 0 0 0 1 0 0 2.3 1 0 0 3 1 0 0-4.1 1 0 0-2.3 1 0 0-5.6 1 0 0 0 1 0 0 11.7 1 0 0-8.6 1 0 0 0 1 0 0 7 1 0 0 0.6 1 0 0 0 1 0 0-3 1 0 0 0 1 0 0-11.4 1 0 0 0 1 0 0 7.4 1 0 0 0 1 0 0 7.1 1 0 0 0 1 0 0-6.6 1 0 0 0 1 0 0 1.7 1 0 0 0 1 0 0-6 1 0 0 0 1 0 0-1.6 1 0 0 0 1 0 0 9.9 1 0 0 0 1 0 0 1.2 1 0 0 0 1 0 0-2.8 1 0 0 0 1 0 0 0.1 1 0 0 0 1 0 0 1.3 1 0 0-4.7 1 0 0 0 1 0 0 5.7 1 0 0 0.8 1 0 0-1.6 1 0 0 0 1 0 0-1.2 1 0 0 0 1 0 0 0.3 1 0 0-1.9 1 0 0 0 1 0 0 5.3 1 0 0-6.1 1 0 0 0 1 0 0 7.3 1 0 0 2 1 0 0-4.2 1 0 0-3.1 1 0 0 0 1 0 0 5.2 1 0 0-0.6 1 0 0-4.6 1 0 0 0 1 0 0 1.8 1 0 0 5.9 1 0 0-0.6 1 0 0 0 1 0 0-6.5 1 0 0-0.7 1 0 0-12.8 1 0 0 0 1 0 0 14.3 1 0 0-5.9 1 0 0 0 1 0 0 1.9 1 0 0-1.6 1 0 0 0 1 0 0 3.6 1 0 0 7.1 1 0 0-14.5 1 0 0 0 1 0 0 8.5 1 0 0 0 1 0 0 5.6 1 0 0-5.2 1 0 0-5.8 1 0 0 0 1 0 0 8.7 1 0 0-0.9 1 0 0-2.3 1 0 0 0 1 0 0-1.2 1 0 0 0 1 0 0 6.9 1 0 0 2.8 1 0 0-5.3 1 0 0-4.9 1 0 0 0 1 0 0 1.8 1 0 0 5.1 1 0 0-10.8 1 0 0 0 1 0 0 9.3 1 0 0-5.7 1 0 0 0 1 0 0 3.6 1 0 0 0 1 0 0-4.4 1 0 0 0 1 0 0 4.5 1 0 0-1.2 1 0 0 0 1 0 0-0.9 1 0 0-4.8 1 0 0 0 1 0 0 7.2 1 0 0 0 1 0 0-2 1 0 0-1 1 0 0 0 1 0 0 4.6 1 0 0-1.4 1 0 0 0 1 0 0 1.4 1 0 0 0 1 0 0 0.4 1 0 0 0.3 1 0 0-1.6 1 0 0 0 1 0 0 2.9 1 0 0 1.1 1 0 0-8.2 1 0 0 0 1 0 0 6.5 1 0 0-14.2 1 0 0 0 1 0 0 0 1 0 0 13.7 1 0 0 1.1 1 0 0-8 1 0 0 0 1 0 0 4.3 1 0 0 0 1 0 0-5.6 1 0 0 0 1 0 0 10.8 1 0 0-5.1 1 0 0 0 1 0 0-0.8 1 0 0 0 1 0 0-4.2 1 0 0 0 1 0 0 7.9 1 0 0-3 1 0 0 0 1 0 0-4 1 0 0 0 1 0 0 3.1 1 0 0-1.9 1 0 0 0 1 0 0 2.8 1 0 0-9.8 1 0 0 0 1 0 0 10.1 1 0 0-0.5 1 0 0 0 1 0 0-3.3 1 0 0 0 1 0 0 1 1 0 0 0 1 0 0-0.2 1 0 0 0 1 0 0-2.9 1 0 0 0 1 0 0 4.2 1 0 0-5.2 1 0 0-29.1 1 0 0 0 1 0 0 38.3 1 0 0 1.9 1 0 0 0.1 1 0 0-6.6 1 0 0 0 1 0 0 2.4 1 0 0-11.2 1 0 0 0 1 0 0 12.9 1 0 0 3.1 1 0 0-7.1 1 0 0 0 1 0 0 4.3 1 0 0-6.6 1 0 0 0 1 0 0 4 1 0 0 0.2 1 0 0-0.4 1 0 0-0.8 1 0 0-8.4 1 0 0 0 1 0 0 5.3 1 0 0 5.9 1 0 0-4.2 1 0 0-0.1 1 0 0 0 1 0 0 3 1 0 0 0.4 1 0 0-8.4 1 0 0 0 1 0 0 5.9 1 0 0 4.2 1 0 0 0.3 1 0 0-0.2 1 0 0-1.1 1 0 0-1 1 0 0 0 1 0 0-10.5 1 0 0 0 1 0 0 12.2 1 0 0-3.8 1 0 0-2.1 1 0 0-2 1 0 0 0 1 0 0 5.4 1 0 0 2.3 1 0 0 1.7 1 0 0 2 1 0 0-3.5 1 0 0 0 1 0 0-10.3 1 0 0 0 1 0 0 7.6 1 0 0 0 1 0 0-0.9 1 0 0 0 1 0 0-7.4 1 0 0 0 1 0 0 0 1 0 0 13.9 1 0 0-3.7 1 0 0-0.1 1 0 0-0.5 1 0 0 0 1 0 0-3.2 1 0 0 0 1 0 0 2.1 1 0 0-1.2 1 0 0 0 1 0 0 2.8 1 0 0 0 1 0 0-1.5 1 0 0-1.7 1 0 0 0 1 0 0 0.9 1 0 0 3.2 1 0 0-2.4 1 0 0 0 1 0 0 2.9 1 0 0 0.3 1 0 0-5.7 1 0 0-0.7 1 0 0 0 1 0 0 2.9 1 0 0 0 1 0 0 4.8 1 0 0-12.1 1 0 0 0 1 0 0 15.4 1 0 0-17.3 1 0 0 0 1 0 0 6.9 1 0 0 0 1 0 0-2.1 1 0 0 0 1 0 0 4.4 1 0 0-5 1 0 0-0.2 1 0 0 0 1 0 0 8.2 1 0 0 3.3 1 0 0-13.7 1 0 0 0 1 0 0 11.2 1 0 0-3 1 0 0 0 1 0 0 0.2 1 0 0-1.6 1 0 0-2.3 1 0 0 0 1 0 0 1.7 1 0 0 0.8 1 0 0-3.9 1 0 0-0.2 1 0 0 0 1 0 0-1 1 0 0 0 1 0 0-1.5 1 0 0 0 1 0 0 6.2 1 0 0-3.4 1 0 0 0 1 0 0 5.5 1 0 0 3.6 1 0 0 1.9 1 0 0 0 1 0 0 0.1 1 0 0-13.8 1 0 0 0 1 0 0 7.2 1 0 0-1.4 1 0 0 0 1 0 0 2.8 1 0 0-2.7 1 0 0-2.3 1 0 0-0.7 1 0 0 0 1 0 0 4 1 0 0-0.3 1 0 0 0 1 0 0 0.6 1 0 0 0.6 1 0 0 0 1 0 0-9.4 1 0 0 0 1 0 0 14.3 1 0 0-2.3 1 0 0-14.8 1 0 0 0 1 0 0 8.1 1 0 0-2.7 1 0 0 0 1 0 0 3 1 0 0 0 1 0 0 5.1 1 0 0 0 1 0 0-1.7 1 0 0 0 1 0 0 2.6 1 0 0-3.7 1 0 0 0 1 0 0 4.1 1 0 0-1.1 1 0 0-4 1 0 0-1.6 1 0 0-0.7 1 0 0 0 1 0 0 1.8 1 0 0 3.3 1 0 0-0.1 1 0 0-0.9 1 0 0 0 1 0 0 5.4 1 0 0 0.5 1 0 0-5.7 1 0 0-6.7 1 0 0 0 1 0 0 3.8 1 0 0-1.5 1 0 0-5.3 1 0 0 0 1 0 0 9.7 1 0 0 0 1 0 0 6.9 1 0 0-9.4 1 0 0-5.1 1 0 0 0 1 0 0 3.4 1 0 0 1.1 1 0 0 0 1 0 0 1.7 1 0 0 0 1 0 0 3.7 1 0 0-11.2 1 0 0 0 1 0 0-5.6 1 0 0 0 1 0 0-13.2 1 0 0 0 1 0 0 16.2 1 0 0 3.6 1 0 0 0 1 0 0 4.7 1 0 0 0 1 0 0 0.1 1 0 0 2.1 1 0 0 0 1 0 0 2.5 1 0 0-4.4 1 0 0 0 1 0 0 7.2 1 0 0-0.7 1 0 0-5.5 1 0 0-0.5 1 0 0-0.3 1 0 0 0 1 0 0-13.2 1 0 0 0 1 0 0 0 1 0 0-1.3 1 0 0-26.3 1 0 0 0 1 0 0 26.1 1 0 0 0 1 0 0 5 1 0 0-10.8 1 0 0 0 1 0 0 0 1 0 0 1.5 1 0 0-7.3 1 0 0 0 1 0 0 21.4 1 0 0-9.7 1 0 0 0 1 0 0 0.5 1 0 0 1.3 1 0 0 10.2 1 0 0-1.9 1 0 0 0 1 0 0-0.6 1 0 0 0 1 0 0 1.3 1 0 0 0 1 0 0 5.7 1 0 0-10.4 1 0 0 0 1 0 0 3.1 1 0 0 7.8 1 0 0-0.2 1 0 0-4.7 1 0 0-6.8 1 0 0 0 1 0 0-0.8 1 0 0 0 1 0 0-2.4 1 0 0 0 1 0 0-7.6 1 0 0-31.7 1 0 0 0 1 0 0 50.8 1 0 0-4.5 1 0 0-1.4 1 0 0-25.6 1 0 0-16 1 0 0 0 1 0 0 8.1 1 0 0 24.5 1 0 0 3.3 1 0 0-2.2 1 0 0-1.9 1 0 0-4.2 1 0 0 0 1 0 0 9.2 1 0 0 8.1 1 0 0-6.9 1 0 0 0 1 0 0 1.6 1 0 0 0 1 0 0 14.7 1 0 0-11.5 1 0 0 0 1 0 0-10.6 1 0 0 0 1 0 0-9 1 0 0-14 1 0 0 0 1 0 0 4.7 1 0 0 3.4 1 0 0 28.3 1 0 0 0 1 0 0-0.4 1 0 0 0 1 0 0 8.2 1 0 0 0 1 0 0-3.1 1 0 0-8.9 1 0 0-19.2 1 0 0 0 1 0 0 14.5 1 0 0 12.2 1 0 0-4.1 1 0 0-3 1 0 0 0 1 0 0-0.7 1 0 0 0 1 0 0 6.8 1 0 0 1.2 1 0 0-16.7 1 0 0-11.8 1 0 0 0 1 0 0 10.3 1 0 0 2.6 1 0 0 11.3 1 0 0 0 1 0 0 0.2 1 0 0-3.5 1 0 0-5 1 0 0-24.6 1 0 0 0 1 0 0 21.6 1 0 0 72-1 0 0 37.6-1 0 0 0-1 0 0-39.3-1 0 0 0-1 0 0-5.1-1 0 0-2.1-1 0 0 5-1 0 0 3.5-1 0 0 0-1 0 0 4.9-1 0 0 0-1 0 0-9.2-1 0 0-3.4-1 0 0 3.2-1 0 0 5.4-1 0 0 1.7-1 0 0 0-1 0 0-5.7-1 0 0 0-1 0 0 0.8-1 0 0 4-1 0 0 0-1 0 0 5.3-1 0 0 0-1 0 0-20.9-1 0 0-2.4-1 0 0 14.1-1 0 0 0-1 0 0-5.2-1 0 0 1.4-1 0 0 8.5-1 0 0 17.1-1 0 0 17.9-1 0 0 0-1 0 0-10.2-1 0 0-12.1-1 0 0-9.7-1 0 0 0-1 0 0-10.1-1 0 0 0-1 0 0-6.1-1 0 0-3.9-1 0 0 3.6-1 0 0 12.1-1 0 0 0-1 0 0-14.2-1 0 0 18.3-1 0 0 0-1 0 0 8.5-1 0 0 0-1 0 0-19.2-1 0 0-0.6-1 0 0 20.1-1 0 0 16-1 0 0 0-1 0 0-6.2-1 0 0-19.7-1 0 0-10-1 0 0-0.7-1 0 0 0-1 0 0-3.1-1 0 0 3-1 0 0 7.3-1 0 0 0-1 0 0-8-1 0 0-1.7-1 0 0-2.9-1 0 0 4.8-1 0 0 0-1 0 0 5.6-1 0 0 0-1 0 0 1.9-1 0 0 9.1-1 0 0 0-1 0 0-15.1-1 0 0 5.8-1 0 0 0-1 0 0-10.5-1 0 0 2.5-1 0 0 0-1 0 0 0-1 0 0 44.9-1 0 0 0-1 0 0-36.8-1 0 0 0-1 0 0 4.3-1 0 0 0-1 0 0-1.6-1 0 0 0-1 0 0 0-1 0 0-8.3-1 0 0 24-1 0 0 0-1 0 0-17.7-1 0 0 0-1 0 0 9.1-1 0 0 0-1 0 0 48.1-1 0 0 0-1 0 0-60.4-1 0 0 0-1 0 0-5.6-1 0 0-1.9-1 0 0-3.1-1 0 0 0-1 0 0-0.5-1 0 0 0-1 0 0-2.4-1 0 0 11.6-1 0 0 0-1 0 0-0.9-1 0 0-2.5-1 0 0-8-1 0 0-1.8-1 0 0 6.1-1 0 0 2.4-1 0 0 0-1 0 0 1.6-1 0 0 0-1 0 0 0.1-1 0 0 10.3-1 0 0 0-1 0 0-0.2-1 0 0-5.2-1 0 0-10.8-1 0 0-3.2-1 0 0 1.7-1 0 0 4.9-1 0 0 0.2-1 0 0 0-1 0 0-5.8-1 0 0 9.7-1 0 0 0-1 0 0-6.5-1 0 0 2.5-1 0 0 0-1 0 0-2.8-1 0 0 5.1-1 0 0 0-1 0 0 0.6-1 0 0 0-1 0 0-3.6-1 0 0-3.5-1 0 0 5.3-1 0 0 0-1 0 0-1.5-1 0 0 0-1 0 0-2.1-1 0 0-1.9-1 0 0 5.3-1 0 0 0-1 0 0 8.6-1 0 0 2-1 0 0 0-1 0 0-15-1 0 0-0.9-1 0 0 6.5-1 0 0 0-1 0 0-1.7-1 0 0-1.3-1 0 0 0.2-1 0 0 0-1 0 0-1-1 0 0-5-1 0 0-0.7-1 0 0 9-1 0 0 0-1 0 0-8.1-1 0 0 9.9-1 0 0 0-1 0 0-14.3-1 0 0 8.5-1 0 0 0-1 0 0-3-1 0 0 1.9-1 0 0 5.6-1 0 0 0-1 0 0-7.2-1 0 0-3.6-1 0 0 0-1 0 0-0.4-1 0 0 0-1 0 0 7.9-1 0 0 0-1 0 0-0.3-1 0 0 0.5-1 0 0 0-1 0 0-5.6-1 0 0 8.5-1 0 0 0-1 0 0-5.4-1 0 0-2.1-1 0 0 0-1 0 0-0.1-1 0 0 5.1-1 0 0 0-1 0 0-1.6-1 0 0-1-1 0 0-3.8-1 0 0 0-1 0 0 9.5-1 0 0 0-1 0 0-6.8-1 0 0-1.3-1 0 0 0-1 0 0-0.8-1 0 0 0-1 0 0 3.5-1 0 0 5.7-1 0 0 0-1 0 0-2.7-1 0 0 1.6-1 0 0 0-1 0 0-8.1-1 0 0-0.3-1 0 0 0-1 0 0-0.8-1 0 0 7.3-1 0 0 0-1 0 0-1.4-1 0 0 1.9-1 0 0 0-1 0 0-4.7-1 0 0 2.5-1 0 0 0-1 0 0-0.8-1 0 0 0-1 0 0 2.4-1 0 0 0-1 0 0-2.2-1 0 0 0.5-1 0 0 0-1 0 0-4.4-1 0 0 5.8-1 0 0 0-1 0 0 1-1 0 0 0-1 0 0-5.4-1 0 0-0.4-1 0 0 2.7-1 0 0 0.5-1 0 0 0-1 0 0-1.7-1 0 0 2.8-1 0 0 0-1 0 0-2-1 0 0-5.8-1 0 0 5-1 0 0 0-1 0 0-3.1-1 0 0 0-1 0 0 1.5-1 0 0 0.9-1 0 0 0-1 0 0-1.6-1 0 0 6.5-1 0 0 0-1 0 0 0-1 0 0-3.8-1 0 0 0-1 0 0-4.1-1 0 0 1.4-1 0 0 0-1 0 0-1.2-1 0 0 4.1-1 0 0 0-1 0 0 9.5-1 0 0 0-1 0 0-11.6-1 0 0-0.9-1 0 0 1.4-1 0 0 0-1 0 0 4.6-1 0 0 0-1 0 0-2.9-1 0 0 7-1 0 0 0-1 0 0-7-1 0 0 0-1 0 0-3-1 0 0-0.7-1 0 0 7.3-1 0 0 0-1 0 0 1.7-1 0 0 0-1 0 0-10.2-1 0 0 6.3-1 0 0 0-1 0 0-3.1-1 0 0 0-1 0 0-3.1-1 0 0-0.1-1 0 0 6.8-1 0 0 0-1 0 0-4.2-1 0 0 0-1 0 0 0-1 0 0 3.6-1 0 0 0-1 0 0-7.6-1 0 0 2-1 0 0 8.9-1 0 0 0-1 0 0-3.2-1 0 0-0.8-1 0 0 0-1 0 0-2.8-1 0 0-1.3-1 0 0 1.6-1 0 0 1.3-1 0 0 0-1 0 0 4-1 0 0 0-1 0 0-5.2-1 0 0 9.8-1 0 0 0-1 0 0-3.9-1 0 0-5.6-1 0 0 9-1 0 0 0-1 0 0 0.9-1 0 0 0-1 0 0 2.1-1 0 0 0-1 0 0-13.2-1 0 0 2.2-1 0 0 0-1 0 0-0.1-1 0 0 3.9-1 0 0 0-1 0 0-3.2-1 0 0-3.1-1 0 0 2.2-1 0 0 0.8-1 0 0 0-1 0 0-0.6-1 0 0-1-1 0 0-4.6-1 0 0 5.1-1 0 0 0-1 0 0-0.9-1 0 0 0-1 0 0 0.2-1 0 0 0-1 0 0 0.1-1 0 0 2-1 0 0 0-1 0 0 3.7-1 0 0 4.4-1 0 0 0-1 0 0-9-1 0 0 1.2-1 0 0 0-1 0 0-2.7-1 0 0 0-1 0 0 7-1 0 0 0-1 0 0-0.3-1 0 0-6-1 0 0 4.1-1 0 0 0-1 0 0 1.8-1 0 0 0-1 0 0-5.9-1 0 0 8.2-1 0 0 0-1 0 0-0.8-1 0 0 0-1 0 0-7.8-1 0 0 0-1 0 0-0.7-1 0 0 0-1 0 0-1.1-1 0 0 4.4-1 0 0 0-1 0 0 0.3-1 0 0 0-1 0 0-2.2-1 0 0 7.4-1 0 0 0-1 0 0 0-1 0 0-2.8-1 0 0 3.4-1 0 0 1-1 0 0 0-1 0 0-8.8-1 0 0 0-1 0 0-1.1-1 0 0-3.6-1 0 0 1.6-1 0 0 4.9-1 0 0 1.7-1 0 0 1.2-1 0 0 0-1 0 0-5.5-1 0 0 0.4-1 0 0 0-1 0 0-4.8-1 0 0 7.8-1 0 0 0-1 0 0-2.6-1 0 0 2.6-1 0 0 0-1 0 0-2.9-1 0 0 0-1 0 0 0.1-1 0 0 1.9-1 0 0 8-1 0 0 0-1 0 0-1-1 0 0-8.4-1 0 0 0-1 0 0-4.1-1 0 0 3.3-1 0 0 0.3-1 0 0 1.6-1 0 0 0.3-1 0 0 0-1 0 0-1.8-1 0 0-2.6-1 0 0 5.1-1 0 0 0-1 0 0 11-1 0 0 0-1 0 0-8.7-1 0 0 5-1 0 0 0-1 0 0-6.8-1 0 0 0.1-1 0 0 0-1 0 0 3.1-1 0 0 0-1 0 0-6.6-1 0 0 0-1 0 0-5.4-1 0 0 13.1-1 0 0 0-1 0 0-8.5-1 0 0-0.3-1 0 0 0-1 0 0-0.8-1 0 0 2.2-1 0 0 0-1 0 0-0.8-1 0 0 0-1 0 0 2-1 0 0 0-1 0 0-1.1-1 0 0-0.6-1 0 0-0.5-1 0 0 5.5-1 0 0 2.5-1 0 0 0-1 0 0-1.6-1 0 0-7.5-1 0 0 0.1-1 0 0 0-1 0 0 1.5-1 0 0 20.8-1 0 0 0-1 0 0-21.4-1 0 0-1.6-1 0 0 7.4-1 0 0 0-1 0 0-3.8-1 0 0 0-1 0 0-7.3-1 0 0 10-1 0 0 0.8-1 0 0 0-1 0 0-2-1 0 0 0-1 0 0-2.3-1 0 0-0.8-1 0 0 4.7-1 0 0 0-1 0 0-5.5-1 0 0 1-1 0 0 0-1 0 0-0.3-1 0 0 0.2-1 0 0 0-1 0 0-0.2-1 0 0 0-1 0 0 3.9-1 0 0 0-1 0 0 2.8-1 0 0 0-1 0 0-6.8-1 0 0 0.4-1 0 0 0-1 0 0-0.5-1 0 0 1.2-1 0 0 0.3-1 0 0 0-1 0 0 2-1 0 0 0-1 0 0 0-1 0 0 0.4-1 0 0 5.5-1 0 0 0-1 0 0-5.8-1 0 0-2.1-1 0 0 6-1 0 0 0-1 0 0-6.5-1 0 0 1.2-1 0 0 5.7-1 0 0 0-1 0 0-9.6-1 0 0 4.6-1 0 0 0-1 0 0 0.6-1 0 0 0-1 0 0-4.7-1 0 0 13-1 0 0 0-1 0 0-10.8-1 0 0-2.3-1 0 0 1.5-1 0 0 0-1 0 0 0.2-1 0 0 0-1 0 0-4.4-1 0 0 0.6-1 0 0 2.6-1 0 0 0-1 0 0-4.4-1 0 0 1.4-1 0 0 1.9-1 0 0 0-1 0 0 1.8-1 0 0 10-1 0 0 0-1 0 0-4.1-1 0 0-4.2-1 0 0 3.8-1 0 0 0-1 0 0-1.7-1 0 0-2.7-1 0 0-1.8-1 0 0-0.1-1 0 0 0.4-1 0 0 0-1 0 0-1.4-1 0 0 0-1 0 0 5.3-1 0 0 0-1 0 0 13.2-1 0 0 0-1 0 0-10.7-1 0 0 5.4-1 0 0 0-1 0 0-4.8-1 0 0 4.8-1 0 0 0-1 0 0-9.9-1 0 0-1.8-1 0 0 3.4-1 0 0 0-1 0 0-4.1-1 0 0 8.2-1 0 0 0-1 0 0-4.8-1 0 0-3.1-1 0 0 0-1 0 0 1.8-1 0 0 0-1 0 0-2.7-1 0 0 29.5-1 0 0 0-1 0 0-24.6-1 0 0-1.3-1 0 0-1.8-1 0 0-3.1-1 0 0 8.9-1 0 0 0-1 0 0-3.6-1 0 0-0.2-1 0 0 0-1 0 0-2.1-1 0 0 7.6-1 0 0 0-1 0 0-9.3-1 0 0 3.3-1 0 0 0-1 0 0-4.1-1 0 0 6.6-1 0 0 0-1 0 0-3.4-1 0 0 0-1 0 0-1.7-1 0 0 5.5-1 0 0 0-1 0 0-1.8-1 0 0 0-1 0 0 0-1 0 0 4-1 0 0 6.2-1 0 0 0-1 0 0-7.2-1 0 0 2.9-1 0 0 0-1 0 0-3.1-1 0 0-0.9-1 0 0-2.7-1 0 0-4-1 0 0 8.1-1 0 0 0-1 0 0 1.5-1 0 0 0-1 0 0-7.4-1 0 0 4.8-1 0 0 0-1 0 0-0.9-1 0 0 2.1-1 0 0 0-1 0 0 9.3-1 0 0 1.8-1 0 0 0-1 0 0-0.7-1 0 0-2.4-1 0 0-1.7-1 0 0-4-1 0 0-9.1-1 0 0 10.4-1 0 0 0-1 0 0-0.9-1 0 0 0-1 0 0-9.6-1 0 0 4.1-1 0 0 9.5-1 0 0 0-1 0 0-4.2-1 0 0-11.5-1 0 0 0-1 0 0 4.5-1 0 0 0-1 0 0-4.1-1 0 0 3.3-1 0 0 0-1 0 0-2-1 0 0 6.5-1 0 0 0-1 0 0-1.9-1 0 0 1.4-1 0 0 0-1 0 0 0-1 0 0-5.5-1 0 0 2.1-1 0 0 0-1 0 0-0.2-1 0 0 0-1 0 0 2.7-1 0 0 0-1 0 0-4.1-1 0 0-0.1-1 0 0 0-1 0 0-4.4-1 0 0 6.7-1 0 0 0-1 0 0-4.3-1 0 0-0.5-1 0 0 0-1 0 0-0.3-1 0 0 12.1-1 0 0 0-1 0 0-9.6-1 0 0 2-1 0 0 0-1 0 0-1.4-1 0 0 0-1 0 0-3.5-1 0 0 2.6-1 0 0 1.4-1 0 0 0-1 0 0-4.5-1 0 0 3.2-1 0 0 0-1 0 0 8.1-1 0 0 0-1 0 0-7.8-1 0 0 11.9-1 0 0 0-1 0 0 1-1 0 0 0-1 0 0-10.1-1 0 0 2.9-1 0 0 0-1 0 0-6.5-1 0 0 3.5-1 0 0 2.8-1 0 0 0-1 0 0-3-1 0 0-2.8-1 0 0 0-1 0 0 4.7-1 0 0 0-1 0 0-4-1 0 0 0-1 0 0 0.5-1 0 0 0-1 0 0-5.3-1 0 0 0-1 0 0 10.7-1 0 0 0-1 0 0 16.5-1 0 0 0-1 0 0-19.3-1 0 0 3.4-1 0 0 18-1 0 0 0-1 0 0 6.7-1 0 0 0-1 0 0-26.4-1 0 0-0.7-1 0 0 0.6-1 0 0 5.7-1 0 0 0-1 0 0-6.5-1 0 0 1.2-1 0 0 0-1 0 0 6.6-1 0 0 0-1 0 0-4.7-1 0 0 0.7-1 0 0 0-1 0 0-7.2-1 0 0-6-1 0 0 1.4-1 0 0 10.1-1 0 0 0-1 0 0-0.4-1 0 0 0-1 0 0-1.8-1 0 0 0-1 0 0-1.1-1 0 0 0-1 0 0 2.7-1 0 0 0-1 0 0-6.8-1 0 0-1.7-1 0 0 14.6-1 0 0 0-1 0 0-6.9-1 0 0 0-1 0 0-1.4-1 0 0-2.2-1 0 0 4.2-1 0 0 0-1 0 0 0.5-1 0 0 0-1 0 0-4.9-1 0 0-0.1-1 0 0 0.6-1 0 0 3.1-1 0 0 0-1 0 0 6.2-1 0 0 0-1 0 0-9.6-1 0 0 7.1-1 0 0 0-1 0 0-7.7-1 0 0 0-1 0 0-1.7-1 0 0 0-1 0 0 10.7-1 0 0 0-1 0 0-9.4-1 0 0-1.8-1 0 0-2.6-1 0 0 1-1 0 0 0-1 0 0 1.7-1 0 0 5.6-1 0 0 0-1 0 0 1.2-1 0 0 0-1 0 0-6.1-1 0 0-1.4-1 0 0 9.1-1 0 0 0-1 0 0-4.8-1 0 0-3.6-1 0 0 0-1 0 0 14.6-1 0 0 0-1 0 0-9.5-1 0 0-3.6-1 0 0 4-1 0 0 9.8-1 0 0 0-1 0 0-14.4-1 0 0-1.9-1 0 0 5.7-1 0 0 0-1 0 0 0.4-1 0 0 0-1 0 0-6.5-1 0 0 6.7-1 0 0 5.8-1 0 0 0-1 0 0-11.5-1 0 0 1.8-1 0 0 0-1 0 0 0.1-1 0 0 0-1 0 0 3-1 0 0 0-1 0 0-3.4-1 0 0-0.9-1 0 0 0.2-1 0 0 1.9-1 0 0 0-1 0 0-4.1-1 0 0 0-1 0 0 6-1 0 0 0.7-1 0 0 1.6-1 0 0 0-1 0 0-1.7-1 0 0-0.4-1 0 0-0.5-1 0 0 0-1 0 0-0.9-1 0 0 12.4-1 0 0 0-1 0 0-10.4-1 0 0 0.9-1 0 0 0-1 0 0-3-1 0 0 0-1 0 0 0.6-1 0 0 0-1 0 0 1.1-1 0 0 4.7-1 0 0 0-1 0 0-9.8-1 0 0 4-1 0 0 0-1 0 0-7-1 0 0 7.4-1 0 0 0-1 0 0-2.8-1 0 0 2.2-1 0 0 0-1 0 0 0.8-1 0 0 0-1 0 0-1-1 0 0 0-1 0 0-4-1 0 0 11.1-1 0 0 0-1 0 0-10.9-1 0 0 4.4-1 0 0 0-1 0 0-2-1 0 0 0-1 0 0-4.7-1 0 0 5.7-1 0 0 4.1-1 0 0 0.2-1 0 0 0-1 0 0-3.8-1 0 0 0-1 0 0-2.8-1 0 0-1.5-1 0 0 0-1 0 0 5.7-1 0 0 0-1 0 0 1.7-1 0 0 2.5-1 0 0 0-1 0 0-4.3-1 0 0-3.5-1 0 0 4-1 0 0 0.8-1 0 0 0-1 0 0 4.3-1 0 0 0-1 0 0-8.3-1 0 0-1.4-1 0 0 0-1 0 0 0-1 0 0-0.2-1 0 0 1.9-1 0 0 5.5-1 0 0 0-1 0 0-4.3-1 0 0-3.8-1 0 0 5.8-1 0 0 0-1 0 0-1.6-1 0 0-2-1 0 0-2.1-1 0 0 2.8-1 0 0 0-1 0 0-1.7-1 0 0 6.6-1 0 0 0-1 0 0-8.2-1 0 0-1.5-1 0 0 6.9-1 0 0 0-1 0 0-4.1-1 0 0 7.5-1 0 0 4.8-1 0 0 0-1 0 0-6.4-1 0 0 0-1 0 0-3.1-1 0 0 3-1 0 0 0-1 0 0 0.7-1 0 0 0-1 0 0-6.1-1 0 0 10.8-1 0 0 0-1 0 0-6.9-1 0 0 1.9-1 0 0 0.1-1 0 0 2.5-1 0 0 0-1 0 0-7.5-1 0 0 5-1 0 0 0-1 0 0-4.2-1 0 0 0-1 0 0 1.7-1 0 0 0-1 0 0-0.3-1 0 0 3.9-1 0 0 0-1 0 0-2.6-1 0 0-0.9-1 0 0-6.9-1 0 0 0.3-1 0 0 5-1 0 0 4.9-1 0 0 0-1 0 0 2.3-1 0 0 4.1-1 0 0 0-1 0 0-2.7-1 0 0 0-1 0 0-5.2-1 0 0 1.2-1 0 0 0-1 0 0 3.6-1 0 0 5.4-1 0 0 0-1 0 0-6.7-1 0 0 0.3-1 0 0 0-1 0 0-5.8-1 0 0-4.2-1 0 0 12.7-1 0 0 0-1 0 0-1.8-1 0 0-11-1 0 0-0.1-1 0 0-0.7-1 0 0 3.9-1 0 0 0-1 0 0 1.3-1 0 0 0-1 0 0 3.5-1 0 0 0-1 0 0-4.9-1 0 0-1.2-1 0 0 9.8-1 0 0 0-1 0 0 1.2-1 0 0 0-1 0 0-3.3-1 0 0 0-1 0 0-1.3-1 0 0-6.3-1 0 0 2.1-1 0 0 2.5-1 0 0 0-1 0 0 7.3-1 0 0 24.2-1 0 0 0-1 0 0-33.3-1 0 0 6.1-1 0 0 11.6-1 0 0 0-1 0 0-4.9-1 0 0-5.1-1 0 0-8.4-1 0 0 0.3-1 0 0 22.2-1 0 0 12-1 0 0 11.5-1 0 0 0-1 0 0-32.1-1 0 0-4.3-1 0 0 0-1 0 0-3.1-1 0 0 0-1 0 0 19.2-1 0 0 0-1 0 0-21.2-1 0 0 0-1 0 0 8-1 0 0 0-1 0 0-0.8-1 0 0 1.5-1 0 0 1.9-1 0 0 0-1 0 0 3.6-1 0 0 7.9-1 0 0 0-1 0 0 0-1 0 0-7.8-1 0 0 20.7-1 0 0 0-1 0 0-18.3-1 0 0 21.4-1 0 0 0-1 0 0-16.1-1 0 0 0-1 0 0-13.9-1 0 0 53.4-1 0 0 0-1 0 0-34.9-1 0 0-14.9-1 0 0 42.7-1 0 0 0-1 0 0-24.9-1 0 0-15.8-1 0 0-1.7-1 0 0 38.2-1 0 0 26.1-1 0 0 0-1 0 0 0-1 0 0-22-1 0 0-14.5-1 0 0-21.7-1 0 0 0-1 0 0-8.5-1 0 0 4-1 0 0 0-1 0 0-11.6-1 0 0 3-1 0 0 0-1 0 0 70.5-1 0 0 0-1 0 0-42.8-1 0 0-19.9-1 0 0-6.8-1 0 0 0-1 0 0-5.4-1 0 0 0-1 0 0 4.3-1 0 0 0-1 0 0 14.5-1 0 0 0-1 0 0-13.9-1 0 0 0-1 0 0 8.9-1 0 0 3.6-1 0 0 4.4-1 0 0 2.5-1 0 0 0-1 0 0-21-1 0 0-2.7-1 0 0-1.7-1 0 0 6.5-1 0 0 0.8-1 0 0 39.5-1 0 0 0-1 0 0 30-1 0 0 0-1 0 0-2.3-1 0 0-48.9-1 0 0-21.1-1 0 0 2.4-1 0 0 68.1-1 0 0 0-1 0 0-44-1 0 0 9.5-1 0 0 0-1 0 0-23.9-1 0 0 0-1 0 0-10.6-1 0 0-1.7-1 0 0 8-1 0 0 0-1 0 0-0.5-1 0 0-3.1-1 0 0 0-1 0 0-4.4-1 0 0 7.7-1 0 0 2.4-1 0 0 15.1-1 0 0 0-1 0 0-11.5-1 0 0-5.9-1 0 0-0.4-1 0 0 0-1 0 0-12.4-1 0 0 3.6-1 0 0 0-1 0 0-4.6-1 0 0 5.4-1 0 0 7.9-1 0 0 0-1 0 0 24.3-1 0 0 7.4-1 0 0 0-1 0 0-23.1-1 0 0-6.9-1 0 0 0-1 0 0-8.4-1 0 0-4.8-1 0 0 6.1-1 0 0 0-1 0 0 1.9-1 0 0 6.6-1 0 0 0-1 0 0-11.3-1 0 0 6.9-1 0 0 0-1 0 0-9-1 0 0 6.9-1 0 0 0-1 0 0-5.6-1 0 0 9.8-1 0 0 3.3-1 0 0 0-1 0 0 1.7-1 0 0 0-1 0 0-12.9-1 0 0 0-1 0 0 16.9-1 0 0 0-1 0 0 0.8-1 0 0 0-1 0 0-13.7-1 0 0-2.8-1 0 0 0-1 0 0-6.1-1 0 0 0.5-1 0 0 0-1 0 0-8.6-1 0 0 5.1-1 0 0 0.9-1 0 0 0-1 0 0 4.3-1 0 0 0-1 0 0-4.4-1 0 0-0.9-1 0 0-4.6-1 0 0 11.7-1 0 0 1.3-1 0 0 0-1 0 0-3.9-1 0 0-1.8-1 0 0 3.3-1 0 0 0-1 0 0-2.1-1 0 0 36.5-1 0 0 0-1 0 0-23.6-1 0 0 0-1 0 0-5.3-1 0 0 0-1 0 0-6.5-1 0 0 1.4-1 0 0 0-1 0 0-0.3-1 0 0-6.9-1 0 0 0-1 0 0 3.1-1 0 0 0-1 0 0-7.8-1 0 0 8.8-1 0 0 0-1 0 0-9.1-1 0 0 1.8-1 0 0 1-1 0 0 6.4-1 0 0 0-1 0 0-6.5-1 0 0 15.4-1 0 0 0-1 0 0-15-1 0 0 10.6-1 0 0 0-1 0 0-5.3-1 0 0-5.8-1 0 0 0-1 0 0-2.5-1 0 0 1.7-1 0 0 0-1 0 0 2.5-1 0 0 0-1 0 0 0.5-1 0 0 0-1 0 0-1.9-1 0 0 6.4-1 0 0 0-1 0 0-8.8-1 0 0 2.5-1 0 0 2-1 0 0 0-1 0 0 2.3-1 0 0 0-1 0 0 0-1 0 0-5.8-1 0 0 1.1-1 0 0 3.1-1 0 0 0-1 0 0-0.9-1 0 0 2.1-1 0 0 0-1 0 0-3.8-1 0 0 0-1 0 0 4.1-1 0 0 0-1 0 0-2-1 0 0 0-1 0 0-0.9-1 0 0 7.8-1 0 0 0-1 0 0-2.3-1 0 0 0.5-1 0 0 0-1 0 0-5.7-1 0 0 0-1 0 0-2.4-1 0 0-2.8-1 0 0 4.3-1 0 0 0.7-1 0 0 1.6-1 0 0 0-1 0 0-6-1 0 0 0.5-1 0 0 4.8-1 0 0 7.3-1 0 0 0-1 0 0-1-1 0 0-7-1 0 0 0-1 0 0-2.8-1 0 0 1.4-1 0 0 0-1 0 0 0.9-1 0 0 0-1 0 0 6-1 0 0 0-1 0 0-2.3-1 0 0 2.9-1 0 0 0-1 0 0-7.8-1 0 0 0-1 0 0 0.8-1 0 0 0-1 0 0-2.6-1 0 0 8.4-1 0 0 0-1 0 0-0.9-1 0 0 0-1 0 0-4.7-1 0 0 9.8-1 0 0 0-1 0 0-9-1 0 0 0-1 0 0 7.5-1 0 0 0-1 0 0-10-1 0 0 0-1 0 0-2.6-1 0 0 5.3-1 0 0 0-1 0 0-0.8-1 0 0-3.8-1 0 0 1.6-1 0 0 10.2-1 0 0 0-1 0 0-3.7-1 0 0 0-1 0 0-4.9-1 0 0-1.2-1 0 0 0-1 0 0 0.6-1 0 0 1.4-1 0 0 4.1-1 0 0 0-1 0 0-3.2-1 0 0-1.8-1 0 0 0-1 0 0-2.4-1 0 0 3.2-1 0 0 0-1 0 0 0.2-1 0 0 0-1 0 0-2.3-1 0 0 0-1 0 0-1.6-1 0 0 0-1 0 0 1-1 0 0 0.6-1 0 0 3.6-1 0 0 8.1-1 0 0 0-1 0 0-11-1 0 0 2.6-1 0 0 0.8-1 0 0 0.1-1 0 0 0-1 0 0-5.4-1 0 0 6.7-1 0 0 7.4-1 0 0 0-1 0 0-6.5-1 0 0 0-1 0 0 0.3-1 0 0 0-1 0 0-0.2-1 0 0-3.9-1 0 0-3.5-1 0 0 9-1 0 0 4-1 0 0 5.4-1 0 0 1.6-1 0 0 0-1 0 0 2.8-1 0 0 10-1 0 0 0-1 0 0-0.3-1 0 0 0-1 0 0-15.7-1 0 0-13-1 0 0 2.1-1 0 0 0-1 0 0 11.5-1 0 0 0-1 0 0-1.6-1 0 0 0-1 0 0 8.3-1 0 0 0-1 0 0-1.9-1 0 0 0-1 0 0 2.2-1 0 0 0-1 0 0-12.8-1 0 0-1-1 0 0 25.7-1 0 0 0-1 0 0-17.3-1 0 0-8.1-1 0 0-11.7-1 0 0-2.6-1 0 0 5.5-1 0 0 4-1 0 0 0-1 0 0 6-1 0 0 0-1 0 0-6.9-1 0 0-1.7-1 0 0 0-1 0 0-5.1-1 0 0 11-1 0 0 0-1 0 0 0-1 0 0-2.6-1 0 0-4.3-1 0 0 1.3-1 0 0 0-1 0 0-3.9-1 0 0 0.9-1 0 0 0-1 0 0-1-1 0 0 0-1 0 0 5.7-1 0 0 0-1 0 0-4-1 0 0 3.2-1 0 0 0-1 0 0-1.1-1 0 0 0-1 0 0-0.4-1 0 0 0-1 0 0-3.1-1 0 0 8.6-1 0 0 0-1 0 0-5.8-1 0 0 0-1 0 0 4.9-1 0 0 0-1 0 0-0.1-1 0 0 0-1 0 0-7.5-1 0 0 0-1 0 0 1.7-1 0 0 0-1 0 0-3.2-1 0 0 5.1-1 0 0 0-1 0 0 0.4-1 0 0 0-1 0 0-5.1-1 0 0 8.3-1 0 0 0-1 0 0-1.1-1 0 0 0-1 0 0-5.3-1 0 0 0.1-1 0 0 0-1 0 0-0.2-1 0 0 0.5-1 0 0 0-1 0 0-2.5-1 0 0 0.1-1 0 0 5.4-1 0 0 1.1-1 0 0 0-1 0 0-7.2-1 0 0 8.4-1 0 0 0-1 0 0-8.9-1 0 0 4.9-1 0 0 0-1 0 0-1.3-1 0 0 0.6-1 0 0 0-1 0 0 1.9-1 0 0 0-1 0 0-0.2-1 0 0 1.6-1 0 0 0.2-1 0 0 0-1 0 0-0.6-1 0 0 0-1 0 0-1.6-1 0 0 0-1 0 0-0.1-1 0 0-1.6-1 0 0 6.3-1 0 0 0-1 0 0-9.8-1 0 0 2.5-1 0 0 0-1 0 0-3.7-1 0 0 5.7-1 0 0 0-1 0 0 8.9-1 0 0 0-1 0 0-9.4-1 0 0 0-1 0 0 9.3-1 0 0 0-1 0 0-5.1-1 0 0-5.3-1 0 0-1.4-1 0 0 1.6-1 0 0 0-1 0 0 0-1 0 0 0-1 0 0 3.3-1 0 0 0-1 0 0 1.4-1 0 0 0-1 0 0-5.1-1 0 0 1.6-1 0 0 1.1-1 0 0 0-1 0 0-4.8-1 0 0 9.6-1 0 0 0.7-1 0 0 0-1 0 0-1.4-1 0 0 0-1 0 0-1.2-1 0 0 0-1 0 0-9.4-1 0 0 5.4-1 0 0 0-1 0 0-1.2-1 0 0 6.2-1 0 0 0-1 0 0-5.4-1 0 0 2.4-1 0 0 0-1 0 0-4.5-1 0 0 4.3-1 0 0 0-1 0 0-0.4-1 0 0 0-1 0 0 0.3-1 0 0 0.5-1 0 0 0-1 0 0-3-1 0 0 0-1 0 0-3-1 0 0 9.9-1 0 0 0-1 0 0 1.5-1 0 0 0-1 0 0 2-1 0 0 0-1 0 0-1.6-1 0 0 0-1 0 0-2.4-1 0 0 0-1 0 0-5.2-1 0 0-5.4-1 0 0 13.4-1 0 0 0-1 0 0-5.3-1 0 0 0-1 0 0 1-1 0 0 0-1 0 0-7.5-1 0 0-0.2-1 0 0 0.5-1 0 0 1.7-1 0 0 0-1 0 0-0.7-1 0 0-1-1 0 0 0.2-1 0 0 0.7-1 0 0 6.4-1 0 0 0-1 0 0-9.3-1 0 0 5.3-1 0 0 0-1 0 0 8.2-1 0 0 0-1 0 0-7-1 0 0-6.1-1 0 0 6.9-1 0 0 1.2-1 0 0 0-1 0 0 4.5-1 0 0 0-1 0 0-1.4-1 0 0-2.9-1 0 0 0.5-1 0 0 2.2-1 0 0 0-1 0 0-8.1-1 0 0 0-1 0 0 2.7-1 0 0 4.9-1 0 0 0-1 0 0 4.8-1 0 0 0-1 0 0-12.5-1 0 0-1.4-1 0 0 2.3-1 0 0 1-1 0 0 0.7-1 0 0 4.3-1 0 0 0-1 0 0-3.1-1 0 0 0.5-1 0 0 0-1 0 0-1.3-1 0 0 0-1 0 0-0.3-1 0 0-3.6-1 0 0 6.5-1 0 0 0-1 0 0-6.7-1 0 0-0.1-1 0 0-0.2-1 0 0 7.8-1 0 0 0-1 0 0-2.5-1 0 0 0-1 0 0-6.3-1 0 0-0.6-1 0 0 5.7-1 0 0 0-1 0 0-6.7-1 0 0 3-1 0 0 3.4-1 0 0 2.5-1 0 0 0-1 0 0-2.8-1 0 0 1.4-1 0 0 0-1 0 0-5.8-1 0 0 1.1-1 0 0 1.3-1 0 0 0.8-1 0 0 0-1 0 0-1.3-1 0 0 1.2-1 0 0 0.7-1 0 0 0-1 0 0 2.1-1 0 0 0-1 0 0-6-1 0 0 1.2-1 0 0 0-1 0 0 8.8-1 0 0 0-1 0 0-7.4-1 0 0 12.7-1 0 0 0-1 0 0-14-1 0 0 0-1 0 0-0.7-1 0 0 5.8-1 0 0 1.1-1 0 0 0-1 0 0-5.7-1 0 0 3.6-1 0 0 0-1 0 0-6-1 0 0 1.5-1 0 0 0-1 0 0-1.1-1 0 0 4.8-1 0 0 1.6-1 0 0 0-1 0 0-6.2-1 0 0 3.7-1 0 0 0-1 0 0-1.1-1 0 0-2.3-1 0 0 0.3-1 0 0 0-1 0 0-0.5-1 0 0 0-1 0 0 0.3-1 0 0 0-1 0 0 2.5-1 0 0 0-1 0 0 0.2-1 0 0 0-1 0 0 7-1 0 0 0-1 0 0-6.6-1 0 0 7.4-1 0 0 0-1 0 0-1.8-1 0 0 0-1 0 0-7.4-1 0 0 0-1 0 0 3.8-1 0 0 0-1 0 0-3.2-1 0 0 2.2-1 0 0 0-1 0 0-0.2-1 0 0 1.5-1 0 0 0-1 0 0 0-1 0 0 2.3-1 0 0 0-1 0 0-2.7-1 0 0-3-1 0 0-2.3-1 0 0 6.9-1 0 0 3.5-1 0 0 0-1 0 0-2.5-1 0 0-2.8-1 0 0 0-1 0 0 8.2-1 0 0 0-1 0 0-10.8-1 0 0 8.4-1 0 0 0-1 0 0-6.7-1 0 0 0.9-1 0 0 0-1 0 0 0.8-1 0 0 0-1 0 0-4.7-1 0 0-1.7-1 0 0 2.7-1 0 0 0-1 0 0-2.8-1 0 0-0.9-1 0 0 5.2-1 0 0 0-1 0 0-2.4-1 0 0 2.2-1 0 0 3.4-1 0 0 0-1 0 0-0.5-1 0 0 5.3-1 0 0 0-1 0 0-5.1-1 0 0-3.1-1 0 0-2.9-1 0z" fill="#3cb371" clip-path="url(#c8)"/>
<rect x="136.8" y="976.1" width="1694.4" height="201" fill="none" stroke="#000" stroke-width="1.3"/>
<line x1="136.8" y1="1177.1" x2="136.8" y2="1182.6" stroke="#000" stroke-width="1.3" />
<text x="136.8" y="1210.8" font-size="25" text-anchor="middle" >0</text>
<line x1="396.4" y1="1177.1" x2="396.4" y2="1182.6" stroke="#000" stroke-width="1.3" />
<text x="396.4" y="1210.8" font-size="25" text-anchor="middle" >20</text>
<line x1="656" y1="1177.1" x2="656" y2="1182.6" stroke="#000" stroke-width="1.3" />
<text x="656" y="1210.8" font-size="25" text-anchor="middle" >40</text>
<line x1="915.6" y1="1177.1" x2="915.6" y2="1182.6" stroke="#000" stroke-width="1.3" />
<text x="915.6" y="1210.8" font-size="25" text-anchor="middle" >60</text>
<line x1="1175.2" y1="1177.1" x2="1175.2" y2="1182.6" stroke="#000" stroke-width="1.3" />
<text x="1175.2" y="1210.8" font-size="25" text-anchor="middle" >80</text>
<line x1="1434.8" y1="1177.1" x2="1434.8" y2="1182.6" stroke="#000" stroke-width="1.3" />
<text x="1434.8" y="1210.8" font-size="25" text-anchor="middle" >100</text>
<line x1="1694.4" y1="1177.1" x2="1694.4" y2="1182.6" stroke="#000" stroke-width="1.3" />
<text x="1694.4" y="1210.8" font-size="25" text-anchor="middle" >120</text>
<line x1="130.8" y1="993" x2="136.8" y2="993" stroke="#000" stroke-width="1.3" />
<text x="118.5" y="1003.3" font-size="25" text-anchor="end" >10</text>
<line x1="130.8" y1="1076.6" x2="136.8" y2="1076.6" stroke="#000" stroke-width="1.3" />
<text x="118.5" y="1086.9" font-size="25" text-anchor="end" >0</text>
<line x1="130.8" y1="1160.2" x2="136.8" y2="1160.2" stroke="#000" stroke-width="1.3" />
<text x="118.5" y="1170" font-size="25" text-anchor="end" >−10</text>
<rect x="136.8" y="1235.5" width="1694.4" height="200.9" fill="none" stroke="#000" stroke-width="1.3"/>
<line x1="136.8" y1="1436.4" x2="136.8" y2="1441.9" stroke="#000" stroke-width="1.3" />
<text x="136.8" y="1466.8" font-size="25" text-anchor="middle" >0</text>
<line x1="396.4" y1="1436.4" x2="396.4" y2="1441.9" stroke="#000" stroke-width="1.3" />
<text x="396.4" y="1466.8" font-size="25" text-anchor="middle" >20</text>
<line x1="656" y1="1436.4" x2="656" y2="1441.9" stroke="#000" stroke-width="1.3" />
<text x="656" y="1466.8" font-size="25" text-anchor="middle" >40</text>
<line x1="915.6" y1="1436.4" x2="915.6" y2="1441.9" stroke="#000" stroke-width="1.3" />
<text x="915.6" y="1466.8" font-size="25" text-anchor="middle" >60</text>
<line x1="1175.2" y1="1436.4" x2="1175.2" y2="1441.9" stroke="#000" stroke-width="1.3" />
<text x="1175.2" y="1466.8" font-size="25" text-anchor="middle" >80</text>
<line x1="1434.8" y1="1436.4" x2="1434.8" y2="1441.9" stroke="#000" stroke-width="1.3" />
<text x="1434.8" y="1466.8" font-size="25" text-anchor="middle" >100</text>
<line x1="1694.4" y1="1436.4" x2="1694.4" y2="1441.9" stroke="#000" stroke-width="1.3" />
<text x="1694.4" y="1466.8" font-size="25" text-anchor="middle" >120</text>
<line x1="130.8" y1="1252.1" x2="136.8" y2="1252.1" stroke="#000" stroke-width="1.3" />
<text x="118.5" y="1262.4" font-size="25" text-anchor="end" >10</text>
<line x1="130.8" y1="1336" x2="136.8" y2="1336" stroke="#000" stroke-width="1.3" />
<text x="118.5" y="1346.3" font-size="25" text-anchor="end" >0</text>
<line x1="130.8" y1="1419.9" x2="136.8" y2="1419.9" stroke="#000" stroke-width="1.3" />
<text x="118.5" y="1429.8" font-size="25" text-anchor="end" >−10</text>
<rect x="136.8" y="1499.3" width="1694.4" height="200.6" fill="none" stroke="#000" stroke-width="1.3"/>
<line x1="136.8" y1="1699.9" x2="136.8" y2="1705.4" stroke="#000" stroke-width="1.3" />
<text x="136.8" y="1736.7" font-size="25" text-anchor="middle" >0</text>
<line x1="396.4" y1="1699.9" x2="396.4" y2="1705.4" stroke="#000" stroke-width="1.3" />
<text x="396.4" y="1736.7" font-size="25" text-anchor="middle" >20</text>
<line x1="656" y1="1699.9" x2="656" y2="1705.4" stroke="#000" stroke-width="1.3" />
<text x="656" y="1736.7" font-size="25" text-anchor="middle" >40</text>
<line x1="915.6" y1="1699.9" x2="915.6" y2="1705.4" stroke="#000" stroke-width="1.3" />
<text x="915.6" y="1736.7" font-size="25" text-anchor="middle" >60</text>
<line x1="1175.2" y1="1699.9" x2="1175.2" y2="1705.4" stroke="#000" stroke-width="1.3" />
<text x="1175.2" y="1736.7" font-size="25" text-anchor="middle" >80</text>
<line x1="1434.8" y1="1699.9" x2="1434.8" y2="1705.4" stroke="#000" stroke-width="1.3" />
<text x="1434.8" y="1736.7" font-size="25" text-anchor="middle" >100</text>
<line x1="1694.4" y1="1699.9" x2="1694.4" y2="1705.4" stroke="#000" stroke-width="1.3" />
<text x="1694.4" y="1736.7" font-size="25" text-anchor="middle" >120</text>
<line x1="130.8" y1="1499.1" x2="136.8" y2="1499.1" stroke="#000" stroke-width="1.3" />
<text x="118.5" y="1509.5" font-size="25" text-anchor="end" >10</text>
<line x1="130.8" y1="1599.4" x2="136.8" y2="1599.4" stroke="#000" stroke-width="1.3" />
<text x="118.5" y="1609.8" font-size="25" text-anchor="end" >0</text>
<line x1="130.8" y1="1699.7" x2="136.8" y2="1699.7" stroke="#000" stroke-width="1.3" />
<text x="131" y="1708.5" font-size="25" text-anchor="end" >−10</text>
<text transform="translate(36.8,1080) rotate(-90)" font-size="25" text-anchor="middle">Δ<tspan font-style="italic">x</tspan> [nm]</text>
<line x1="10.5" y1="1096.5" x2="10.5" y2="1120.3" stroke="#000" stroke-width="1.4" />
<text transform="translate(36.8,1346) rotate(-90)" font-size="25" text-anchor="middle">Δ<tspan font-style="italic">y</tspan> [nm]</text>
<line x1="10.5" y1="1362.4" x2="10.5" y2="1387" stroke="#000" stroke-width="1.4" />
<text transform="translate(36.8,1603) rotate(-90)" font-size="25" text-anchor="middle">Δ<tspan font-style="italic">z</tspan> [nm]</text>
<text x="983.6" y="1772.5" font-size="25" text-anchor="middle" >Time [min]</text>
<text x="0" y="985" font-size="38" text-anchor="start" font-weight="bold">b</text>
<path d="M221.4 2277V2276H235.3V2274H249.3V2270.2H263.3V2261.2H277.2V2241.1H291.2V2208H305.2V2155.1H319.2V2081.4H333.1V1992.2H347.1V1913.4H361.1V1856.8H375V1850.1H389V1891H403V1961.4H416.9V2047H430.9V2134.4H444.9V2192.7H458.9V2235H472.8V2256.5H486.8V2268.5H500.8V2273.6H514.7V2276H528.7V2277Z" fill="#93b5f2"/>
<path d="M249.3 2274V2277M263.3 2270.2V2277M277.2 2261.2V2277M291.2 2241.1V2277M305.2 2208V2277M319.2 2155.1V2277M333.1 2081.4V2277M347.1 1992.2V2277M361.1 1913.4V2277M375 1856.8V2277M389 1891V2277M403 1961.4V2277M416.9 2047V2277M430.9 2134.4V2277M444.9 2192.7V2277M458.9 2235V2277M472.8 2256.5V2277M486.8 2268.5V2277M500.8 2273.6V2277" stroke="#6495ed" stroke-opacity="0.18" stroke-width="1" fill="none"/>
<polyline points="174.4,2277 188.4,2277 202.4,2277 216.3,2276.8 230.3,2276.3 244.3,2274.9 258.2,2270.9 272.2,2261.7 286.2,2242.6 300.1,2207.8 314.1,2152.8 328.1,2077.9 342.1,1992 356,1912.7 370,1861.3 384,1853.4 397.9,1891.6 411.9,1963.9 425.9,2049.9 439.9,2130 453.8,2192 467.8,2233.1 481.8,2256.8 495.7,2268.7 509.7,2273.9 523.7,2276 537.6,2276.7 551.6,2276.9 565.6,2277 579.5,2277" fill="none" stroke="#808080" stroke-width="2.9" stroke-linejoin="round" />
<line x1="373.2" y1="1831.7" x2="373.2" y2="2277" stroke="#333" stroke-width="1.1" stroke-dasharray="2.8,1.4"/>
<line x1="377.4" y1="1831.7" x2="377.4" y2="2277" stroke="#666" stroke-width="0.9" />
<line x1="377.4" y1="2007.1" x2="410.8" y2="2007.1" stroke="#4a4a4a" stroke-width="1.5" />
<path d="M418.8 2007.1 l-9.5 -3.4 v6.8 z" fill="#4a4a4a"/>
<text x="427" y="2012.6" font-size="24.5"><tspan font-family="'Liberation Serif', serif" font-style="italic" font-size="27.5">σ</tspan><tspan font-size="18" dy="6.5">x</tspan><tspan dy="-6.5">= 0.77 nm</tspan></text>
<rect x="147.3" y="1831.7" width="460" height="445.3" fill="none" stroke="#333" stroke-width="1.3"/>
<line x1="162.4" y1="2277" x2="162.4" y2="2282" stroke="#000" stroke-width="1.2" />
<text x="162.4" y="2317" font-size="29" text-anchor="middle" >−4</text>
<line x1="270.1" y1="2277" x2="270.1" y2="2282" stroke="#000" stroke-width="1.2" />
<text x="270.1" y="2317" font-size="29" text-anchor="middle" >−2</text>
<line x1="377.8" y1="2277" x2="377.8" y2="2282" stroke="#000" stroke-width="1.2" />
<text x="377.8" y="2317" font-size="29" text-anchor="middle" >0</text>
<line x1="485.5" y1="2277" x2="485.5" y2="2282" stroke="#000" stroke-width="1.2" />
<text x="485.5" y="2317" font-size="29" text-anchor="middle" >2</text>
<line x1="593.2" y1="2277" x2="593.2" y2="2282" stroke="#000" stroke-width="1.2" />
<text x="593.2" y="2317" font-size="29" text-anchor="middle" >4</text>
<path d="M822.5 2277.2V2276.5H836.4V2275.5H850.4V2272.9H864.4V2265.6H878.3V2248.4H892.3V2220.8H906.2V2176.3H920.2V2110.4H934.1V2033.2H948.1V1955.2H962V1888.9H976V1849.9H990V1855.7H1003.9V1896.2H1017.9V1967.2H1031.8V2050.3H1045.8V2130.4H1059.7V2188.3H1073.7V2227H1087.6V2252.5H1101.6V2267.4H1115.5V2273.6H1129.5V2276H1143.5V2277.2Z" fill="#dc8d8d"/>
<path d="M850.4 2275.5V2277.2M864.4 2272.9V2277.2M878.3 2265.6V2277.2M892.3 2248.4V2277.2M906.2 2220.8V2277.2M920.2 2176.3V2277.2M934.1 2110.4V2277.2M948.1 2033.2V2277.2M962 1955.2V2277.2M976 1888.9V2277.2M990 1855.7V2277.2M1003.9 1896.2V2277.2M1017.9 1967.2V2277.2M1031.8 2050.3V2277.2M1045.8 2130.4V2277.2M1059.7 2188.3V2277.2M1073.7 2227V2277.2M1087.6 2252.5V2277.2M1101.6 2267.4V2277.2M1115.5 2273.6V2277.2M1129.5 2276V2277.2" stroke="#cd5c5c" stroke-opacity="0.18" stroke-width="1" fill="none"/>
<polyline points="789.8,2277.2 803.8,2277.1 817.7,2277 831.7,2276.5 845.7,2275.2 859.6,2271.8 873.6,2264.2 887.5,2248.8 901.5,2221.1 915.4,2176.6 929.4,2113.8 943.3,2036.8 957.3,1956.7 971.2,1890.2 985.2,1853.9 999.2,1857.7 1013.1,1900.6 1027.1,1970.9 1041,2051.5 1055,2126.5 1068.9,2186.1 1082.9,2227.3 1096.8,2252.4 1110.8,2266.1 1124.8,2272.7 1138.7,2275.5 1152.7,2276.6 1166.6,2277 1180.6,2277.2 1194.5,2277.2" fill="none" stroke="#808080" stroke-width="2.9" stroke-linejoin="round" />
<line x1="990.1" y1="1831.7" x2="990.1" y2="2277.2" stroke="#333" stroke-width="1.1" stroke-dasharray="2.8,1.4"/>
<line x1="990.6" y1="2006.5" x2="1023.1" y2="2006.5" stroke="#4a4a4a" stroke-width="1.5" />
<path d="M1031.1 2006.5 l-9.5 -3.4 v6.8 z" fill="#4a4a4a"/>
<text x="1043.4" y="2012" font-size="24.5"><tspan font-family="'Liberation Serif', serif" font-style="italic" font-size="27.5">σ</tspan><tspan font-size="18" dy="6.5">y</tspan><tspan dy="-6.5">= 0.84 nm</tspan></text>
<rect x="761.2" y="1831.7" width="460.8" height="445.5" fill="none" stroke="#333" stroke-width="1.3"/>
<line x1="799.5" y1="2277.2" x2="799.5" y2="2282.2" stroke="#000" stroke-width="1.2" />
<text x="799.5" y="2317.2" font-size="29" text-anchor="middle" >−4</text>
<line x1="905.1" y1="2277.2" x2="905.1" y2="2282.2" stroke="#000" stroke-width="1.2" />
<text x="905.1" y="2317.2" font-size="29" text-anchor="middle" >−2</text>
<line x1="1010.7" y1="2277.2" x2="1010.7" y2="2282.2" stroke="#000" stroke-width="1.2" />
<text x="1010.7" y="2317.2" font-size="29" text-anchor="middle" >0</text>
<line x1="1116.3" y1="2277.2" x2="1116.3" y2="2282.2" stroke="#000" stroke-width="1.2" />
<text x="1116.3" y="2317.2" font-size="29" text-anchor="middle" >2</text>
<line x1="1221.9" y1="2277.2" x2="1221.9" y2="2282.2" stroke="#000" stroke-width="1.2" />
<text x="1221.9" y="2317.2" font-size="29" text-anchor="middle" >4</text>
<path d="M1382.5 2276.5V2276H1396.4V2275.4H1410.3V2274.3H1424.3V2273.6H1438.2V2272.1H1452.1V2270.7H1466.1V2267.4H1480V2261.9H1493.9V2252.8H1507.8V2237.2H1521.8V2208H1535.7V2159.9H1549.6V2087.1H1563.6V1989.4H1577.5V1901.3H1591.4V1849.9H1605.4V1856.5H1619.3V1912.6H1633.2V1997.1H1647.1V2084.9H1661.1V2159.9H1675V2208H1688.9V2236.4H1702.9V2253.2H1716.8V2261.9H1730.7V2268.9H1744.7V2270.3H1758.6V2272.1H1772.5V2273.6H1786.4V2274.3H1800.4V2275H1814.3V2276.5Z" fill="#77caa0"/>
<path d="M1410.3 2275.4V2276.5M1424.3 2274.3V2276.5M1438.2 2273.6V2276.5M1452.1 2272.1V2276.5M1466 2270.7V2276.5M1480 2267.4V2276.5M1493.9 2261.9V2276.5M1507.8 2252.8V2276.5M1521.8 2237.2V2276.5M1535.7 2208V2276.5M1549.6 2159.9V2276.5M1563.6 2087.1V2276.5M1577.5 1989.4V2276.5M1591.4 1901.3V2276.5M1605.3 1856.5V2276.5M1619.3 1912.6V2276.5M1633.2 1997.1V2276.5M1647.1 2084.9V2276.5M1661.1 2159.9V2276.5M1675 2208V2276.5M1688.9 2236.4V2276.5M1702.9 2253.2V2276.5M1716.8 2261.9V2276.5M1730.7 2268.9V2276.5M1744.7 2270.3V2276.5M1758.6 2272.1V2276.5M1772.5 2273.6V2276.5M1786.4 2274.3V2276.5M1800.4 2275V2276.5" stroke="#3cb371" stroke-opacity="0.18" stroke-width="1" fill="none"/>
<polyline points="1404.7,2276.5 1418.6,2276.5 1432.5,2276.5 1446.5,2276.4 1460.4,2276 1474.3,2274.8 1488.3,2271.4 1502.2,2262.9 1516.1,2244.5 1530,2209.7 1544,2153.4 1557.9,2075.8 1571.8,1987.4 1585.8,1908.2 1599.7,1861.6 1613.6,1863.3 1627.6,1912.7 1641.5,1993.2 1655.4,2081.5 1669.4,2157.8 1683.3,2212.6 1697.2,2246.1 1711.1,2263.7 1725.1,2271.7 1739,2274.9 1752.9,2276 1766.9,2276.4 1780.8,2276.5 1794.7,2276.5" fill="none" stroke="#808080" stroke-width="2.9" stroke-linejoin="round" />
<line x1="1605.4" y1="1831.7" x2="1605.4" y2="2276.5" stroke="#333" stroke-width="1.1" stroke-dasharray="2.8,1.4"/>
<line x1="1605.9" y1="2005.9" x2="1633.1" y2="2005.9" stroke="#4a4a4a" stroke-width="1.5" />
<path d="M1641.1 2005.9 l-9.5 -3.4 v6.8 z" fill="#4a4a4a"/>
<text x="1661.5" y="2011.4" font-size="24.5"><tspan font-family="'Liberation Serif', serif" font-style="italic" font-size="27.5">σ</tspan><tspan font-size="18" dy="6.5">z</tspan><tspan dy="-6.5">= 0.76 nm</tspan></text>
<rect x="1376.4" y="1831.7" width="460.1" height="444.8" fill="none" stroke="#333" stroke-width="1.3"/>
<line x1="1419.3" y1="2276.5" x2="1419.3" y2="2281.5" stroke="#000" stroke-width="1.2" />
<text x="1419.3" y="2316.5" font-size="29" text-anchor="middle" >−4</text>
<line x1="1523.9" y1="2276.5" x2="1523.9" y2="2281.5" stroke="#000" stroke-width="1.2" />
<text x="1523.9" y="2316.5" font-size="29" text-anchor="middle" >−2</text>
<line x1="1628.5" y1="2276.5" x2="1628.5" y2="2281.5" stroke="#000" stroke-width="1.2" />
<text x="1628.5" y="2316.5" font-size="29" text-anchor="middle" >0</text>
<line x1="1733.1" y1="2276.5" x2="1733.1" y2="2281.5" stroke="#000" stroke-width="1.2" />
<text x="1733.1" y="2316.5" font-size="29" text-anchor="middle" >2</text>
<line x1="1837.7" y1="2276.5" x2="1837.7" y2="2281.5" stroke="#000" stroke-width="1.2" />
<text x="1837.7" y="2316.5" font-size="29" text-anchor="middle" >4</text>
<line x1="142.3" y1="2277" x2="147.3" y2="2277" stroke="#000" stroke-width="1.2" />
<text x="137" y="2287.3" font-size="29" text-anchor="end" >0</text>
<line x1="142.3" y1="2224.8" x2="147.3" y2="2224.8" stroke="#000" stroke-width="1.2" />
<text x="137" y="2235.1" font-size="29" text-anchor="end" >250</text>
<line x1="142.3" y1="2172.6" x2="147.3" y2="2172.6" stroke="#000" stroke-width="1.2" />
<text x="137" y="2182.9" font-size="29" text-anchor="end" >5000</text>
<line x1="142.3" y1="2120.4" x2="147.3" y2="2120.4" stroke="#000" stroke-width="1.2" />
<text x="137" y="2130.7" font-size="29" text-anchor="end" >7500</text>
<line x1="142.3" y1="2068.2" x2="147.3" y2="2068.2" stroke="#000" stroke-width="1.2" />
<text x="137" y="2078.5" font-size="29" text-anchor="end" >10,000</text>
<line x1="142.3" y1="2016" x2="147.3" y2="2016" stroke="#000" stroke-width="1.2" />
<text x="137" y="2026.3" font-size="29" text-anchor="end" >12,500</text>
<line x1="142.3" y1="1963.8" x2="147.3" y2="1963.8" stroke="#000" stroke-width="1.2" />
<text x="137" y="1974.1" font-size="29" text-anchor="end" >15,000</text>
<line x1="142.3" y1="1911.6" x2="147.3" y2="1911.6" stroke="#000" stroke-width="1.2" />
<text x="137" y="1921.9" font-size="29" text-anchor="end" >17,500</text>
<line x1="142.3" y1="1859.4" x2="147.3" y2="1859.4" stroke="#000" stroke-width="1.2" />
<text x="137" y="1869.7" font-size="29" text-anchor="end" >20,000</text>
<line x1="756.2" y1="2277.2" x2="761.2" y2="2277.2" stroke="#000" stroke-width="1.2" />
<text x="746.5" y="2287.5" font-size="29" text-anchor="end" >0</text>
<line x1="756.2" y1="2220.9" x2="761.2" y2="2220.9" stroke="#000" stroke-width="1.2" />
<text x="746.5" y="2231.2" font-size="29" text-anchor="end" >2500</text>
<line x1="756.2" y1="2164.6" x2="761.2" y2="2164.6" stroke="#000" stroke-width="1.2" />
<text x="746.5" y="2174.9" font-size="29" text-anchor="end" >5000</text>
<line x1="756.2" y1="2108.3" x2="761.2" y2="2108.3" stroke="#000" stroke-width="1.2" />
<text x="746.5" y="2118.6" font-size="29" text-anchor="end" >7500</text>
<line x1="756.2" y1="2052" x2="761.2" y2="2052" stroke="#000" stroke-width="1.2" />
<text x="746.5" y="2062.3" font-size="29" text-anchor="end" >10,000</text>
<line x1="756.2" y1="1995.7" x2="761.2" y2="1995.7" stroke="#000" stroke-width="1.2" />
<text x="746.5" y="2006" font-size="29" text-anchor="end" >12,500</text>
<line x1="756.2" y1="1939.4" x2="761.2" y2="1939.4" stroke="#000" stroke-width="1.2" />
<text x="746.5" y="1949.7" font-size="29" text-anchor="end" >15,000</text>
<line x1="756.2" y1="1883.1" x2="761.2" y2="1883.1" stroke="#000" stroke-width="1.2" />
<text x="746.5" y="1893.4" font-size="29" text-anchor="end" >17,500</text>
<line x1="1371.4" y1="2276.5" x2="1376.4" y2="2276.5" stroke="#000" stroke-width="1.2" />
<text x="1360" y="2286.8" font-size="29" text-anchor="end" >0</text>
<line x1="1371.4" y1="2224.8" x2="1376.4" y2="2224.8" stroke="#000" stroke-width="1.2" />
<text x="1360" y="2234.4" font-size="29" text-anchor="end" >2500</text>
<line x1="1371.4" y1="2173.1" x2="1376.4" y2="2173.1" stroke="#000" stroke-width="1.2" />
<text x="1360" y="2181.6" font-size="29" text-anchor="end" >5000</text>
<line x1="1371.4" y1="2121.4" x2="1376.4" y2="2121.4" stroke="#000" stroke-width="1.2" />
<text x="1360" y="2128.8" font-size="29" text-anchor="end" >7500</text>
<line x1="1371.4" y1="2069.7" x2="1376.4" y2="2069.7" stroke="#000" stroke-width="1.2" />
<text x="1360" y="2074.2" font-size="29" text-anchor="end" >10,000</text>
<line x1="1371.4" y1="2018" x2="1376.4" y2="2018" stroke="#000" stroke-width="1.2" />
<text x="1360" y="2021.4" font-size="29" text-anchor="end" >12,500</text>
<line x1="1371.4" y1="1966.3" x2="1376.4" y2="1966.3" stroke="#000" stroke-width="1.2" />
<text x="1360" y="1968.6" font-size="29" text-anchor="end" >15,000</text>
<line x1="1371.4" y1="1914.6" x2="1376.4" y2="1914.6" stroke="#000" stroke-width="1.2" />
<text x="1360" y="1913.9" font-size="29" text-anchor="end" >17,500</text>
<line x1="1371.4" y1="1862.9" x2="1376.4" y2="1862.9" stroke="#000" stroke-width="1.2" />
<text x="1360" y="1875" font-size="29" text-anchor="end" >20,000</text>
<text transform="translate(25,2055) rotate(-90)" font-size="29" text-anchor="middle" >Counts</text>
<text transform="translate(641.5,2055) rotate(-90)" font-size="29" text-anchor="middle" >Counts</text>
<text transform="translate(1255,2055) rotate(-90)" font-size="29" text-anchor="middle" >Counts</text>
<text x="373.4" y="2364" font-size="29" text-anchor="middle" >Δ<tspan font-style="italic">x</tspan> [nm]</text>
<line x1="327.9" y1="2337.5" x2="352.6" y2="2337.5" stroke="#000" stroke-width="1.4" />
<text x="1004.3" y="2364" font-size="29" text-anchor="middle" >Δ<tspan font-style="italic">y</tspan> [nm]</text>
<line x1="957.9" y1="2337.5" x2="983.4" y2="2337.5" stroke="#000" stroke-width="1.4" />
<text x="1615.3" y="2364" font-size="29" text-anchor="middle" >Δ<tspan font-style="italic">z</tspan> [nm]</text>
<text x="0" y="1841.8" font-size="38" text-anchor="start" font-weight="bold">c</text></svg></body></html>
